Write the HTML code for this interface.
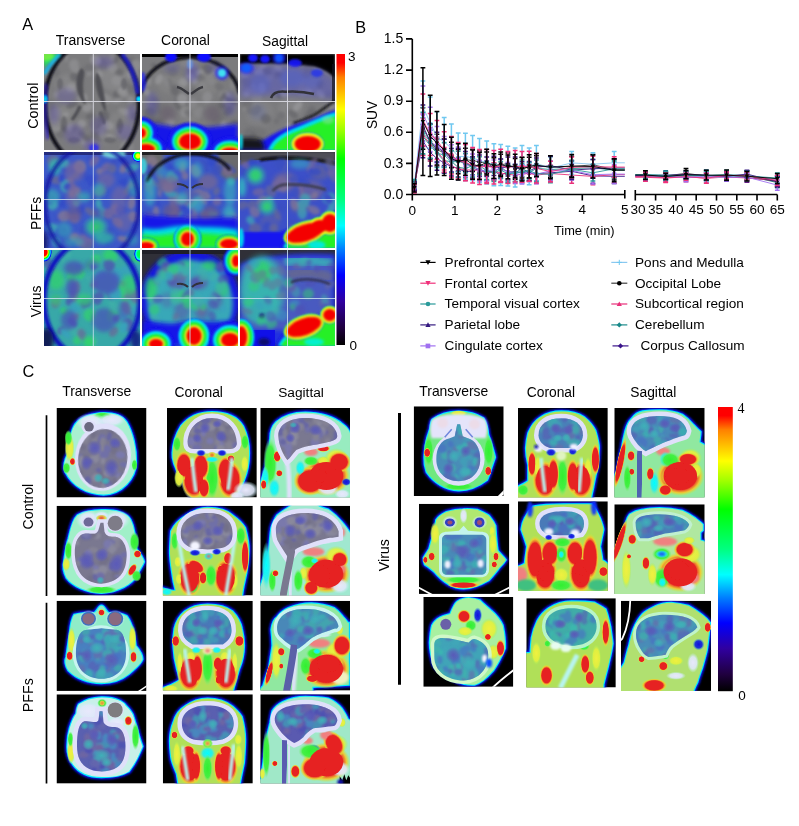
<!DOCTYPE html>
<html><head><meta charset="utf-8"><title>Figure</title>
<style>
html,body{margin:0;padding:0;background:#fff;}
body{width:799px;height:826px;overflow:hidden;}
svg{display:block;}
svg text{font-family:"Liberation Sans", Arial, sans-serif;fill:#000;}
</style></head><body>
<svg width="799" height="826" viewBox="0 0 799 826">
<defs>
<linearGradient id="cb" x1="0" y1="0" x2="0" y2="1"><stop offset="0.000" stop-color="#ff0000"/><stop offset="0.030" stop-color="#ff0000"/><stop offset="0.080" stop-color="#ff8000"/><stop offset="0.190" stop-color="#ffff00"/><stop offset="0.260" stop-color="#a0ff00"/><stop offset="0.360" stop-color="#00ff00"/><stop offset="0.500" stop-color="#00ff80"/><stop offset="0.590" stop-color="#00ffff"/><stop offset="0.670" stop-color="#0080ff"/><stop offset="0.760" stop-color="#0000ff"/><stop offset="0.850" stop-color="#3000a0"/><stop offset="0.940" stop-color="#200040"/><stop offset="1.000" stop-color="#000000"/></linearGradient>
<radialGradient id="jh"><stop offset="0" stop-color="#ff0000" stop-opacity="1"/><stop offset="0.38" stop-color="#ff0000" stop-opacity="1"/><stop offset="0.52" stop-color="#ffff00" stop-opacity="1"/><stop offset="0.64" stop-color="#00ff00" stop-opacity="1"/><stop offset="0.77" stop-color="#00ffff" stop-opacity="1"/><stop offset="0.9" stop-color="#0000ff" stop-opacity="1"/><stop offset="1" stop-color="#0000ff" stop-opacity="0"/></radialGradient>
<radialGradient id="jh2"><stop offset="0" stop-color="#ff0000" stop-opacity="1"/><stop offset="0.55" stop-color="#ff0000" stop-opacity="1"/><stop offset="0.68" stop-color="#ffff00" stop-opacity="1"/><stop offset="0.8" stop-color="#00ff00" stop-opacity="1"/><stop offset="0.9" stop-color="#00ffff" stop-opacity="0.8"/><stop offset="1" stop-color="#00ffff" stop-opacity="0"/></radialGradient>
<radialGradient id="jy"><stop offset="0" stop-color="#ffff00" stop-opacity="1"/><stop offset="0.3" stop-color="#ffff00" stop-opacity="1"/><stop offset="0.55" stop-color="#00ff00" stop-opacity="1"/><stop offset="0.75" stop-color="#00ffff" stop-opacity="1"/><stop offset="0.9" stop-color="#0000ff" stop-opacity="1"/><stop offset="1" stop-color="#0000ff" stop-opacity="0"/></radialGradient>
<radialGradient id="jg"><stop offset="0" stop-color="#00ff40" stop-opacity="1"/><stop offset="0.45" stop-color="#00ff60" stop-opacity="1"/><stop offset="0.7" stop-color="#00ffff" stop-opacity="1"/><stop offset="0.88" stop-color="#0000ff" stop-opacity="1"/><stop offset="1" stop-color="#0000ff" stop-opacity="0"/></radialGradient>
<radialGradient id="jg2"><stop offset="0" stop-color="#30d060" stop-opacity="0.9"/><stop offset="0.5" stop-color="#30c090" stop-opacity="0.8"/><stop offset="1" stop-color="#30b0b0" stop-opacity="0"/></radialGradient>
<radialGradient id="jc"><stop offset="0" stop-color="#00ffff" stop-opacity="1"/><stop offset="0.5" stop-color="#00c0ff" stop-opacity="0.9"/><stop offset="1" stop-color="#0040ff" stop-opacity="0"/></radialGradient>
<radialGradient id="jb"><stop offset="0" stop-color="#0000ff" stop-opacity="1"/><stop offset="0.6" stop-color="#0000ff" stop-opacity="0.8"/><stop offset="1" stop-color="#0000ff" stop-opacity="0"/></radialGradient>
<radialGradient id="jr"><stop offset="0" stop-color="#ff0000" stop-opacity="1"/><stop offset="0.6" stop-color="#ff0000" stop-opacity="1"/><stop offset="1" stop-color="#ff0000" stop-opacity="0"/></radialGradient>
<radialGradient id="jrs"><stop offset="0" stop-color="#e82020" stop-opacity="1"/><stop offset="0.55" stop-color="#e02020" stop-opacity="1"/><stop offset="0.8" stop-color="#f08030" stop-opacity="0.8"/><stop offset="1" stop-color="#f0c040" stop-opacity="0"/></radialGradient>
<filter id="b0_5" x="-30%" y="-30%" width="160%" height="160%"><feGaussianBlur stdDeviation="0.5"/></filter>
<filter id="b0_6" x="-30%" y="-30%" width="160%" height="160%"><feGaussianBlur stdDeviation="0.6"/></filter>
<filter id="b0_8" x="-30%" y="-30%" width="160%" height="160%"><feGaussianBlur stdDeviation="0.8"/></filter>
<filter id="b1" x="-30%" y="-30%" width="160%" height="160%"><feGaussianBlur stdDeviation="1"/></filter>
<filter id="b1_2" x="-30%" y="-30%" width="160%" height="160%"><feGaussianBlur stdDeviation="1.2"/></filter>
<filter id="b1_5" x="-30%" y="-30%" width="160%" height="160%"><feGaussianBlur stdDeviation="1.5"/></filter>
<filter id="b2" x="-30%" y="-30%" width="160%" height="160%"><feGaussianBlur stdDeviation="2"/></filter>
<filter id="b2_5" x="-30%" y="-30%" width="160%" height="160%"><feGaussianBlur stdDeviation="2.5"/></filter>
<filter id="b3" x="-30%" y="-30%" width="160%" height="160%"><feGaussianBlur stdDeviation="3"/></filter>
<filter id="b4" x="-30%" y="-30%" width="160%" height="160%"><feGaussianBlur stdDeviation="4"/></filter>
<clipPath id="c1"><rect x="0" y="0" width="96" height="96"/></clipPath>
<clipPath id="c2"><rect x="0" y="0" width="96" height="96"/></clipPath>
<clipPath id="c3"><rect x="0" y="0" width="95" height="96"/></clipPath>
<clipPath id="c4"><rect x="0" y="0" width="96" height="96"/></clipPath>
<clipPath id="c5"><rect x="0" y="0" width="96" height="96"/></clipPath>
<clipPath id="c6"><rect x="0" y="0" width="95" height="96"/></clipPath>
<clipPath id="c7"><rect x="0" y="0" width="96" height="96"/></clipPath>
<clipPath id="c8"><rect x="0" y="0" width="96" height="96"/></clipPath>
<clipPath id="c9"><rect x="0" y="0" width="95" height="96"/></clipPath>
<radialGradient id="gRY"><stop offset="0" stop-color="#e41c1c"/><stop offset="0.66" stop-color="#e82424"/><stop offset="0.84" stop-color="#f0c830" stop-opacity="0.95"/><stop offset="1" stop-color="#c0f040" stop-opacity="0"/></radialGradient>
<radialGradient id="gG"><stop offset="0" stop-color="#30f030"/><stop offset="0.66" stop-color="#40f040" stop-opacity="0.95"/><stop offset="1" stop-color="#80f080" stop-opacity="0"/></radialGradient>
<radialGradient id="gY"><stop offset="0" stop-color="#f0f040"/><stop offset="0.66" stop-color="#e0f040" stop-opacity="0.95"/><stop offset="1" stop-color="#a0f060" stop-opacity="0"/></radialGradient>
<radialGradient id="gL"><stop offset="0" stop-color="#e8e8fc"/><stop offset="0.6" stop-color="#e0e8fa" stop-opacity="0.9"/><stop offset="1" stop-color="#c0f0f0" stop-opacity="0"/></radialGradient>
<radialGradient id="gC"><stop offset="0" stop-color="#00ffff"/><stop offset="0.6" stop-color="#20f0f0" stop-opacity="0.9"/><stop offset="1" stop-color="#60f0c0" stop-opacity="0"/></radialGradient>
<radialGradient id="gB"><stop offset="0" stop-color="#1010e0"/><stop offset="0.6" stop-color="#1020e0" stop-opacity="0.9"/><stop offset="1" stop-color="#20a0f0" stop-opacity="0"/></radialGradient>
<radialGradient id="gP"><stop offset="0" stop-color="#5a5ab8"/><stop offset="0.5" stop-color="#5a5ab8" stop-opacity="0.7"/><stop offset="1" stop-color="#5a5ab8" stop-opacity="0"/></radialGradient>
<radialGradient id="gT"><stop offset="0" stop-color="#40b0b8"/><stop offset="0.5" stop-color="#40b0b8" stop-opacity="0.7"/><stop offset="1" stop-color="#40b0b8" stop-opacity="0"/></radialGradient>
<filter id="soft" x="-5%" y="-5%" width="110%" height="110%"><feGaussianBlur stdDeviation="0.7"/></filter>
<clipPath id="c10"><rect x="0" y="0" width="90" height="89.5"/></clipPath>
<clipPath id="bt1"><path d="M22.0 50.5A24.5 29.5 0 1 0 71.0 50.5A24.5 29.5 0 1 0 22.0 50.5Z"/></clipPath>
<clipPath id="c11"><rect x="0" y="0" width="89.8" height="89.5"/></clipPath>
<clipPath id="bt2"><path d="M20.8 36 C20 22 30 10 45 10 C60 10 70 22 69.8 36 C69 40 66 41 62 41 L28 41 C24 41 21 40 20.8 36Z"/></clipPath>
<clipPath id="c12"><rect x="0" y="0" width="89.7" height="89.5"/></clipPath>
<clipPath id="bt3"><path d="M18 28 C18 16 30 10 45 10 C62 10 76 16 77 28 C77 32 72 33 64 35 C54 37 44 38 36 42 C32 46 30 50 27 52 C23 46 19 40 18 28Z"/></clipPath>
<clipPath id="c13"><rect x="0" y="0" width="90" height="89.7"/></clipPath>
<clipPath id="bt4"><path d="M18.3 48 C18 36 22 28 29 27.7 C36 27.5 40 30 42 24 L44 17 L47 17 L48 26 C50 31 54 31 59 31 C66 32 70.5 40 70.1 50 C70 62 66 76 45 78 C24 77 19 62 18.3 48Z"/></clipPath>
<clipPath id="c14"><rect x="0" y="0" width="90" height="89.7"/></clipPath>
<clipPath id="bt5"><path d="M18 28 C18 14 30 7 44.8 7.2 C60 7 70 14 69.8 28 C69.6 36 66 40 60 42 C54 43 50 43.6 44.8 43.6 C38 43.6 30 43 26 41 C21 38 18 34 18 28Z"/></clipPath>
<clipPath id="c15"><rect x="0" y="0" width="89.7" height="89.7"/></clipPath>
<clipPath id="bt6"><path d="M15.6 24 C15 12 30 7.2 45.3 7.2 C60 7.2 74 12 78.3 25.4 L78.3 31 C74 32 70 32 68 32.2 C60 34 54 36 48.7 37.9 C42 40 36 42 33.9 44.8 C32 48 30 50 28 52 C24 46 20 40 17 34 C16 30 15.6 27 15.6 24Z"/></clipPath>
<clipPath id="c16"><rect x="0" y="0" width="90" height="90.1"/></clipPath>
<clipPath id="bt7"><path d="M19.4 53 C19.4 40 22 30 30 29 C36 28.5 40 28 45 27.5 C50 28 54 28.5 60 29 C67 30 69.5 40 69.5 53 C69.5 68 60 78 45 78 C30 78 19.4 68 19.4 53Z"/></clipPath>
<clipPath id="c17"><rect x="0" y="0" width="90" height="89.8"/></clipPath>
<clipPath id="bt8"><path d="M19.7 30 C19 16 30 9.5 44.8 9.5 C60 9.5 69 16 68.7 30 C68.5 36 66 40 60 43.6 L30 43.6 C23 40 20 36 19.7 30Z"/></clipPath>
<clipPath id="c18"><rect x="0" y="0" width="89.7" height="89.8"/></clipPath>
<clipPath id="bt9"><path d="M16.8 28.8 C16 14 30 8.3 45.3 8.3 C62 8.3 76 14 78.3 25.4 C77 28 76 28 74.9 27.7 C68 30 62 32 58.9 33.4 C52 36 48 40 45.3 42.5 C42 45 40 47 37.3 48.2 C32 46 26 42 22 38 C18 35 17 32 16.8 28.8Z"/></clipPath>
<clipPath id="c19"><rect x="0" y="0" width="90" height="89.3"/></clipPath>
<clipPath id="bt10"><path d="M20.5 52 C20.5 38 22 29 28 27 C34 26 40 30 42 26 L43 17 L46 17 L47 28 C49 32 54 33 58.7 32.7 C66 33 69 42 69 52 C69 66 64 77 45 77.1 C27 77 20.5 66 20.5 52Z"/></clipPath>
<clipPath id="c20"><rect x="0" y="0" width="90" height="89.3"/></clipPath>
<clipPath id="bt11"><path d="M19.1 29 C19 17 30 11.1 44.8 11.1 C60 11.1 70.9 17 70.9 29 C70.9 36 68 42 60 45 C54 46.5 50 46.4 44.8 46.4 C40 46.4 34 46 30 45 C22 42 19.1 36 19.1 29Z"/></clipPath>
<clipPath id="c21"><rect x="0" y="0" width="89.7" height="89.3"/></clipPath>
<clipPath id="bt12"><path d="M14.5 25.9 C14 14 30 10 45.3 10 C62 10 76 16 77.1 25.9 C76 30 75 31 73.7 31.6 C66 32.5 58 33 53.2 33.9 C48 37 45 40 43 43 C40 46 36 48 33.9 48.7 C28 46 22 40 18 34 C16 31 14.6 28 14.5 25.9Z"/></clipPath>
<clipPath id="c22"><rect x="0" y="0" width="90" height="89.7"/></clipPath>
<clipPath id="bt13"><path d="M22.6 53 C22.6 42 27 34 36 32 L41 30 L43.5 18 L46.5 18 L49 30 L54 32 C62 34 66.5 42 66.5 53 C66.5 66 58 74.9 44.9 74.9 C32 74.9 22.6 66 22.6 53Z"/></clipPath>
<clipPath id="c23"><rect x="0" y="0" width="89.8" height="89.5"/></clipPath>
<clipPath id="bt14"><path d="M20.5 27.3 C20.5 16 30 10.3 43.3 10.3 C56 10.3 64.9 16 64.9 27.3 C64.9 33 61 38 55 39.9 L32 39.9 C25 38 20.5 33 20.5 27.3Z"/></clipPath>
<clipPath id="c24"><rect x="0" y="0" width="90.4" height="89.5"/></clipPath>
<clipPath id="bt15"><path d="M16.8 22.8 C17 12 30 8 45.3 8 C60 8 70 12 72.6 22.8 C72 26 71 27 70.3 27.3 C64 29 60 30.5 56.7 31.9 C50 34 46 36 43 37.6 C38 40 34 42 31.6 43.3 C26 40 21 34 18 28 C17 26 16.8 24 16.8 22.8Z"/></clipPath>
<clipPath id="c25"><rect x="0" y="0" width="90.3" height="90.1"/></clipPath>
<clipPath id="bt16"><path d="M23 36 C23 33 25 31 28 31 L62 31 C65 31 67.3 33 67.3 36 L67.3 66 C67.3 69 65 71 62 71 L28 71 C25 71 23 69 23 66Z"/></clipPath>
<clipPath id="c26"><rect x="0" y="0" width="89.8" height="89.6"/></clipPath>
<clipPath id="bt17"><path d="M21.6 22.5 C21.6 13 32 10 45.6 10 C58 10 66 13 66 22.5 C66 27 64 30 62.6 31.6 C56 33 50 33.9 45.6 33.9 C40 33.9 34 33.5 28.5 32.7 C24 30 21.6 27 21.6 22.5Z"/></clipPath>
<clipPath id="c27"><rect x="0" y="0" width="90.4" height="89.6"/></clipPath>
<clipPath id="bt18"><path d="M21.3 18 C22 12 32 10 45.3 10 C60 10 72 14 74.9 20.2 C74 23 72 25 70.3 25.9 C63 27.5 56 28.5 50.9 29.3 C44 31 38 33 33.9 33.9 C30 34 27 34 25.9 33.9 C23 30 21.3 25 21.3 18Z"/></clipPath>
<clipPath id="c28"><rect x="0" y="0" width="90" height="89.8"/></clipPath>
<clipPath id="bt19"><path d="M11 48 C11 43 14 41 19 41 C28 41 38 44 45.3 45.6 C48 43 49 42 51 42.1 C58 44 65 48 65 58 C65 70 57 83 40 83.5 C24 83.5 11 74 11 60Z"/></clipPath>
<clipPath id="c29"><rect x="0" y="0" width="89.5" height="89.3"/></clipPath>
<clipPath id="bt20"><path d="M19.1 28.3 C19.1 16 30 10 45.3 10 C60 10 70.3 16 70.3 28.3 C70.3 38 62 47.6 45.3 47.6 C28 47.6 19.1 38 19.1 28.3Z"/></clipPath>
<clipPath id="c30"><rect x="0" y="0" width="90" height="90.1"/></clipPath>
<clipPath id="bt21"><path d="M15 33.4 C15 20 28 14 44.6 14 C62 14 74 18 76.4 26.5 C74 30 70 32 67.3 33.4 C60 38 54 42 50.3 44.8 C47 48 46 51 44.6 53.9 C38 55 32 56 27.5 56.1 C23 54 21 51 19.5 48.2 C16.5 44 15 38 15 33.4Z"/></clipPath>
</defs>
<rect x="0" y="0" width="799" height="826" fill="#fff"/>
<text x="22.3" y="29.6" font-size="16.3" text-anchor="start" >A</text>
<text x="355.3" y="33" font-size="16.3" text-anchor="start" >B</text>
<text x="22.6" y="376.8" font-size="16.3" text-anchor="start" >C</text>
<g transform="translate(44,54)"><g clip-path="url(#c1)"><rect x="0" y="0" width="96" height="96" fill="#7b7b7d"/>
<ellipse cx="25" cy="30" rx="14" ry="10" fill="#8a8a8c" opacity="0.6" filter="url(#b2)" />
<ellipse cx="70" cy="25" rx="14" ry="12" fill="#8c8c8e" opacity="0.6" filter="url(#b2)" />
<ellipse cx="20" cy="65" rx="12" ry="14" fill="#8a8a8a" opacity="0.5" filter="url(#b2)" />
<ellipse cx="75" cy="70" rx="14" ry="12" fill="#888889" opacity="0.5" filter="url(#b2)" />
<ellipse cx="48" cy="85" rx="20" ry="8" fill="#858587" opacity="0.5" filter="url(#b2)" />
<g filter="url(#b1_5)" opacity="0.7">
<ellipse cx="43.6" cy="53.5" rx="5.7" ry="4.1" fill="#9a9a9c" transform="rotate(154 43.6 53.5)"/>
<ellipse cx="19.5" cy="76.0" rx="4.2" ry="4.6" fill="#646467" transform="rotate(17 19.5 76.0)"/>
<ellipse cx="29.9" cy="10.3" rx="5.3" ry="4.9" fill="#929294" transform="rotate(107 29.9 10.3)"/>
<ellipse cx="38.4" cy="43.7" rx="5.1" ry="4.8" fill="#9a9a9c" transform="rotate(3 38.4 43.7)"/>
<ellipse cx="50.6" cy="7.5" rx="3.2" ry="3.3" fill="#929294" transform="rotate(140 50.6 7.5)"/>
<ellipse cx="32.0" cy="56.4" rx="3.2" ry="3.3" fill="#88888b" transform="rotate(90 32.0 56.4)"/>
<ellipse cx="62.9" cy="44.1" rx="3.5" ry="6.0" fill="#929294" transform="rotate(127 62.9 44.1)"/>
<ellipse cx="31.0" cy="23.1" rx="3.5" ry="2.7" fill="#929294" transform="rotate(72 31.0 23.1)"/>
<ellipse cx="79.9" cy="37.6" rx="5.9" ry="5.5" fill="#929294" transform="rotate(38 79.9 37.6)"/>
<ellipse cx="87.3" cy="6.8" rx="3.8" ry="5.0" fill="#6e6e72" transform="rotate(13 87.3 6.8)"/>
<ellipse cx="59.9" cy="73.6" rx="3.4" ry="2.8" fill="#88888b" transform="rotate(3 59.9 73.6)"/>
<ellipse cx="39.7" cy="86.9" rx="3.0" ry="5.0" fill="#929294" transform="rotate(11 39.7 86.9)"/>
<ellipse cx="75.3" cy="18.3" rx="4.5" ry="4.1" fill="#646467" transform="rotate(177 75.3 18.3)"/>
<ellipse cx="72.8" cy="40.6" rx="3.8" ry="3.9" fill="#646467" transform="rotate(0 72.8 40.6)"/>
<ellipse cx="81.5" cy="91.7" rx="4.6" ry="6.0" fill="#929294" transform="rotate(38 81.5 91.7)"/>
<ellipse cx="38.3" cy="80.6" rx="4.7" ry="2.9" fill="#646467" transform="rotate(38 38.3 80.6)"/>
<ellipse cx="25.8" cy="73.1" rx="3.7" ry="3.5" fill="#929294" transform="rotate(13 25.8 73.1)"/>
<ellipse cx="21.2" cy="60.6" rx="2.6" ry="3.8" fill="#9a9a9c" transform="rotate(82 21.2 60.6)"/>
<ellipse cx="90.2" cy="46.5" rx="4.5" ry="5.5" fill="#646467" transform="rotate(113 90.2 46.5)"/>
<ellipse cx="30.6" cy="23.0" rx="4.6" ry="5.0" fill="#646467" transform="rotate(133 30.6 23.0)"/>
<ellipse cx="88.5" cy="20.1" rx="5.8" ry="5.6" fill="#9a9a9c" transform="rotate(14 88.5 20.1)"/>
<ellipse cx="6.4" cy="12.0" rx="4.3" ry="3.4" fill="#6e6e72" transform="rotate(46 6.4 12.0)"/>
<ellipse cx="77.8" cy="56.9" rx="3.5" ry="3.1" fill="#929294" transform="rotate(23 77.8 56.9)"/>
<ellipse cx="46.1" cy="62.1" rx="4.7" ry="2.8" fill="#646467" transform="rotate(165 46.1 62.1)"/>
<ellipse cx="20.8" cy="3.5" rx="3.4" ry="4.1" fill="#929294" transform="rotate(8 20.8 3.5)"/>
<ellipse cx="27.9" cy="50.9" rx="5.9" ry="2.8" fill="#646467" transform="rotate(160 27.9 50.9)"/>
<ellipse cx="92.2" cy="62.4" rx="4.9" ry="4.5" fill="#646467" transform="rotate(106 92.2 62.4)"/>
<ellipse cx="87.0" cy="45.7" rx="3.8" ry="3.6" fill="#929294" transform="rotate(4 87.0 45.7)"/>
<ellipse cx="60.5" cy="46.4" rx="5.1" ry="3.6" fill="#929294" transform="rotate(14 60.5 46.4)"/>
<ellipse cx="52.2" cy="69.8" rx="5.7" ry="5.1" fill="#646467" transform="rotate(143 52.2 69.8)"/>
<ellipse cx="86.2" cy="34.4" rx="4.9" ry="5.7" fill="#6e6e72" transform="rotate(170 86.2 34.4)"/>
<ellipse cx="4.8" cy="48.0" rx="2.6" ry="4.8" fill="#6e6e72" transform="rotate(105 4.8 48.0)"/>
<ellipse cx="58.0" cy="9.4" rx="4.7" ry="6.0" fill="#6e6e72" transform="rotate(131 58.0 9.4)"/>
<ellipse cx="37.7" cy="69.6" rx="4.5" ry="4.0" fill="#9a9a9c" transform="rotate(15 37.7 69.6)"/>
<ellipse cx="71.0" cy="4.7" rx="4.6" ry="4.2" fill="#646467" transform="rotate(172 71.0 4.7)"/>
<ellipse cx="12.4" cy="73.8" rx="4.8" ry="4.2" fill="#929294" transform="rotate(66 12.4 73.8)"/>
<ellipse cx="15.2" cy="58.3" rx="4.3" ry="5.1" fill="#88888b" transform="rotate(119 15.2 58.3)"/>
<ellipse cx="42.7" cy="84.0" rx="3.6" ry="4.8" fill="#646467" transform="rotate(114 42.7 84.0)"/>
<ellipse cx="75.9" cy="71.4" rx="3.2" ry="3.2" fill="#646467" transform="rotate(105 75.9 71.4)"/>
<ellipse cx="31.1" cy="14.5" rx="4.2" ry="5.4" fill="#929294" transform="rotate(128 31.1 14.5)"/>
<ellipse cx="89.4" cy="27.5" rx="3.1" ry="4.1" fill="#88888b" transform="rotate(167 89.4 27.5)"/>
<ellipse cx="78.4" cy="37.2" rx="4.3" ry="4.9" fill="#9a9a9c" transform="rotate(81 78.4 37.2)"/>
<ellipse cx="8.9" cy="4.9" rx="5.6" ry="2.6" fill="#88888b" transform="rotate(103 8.9 4.9)"/>
<ellipse cx="30.4" cy="74.8" rx="2.6" ry="3.0" fill="#6e6e72" transform="rotate(34 30.4 74.8)"/>
<ellipse cx="72.8" cy="26.5" rx="5.2" ry="5.3" fill="#929294" transform="rotate(80 72.8 26.5)"/>
<ellipse cx="60.0" cy="62.3" rx="5.3" ry="5.9" fill="#646467" transform="rotate(36 60.0 62.3)"/>
<ellipse cx="45.7" cy="18.4" rx="2.5" ry="4.2" fill="#929294" transform="rotate(32 45.7 18.4)"/>
<ellipse cx="27.1" cy="33.8" rx="4.9" ry="4.3" fill="#9a9a9c" transform="rotate(179 27.1 33.8)"/>
<ellipse cx="16.6" cy="80.1" rx="4.9" ry="3.3" fill="#6e6e72" transform="rotate(168 16.6 80.1)"/>
<ellipse cx="68.5" cy="14.0" rx="4.1" ry="4.7" fill="#929294" transform="rotate(68 68.5 14.0)"/>
<ellipse cx="54.3" cy="82.9" rx="5.3" ry="5.8" fill="#6e6e72" transform="rotate(59 54.3 82.9)"/>
<ellipse cx="92.4" cy="11.1" rx="5.5" ry="5.3" fill="#929294" transform="rotate(38 92.4 11.1)"/>
<ellipse cx="84.8" cy="92.2" rx="5.9" ry="4.4" fill="#88888b" transform="rotate(47 84.8 92.2)"/>
<ellipse cx="68.1" cy="3.4" rx="4.3" ry="2.6" fill="#88888b" transform="rotate(99 68.1 3.4)"/>
<ellipse cx="72.7" cy="46.8" rx="2.6" ry="5.3" fill="#929294" transform="rotate(77 72.7 46.8)"/>
<ellipse cx="5.2" cy="51.0" rx="4.9" ry="5.7" fill="#6e6e72" transform="rotate(27 5.2 51.0)"/>
<ellipse cx="49.5" cy="68.6" rx="5.4" ry="4.9" fill="#6e6e72" transform="rotate(104 49.5 68.6)"/>
<ellipse cx="65.4" cy="71.7" rx="4.0" ry="4.5" fill="#9a9a9c" transform="rotate(115 65.4 71.7)"/>
<ellipse cx="50.1" cy="79.6" rx="4.5" ry="3.6" fill="#6e6e72" transform="rotate(172 50.1 79.6)"/>
<ellipse cx="82.0" cy="58.1" rx="3.6" ry="3.0" fill="#9a9a9c" transform="rotate(94 82.0 58.1)"/>
<ellipse cx="54.7" cy="20.5" rx="4.4" ry="4.3" fill="#9a9a9c" transform="rotate(68 54.7 20.5)"/>
<ellipse cx="51.5" cy="6.0" rx="5.7" ry="4.4" fill="#9a9a9c" transform="rotate(22 51.5 6.0)"/>
<ellipse cx="10.6" cy="17.3" rx="5.8" ry="4.1" fill="#6e6e72" transform="rotate(48 10.6 17.3)"/>
<ellipse cx="45.5" cy="13.7" rx="4.0" ry="5.4" fill="#6e6e72" transform="rotate(94 45.5 13.7)"/>
<ellipse cx="12.0" cy="40.6" rx="2.6" ry="3.4" fill="#929294" transform="rotate(6 12.0 40.6)"/>
<ellipse cx="16.3" cy="3.1" rx="3.5" ry="5.0" fill="#646467" transform="rotate(112 16.3 3.1)"/>
<ellipse cx="11.6" cy="69.2" rx="2.9" ry="4.3" fill="#88888b" transform="rotate(129 11.6 69.2)"/>
<ellipse cx="66.5" cy="82.8" rx="2.6" ry="4.7" fill="#9a9a9c" transform="rotate(111 66.5 82.8)"/>
<ellipse cx="51.5" cy="81.5" rx="4.4" ry="3.3" fill="#646467" transform="rotate(153 51.5 81.5)"/>
<ellipse cx="58.3" cy="80.8" rx="3.3" ry="5.1" fill="#88888b" transform="rotate(162 58.3 80.8)"/>
</g>
<path d="M37 14 C31 22 31 34 36 44 C38 48 40 50 42 50 C40 44 38 34 40 22 C41 18 40 15 37 14Z" fill="#505054" stroke="none" stroke-width="1" opacity="1" filter="url(#b1)" />
<path d="M36 52 C34 58 31 62 28 66" fill="none" stroke="#4e4e52" stroke-width="3.5" opacity="1" filter="url(#b1)" />
<path d="M52 18 C50 26 52 36 56 46 C58 52 60 56 62 58 C62 50 60 40 58 30 C57 24 55 20 52 18Z" fill="#505054" stroke="none" stroke-width="1" opacity="1" filter="url(#b1)" />
<path d="M56 58 C58 62 60 66 60 70" fill="none" stroke="#58585c" stroke-width="3" opacity="1" filter="url(#b1)" />
<ellipse cx="20" cy="70" rx="3" ry="8" fill="#5a5a60" opacity="0.6" filter="url(#b1)" />
<ellipse cx="76" cy="72" rx="3" ry="8" fill="#5a5a60" opacity="0.6" filter="url(#b1)" />
<ellipse cx="16" cy="30" rx="3" ry="6" fill="#5a5a60" opacity="0.6" filter="url(#b1)" />
<ellipse cx="80" cy="30" rx="3" ry="6" fill="#5a5a60" opacity="0.6" filter="url(#b1)" />
<ellipse cx="30" cy="86" rx="6" ry="3" fill="#5a5a60" opacity="0.6" filter="url(#b1)" />
<ellipse cx="66" cy="86" rx="6" ry="3" fill="#5a5a60" opacity="0.6" filter="url(#b1)" />
<ellipse cx="22" cy="42" rx="10" ry="8" fill="#5a48c0" opacity="0.25" filter="url(#b2_5)" />
<ellipse cx="30" cy="80" rx="10" ry="10" fill="#5a48c0" opacity="0.3" filter="url(#b2_5)" />
<ellipse cx="55" cy="72" rx="8" ry="10" fill="#5a48c0" opacity="0.25" filter="url(#b2_5)" />
<ellipse cx="82" cy="78" rx="9" ry="8" fill="#5a48c0" opacity="0.3" filter="url(#b2_5)" />
<ellipse cx="48" cy="92" rx="8" ry="6" fill="#5a48c0" opacity="0.45" filter="url(#b2_5)" />
<ellipse cx="60" cy="8" rx="10" ry="6" fill="#5a48c0" opacity="0.3" filter="url(#b2_5)" />
<ellipse cx="10" cy="60" rx="5" ry="10" fill="#5a48c0" opacity="0.3" filter="url(#b2_5)" />
<ellipse cx="88" cy="60" rx="5" ry="10" fill="#5a48c0" opacity="0.3" filter="url(#b2_5)" />
<ellipse cx="48" cy="50" rx="47" ry="62" fill="none" opacity="1" filter="url(#b1)" stroke="#0c0c18" stroke-width="4"/>
<path d="M78 0 C86 10 92 25 94 40" fill="none" stroke="#2020e0" stroke-width="4" opacity="0.9" filter="url(#b1_5)" />
<path d="M2 30 C0 50 1 70 4 85" fill="none" stroke="#3020c0" stroke-width="4" opacity="0.7" filter="url(#b1_5)" />
<ellipse cx="95" cy="45" rx="4" ry="4" fill="url(#jc)" opacity="1" />
<ellipse cx="1" cy="45" rx="4" ry="6" fill="url(#jc)" opacity="0.8" />
<path d="M0 0 L16 0 C12 4 6 8 0 14Z" fill="#20e060" stroke="none" stroke-width="1" opacity="1" filter="url(#b1_5)" />
<ellipse cx="2" cy="2" rx="8" ry="5" fill="#80f040" opacity="0.8" filter="url(#b1_5)" />
<path d="M16 0 C10 6 5 12 0 20" fill="none" stroke="#00c0ff" stroke-width="3" opacity="1" filter="url(#b1_5)" />
<ellipse cx="50" cy="94" rx="5" ry="4" fill="#2020ff" opacity="0.7" filter="url(#b1)" />
<path d="M49.3 0V96M0 47.5H96" stroke="#e0e0e8" stroke-width="1" opacity="0.85"/>
</g></g>
<g transform="translate(142,54)"><g clip-path="url(#c2)"><rect x="0" y="0" width="96" height="96" fill="#7b7b7d"/>
<rect x="0" y="0" width="96" height="3" fill="#000"/>
<ellipse cx="30" cy="30" rx="14" ry="10" fill="#888" opacity="0.5" filter="url(#b2)" />
<ellipse cx="66" cy="30" rx="14" ry="10" fill="#888" opacity="0.5" filter="url(#b2)" />
<ellipse cx="20" cy="58" rx="10" ry="10" fill="#707072" opacity="0.6" filter="url(#b2)" />
<ellipse cx="76" cy="58" rx="10" ry="10" fill="#707072" opacity="0.6" filter="url(#b2)" />
<ellipse cx="48" cy="60" rx="10" ry="12" fill="#858585" opacity="0.5" filter="url(#b2)" />
<g filter="url(#b1_5)" opacity="0.7">
<ellipse cx="45.7" cy="49.4" rx="4.8" ry="3.0" fill="#929294" transform="rotate(179 45.7 49.4)"/>
<ellipse cx="46.4" cy="48.5" rx="4.1" ry="5.5" fill="#646467" transform="rotate(100 46.4 48.5)"/>
<ellipse cx="62.8" cy="15.6" rx="4.0" ry="3.1" fill="#646467" transform="rotate(11 62.8 15.6)"/>
<ellipse cx="77.3" cy="10.9" rx="4.9" ry="3.7" fill="#6e6e72" transform="rotate(144 77.3 10.9)"/>
<ellipse cx="10.0" cy="66.6" rx="5.4" ry="4.8" fill="#646467" transform="rotate(16 10.0 66.6)"/>
<ellipse cx="92.8" cy="68.5" rx="2.9" ry="4.0" fill="#646467" transform="rotate(97 92.8 68.5)"/>
<ellipse cx="83.1" cy="42.8" rx="5.9" ry="5.6" fill="#9a9a9c" transform="rotate(31 83.1 42.8)"/>
<ellipse cx="77.0" cy="32.4" rx="4.0" ry="4.6" fill="#6e6e72" transform="rotate(110 77.0 32.4)"/>
<ellipse cx="51.8" cy="48.3" rx="2.8" ry="3.2" fill="#88888b" transform="rotate(64 51.8 48.3)"/>
<ellipse cx="35.4" cy="51.5" rx="4.9" ry="2.9" fill="#646467" transform="rotate(60 35.4 51.5)"/>
<ellipse cx="36.2" cy="43.8" rx="5.2" ry="3.1" fill="#6e6e72" transform="rotate(148 36.2 43.8)"/>
<ellipse cx="41.6" cy="40.3" rx="3.3" ry="4.0" fill="#6e6e72" transform="rotate(37 41.6 40.3)"/>
<ellipse cx="57.9" cy="55.7" rx="3.3" ry="2.8" fill="#88888b" transform="rotate(7 57.9 55.7)"/>
<ellipse cx="27.4" cy="28.7" rx="4.7" ry="2.7" fill="#6e6e72" transform="rotate(66 27.4 28.7)"/>
<ellipse cx="33.2" cy="36.1" rx="4.9" ry="5.5" fill="#646467" transform="rotate(172 33.2 36.1)"/>
<ellipse cx="17.4" cy="67.0" rx="3.8" ry="3.2" fill="#646467" transform="rotate(164 17.4 67.0)"/>
<ellipse cx="2.6" cy="23.7" rx="5.2" ry="3.7" fill="#646467" transform="rotate(143 2.6 23.7)"/>
<ellipse cx="48.1" cy="22.3" rx="2.9" ry="3.8" fill="#9a9a9c" transform="rotate(91 48.1 22.3)"/>
<ellipse cx="4.2" cy="27.3" rx="5.3" ry="5.4" fill="#929294" transform="rotate(41 4.2 27.3)"/>
<ellipse cx="50.5" cy="37.5" rx="4.7" ry="3.4" fill="#6e6e72" transform="rotate(161 50.5 37.5)"/>
<ellipse cx="16.9" cy="25.2" rx="5.6" ry="3.5" fill="#9a9a9c" transform="rotate(115 16.9 25.2)"/>
<ellipse cx="42.9" cy="58.3" rx="5.1" ry="4.3" fill="#929294" transform="rotate(123 42.9 58.3)"/>
<ellipse cx="65.9" cy="14.7" rx="5.6" ry="4.0" fill="#646467" transform="rotate(36 65.9 14.7)"/>
<ellipse cx="45.4" cy="9.9" rx="4.5" ry="5.0" fill="#88888b" transform="rotate(137 45.4 9.9)"/>
<ellipse cx="40.4" cy="44.8" rx="5.7" ry="5.3" fill="#9a9a9c" transform="rotate(100 40.4 44.8)"/>
<ellipse cx="92.2" cy="48.1" rx="3.8" ry="3.1" fill="#646467" transform="rotate(163 92.2 48.1)"/>
<ellipse cx="75.4" cy="65.2" rx="5.7" ry="4.4" fill="#6e6e72" transform="rotate(143 75.4 65.2)"/>
<ellipse cx="67.3" cy="18.5" rx="3.4" ry="5.3" fill="#9a9a9c" transform="rotate(89 67.3 18.5)"/>
<ellipse cx="58.2" cy="20.0" rx="4.6" ry="4.9" fill="#9a9a9c" transform="rotate(44 58.2 20.0)"/>
<ellipse cx="39.4" cy="27.4" rx="4.9" ry="3.0" fill="#929294" transform="rotate(130 39.4 27.4)"/>
<ellipse cx="30.6" cy="17.9" rx="4.9" ry="4.7" fill="#6e6e72" transform="rotate(66 30.6 17.9)"/>
<ellipse cx="4.7" cy="38.2" rx="4.1" ry="3.1" fill="#9a9a9c" transform="rotate(61 4.7 38.2)"/>
<ellipse cx="23.9" cy="27.6" rx="5.8" ry="2.5" fill="#88888b" transform="rotate(66 23.9 27.6)"/>
<ellipse cx="80.1" cy="51.4" rx="3.5" ry="4.3" fill="#646467" transform="rotate(90 80.1 51.4)"/>
<ellipse cx="66.2" cy="16.7" rx="4.1" ry="4.6" fill="#646467" transform="rotate(83 66.2 16.7)"/>
<ellipse cx="74.3" cy="9.2" rx="5.2" ry="3.9" fill="#6e6e72" transform="rotate(94 74.3 9.2)"/>
<ellipse cx="42.5" cy="9.4" rx="2.9" ry="4.5" fill="#88888b" transform="rotate(63 42.5 9.4)"/>
<ellipse cx="69.4" cy="27.3" rx="4.2" ry="3.8" fill="#88888b" transform="rotate(31 69.4 27.3)"/>
<ellipse cx="45.9" cy="58.9" rx="3.0" ry="4.2" fill="#6e6e72" transform="rotate(145 45.9 58.9)"/>
<ellipse cx="28.3" cy="67.8" rx="4.6" ry="3.9" fill="#9a9a9c" transform="rotate(58 28.3 67.8)"/>
<ellipse cx="13.6" cy="48.3" rx="5.4" ry="4.6" fill="#6e6e72" transform="rotate(74 13.6 48.3)"/>
<ellipse cx="58.8" cy="23.4" rx="3.9" ry="3.8" fill="#6e6e72" transform="rotate(169 58.8 23.4)"/>
<ellipse cx="77.0" cy="18.1" rx="5.3" ry="5.4" fill="#929294" transform="rotate(175 77.0 18.1)"/>
<ellipse cx="50.1" cy="9.5" rx="5.4" ry="5.6" fill="#88888b" transform="rotate(176 50.1 9.5)"/>
<ellipse cx="86.2" cy="56.9" rx="5.5" ry="3.6" fill="#646467" transform="rotate(135 86.2 56.9)"/>
<ellipse cx="81.1" cy="42.7" rx="2.6" ry="5.3" fill="#646467" transform="rotate(29 81.1 42.7)"/>
<ellipse cx="67.9" cy="25.6" rx="3.2" ry="3.1" fill="#88888b" transform="rotate(98 67.9 25.6)"/>
<ellipse cx="4.0" cy="66.1" rx="3.8" ry="4.2" fill="#646467" transform="rotate(81 4.0 66.1)"/>
<ellipse cx="50.5" cy="49.0" rx="5.3" ry="4.3" fill="#88888b" transform="rotate(84 50.5 49.0)"/>
<ellipse cx="60.3" cy="31.6" rx="4.0" ry="4.3" fill="#88888b" transform="rotate(4 60.3 31.6)"/>
<ellipse cx="16.3" cy="56.0" rx="3.8" ry="2.9" fill="#6e6e72" transform="rotate(99 16.3 56.0)"/>
<ellipse cx="90.6" cy="30.7" rx="2.8" ry="5.7" fill="#88888b" transform="rotate(11 90.6 30.7)"/>
<ellipse cx="11.9" cy="11.6" rx="2.7" ry="2.5" fill="#646467" transform="rotate(6 11.9 11.6)"/>
<ellipse cx="65.2" cy="43.3" rx="5.7" ry="5.0" fill="#929294" transform="rotate(107 65.2 43.3)"/>
<ellipse cx="56.0" cy="59.0" rx="4.7" ry="4.1" fill="#88888b" transform="rotate(76 56.0 59.0)"/>
<ellipse cx="52.0" cy="26.9" rx="3.3" ry="2.8" fill="#9a9a9c" transform="rotate(61 52.0 26.9)"/>
<ellipse cx="7.4" cy="58.6" rx="4.9" ry="6.0" fill="#646467" transform="rotate(54 7.4 58.6)"/>
<ellipse cx="87.0" cy="45.6" rx="4.8" ry="2.5" fill="#646467" transform="rotate(22 87.0 45.6)"/>
<ellipse cx="42.1" cy="28.4" rx="3.9" ry="3.6" fill="#9a9a9c" transform="rotate(69 42.1 28.4)"/>
<ellipse cx="81.3" cy="71.3" rx="4.2" ry="3.2" fill="#9a9a9c" transform="rotate(114 81.3 71.3)"/>
</g>
<path d="M-2 40 C2 18 22 4 48 3 C74 4 94 18 98 40" fill="none" stroke="#0c0c14" stroke-width="3.5" opacity="1" filter="url(#b0_8)" />
<path d="M35 33 C40 34 44 38 47 40 M49 40 C52 38 56 34 61 33" fill="none" stroke="#3a3a40" stroke-width="2.5" opacity="1" filter="url(#b0_6)" />
<ellipse cx="26" cy="60" rx="8" ry="8" fill="#6a6070" opacity="0.6" filter="url(#b2)" />
<ellipse cx="70" cy="60" rx="8" ry="8" fill="#6a6070" opacity="0.6" filter="url(#b2)" />
<ellipse cx="50" cy="18" rx="6" ry="10" fill="#4a40c8" opacity="0.4" filter="url(#b2_5)" />
<ellipse cx="30" cy="14" rx="8" ry="5" fill="#4a40c8" opacity="0.2" filter="url(#b2_5)" />
<ellipse cx="72" cy="14" rx="8" ry="5" fill="#4a40c8" opacity="0.2" filter="url(#b2_5)" />
<ellipse cx="10" cy="50" rx="6" ry="12" fill="#4a40c8" opacity="0.3" filter="url(#b2_5)" />
<ellipse cx="88" cy="50" rx="6" ry="12" fill="#4a40c8" opacity="0.3" filter="url(#b2_5)" />
<ellipse cx="29" cy="3" rx="6" ry="5" fill="#1010ff" opacity="1" filter="url(#b1)" />
<ellipse cx="62" cy="3" rx="7" ry="5" fill="#1010ff" opacity="1" filter="url(#b1)" />
<ellipse cx="80" cy="19" rx="7" ry="7" fill="#2020ff" opacity="0.7" filter="url(#b1_5)" />
<ellipse cx="80" cy="19" rx="4" ry="4" fill="#40e0f0" opacity="1" filter="url(#b1)" />
<ellipse cx="48" cy="10" rx="3" ry="5" fill="#60a0ff" opacity="0.6" filter="url(#b1)" />
<ellipse cx="1" cy="28" rx="3" ry="10" fill="#2020ff" opacity="0.7" filter="url(#b1)" />
<path d="M0 68 C20 70 30 74 48 74 C66 74 80 72 96 70 L96 96 L0 96Z" fill="#1616e8" stroke="none" stroke-width="1" opacity="1" filter="url(#b2)" />
<ellipse cx="48" cy="87.5" rx="22.0" ry="19.0" fill="#1414f0" opacity="1" filter="url(#b1)" />
<ellipse cx="4" cy="95" rx="20.0" ry="16.0" fill="#1414f0" opacity="1" filter="url(#b1)" />
<ellipse cx="0" cy="79" rx="15.0" ry="16.0" fill="#1414f0" opacity="1" filter="url(#b1)" />
<ellipse cx="88" cy="97.5" rx="20.0" ry="15.0" fill="#1414f0" opacity="1" filter="url(#b1)" />
<ellipse cx="48" cy="87.5" rx="18.0" ry="15.0" fill="#00e8f0" opacity="1" filter="url(#b1)" />
<ellipse cx="4" cy="95" rx="16.0" ry="12.0" fill="#00e8f0" opacity="1" filter="url(#b1)" />
<ellipse cx="0" cy="79" rx="11.0" ry="12.0" fill="#00e8f0" opacity="1" filter="url(#b1)" />
<ellipse cx="88" cy="97.5" rx="16.0" ry="11.0" fill="#00e8f0" opacity="1" filter="url(#b1)" />
<ellipse cx="48" cy="87.5" rx="15.5" ry="12.5" fill="#28f028" opacity="1" filter="url(#b1)" />
<ellipse cx="4" cy="95" rx="13.5" ry="9.5" fill="#28f028" opacity="1" filter="url(#b1)" />
<ellipse cx="0" cy="79" rx="8.5" ry="9.5" fill="#28f028" opacity="1" filter="url(#b1)" />
<ellipse cx="88" cy="97.5" rx="13.5" ry="8.5" fill="#28f028" opacity="1" filter="url(#b1)" />
<ellipse cx="48" cy="87.5" rx="12.5" ry="9.5" fill="#f0f020" opacity="1" filter="url(#b1)" />
<ellipse cx="4" cy="95" rx="10.5" ry="6.5" fill="#f0f020" opacity="1" filter="url(#b1)" />
<ellipse cx="0" cy="79" rx="5.5" ry="6.5" fill="#f0f020" opacity="1" filter="url(#b1)" />
<ellipse cx="88" cy="97.5" rx="10.5" ry="5.5" fill="#f0f020" opacity="1" filter="url(#b1)" />
<ellipse cx="48" cy="87.5" rx="11.0" ry="8.0" fill="#f40000" opacity="1" filter="url(#b1)" />
<ellipse cx="4" cy="95" rx="9.0" ry="5.0" fill="#f40000" opacity="1" filter="url(#b1)" />
<ellipse cx="0" cy="79" rx="4.0" ry="5.0" fill="#f40000" opacity="1" filter="url(#b1)" />
<ellipse cx="88" cy="97.5" rx="9.0" ry="4.0" fill="#f40000" opacity="1" filter="url(#b1)" />
<path d="M48 0V96M0 48H96" stroke="#e0e0e8" stroke-width="1" opacity="0.85"/>
</g></g>
<g transform="translate(240,54)"><g clip-path="url(#c3)"><rect x="0" y="0" width="95" height="96" fill="#7b7b7d"/>
<ellipse cx="20" cy="60" rx="14" ry="14" fill="#858587" opacity="0.6" filter="url(#b2)" />
<ellipse cx="50" cy="55" rx="12" ry="10" fill="#8a8a8c" opacity="0.5" filter="url(#b2)" />
<ellipse cx="70" cy="30" rx="14" ry="8" fill="#888" opacity="0.5" filter="url(#b2)" />
<ellipse cx="15" cy="80" rx="12" ry="8" fill="#707072" opacity="0.6" filter="url(#b2)" />
<g filter="url(#b1_5)" opacity="0.7">
<ellipse cx="25.8" cy="64.8" rx="4.9" ry="5.5" fill="#646467" transform="rotate(117 25.8 64.8)"/>
<ellipse cx="63.3" cy="79.5" rx="4.7" ry="3.2" fill="#929294" transform="rotate(96 63.3 79.5)"/>
<ellipse cx="21.7" cy="33.6" rx="4.0" ry="5.4" fill="#9a9a9c" transform="rotate(180 21.7 33.6)"/>
<ellipse cx="93.4" cy="76.8" rx="2.8" ry="5.3" fill="#88888b" transform="rotate(149 93.4 76.8)"/>
<ellipse cx="70.5" cy="85.9" rx="5.3" ry="3.4" fill="#646467" transform="rotate(88 70.5 85.9)"/>
<ellipse cx="71.5" cy="55.1" rx="4.0" ry="3.8" fill="#6e6e72" transform="rotate(115 71.5 55.1)"/>
<ellipse cx="62.3" cy="37.7" rx="4.6" ry="4.7" fill="#88888b" transform="rotate(124 62.3 37.7)"/>
<ellipse cx="53.0" cy="69.9" rx="3.0" ry="4.9" fill="#6e6e72" transform="rotate(96 53.0 69.9)"/>
<ellipse cx="29.0" cy="24.4" rx="3.7" ry="3.8" fill="#88888b" transform="rotate(109 29.0 24.4)"/>
<ellipse cx="38.4" cy="20.5" rx="4.2" ry="3.3" fill="#646467" transform="rotate(160 38.4 20.5)"/>
<ellipse cx="66.5" cy="20.5" rx="4.0" ry="4.7" fill="#6e6e72" transform="rotate(70 66.5 20.5)"/>
<ellipse cx="68.1" cy="84.6" rx="2.7" ry="3.0" fill="#6e6e72" transform="rotate(115 68.1 84.6)"/>
<ellipse cx="16.7" cy="43.1" rx="5.5" ry="5.6" fill="#88888b" transform="rotate(37 16.7 43.1)"/>
<ellipse cx="80.5" cy="40.0" rx="5.0" ry="3.0" fill="#9a9a9c" transform="rotate(43 80.5 40.0)"/>
<ellipse cx="47.7" cy="78.9" rx="2.6" ry="5.0" fill="#929294" transform="rotate(65 47.7 78.9)"/>
<ellipse cx="68.9" cy="37.3" rx="3.5" ry="3.1" fill="#9a9a9c" transform="rotate(20 68.9 37.3)"/>
<ellipse cx="22.8" cy="15.5" rx="4.8" ry="4.4" fill="#9a9a9c" transform="rotate(125 22.8 15.5)"/>
<ellipse cx="91.3" cy="76.0" rx="4.8" ry="4.3" fill="#646467" transform="rotate(180 91.3 76.0)"/>
<ellipse cx="13.2" cy="34.1" rx="3.4" ry="4.6" fill="#929294" transform="rotate(169 13.2 34.1)"/>
<ellipse cx="50.0" cy="78.1" rx="2.6" ry="3.6" fill="#646467" transform="rotate(89 50.0 78.1)"/>
<ellipse cx="91.2" cy="51.3" rx="4.2" ry="4.8" fill="#88888b" transform="rotate(144 91.2 51.3)"/>
<ellipse cx="36.6" cy="67.1" rx="3.0" ry="3.0" fill="#6e6e72" transform="rotate(123 36.6 67.1)"/>
<ellipse cx="80.1" cy="30.7" rx="4.6" ry="3.7" fill="#646467" transform="rotate(107 80.1 30.7)"/>
<ellipse cx="41.4" cy="61.3" rx="4.0" ry="3.6" fill="#6e6e72" transform="rotate(16 41.4 61.3)"/>
<ellipse cx="71.7" cy="58.0" rx="2.5" ry="5.2" fill="#646467" transform="rotate(81 71.7 58.0)"/>
<ellipse cx="93.2" cy="41.2" rx="2.7" ry="4.3" fill="#646467" transform="rotate(27 93.2 41.2)"/>
<ellipse cx="6.8" cy="39.5" rx="3.0" ry="3.6" fill="#9a9a9c" transform="rotate(70 6.8 39.5)"/>
<ellipse cx="5.1" cy="20.3" rx="3.8" ry="4.0" fill="#9a9a9c" transform="rotate(178 5.1 20.3)"/>
<ellipse cx="6.0" cy="52.8" rx="3.0" ry="5.3" fill="#88888b" transform="rotate(30 6.0 52.8)"/>
<ellipse cx="83.6" cy="69.2" rx="5.7" ry="5.6" fill="#646467" transform="rotate(16 83.6 69.2)"/>
<ellipse cx="87.7" cy="15.6" rx="3.4" ry="5.4" fill="#929294" transform="rotate(129 87.7 15.6)"/>
<ellipse cx="63.3" cy="84.8" rx="4.3" ry="5.7" fill="#6e6e72" transform="rotate(35 63.3 84.8)"/>
<ellipse cx="38.2" cy="14.3" rx="4.4" ry="2.7" fill="#9a9a9c" transform="rotate(25 38.2 14.3)"/>
<ellipse cx="51.1" cy="75.0" rx="4.4" ry="3.5" fill="#9a9a9c" transform="rotate(54 51.1 75.0)"/>
<ellipse cx="10.0" cy="14.2" rx="2.6" ry="5.0" fill="#929294" transform="rotate(94 10.0 14.2)"/>
<ellipse cx="27.0" cy="17.3" rx="3.7" ry="4.7" fill="#646467" transform="rotate(112 27.0 17.3)"/>
<ellipse cx="78.7" cy="67.3" rx="3.5" ry="5.2" fill="#929294" transform="rotate(17 78.7 67.3)"/>
<ellipse cx="39.3" cy="41.0" rx="3.9" ry="3.0" fill="#646467" transform="rotate(81 39.3 41.0)"/>
<ellipse cx="2.3" cy="12.3" rx="3.4" ry="3.7" fill="#646467" transform="rotate(172 2.3 12.3)"/>
<ellipse cx="89.6" cy="40.0" rx="3.0" ry="5.4" fill="#6e6e72" transform="rotate(74 89.6 40.0)"/>
<ellipse cx="16.3" cy="56.3" rx="5.9" ry="4.1" fill="#6e6e72" transform="rotate(129 16.3 56.3)"/>
<ellipse cx="78.5" cy="12.3" rx="5.7" ry="4.2" fill="#9a9a9c" transform="rotate(32 78.5 12.3)"/>
<ellipse cx="11.5" cy="57.1" rx="3.6" ry="5.6" fill="#6e6e72" transform="rotate(103 11.5 57.1)"/>
<ellipse cx="68.7" cy="14.4" rx="5.0" ry="5.7" fill="#6e6e72" transform="rotate(5 68.7 14.4)"/>
<ellipse cx="50.9" cy="72.2" rx="4.9" ry="3.5" fill="#9a9a9c" transform="rotate(28 50.9 72.2)"/>
<ellipse cx="6.9" cy="50.1" rx="5.7" ry="3.4" fill="#6e6e72" transform="rotate(4 6.9 50.1)"/>
<ellipse cx="10.6" cy="35.3" rx="4.3" ry="4.5" fill="#88888b" transform="rotate(118 10.6 35.3)"/>
<ellipse cx="57.9" cy="52.0" rx="6.0" ry="3.3" fill="#9a9a9c" transform="rotate(133 57.9 52.0)"/>
<ellipse cx="11.2" cy="83.1" rx="5.8" ry="5.4" fill="#646467" transform="rotate(123 11.2 83.1)"/>
<ellipse cx="68.3" cy="63.4" rx="4.6" ry="3.4" fill="#646467" transform="rotate(23 68.3 63.4)"/>
<ellipse cx="18.4" cy="18.4" rx="4.4" ry="3.0" fill="#9a9a9c" transform="rotate(5 18.4 18.4)"/>
<ellipse cx="44.5" cy="38.5" rx="4.5" ry="4.5" fill="#9a9a9c" transform="rotate(92 44.5 38.5)"/>
<ellipse cx="8.2" cy="78.7" rx="4.3" ry="3.5" fill="#6e6e72" transform="rotate(121 8.2 78.7)"/>
<ellipse cx="86.0" cy="64.7" rx="3.8" ry="2.8" fill="#6e6e72" transform="rotate(168 86.0 64.7)"/>
<ellipse cx="29.6" cy="84.2" rx="2.6" ry="5.0" fill="#6e6e72" transform="rotate(74 29.6 84.2)"/>
<ellipse cx="53.9" cy="70.0" rx="2.8" ry="3.3" fill="#646467" transform="rotate(96 53.9 70.0)"/>
<ellipse cx="93.1" cy="77.2" rx="4.4" ry="4.0" fill="#9a9a9c" transform="rotate(53 93.1 77.2)"/>
<ellipse cx="20.8" cy="87.9" rx="2.8" ry="2.9" fill="#646467" transform="rotate(172 20.8 87.9)"/>
<ellipse cx="53.0" cy="60.2" rx="3.6" ry="6.0" fill="#646467" transform="rotate(126 53.0 60.2)"/>
<ellipse cx="6.5" cy="28.5" rx="4.5" ry="5.6" fill="#6e6e72" transform="rotate(126 6.5 28.5)"/>
</g>
<path d="M0 0 L95 0 L95 24 C88 18 80 13 70 12 C50 9 30 9 0 10Z" fill="#000" stroke="none" stroke-width="1" opacity="1" filter="url(#b0_8)" />
<path d="M0 12 C30 10 55 11 74 14 C84 17 90 22 95 26 L95 46 C60 40 30 40 0 44Z" fill="#5050d0" stroke="none" stroke-width="1" opacity="0.45" filter="url(#b3)" />
<ellipse cx="20" cy="30" rx="10" ry="10" fill="#4a60d8" opacity="0.3" filter="url(#b2_5)" />
<ellipse cx="52" cy="24" rx="12" ry="9" fill="#4a60d8" opacity="0.4" filter="url(#b2_5)" />
<ellipse cx="72" cy="27" rx="10" ry="7" fill="#4a60d8" opacity="0.3" filter="url(#b2_5)" />
<ellipse cx="18" cy="58" rx="8" ry="8" fill="#4a60d8" opacity="0.15" filter="url(#b2_5)" />
<ellipse cx="13" cy="4" rx="5" ry="4" fill="#1818ff" opacity="1" filter="url(#b1)" />
<ellipse cx="25" cy="5" rx="5" ry="4" fill="#1818ff" opacity="1" filter="url(#b1)" />
<ellipse cx="39" cy="4" rx="4" ry="4" fill="#00e0ff" opacity="1" filter="url(#b1)" />
<ellipse cx="39" cy="4" rx="7" ry="6" fill="#1818ff" opacity="0.7" filter="url(#b1_5)" />
<ellipse cx="6.4" cy="14" rx="5" ry="4" fill="#00d0ff" opacity="0.9" filter="url(#b1)" />
<ellipse cx="6.4" cy="14" rx="8" ry="6" fill="#1818ff" opacity="0.6" filter="url(#b1_5)" />
<ellipse cx="55" cy="9" rx="7" ry="4" fill="#1818ff" opacity="0.9" filter="url(#b1)" />
<ellipse cx="77" cy="19" rx="6" ry="4" fill="#2030f0" opacity="0.8" filter="url(#b1)" />
<path d="M31 44 C33 38 38 37 45.5 37.7 C55 37 66 38 74 40" fill="none" stroke="#303038" stroke-width="2.5" opacity="1" filter="url(#b0_6)" />
<path d="M95 47 C86 52 80 58 74 61 C66 65 60 67 54 69" fill="none" stroke="#1a1a1e" stroke-width="2.5" opacity="1" filter="url(#b0_8)" />
<rect x="92" y="10" width="4" height="38" fill="#101020" opacity="0.7"/>
<path d="M0 96 L0 92 C12 90 22 88 30 82 C40 76 55 70 70 66 C80 62 88 58 96 56 L96 96Z" fill="#1414f0" stroke="none" stroke-width="1" opacity="1" filter="url(#b1_5)" />
<path d="M28 96 C32 86 40 80 55 74 C70 68 82 62 96 58 L96 96Z" fill="#00e0e8" stroke="none" stroke-width="1" opacity="1" filter="url(#b1_2)" />
<path d="M32 96 C36 88 44 82 58 77 C72 71 84 66 96 62 L96 96Z" fill="#28f028" stroke="none" stroke-width="1" opacity="1" filter="url(#b1_2)" />
<ellipse cx="67.6" cy="90" rx="16" ry="11" fill="#1414f0" opacity="1" filter="url(#b1)" />
<ellipse cx="67.6" cy="90" rx="16" ry="11" fill="#00e8f0" opacity="1" filter="url(#b1)" />
<ellipse cx="67.6" cy="90" rx="16" ry="11" fill="#28f028" opacity="1" filter="url(#b1)" />
<ellipse cx="67.6" cy="90" rx="16" ry="11" fill="#f0f020" opacity="1" filter="url(#b1)" />
<ellipse cx="67.6" cy="90" rx="13" ry="8" fill="#f40000" opacity="1" filter="url(#b1)" />
<ellipse cx="88" cy="66" rx="6" ry="4" fill="#80e0a0" opacity="0.6" filter="url(#b1_5)" />
<path d="M0 84 C8 84 16 84 22 86 L25 96 L0 96Z" fill="#18181c" stroke="none" stroke-width="1" opacity="1" filter="url(#b2)" />
<ellipse cx="1" cy="88" rx="2" ry="8" fill="#00e0f0" opacity="0.8" filter="url(#b1)" />
<path d="M47.5 0V96M0 47.5H95" stroke="#e0e0e8" stroke-width="1" opacity="0.85"/>
</g></g>
<g transform="translate(44,152)"><g clip-path="url(#c4)"><rect x="0" y="0" width="96" height="96" fill="#3c58c8"/>
<g filter="url(#b1_5)" opacity="0.75">
<ellipse cx="17.2" cy="65.5" rx="5.5" ry="4.9" fill="#3a50c0" transform="rotate(178 17.2 65.5)"/>
<ellipse cx="45.7" cy="90.6" rx="3.7" ry="5.1" fill="#7a6a98" transform="rotate(3 45.7 90.6)"/>
<ellipse cx="87.8" cy="41.4" rx="3.6" ry="6.0" fill="#3a50c0" transform="rotate(125 87.8 41.4)"/>
<ellipse cx="42.2" cy="93.6" rx="6.1" ry="4.6" fill="#6a6a90" transform="rotate(6 42.2 93.6)"/>
<ellipse cx="32.3" cy="47.8" rx="3.5" ry="6.8" fill="#40b0b0" transform="rotate(4 32.3 47.8)"/>
<ellipse cx="70.2" cy="10.1" rx="6.2" ry="3.1" fill="#3a50c0" transform="rotate(99 70.2 10.1)"/>
<ellipse cx="33.5" cy="46.6" rx="3.7" ry="3.1" fill="#3a50c0" transform="rotate(13 33.5 46.6)"/>
<ellipse cx="20.2" cy="64.0" rx="6.2" ry="5.6" fill="#8a7a90" transform="rotate(178 20.2 64.0)"/>
<ellipse cx="8.5" cy="53.5" rx="5.2" ry="4.6" fill="#40b0b0" transform="rotate(166 8.5 53.5)"/>
<ellipse cx="83.7" cy="39.7" rx="4.5" ry="4.8" fill="#6a6a90" transform="rotate(57 83.7 39.7)"/>
<ellipse cx="46.6" cy="26.4" rx="6.3" ry="3.6" fill="#3048c8" transform="rotate(179 46.6 26.4)"/>
<ellipse cx="47.6" cy="47.2" rx="5.2" ry="6.0" fill="#3a50c0" transform="rotate(103 47.6 47.2)"/>
<ellipse cx="31.3" cy="92.2" rx="3.5" ry="5.7" fill="#3048c8" transform="rotate(63 31.3 92.2)"/>
<ellipse cx="87.3" cy="33.9" rx="5.4" ry="4.2" fill="#7a6a98" transform="rotate(30 87.3 33.9)"/>
<ellipse cx="86.9" cy="18.0" rx="4.7" ry="3.6" fill="#7a6a98" transform="rotate(122 86.9 18.0)"/>
<ellipse cx="84.7" cy="90.2" rx="4.6" ry="7.0" fill="#3048c8" transform="rotate(106 84.7 90.2)"/>
<ellipse cx="83.3" cy="47.2" rx="4.5" ry="4.0" fill="#3a50c0" transform="rotate(29 83.3 47.2)"/>
<ellipse cx="8.4" cy="76.1" rx="6.1" ry="4.9" fill="#40b0b0" transform="rotate(9 8.4 76.1)"/>
<ellipse cx="25.7" cy="28.7" rx="4.7" ry="3.7" fill="#7a6a98" transform="rotate(157 25.7 28.7)"/>
<ellipse cx="61.4" cy="15.4" rx="3.6" ry="5.9" fill="#7a6a98" transform="rotate(45 61.4 15.4)"/>
<ellipse cx="90.2" cy="50.4" rx="5.9" ry="3.1" fill="#3a50c0" transform="rotate(162 90.2 50.4)"/>
<ellipse cx="35.6" cy="16.2" rx="4.5" ry="6.1" fill="#6a6a90" transform="rotate(105 35.6 16.2)"/>
<ellipse cx="80.1" cy="30.3" rx="5.1" ry="4.1" fill="#3048c8" transform="rotate(2 80.1 30.3)"/>
<ellipse cx="65.0" cy="89.8" rx="3.1" ry="5.4" fill="#3048c8" transform="rotate(45 65.0 89.8)"/>
<ellipse cx="89.9" cy="40.7" rx="5.7" ry="6.0" fill="#3a50c0" transform="rotate(24 89.9 40.7)"/>
<ellipse cx="10.7" cy="10.6" rx="3.1" ry="4.8" fill="#3a50c0" transform="rotate(13 10.7 10.6)"/>
<ellipse cx="13.0" cy="27.9" rx="4.2" ry="6.8" fill="#6a6a90" transform="rotate(89 13.0 27.9)"/>
<ellipse cx="22.2" cy="17.3" rx="3.7" ry="4.5" fill="#3048c8" transform="rotate(134 22.2 17.3)"/>
<ellipse cx="71.6" cy="57.6" rx="5.0" ry="6.0" fill="#7a6a98" transform="rotate(142 71.6 57.6)"/>
<ellipse cx="2.7" cy="44.7" rx="3.3" ry="6.1" fill="#3a50c0" transform="rotate(154 2.7 44.7)"/>
<ellipse cx="23.5" cy="90.7" rx="5.4" ry="6.0" fill="#3a50c0" transform="rotate(70 23.5 90.7)"/>
<ellipse cx="30.5" cy="84.9" rx="4.2" ry="5.0" fill="#8a7a90" transform="rotate(88 30.5 84.9)"/>
<ellipse cx="54.7" cy="52.2" rx="3.2" ry="5.4" fill="#40b0b0" transform="rotate(174 54.7 52.2)"/>
<ellipse cx="30.5" cy="66.3" rx="5.1" ry="5.2" fill="#7a6a98" transform="rotate(111 30.5 66.3)"/>
<ellipse cx="32.0" cy="20.5" rx="3.3" ry="5.6" fill="#6a6a90" transform="rotate(19 32.0 20.5)"/>
<ellipse cx="9.0" cy="8.7" rx="6.3" ry="6.0" fill="#6a6a90" transform="rotate(91 9.0 8.7)"/>
<ellipse cx="89.1" cy="64.6" rx="5.8" ry="4.9" fill="#8a7a90" transform="rotate(70 89.1 64.6)"/>
<ellipse cx="38.9" cy="22.7" rx="3.2" ry="4.7" fill="#3a50c0" transform="rotate(50 38.9 22.7)"/>
<ellipse cx="56.2" cy="39.2" rx="4.7" ry="6.2" fill="#6a6a90" transform="rotate(69 56.2 39.2)"/>
<ellipse cx="46.8" cy="60.1" rx="6.9" ry="3.3" fill="#6a6a90" transform="rotate(31 46.8 60.1)"/>
<ellipse cx="36.3" cy="57.6" rx="3.9" ry="4.8" fill="#3048c8" transform="rotate(137 36.3 57.6)"/>
<ellipse cx="63.5" cy="81.0" rx="5.8" ry="5.7" fill="#3a50c0" transform="rotate(87 63.5 81.0)"/>
<ellipse cx="47.9" cy="30.1" rx="4.5" ry="5.1" fill="#3048c8" transform="rotate(178 47.9 30.1)"/>
<ellipse cx="2.6" cy="30.8" rx="4.2" ry="4.6" fill="#3a50c0" transform="rotate(16 2.6 30.8)"/>
<ellipse cx="18.1" cy="50.1" rx="5.5" ry="4.5" fill="#3048c8" transform="rotate(83 18.1 50.1)"/>
<ellipse cx="12.0" cy="90.0" rx="5.8" ry="3.8" fill="#40b0b0" transform="rotate(67 12.0 90.0)"/>
<ellipse cx="55.5" cy="19.4" rx="3.3" ry="3.1" fill="#8a7a90" transform="rotate(46 55.5 19.4)"/>
<ellipse cx="79.8" cy="16.1" rx="5.7" ry="3.8" fill="#8a7a90" transform="rotate(124 79.8 16.1)"/>
<ellipse cx="67.9" cy="16.5" rx="4.6" ry="4.6" fill="#6a6a90" transform="rotate(111 67.9 16.5)"/>
<ellipse cx="27.8" cy="18.0" rx="4.5" ry="4.1" fill="#3a50c0" transform="rotate(176 27.8 18.0)"/>
<ellipse cx="21.8" cy="34.3" rx="5.5" ry="6.5" fill="#40b0b0" transform="rotate(3 21.8 34.3)"/>
<ellipse cx="48.1" cy="5.6" rx="5.4" ry="5.8" fill="#3a50c0" transform="rotate(178 48.1 5.6)"/>
<ellipse cx="88.6" cy="15.6" rx="6.9" ry="3.8" fill="#40b0b0" transform="rotate(161 88.6 15.6)"/>
<ellipse cx="36.0" cy="14.4" rx="6.2" ry="6.3" fill="#8a7a90" transform="rotate(151 36.0 14.4)"/>
<ellipse cx="30.4" cy="40.4" rx="6.5" ry="4.0" fill="#8a7a90" transform="rotate(144 30.4 40.4)"/>
<ellipse cx="79.6" cy="87.1" rx="6.5" ry="3.1" fill="#8a7a90" transform="rotate(13 79.6 87.1)"/>
<ellipse cx="42.1" cy="78.6" rx="7.0" ry="5.6" fill="#3a50c0" transform="rotate(11 42.1 78.6)"/>
<ellipse cx="77.0" cy="57.8" rx="5.5" ry="4.9" fill="#3048c8" transform="rotate(61 77.0 57.8)"/>
<ellipse cx="26.8" cy="34.5" rx="4.2" ry="5.5" fill="#7a6a98" transform="rotate(120 26.8 34.5)"/>
<ellipse cx="19.1" cy="11.0" rx="6.3" ry="4.4" fill="#40b0b0" transform="rotate(11 19.1 11.0)"/>
<ellipse cx="5.4" cy="47.5" rx="5.7" ry="5.6" fill="#3a50c0" transform="rotate(6 5.4 47.5)"/>
<ellipse cx="23.4" cy="35.0" rx="4.0" ry="3.8" fill="#3a50c0" transform="rotate(131 23.4 35.0)"/>
<ellipse cx="50.3" cy="9.2" rx="6.3" ry="3.9" fill="#7a6a98" transform="rotate(131 50.3 9.2)"/>
<ellipse cx="57.8" cy="60.2" rx="5.6" ry="3.1" fill="#40b0b0" transform="rotate(89 57.8 60.2)"/>
<ellipse cx="16.9" cy="80.3" rx="6.2" ry="6.6" fill="#3048c8" transform="rotate(10 16.9 80.3)"/>
<ellipse cx="64.6" cy="61.6" rx="5.5" ry="5.4" fill="#7a6a98" transform="rotate(175 64.6 61.6)"/>
<ellipse cx="37.9" cy="88.6" rx="6.7" ry="6.2" fill="#7a6a98" transform="rotate(164 37.9 88.6)"/>
<ellipse cx="17.9" cy="26.4" rx="3.1" ry="4.5" fill="#3048c8" transform="rotate(29 17.9 26.4)"/>
<ellipse cx="87.6" cy="51.3" rx="6.5" ry="3.8" fill="#8a7a90" transform="rotate(100 87.6 51.3)"/>
<ellipse cx="73.4" cy="70.1" rx="6.5" ry="4.4" fill="#7a6a98" transform="rotate(43 73.4 70.1)"/>
</g>
<ellipse cx="30" cy="20" rx="10" ry="10" fill="#7a6a9a" opacity="0.6" filter="url(#b2)" />
<ellipse cx="62" cy="28" rx="9" ry="8" fill="#7a6a9a" opacity="0.6" filter="url(#b2)" />
<ellipse cx="30" cy="45" rx="8" ry="12" fill="#7a6a9a" opacity="0.55" filter="url(#b2)" />
<ellipse cx="75" cy="48" rx="8" ry="14" fill="#7a6a9a" opacity="0.55" filter="url(#b2)" />
<ellipse cx="30" cy="62" rx="8" ry="7" fill="#6a5a8a" opacity="0.6" filter="url(#b2)" />
<ellipse cx="80" cy="70" rx="8" ry="10" fill="#7a6a9a" opacity="0.5" filter="url(#b2)" />
<ellipse cx="55" cy="62" rx="6" ry="6" fill="#505aa0" opacity="0.5" filter="url(#b2)" />
<ellipse cx="11" cy="15" rx="6" ry="8" fill="#38b8b0" opacity="0.9" filter="url(#b2)" />
<ellipse cx="8" cy="45" rx="8" ry="8" fill="#38b8b0" opacity="0.6" filter="url(#b2)" />
<ellipse cx="40" cy="45" rx="7" ry="5" fill="#38b8b0" opacity="0.6" filter="url(#b2)" />
<ellipse cx="55" cy="38" rx="6" ry="7" fill="#38b8b0" opacity="0.6" filter="url(#b2)" />
<ellipse cx="90" cy="35" rx="6" ry="10" fill="#38b8b0" opacity="0.5" filter="url(#b2)" />
<ellipse cx="20" cy="78" rx="8" ry="8" fill="#38b8b0" opacity="0.5" filter="url(#b2)" />
<ellipse cx="88" cy="88" rx="6" ry="6" fill="#38b8b0" opacity="0.5" filter="url(#b2)" />
<ellipse cx="30" cy="90" rx="10" ry="5" fill="#38b8b0" opacity="0.5" filter="url(#b2)" />
<ellipse cx="52" cy="75" rx="14" ry="12" fill="url(#jg2)" opacity="1" filter="url(#b1)" />
<ellipse cx="60" cy="86" rx="10" ry="6" fill="#30c0a0" opacity="0.7" filter="url(#b2)" />
<rect x="0" y="0" width="96" height="3" fill="#1a1a60" opacity="0.7"/>
<ellipse cx="70" cy="2" rx="12" ry="4" fill="#80f0e0" opacity="0.8" filter="url(#b1_5)" />
<ellipse cx="94" cy="4" rx="6" ry="6" fill="url(#jy)" opacity="1" />
<ellipse cx="48" cy="52" rx="47" ry="58" fill="none" opacity="0.8" filter="url(#b1_5)" stroke="#1010a0" stroke-width="4"/>
<ellipse cx="-2" cy="90" rx="6" ry="12" fill="#0a0a60" opacity="0.8" filter="url(#b2)" />
<path d="M49.3 0V96M0 47.5H96" stroke="#c8d8f0" stroke-width="1" opacity="0.85"/>
</g></g>
<g transform="translate(142,152)"><g clip-path="url(#c5)"><rect x="0" y="0" width="96" height="96" fill="#3c56c8"/>
<ellipse cx="6" cy="6" rx="16" ry="16" fill="#6a6a6c" opacity="1" filter="url(#b2)" />
<ellipse cx="90" cy="8" rx="16" ry="20" fill="#6a6a6c" opacity="1" filter="url(#b2)" />
<rect x="0" y="0" width="96" height="3" fill="#202024"/>
<g filter="url(#b1_5)" opacity="0.7">
<ellipse cx="88.3" cy="16.7" rx="3.1" ry="7.0" fill="#3a50c0" transform="rotate(126 88.3 16.7)"/>
<ellipse cx="69.1" cy="62.5" rx="6.2" ry="3.3" fill="#40b0b0" transform="rotate(173 69.1 62.5)"/>
<ellipse cx="32.1" cy="45.3" rx="6.7" ry="5.7" fill="#6a6a90" transform="rotate(127 32.1 45.3)"/>
<ellipse cx="8.3" cy="62.6" rx="5.4" ry="4.2" fill="#3a50c0" transform="rotate(32 8.3 62.6)"/>
<ellipse cx="13.8" cy="40.9" rx="5.9" ry="6.9" fill="#8a7a90" transform="rotate(11 13.8 40.9)"/>
<ellipse cx="32.7" cy="28.8" rx="3.7" ry="4.6" fill="#3048c8" transform="rotate(93 32.7 28.8)"/>
<ellipse cx="28.6" cy="24.8" rx="5.8" ry="4.7" fill="#40b0b0" transform="rotate(96 28.6 24.8)"/>
<ellipse cx="6.8" cy="65.4" rx="5.0" ry="5.1" fill="#6a6a90" transform="rotate(72 6.8 65.4)"/>
<ellipse cx="85.4" cy="19.5" rx="5.3" ry="4.6" fill="#7a6a98" transform="rotate(54 85.4 19.5)"/>
<ellipse cx="56.4" cy="41.7" rx="4.7" ry="5.7" fill="#8a7a90" transform="rotate(77 56.4 41.7)"/>
<ellipse cx="12.0" cy="35.5" rx="3.4" ry="6.1" fill="#7a6a98" transform="rotate(167 12.0 35.5)"/>
<ellipse cx="87.8" cy="39.7" rx="4.6" ry="3.4" fill="#3a50c0" transform="rotate(31 87.8 39.7)"/>
<ellipse cx="52.1" cy="29.6" rx="4.3" ry="4.4" fill="#3a50c0" transform="rotate(80 52.1 29.6)"/>
<ellipse cx="9.5" cy="16.3" rx="6.1" ry="6.0" fill="#3048c8" transform="rotate(125 9.5 16.3)"/>
<ellipse cx="8.6" cy="33.5" rx="6.3" ry="6.7" fill="#6a6a90" transform="rotate(8 8.6 33.5)"/>
<ellipse cx="14.6" cy="51.9" rx="3.5" ry="4.1" fill="#3048c8" transform="rotate(134 14.6 51.9)"/>
<ellipse cx="45.6" cy="53.1" rx="5.6" ry="4.4" fill="#7a6a98" transform="rotate(148 45.6 53.1)"/>
<ellipse cx="57.5" cy="66.4" rx="3.1" ry="5.0" fill="#3048c8" transform="rotate(12 57.5 66.4)"/>
<ellipse cx="12.6" cy="47.0" rx="5.4" ry="5.8" fill="#3a50c0" transform="rotate(8 12.6 47.0)"/>
<ellipse cx="89.1" cy="29.8" rx="3.5" ry="3.9" fill="#40b0b0" transform="rotate(88 89.1 29.8)"/>
<ellipse cx="10.0" cy="9.4" rx="6.0" ry="5.3" fill="#8a7a90" transform="rotate(37 10.0 9.4)"/>
<ellipse cx="34.3" cy="53.6" rx="6.7" ry="6.3" fill="#7a6a98" transform="rotate(43 34.3 53.6)"/>
<ellipse cx="78.0" cy="46.7" rx="3.8" ry="6.0" fill="#3048c8" transform="rotate(69 78.0 46.7)"/>
<ellipse cx="70.0" cy="52.5" rx="4.9" ry="4.0" fill="#3a50c0" transform="rotate(20 70.0 52.5)"/>
<ellipse cx="85.2" cy="65.7" rx="5.3" ry="3.7" fill="#3048c8" transform="rotate(57 85.2 65.7)"/>
<ellipse cx="6.6" cy="17.8" rx="4.1" ry="6.4" fill="#3048c8" transform="rotate(5 6.6 17.8)"/>
<ellipse cx="71.4" cy="8.3" rx="5.5" ry="6.9" fill="#3048c8" transform="rotate(42 71.4 8.3)"/>
<ellipse cx="51.0" cy="16.7" rx="4.4" ry="6.5" fill="#3048c8" transform="rotate(2 51.0 16.7)"/>
<ellipse cx="37.4" cy="47.7" rx="3.7" ry="6.2" fill="#8a7a90" transform="rotate(99 37.4 47.7)"/>
<ellipse cx="35.9" cy="60.6" rx="5.1" ry="3.8" fill="#40b0b0" transform="rotate(95 35.9 60.6)"/>
<ellipse cx="34.6" cy="57.2" rx="5.0" ry="5.0" fill="#3a50c0" transform="rotate(175 34.6 57.2)"/>
<ellipse cx="20.8" cy="33.2" rx="6.5" ry="6.0" fill="#6a6a90" transform="rotate(120 20.8 33.2)"/>
<ellipse cx="50.3" cy="51.8" rx="3.3" ry="6.7" fill="#40b0b0" transform="rotate(42 50.3 51.8)"/>
<ellipse cx="49.6" cy="68.1" rx="3.6" ry="5.2" fill="#8a7a90" transform="rotate(0 49.6 68.1)"/>
<ellipse cx="32.3" cy="55.5" rx="3.5" ry="5.0" fill="#7a6a98" transform="rotate(145 32.3 55.5)"/>
<ellipse cx="76.6" cy="14.1" rx="3.3" ry="3.7" fill="#8a7a90" transform="rotate(55 76.6 14.1)"/>
<ellipse cx="31.5" cy="64.6" rx="5.3" ry="5.1" fill="#8a7a90" transform="rotate(60 31.5 64.6)"/>
<ellipse cx="89.4" cy="66.4" rx="5.9" ry="6.6" fill="#8a7a90" transform="rotate(117 89.4 66.4)"/>
<ellipse cx="32.3" cy="25.4" rx="4.0" ry="3.2" fill="#40b0b0" transform="rotate(54 32.3 25.4)"/>
<ellipse cx="6.1" cy="27.6" rx="3.4" ry="4.8" fill="#40b0b0" transform="rotate(165 6.1 27.6)"/>
<ellipse cx="18.1" cy="25.6" rx="4.6" ry="3.6" fill="#6a6a90" transform="rotate(55 18.1 25.6)"/>
<ellipse cx="51.6" cy="62.4" rx="6.8" ry="4.5" fill="#7a6a98" transform="rotate(84 51.6 62.4)"/>
<ellipse cx="28.6" cy="41.7" rx="3.4" ry="6.3" fill="#40b0b0" transform="rotate(100 28.6 41.7)"/>
<ellipse cx="43.1" cy="23.9" rx="4.0" ry="3.6" fill="#8a7a90" transform="rotate(87 43.1 23.9)"/>
<ellipse cx="74.5" cy="39.3" rx="3.3" ry="4.4" fill="#6a6a90" transform="rotate(24 74.5 39.3)"/>
<ellipse cx="62.7" cy="63.5" rx="4.7" ry="5.2" fill="#6a6a90" transform="rotate(124 62.7 63.5)"/>
<ellipse cx="75.1" cy="49.6" rx="4.4" ry="4.1" fill="#7a6a98" transform="rotate(169 75.1 49.6)"/>
<ellipse cx="14.2" cy="60.3" rx="6.0" ry="3.3" fill="#8a7a90" transform="rotate(85 14.2 60.3)"/>
<ellipse cx="60.0" cy="47.0" rx="3.1" ry="6.7" fill="#8a7a90" transform="rotate(142 60.0 47.0)"/>
<ellipse cx="51.3" cy="44.4" rx="3.8" ry="6.2" fill="#3048c8" transform="rotate(72 51.3 44.4)"/>
<ellipse cx="53.0" cy="18.8" rx="4.6" ry="6.7" fill="#8a7a90" transform="rotate(144 53.0 18.8)"/>
<ellipse cx="41.4" cy="56.2" rx="3.8" ry="4.0" fill="#3048c8" transform="rotate(95 41.4 56.2)"/>
<ellipse cx="64.0" cy="43.5" rx="5.4" ry="4.0" fill="#8a7a90" transform="rotate(43 64.0 43.5)"/>
<ellipse cx="44.5" cy="58.0" rx="6.9" ry="3.5" fill="#3048c8" transform="rotate(41 44.5 58.0)"/>
<ellipse cx="40.6" cy="15.9" rx="5.9" ry="3.2" fill="#8a7a90" transform="rotate(91 40.6 15.9)"/>
<ellipse cx="61.3" cy="14.7" rx="6.2" ry="5.0" fill="#3a50c0" transform="rotate(71 61.3 14.7)"/>
<ellipse cx="13.0" cy="39.3" rx="6.0" ry="3.1" fill="#3a50c0" transform="rotate(79 13.0 39.3)"/>
<ellipse cx="75.2" cy="17.8" rx="6.8" ry="5.0" fill="#3a50c0" transform="rotate(127 75.2 17.8)"/>
<ellipse cx="27.0" cy="15.5" rx="3.7" ry="5.9" fill="#3048c8" transform="rotate(90 27.0 15.5)"/>
<ellipse cx="26.4" cy="35.5" rx="4.8" ry="5.8" fill="#8a7a90" transform="rotate(58 26.4 35.5)"/>
</g>
<path d="M5 30 C10 14 28 3 48 2 C66 2 80 6 88 18" fill="none" stroke="#101020" stroke-width="3" opacity="1" filter="url(#b1)" />
<ellipse cx="28" cy="32" rx="10" ry="8" fill="#7a6a90" opacity="0.7" filter="url(#b2)" />
<ellipse cx="66" cy="30" rx="10" ry="8" fill="#7a6a90" opacity="0.7" filter="url(#b2)" />
<ellipse cx="30" cy="60" rx="9" ry="8" fill="#6a5a88" opacity="0.7" filter="url(#b2)" />
<ellipse cx="68" cy="62" rx="9" ry="8" fill="#6a5a88" opacity="0.7" filter="url(#b2)" />
<ellipse cx="48" cy="70" rx="10" ry="6" fill="#7a6a90" opacity="0.5" filter="url(#b2)" />
<ellipse cx="50" cy="45" rx="10" ry="8" fill="#6a6a98" opacity="0.5" filter="url(#b2)" />
<ellipse cx="40" cy="12" rx="8" ry="6" fill="#38b8c0" opacity="0.6" filter="url(#b2)" />
<ellipse cx="55" cy="18" rx="6" ry="8" fill="#38b8c0" opacity="0.5" filter="url(#b2)" />
<ellipse cx="8" cy="40" rx="6" ry="14" fill="#38b8c0" opacity="0.6" filter="url(#b2)" />
<ellipse cx="88" cy="40" rx="6" ry="14" fill="#38b8c0" opacity="0.6" filter="url(#b2)" />
<ellipse cx="40" cy="46" rx="6" ry="6" fill="#38b8c0" opacity="0.6" filter="url(#b2)" />
<ellipse cx="56" cy="52" rx="6" ry="8" fill="#38b8c0" opacity="0.6" filter="url(#b2)" />
<ellipse cx="87" cy="61" rx="6" ry="8" fill="#38b8c0" opacity="0.7" filter="url(#b2)" />
<ellipse cx="20" cy="20" rx="6" ry="6" fill="#38b8c0" opacity="0.4" filter="url(#b2)" />
<path d="M35 32 C40 32 44 34 46 36 M50 36 C53 33 56 32 61 32" fill="none" stroke="#30303a" stroke-width="2" opacity="1" filter="url(#b0_6)" />
<path d="M0 62 C20 66 30 64 48 66 C66 68 80 64 96 66 L96 96 L0 96Z" fill="#1616e8" stroke="none" stroke-width="1" opacity="1" filter="url(#b2)" />
<path d="M0 76 C20 80 30 72 48 74 C66 76 80 74 96 78 L96 96 L0 96Z" fill="#00e0e8" stroke="none" stroke-width="1" opacity="1" filter="url(#b2)" />
<path d="M0 82 C20 86 30 80 48 80 C66 82 80 82 96 84 L96 96 L0 96Z" fill="#28f028" stroke="none" stroke-width="1" opacity="1" filter="url(#b2)" />
<ellipse cx="45.5" cy="87" rx="13.5" ry="14" fill="#1414f0" opacity="1" filter="url(#b1)" />
<ellipse cx="45.5" cy="87" rx="13.5" ry="14" fill="#00e8f0" opacity="1" filter="url(#b1)" />
<ellipse cx="45.5" cy="87" rx="11.5" ry="12" fill="#28f028" opacity="1" filter="url(#b1)" />
<ellipse cx="45.5" cy="87" rx="8.5" ry="9" fill="#f0f020" opacity="1" filter="url(#b1)" />
<ellipse cx="45.5" cy="87" rx="6.5" ry="7" fill="#f40000" opacity="1" filter="url(#b1)" />
<ellipse cx="4" cy="94" rx="12" ry="8" fill="#1414f0" opacity="1" filter="url(#b1)" />
<ellipse cx="4" cy="94" rx="12" ry="8" fill="#00e8f0" opacity="1" filter="url(#b1)" />
<ellipse cx="4" cy="94" rx="12" ry="8" fill="#28f028" opacity="1" filter="url(#b1)" />
<ellipse cx="4" cy="94" rx="10" ry="6" fill="#f0f020" opacity="1" filter="url(#b1)" />
<ellipse cx="4" cy="94" rx="8" ry="4" fill="#f40000" opacity="1" filter="url(#b1)" />
<ellipse cx="87" cy="92" rx="13" ry="9" fill="#1414f0" opacity="1" filter="url(#b1)" />
<ellipse cx="87" cy="92" rx="13" ry="9" fill="#00e8f0" opacity="1" filter="url(#b1)" />
<ellipse cx="87" cy="92" rx="13" ry="9" fill="#28f028" opacity="1" filter="url(#b1)" />
<ellipse cx="87" cy="92" rx="11" ry="7" fill="#f0f020" opacity="1" filter="url(#b1)" />
<ellipse cx="87" cy="92" rx="9" ry="5" fill="#f40000" opacity="1" filter="url(#b1)" />
<ellipse cx="1" cy="14" rx="4" ry="8" fill="#40d0e0" opacity="0.9" filter="url(#b1)" />
<path d="M48 0V96M0 48H96" stroke="#c8d8f0" stroke-width="1" opacity="0.85"/>
</g></g>
<g transform="translate(240,152)"><g clip-path="url(#c6)"><rect x="0" y="0" width="95" height="96" fill="#3c50c8"/>
<rect x="0" y="0" width="95" height="8" fill="#303034"/>
<path d="M0 0 L95 0 L95 14 C80 8 60 6 30 6 C15 7 5 10 0 14Z" fill="#505058" stroke="none" stroke-width="1" opacity="1" filter="url(#b1)" />
<path d="M20 8 C40 4 70 5 95 12" fill="none" stroke="#101018" stroke-width="3" opacity="1" filter="url(#b1)" />
<ellipse cx="45" cy="30" rx="12" ry="10" fill="#7a6a90" opacity="0.6" filter="url(#b2)" />
<ellipse cx="70" cy="38" rx="14" ry="10" fill="#7a6a90" opacity="0.6" filter="url(#b2)" />
<ellipse cx="80" cy="20" rx="10" ry="8" fill="#706a88" opacity="0.5" filter="url(#b2)" />
<ellipse cx="60" cy="55" rx="10" ry="6" fill="#6a6a90" opacity="0.5" filter="url(#b2)" />
<ellipse cx="30" cy="70" rx="10" ry="8" fill="#6a6a98" opacity="0.4" filter="url(#b2)" />
<g filter="url(#b1_5)" opacity="0.65">
<ellipse cx="87.1" cy="74.5" rx="6.6" ry="3.3" fill="#8a7a90" transform="rotate(55 87.1 74.5)"/>
<ellipse cx="36.9" cy="34.3" rx="5.9" ry="4.1" fill="#7a6a98" transform="rotate(40 36.9 34.3)"/>
<ellipse cx="43.9" cy="11.7" rx="3.3" ry="5.8" fill="#6a6a90" transform="rotate(4 43.9 11.7)"/>
<ellipse cx="59.7" cy="39.3" rx="6.1" ry="3.8" fill="#7a6a98" transform="rotate(106 59.7 39.3)"/>
<ellipse cx="62.5" cy="52.2" rx="6.9" ry="4.5" fill="#40b0b0" transform="rotate(174 62.5 52.2)"/>
<ellipse cx="27.9" cy="76.3" rx="5.3" ry="6.3" fill="#3a50c0" transform="rotate(129 27.9 76.3)"/>
<ellipse cx="56.3" cy="40.4" rx="5.6" ry="3.7" fill="#3a50c0" transform="rotate(96 56.3 40.4)"/>
<ellipse cx="63.9" cy="45.4" rx="5.3" ry="3.3" fill="#6a6a90" transform="rotate(7 63.9 45.4)"/>
<ellipse cx="27.4" cy="49.0" rx="6.3" ry="4.3" fill="#40b0b0" transform="rotate(162 27.4 49.0)"/>
<ellipse cx="51.9" cy="70.8" rx="4.8" ry="3.9" fill="#3a50c0" transform="rotate(19 51.9 70.8)"/>
<ellipse cx="74.1" cy="58.1" rx="6.3" ry="4.0" fill="#8a7a90" transform="rotate(26 74.1 58.1)"/>
<ellipse cx="70.6" cy="16.8" rx="4.5" ry="4.8" fill="#7a6a98" transform="rotate(10 70.6 16.8)"/>
<ellipse cx="40.3" cy="11.6" rx="6.2" ry="5.7" fill="#3a50c0" transform="rotate(145 40.3 11.6)"/>
<ellipse cx="89.3" cy="46.6" rx="7.0" ry="6.0" fill="#40b0b0" transform="rotate(3 89.3 46.6)"/>
<ellipse cx="74.5" cy="43.4" rx="3.1" ry="4.1" fill="#8a7a90" transform="rotate(35 74.5 43.4)"/>
<ellipse cx="87.9" cy="74.6" rx="3.9" ry="3.4" fill="#8a7a90" transform="rotate(117 87.9 74.6)"/>
<ellipse cx="65.5" cy="47.9" rx="4.0" ry="3.4" fill="#3a50c0" transform="rotate(162 65.5 47.9)"/>
<ellipse cx="42.9" cy="33.3" rx="6.6" ry="6.3" fill="#8a7a90" transform="rotate(124 42.9 33.3)"/>
<ellipse cx="40.0" cy="57.1" rx="6.3" ry="5.6" fill="#3a50c0" transform="rotate(98 40.0 57.1)"/>
<ellipse cx="41.1" cy="30.3" rx="6.4" ry="5.4" fill="#7a6a98" transform="rotate(149 41.1 30.3)"/>
<ellipse cx="12.0" cy="52.9" rx="4.3" ry="5.2" fill="#6a6a90" transform="rotate(45 12.0 52.9)"/>
<ellipse cx="89.5" cy="15.3" rx="5.2" ry="5.2" fill="#3a50c0" transform="rotate(160 89.5 15.3)"/>
<ellipse cx="90.1" cy="64.4" rx="7.0" ry="4.1" fill="#40b0b0" transform="rotate(68 90.1 64.4)"/>
<ellipse cx="74.3" cy="19.6" rx="6.5" ry="3.8" fill="#3048c8" transform="rotate(5 74.3 19.6)"/>
<ellipse cx="62.2" cy="60.7" rx="6.8" ry="4.7" fill="#40b0b0" transform="rotate(86 62.2 60.7)"/>
<ellipse cx="65.4" cy="46.7" rx="5.2" ry="5.1" fill="#40b0b0" transform="rotate(48 65.4 46.7)"/>
<ellipse cx="93.4" cy="25.4" rx="3.2" ry="6.6" fill="#6a6a90" transform="rotate(140 93.4 25.4)"/>
<ellipse cx="63.9" cy="51.1" rx="4.2" ry="4.3" fill="#40b0b0" transform="rotate(145 63.9 51.1)"/>
<ellipse cx="27.2" cy="73.3" rx="3.6" ry="3.2" fill="#3048c8" transform="rotate(86 27.2 73.3)"/>
<ellipse cx="52.9" cy="27.4" rx="4.1" ry="3.4" fill="#3a50c0" transform="rotate(161 52.9 27.4)"/>
<ellipse cx="92.9" cy="19.9" rx="4.5" ry="5.5" fill="#7a6a98" transform="rotate(50 92.9 19.9)"/>
<ellipse cx="72.8" cy="10.5" rx="3.1" ry="6.1" fill="#7a6a98" transform="rotate(45 72.8 10.5)"/>
<ellipse cx="92.4" cy="53.1" rx="3.2" ry="6.2" fill="#40b0b0" transform="rotate(36 92.4 53.1)"/>
<ellipse cx="54.0" cy="52.3" rx="6.1" ry="3.7" fill="#8a7a90" transform="rotate(71 54.0 52.3)"/>
<ellipse cx="64.5" cy="29.9" rx="3.3" ry="6.7" fill="#3048c8" transform="rotate(109 64.5 29.9)"/>
<ellipse cx="5.8" cy="18.2" rx="6.0" ry="6.9" fill="#3a50c0" transform="rotate(110 5.8 18.2)"/>
<ellipse cx="14.8" cy="59.8" rx="4.9" ry="5.8" fill="#8a7a90" transform="rotate(143 14.8 59.8)"/>
<ellipse cx="6.4" cy="12.9" rx="6.0" ry="3.4" fill="#7a6a98" transform="rotate(24 6.4 12.9)"/>
<ellipse cx="10.5" cy="68.3" rx="3.8" ry="4.7" fill="#40b0b0" transform="rotate(136 10.5 68.3)"/>
<ellipse cx="22.5" cy="49.9" rx="6.8" ry="5.7" fill="#8a7a90" transform="rotate(117 22.5 49.9)"/>
<ellipse cx="70.5" cy="72.9" rx="4.2" ry="6.5" fill="#3048c8" transform="rotate(23 70.5 72.9)"/>
<ellipse cx="37.0" cy="62.6" rx="6.3" ry="3.2" fill="#6a6a90" transform="rotate(63 37.0 62.6)"/>
<ellipse cx="21.4" cy="54.3" rx="3.6" ry="4.3" fill="#6a6a90" transform="rotate(11 21.4 54.3)"/>
<ellipse cx="31.0" cy="39.1" rx="6.3" ry="5.4" fill="#6a6a90" transform="rotate(66 31.0 39.1)"/>
<ellipse cx="89.9" cy="12.4" rx="4.2" ry="6.3" fill="#6a6a90" transform="rotate(148 89.9 12.4)"/>
<ellipse cx="55.0" cy="75.8" rx="5.1" ry="5.5" fill="#6a6a90" transform="rotate(146 55.0 75.8)"/>
<ellipse cx="18.7" cy="39.9" rx="3.8" ry="6.1" fill="#7a6a98" transform="rotate(82 18.7 39.9)"/>
<ellipse cx="2.3" cy="53.3" rx="4.0" ry="5.9" fill="#6a6a90" transform="rotate(70 2.3 53.3)"/>
<ellipse cx="91.7" cy="60.4" rx="5.8" ry="5.7" fill="#40b0b0" transform="rotate(129 91.7 60.4)"/>
<ellipse cx="15.2" cy="76.9" rx="6.0" ry="6.2" fill="#6a6a90" transform="rotate(98 15.2 76.9)"/>
<ellipse cx="13.2" cy="14.6" rx="4.9" ry="3.6" fill="#3048c8" transform="rotate(144 13.2 14.6)"/>
<ellipse cx="12.8" cy="11.2" rx="5.1" ry="3.8" fill="#3048c8" transform="rotate(36 12.8 11.2)"/>
<ellipse cx="33.9" cy="76.5" rx="4.1" ry="4.1" fill="#6a6a90" transform="rotate(164 33.9 76.5)"/>
<ellipse cx="88.3" cy="46.8" rx="4.4" ry="6.0" fill="#3a50c0" transform="rotate(142 88.3 46.8)"/>
<ellipse cx="54.4" cy="71.3" rx="3.6" ry="5.8" fill="#3a50c0" transform="rotate(120 54.4 71.3)"/>
</g>
<path d="M32.5 39 C38 33 42 32.5 45.5 32.5 C60 32 75 34 86 37.7" fill="none" stroke="#3a3a4a" stroke-width="2.5" opacity="1" filter="url(#b0_8)" />
<ellipse cx="15.5" cy="23.3" rx="9" ry="9" fill="#30b0a0" opacity="0.9" filter="url(#b2)" />
<ellipse cx="15.5" cy="23.3" rx="5" ry="5" fill="#30d070" opacity="0.9" filter="url(#b1_5)" />
<ellipse cx="27" cy="54.6" rx="8" ry="8" fill="#30b0a0" opacity="0.9" filter="url(#b2)" />
<ellipse cx="27" cy="54.6" rx="4" ry="4" fill="#30d070" opacity="0.8" filter="url(#b1_5)" />
<ellipse cx="2" cy="35" rx="4" ry="10" fill="#30c0c0" opacity="0.8" filter="url(#b2)" />
<ellipse cx="60" cy="12" rx="10" ry="5" fill="#38b8c0" opacity="0.5" filter="url(#b2)" />
<path d="M0 80 L40 80 C44 78 46 78 48 76 L48 96 L0 96Z" fill="#1418f0" stroke="none" stroke-width="1" opacity="1" filter="url(#b1)" />
<path d="M40 96 C44 84 56 76 72 70 C82 66 90 62 96 58 L96 96Z" fill="#1616e8" stroke="none" stroke-width="1" opacity="1" filter="url(#b1_2)" />
<path d="M43 96 C47 86 58 78 73 73 C83 69 90 65 96 62 L96 96Z" fill="#00e0e8" stroke="none" stroke-width="1" opacity="1" filter="url(#b1_2)" />
<path d="M46 96 C50 88 60 81 74 76 C84 72 90 68 96 65 L96 96Z" fill="#28f028" stroke="none" stroke-width="1" opacity="1" filter="url(#b1_2)" />
<ellipse cx="65" cy="81" rx="21.5" ry="11.0" fill="#1414f0" opacity="1" filter="url(#b1)" transform="rotate(-18 65 81)" />
<ellipse cx="90" cy="71" rx="10.5" ry="11.5" fill="#1414f0" opacity="1" filter="url(#b1)" />
<ellipse cx="80" cy="74" rx="10.5" ry="8.5" fill="#1414f0" opacity="1" filter="url(#b1)" />
<ellipse cx="65" cy="81" rx="21.5" ry="11.0" fill="#00e8f0" opacity="1" filter="url(#b1)" transform="rotate(-18 65 81)" />
<ellipse cx="90" cy="71" rx="10.5" ry="11.5" fill="#00e8f0" opacity="1" filter="url(#b1)" />
<ellipse cx="80" cy="74" rx="10.5" ry="8.5" fill="#00e8f0" opacity="1" filter="url(#b1)" />
<ellipse cx="65" cy="81" rx="21.5" ry="11.0" fill="#28f028" opacity="1" filter="url(#b1)" transform="rotate(-18 65 81)" />
<ellipse cx="90" cy="71" rx="10.5" ry="11.5" fill="#28f028" opacity="1" filter="url(#b1)" />
<ellipse cx="80" cy="74" rx="10.5" ry="8.5" fill="#28f028" opacity="1" filter="url(#b1)" />
<ellipse cx="65" cy="81" rx="21.5" ry="11.0" fill="#f0f020" opacity="1" filter="url(#b1)" transform="rotate(-18 65 81)" />
<ellipse cx="90" cy="71" rx="10.5" ry="11.5" fill="#f0f020" opacity="1" filter="url(#b1)" />
<ellipse cx="80" cy="74" rx="10.5" ry="8.5" fill="#f0f020" opacity="1" filter="url(#b1)" />
<ellipse cx="65" cy="81" rx="19.0" ry="8.5" fill="#f40000" opacity="1" filter="url(#b1)" transform="rotate(-18 65 81)" />
<ellipse cx="90" cy="71" rx="8.0" ry="9.0" fill="#f40000" opacity="1" filter="url(#b1)" />
<ellipse cx="80" cy="74" rx="8.0" ry="6.0" fill="#f40000" opacity="1" filter="url(#b1)" />
<ellipse cx="76.7" cy="93" rx="9" ry="4" fill="#00e8f0" opacity="0.9" filter="url(#b1_5)" />
<ellipse cx="1" cy="86" rx="3" ry="10" fill="#00e0f0" opacity="0.9" filter="url(#b1)" />
<path d="M47.5 0V96M0 47.5H95" stroke="#c8d8f0" stroke-width="1" opacity="0.85"/>
</g></g>
<g transform="translate(44,250)"><g clip-path="url(#c7)"><rect x="0" y="0" width="96" height="96" fill="#38a8a8"/>
<g filter="url(#b1_5)" opacity="0.75">
<ellipse cx="3.1" cy="12.3" rx="4.6" ry="5.7" fill="#5050b0" transform="rotate(171 3.1 12.3)"/>
<ellipse cx="51.2" cy="67.5" rx="3.6" ry="6.9" fill="#40b0a8" transform="rotate(119 51.2 67.5)"/>
<ellipse cx="14.6" cy="51.3" rx="4.8" ry="4.7" fill="#38a0c0" transform="rotate(17 14.6 51.3)"/>
<ellipse cx="3.9" cy="88.5" rx="4.6" ry="3.8" fill="#30d070" transform="rotate(71 3.9 88.5)"/>
<ellipse cx="56.9" cy="24.7" rx="5.9" ry="4.7" fill="#38a0c0" transform="rotate(11 56.9 24.7)"/>
<ellipse cx="6.7" cy="18.5" rx="3.5" ry="3.6" fill="#6a6a98" transform="rotate(5 6.7 18.5)"/>
<ellipse cx="69.6" cy="81.9" rx="5.6" ry="3.9" fill="#6a6a98" transform="rotate(131 69.6 81.9)"/>
<ellipse cx="19.8" cy="61.0" rx="3.9" ry="3.2" fill="#30d070" transform="rotate(53 19.8 61.0)"/>
<ellipse cx="54.6" cy="46.3" rx="5.6" ry="4.3" fill="#5050b0" transform="rotate(176 54.6 46.3)"/>
<ellipse cx="93.4" cy="74.7" rx="4.2" ry="3.7" fill="#38a0c0" transform="rotate(168 93.4 74.7)"/>
<ellipse cx="79.1" cy="29.1" rx="3.7" ry="3.1" fill="#38a0c0" transform="rotate(67 79.1 29.1)"/>
<ellipse cx="90.0" cy="63.6" rx="4.1" ry="4.2" fill="#5050b0" transform="rotate(21 90.0 63.6)"/>
<ellipse cx="20.6" cy="32.7" rx="4.6" ry="3.2" fill="#40b0a8" transform="rotate(48 20.6 32.7)"/>
<ellipse cx="82.3" cy="60.6" rx="6.8" ry="3.8" fill="#5050b0" transform="rotate(128 82.3 60.6)"/>
<ellipse cx="80.6" cy="45.8" rx="5.0" ry="6.2" fill="#30d070" transform="rotate(155 80.6 45.8)"/>
<ellipse cx="92.3" cy="47.1" rx="5.4" ry="6.4" fill="#6a6a98" transform="rotate(25 92.3 47.1)"/>
<ellipse cx="68.7" cy="65.7" rx="6.9" ry="6.1" fill="#30d070" transform="rotate(88 68.7 65.7)"/>
<ellipse cx="73.9" cy="45.2" rx="3.9" ry="3.4" fill="#38a0c0" transform="rotate(51 73.9 45.2)"/>
<ellipse cx="18.2" cy="6.1" rx="3.5" ry="6.5" fill="#40b0a8" transform="rotate(166 18.2 6.1)"/>
<ellipse cx="83.6" cy="74.6" rx="6.8" ry="6.5" fill="#5050b0" transform="rotate(100 83.6 74.6)"/>
<ellipse cx="53.4" cy="49.2" rx="5.8" ry="5.0" fill="#5050b0" transform="rotate(94 53.4 49.2)"/>
<ellipse cx="68.0" cy="44.5" rx="5.9" ry="4.9" fill="#5050b0" transform="rotate(67 68.0 44.5)"/>
<ellipse cx="50.1" cy="33.9" rx="3.8" ry="4.2" fill="#6a6a98" transform="rotate(104 50.1 33.9)"/>
<ellipse cx="17.3" cy="80.5" rx="3.5" ry="4.7" fill="#5050b0" transform="rotate(44 17.3 80.5)"/>
<ellipse cx="83.2" cy="20.8" rx="6.6" ry="4.2" fill="#38a0c0" transform="rotate(44 83.2 20.8)"/>
<ellipse cx="73.7" cy="69.6" rx="6.3" ry="3.1" fill="#38a0c0" transform="rotate(149 73.7 69.6)"/>
<ellipse cx="27.2" cy="51.4" rx="4.7" ry="5.8" fill="#5050b0" transform="rotate(72 27.2 51.4)"/>
<ellipse cx="77.2" cy="37.3" rx="3.8" ry="3.9" fill="#30d070" transform="rotate(53 77.2 37.3)"/>
<ellipse cx="90.3" cy="12.3" rx="3.9" ry="6.9" fill="#38a0c0" transform="rotate(125 90.3 12.3)"/>
<ellipse cx="83.7" cy="43.6" rx="5.6" ry="5.6" fill="#6a6a98" transform="rotate(6 83.7 43.6)"/>
<ellipse cx="46.4" cy="29.3" rx="4.9" ry="3.0" fill="#40b0a8" transform="rotate(50 46.4 29.3)"/>
<ellipse cx="27.1" cy="28.2" rx="6.6" ry="4.0" fill="#30d070" transform="rotate(73 27.1 28.2)"/>
<ellipse cx="73.5" cy="23.5" rx="5.4" ry="6.4" fill="#38a0c0" transform="rotate(138 73.5 23.5)"/>
<ellipse cx="80.2" cy="63.7" rx="5.8" ry="3.1" fill="#38a0c0" transform="rotate(89 80.2 63.7)"/>
<ellipse cx="30.2" cy="45.1" rx="6.8" ry="4.0" fill="#6a6a98" transform="rotate(72 30.2 45.1)"/>
<ellipse cx="21.6" cy="83.6" rx="6.1" ry="3.2" fill="#38a0c0" transform="rotate(44 21.6 83.6)"/>
<ellipse cx="66.9" cy="6.4" rx="6.8" ry="5.7" fill="#30d070" transform="rotate(49 66.9 6.4)"/>
<ellipse cx="11.9" cy="52.5" rx="4.3" ry="5.9" fill="#6a6a98" transform="rotate(25 11.9 52.5)"/>
<ellipse cx="6.4" cy="30.8" rx="3.2" ry="4.6" fill="#38a0c0" transform="rotate(155 6.4 30.8)"/>
<ellipse cx="52.2" cy="9.1" rx="5.0" ry="4.9" fill="#30d070" transform="rotate(86 52.2 9.1)"/>
<ellipse cx="46.0" cy="65.1" rx="6.6" ry="6.3" fill="#30d070" transform="rotate(42 46.0 65.1)"/>
<ellipse cx="93.4" cy="44.8" rx="4.4" ry="6.7" fill="#6a6a98" transform="rotate(164 93.4 44.8)"/>
<ellipse cx="31.6" cy="37.8" rx="4.7" ry="6.8" fill="#6a6a98" transform="rotate(7 31.6 37.8)"/>
<ellipse cx="69.2" cy="43.5" rx="4.6" ry="6.3" fill="#38a0c0" transform="rotate(164 69.2 43.5)"/>
<ellipse cx="41.4" cy="53.2" rx="6.1" ry="4.8" fill="#5050b0" transform="rotate(157 41.4 53.2)"/>
<ellipse cx="30.2" cy="67.2" rx="3.8" ry="5.6" fill="#6a6a98" transform="rotate(41 30.2 67.2)"/>
<ellipse cx="33.4" cy="90.3" rx="4.7" ry="4.3" fill="#30d070" transform="rotate(108 33.4 90.3)"/>
<ellipse cx="77.5" cy="40.7" rx="3.3" ry="5.6" fill="#30d070" transform="rotate(146 77.5 40.7)"/>
<ellipse cx="90.8" cy="12.7" rx="6.4" ry="5.8" fill="#30d070" transform="rotate(48 90.8 12.7)"/>
<ellipse cx="73.7" cy="41.8" rx="3.3" ry="3.4" fill="#38a0c0" transform="rotate(157 73.7 41.8)"/>
<ellipse cx="45.9" cy="15.2" rx="4.7" ry="3.6" fill="#30d070" transform="rotate(108 45.9 15.2)"/>
<ellipse cx="30.9" cy="79.9" rx="5.2" ry="6.1" fill="#40b0a8" transform="rotate(124 30.9 79.9)"/>
<ellipse cx="79.6" cy="77.2" rx="5.8" ry="3.9" fill="#38a0c0" transform="rotate(107 79.6 77.2)"/>
<ellipse cx="72.6" cy="26.3" rx="5.2" ry="6.1" fill="#38a0c0" transform="rotate(79 72.6 26.3)"/>
<ellipse cx="31.2" cy="57.7" rx="5.7" ry="6.0" fill="#38a0c0" transform="rotate(30 31.2 57.7)"/>
<ellipse cx="65.3" cy="15.1" rx="6.8" ry="5.9" fill="#5050b0" transform="rotate(77 65.3 15.1)"/>
<ellipse cx="90.9" cy="17.9" rx="5.0" ry="5.7" fill="#38a0c0" transform="rotate(64 90.9 17.9)"/>
<ellipse cx="37.8" cy="84.6" rx="6.3" ry="4.3" fill="#6a6a98" transform="rotate(67 37.8 84.6)"/>
<ellipse cx="72.1" cy="68.3" rx="4.9" ry="4.2" fill="#5050b0" transform="rotate(127 72.1 68.3)"/>
<ellipse cx="69.9" cy="56.4" rx="4.4" ry="6.4" fill="#40b0a8" transform="rotate(136 69.9 56.4)"/>
<ellipse cx="85.4" cy="57.2" rx="6.3" ry="3.3" fill="#40b0a8" transform="rotate(146 85.4 57.2)"/>
<ellipse cx="80.0" cy="34.0" rx="3.7" ry="3.3" fill="#6a6a98" transform="rotate(75 80.0 34.0)"/>
<ellipse cx="49.5" cy="90.6" rx="4.6" ry="3.4" fill="#40b0a8" transform="rotate(73 49.5 90.6)"/>
<ellipse cx="49.3" cy="16.9" rx="3.1" ry="3.3" fill="#5050b0" transform="rotate(71 49.3 16.9)"/>
<ellipse cx="28.5" cy="72.6" rx="5.9" ry="3.4" fill="#5050b0" transform="rotate(45 28.5 72.6)"/>
<ellipse cx="82.0" cy="57.8" rx="6.7" ry="4.4" fill="#6a6a98" transform="rotate(77 82.0 57.8)"/>
<ellipse cx="93.3" cy="61.6" rx="6.9" ry="5.8" fill="#38a0c0" transform="rotate(43 93.3 61.6)"/>
<ellipse cx="21.7" cy="3.6" rx="5.9" ry="5.4" fill="#40b0a8" transform="rotate(162 21.7 3.6)"/>
<ellipse cx="27.8" cy="19.3" rx="3.9" ry="4.8" fill="#30d070" transform="rotate(84 27.8 19.3)"/>
<ellipse cx="35.6" cy="23.4" rx="5.6" ry="5.6" fill="#30d070" transform="rotate(174 35.6 23.4)"/>
</g>
<ellipse cx="30" cy="18" rx="10" ry="7" fill="#4a50b8" opacity="0.8" filter="url(#b2)" />
<ellipse cx="62" cy="32" rx="14" ry="12" fill="#4a50b8" opacity="0.8" filter="url(#b2)" />
<ellipse cx="28" cy="38" rx="6" ry="10" fill="#4a50b8" opacity="0.8" filter="url(#b2)" />
<ellipse cx="60" cy="70" rx="12" ry="12" fill="#4a50b8" opacity="0.7" filter="url(#b2)" />
<ellipse cx="25" cy="70" rx="8" ry="10" fill="#4a50b8" opacity="0.7" filter="url(#b2)" />
<ellipse cx="80" cy="60" rx="6" ry="10" fill="#4a50b8" opacity="0.5" filter="url(#b2)" />
<ellipse cx="48" cy="15" rx="8" ry="5" fill="#4a50b8" opacity="0.5" filter="url(#b2)" />
<ellipse cx="12" cy="30" rx="8" ry="10" fill="#30d070" opacity="0.8" filter="url(#b2)" />
<ellipse cx="40" cy="50" rx="8" ry="6" fill="#30d070" opacity="0.7" filter="url(#b2)" />
<ellipse cx="85" cy="35" rx="8" ry="10" fill="#30d070" opacity="0.7" filter="url(#b2)" />
<ellipse cx="12" cy="50" rx="6" ry="6" fill="#30d070" opacity="0.6" filter="url(#b2)" />
<ellipse cx="45" cy="92" rx="6" ry="6" fill="#30d070" opacity="1" filter="url(#b2)" />
<ellipse cx="65" cy="5" rx="8" ry="5" fill="#30d070" opacity="0.7" filter="url(#b2)" />
<ellipse cx="48" cy="50" rx="48" ry="60" fill="none" opacity="1" filter="url(#b1_5)" stroke="#1010c0" stroke-width="5"/>
<ellipse cx="2" cy="90" rx="8" ry="12" fill="#080850" opacity="0.9" filter="url(#b2)" />
<ellipse cx="92" cy="90" rx="6" ry="10" fill="#0a0a80" opacity="0.8" filter="url(#b2)" />
<ellipse cx="0" cy="2" rx="8" ry="10" fill="url(#jh)" opacity="1" />
<ellipse cx="96" cy="4" rx="6" ry="8" fill="url(#jg)" opacity="1" />
<path d="M49.3 0V96M0 48.5H96" stroke="#c8e0f0" stroke-width="1" opacity="0.85"/>
</g></g>
<g transform="translate(142,250)"><g clip-path="url(#c8)"><rect x="0" y="0" width="96" height="96" fill="#303038"/>
<ellipse cx="48" cy="50" rx="50" ry="50" fill="#1414e0" opacity="1" filter="url(#b2)" />
<ellipse cx="48" cy="54" rx="43" ry="44" fill="#38a8b8" opacity="1" filter="url(#b2)" />
<ellipse cx="35" cy="32.5" rx="9" ry="7" fill="#5a5aa8" opacity="0.75" filter="url(#b2)" />
<ellipse cx="57" cy="32.5" rx="9" ry="7" fill="#5a5aa8" opacity="0.75" filter="url(#b2)" />
<ellipse cx="40" cy="60" rx="8" ry="10" fill="#5a5aa8" opacity="0.6" filter="url(#b2)" />
<ellipse cx="60" cy="62" rx="8" ry="8" fill="#5a5aa8" opacity="0.6" filter="url(#b2)" />
<ellipse cx="48" cy="76" rx="16" ry="6" fill="#5a5aa8" opacity="0.5" filter="url(#b2)" />
<ellipse cx="75" cy="50" rx="6" ry="10" fill="#5a5aa8" opacity="0.5" filter="url(#b2)" />
<ellipse cx="25" cy="50" rx="6" ry="8" fill="#5a5aa8" opacity="0.4" filter="url(#b2)" />
<ellipse cx="9" cy="39" rx="6" ry="12" fill="#30d070" opacity="0.85" filter="url(#b2)" />
<ellipse cx="39" cy="47" rx="10" ry="5" fill="#30d070" opacity="0.85" filter="url(#b2)" />
<ellipse cx="67.6" cy="15.5" rx="8" ry="5" fill="#30d070" opacity="0.8" filter="url(#b2)" />
<ellipse cx="44" cy="14" rx="6" ry="5" fill="#30d070" opacity="0.5" filter="url(#b2)" />
<ellipse cx="80.6" cy="39" rx="6" ry="8" fill="#30d070" opacity="0.6" filter="url(#b2)" />
<ellipse cx="22" cy="22" rx="6" ry="6" fill="#30d070" opacity="0.5" filter="url(#b2)" />
<g filter="url(#b1_5)" opacity="0.6">
<ellipse cx="17.6" cy="24.4" rx="3.9" ry="5.7" fill="#6a6a98" transform="rotate(4 17.6 24.4)"/>
<ellipse cx="14.8" cy="30.8" rx="4.0" ry="3.2" fill="#6a6a98" transform="rotate(67 14.8 30.8)"/>
<ellipse cx="12.1" cy="55.8" rx="3.4" ry="3.0" fill="#5050b0" transform="rotate(151 12.1 55.8)"/>
<ellipse cx="80.6" cy="23.7" rx="3.2" ry="3.4" fill="#38a0c0" transform="rotate(20 80.6 23.7)"/>
<ellipse cx="23.5" cy="13.2" rx="3.1" ry="3.1" fill="#30d070" transform="rotate(41 23.5 13.2)"/>
<ellipse cx="45.7" cy="54.2" rx="4.5" ry="4.6" fill="#30d070" transform="rotate(102 45.7 54.2)"/>
<ellipse cx="53.5" cy="56.7" rx="4.8" ry="3.7" fill="#30d070" transform="rotate(14 53.5 56.7)"/>
<ellipse cx="59.7" cy="60.8" rx="3.9" ry="5.1" fill="#6a6a98" transform="rotate(2 59.7 60.8)"/>
<ellipse cx="25.0" cy="21.4" rx="6.0" ry="5.6" fill="#5050b0" transform="rotate(119 25.0 21.4)"/>
<ellipse cx="15.5" cy="29.5" rx="4.2" ry="3.6" fill="#40b0a8" transform="rotate(88 15.5 29.5)"/>
<ellipse cx="48.3" cy="42.4" rx="4.0" ry="4.1" fill="#6a6a98" transform="rotate(172 48.3 42.4)"/>
<ellipse cx="74.1" cy="47.8" rx="4.6" ry="4.5" fill="#5050b0" transform="rotate(69 74.1 47.8)"/>
<ellipse cx="53.8" cy="33.5" rx="5.5" ry="5.9" fill="#5050b0" transform="rotate(109 53.8 33.5)"/>
<ellipse cx="71.2" cy="49.5" rx="3.4" ry="3.7" fill="#40b0a8" transform="rotate(90 71.2 49.5)"/>
<ellipse cx="19.8" cy="12.1" rx="5.6" ry="3.5" fill="#30d070" transform="rotate(140 19.8 12.1)"/>
<ellipse cx="42.0" cy="25.1" rx="4.2" ry="5.9" fill="#6a6a98" transform="rotate(30 42.0 25.1)"/>
<ellipse cx="38.3" cy="16.8" rx="5.1" ry="5.9" fill="#5050b0" transform="rotate(23 38.3 16.8)"/>
<ellipse cx="61.8" cy="27.2" rx="5.0" ry="4.1" fill="#40b0a8" transform="rotate(148 61.8 27.2)"/>
<ellipse cx="14.5" cy="68.0" rx="3.5" ry="3.0" fill="#38a0c0" transform="rotate(130 14.5 68.0)"/>
<ellipse cx="60.6" cy="56.4" rx="4.1" ry="3.3" fill="#30d070" transform="rotate(34 60.6 56.4)"/>
<ellipse cx="59.2" cy="21.0" rx="4.9" ry="3.2" fill="#40b0a8" transform="rotate(1 59.2 21.0)"/>
<ellipse cx="71.7" cy="26.7" rx="4.6" ry="3.4" fill="#40b0a8" transform="rotate(131 71.7 26.7)"/>
<ellipse cx="20.7" cy="24.9" rx="5.0" ry="4.0" fill="#40b0a8" transform="rotate(55 20.7 24.9)"/>
<ellipse cx="25.1" cy="25.5" rx="5.4" ry="3.3" fill="#40b0a8" transform="rotate(176 25.1 25.5)"/>
<ellipse cx="29.8" cy="30.5" rx="5.1" ry="4.5" fill="#5050b0" transform="rotate(111 29.8 30.5)"/>
<ellipse cx="12.7" cy="52.1" rx="3.0" ry="4.7" fill="#40b0a8" transform="rotate(135 12.7 52.1)"/>
<ellipse cx="24.8" cy="17.1" rx="5.2" ry="5.8" fill="#6a6a98" transform="rotate(102 24.8 17.1)"/>
<ellipse cx="15.8" cy="49.3" rx="5.7" ry="4.3" fill="#5050b0" transform="rotate(156 15.8 49.3)"/>
<ellipse cx="33.9" cy="50.1" rx="5.3" ry="5.5" fill="#40b0a8" transform="rotate(58 33.9 50.1)"/>
<ellipse cx="81.3" cy="59.0" rx="3.8" ry="3.5" fill="#38a0c0" transform="rotate(39 81.3 59.0)"/>
<ellipse cx="33.8" cy="66.6" rx="3.1" ry="4.1" fill="#6a6a98" transform="rotate(25 33.8 66.6)"/>
<ellipse cx="81.5" cy="29.4" rx="5.9" ry="5.1" fill="#5050b0" transform="rotate(0 81.5 29.4)"/>
<ellipse cx="44.2" cy="20.7" rx="5.4" ry="4.3" fill="#40b0a8" transform="rotate(110 44.2 20.7)"/>
<ellipse cx="12.3" cy="59.8" rx="5.1" ry="5.3" fill="#30d070" transform="rotate(177 12.3 59.8)"/>
<ellipse cx="33.7" cy="42.4" rx="4.5" ry="4.4" fill="#40b0a8" transform="rotate(101 33.7 42.4)"/>
<ellipse cx="70.2" cy="66.0" rx="3.8" ry="5.1" fill="#5050b0" transform="rotate(163 70.2 66.0)"/>
<ellipse cx="37.2" cy="18.1" rx="4.0" ry="4.8" fill="#40b0a8" transform="rotate(113 37.2 18.1)"/>
<ellipse cx="55.3" cy="50.6" rx="4.7" ry="3.0" fill="#38a0c0" transform="rotate(104 55.3 50.6)"/>
<ellipse cx="32.1" cy="25.3" rx="5.6" ry="4.3" fill="#6a6a98" transform="rotate(121 32.1 25.3)"/>
<ellipse cx="57.0" cy="51.5" rx="5.6" ry="5.1" fill="#40b0a8" transform="rotate(99 57.0 51.5)"/>
<ellipse cx="13.1" cy="68.5" rx="3.6" ry="5.1" fill="#40b0a8" transform="rotate(113 13.1 68.5)"/>
<ellipse cx="79.6" cy="16.4" rx="5.6" ry="5.1" fill="#6a6a98" transform="rotate(142 79.6 16.4)"/>
<ellipse cx="70.9" cy="53.9" rx="5.5" ry="4.7" fill="#5050b0" transform="rotate(32 70.9 53.9)"/>
<ellipse cx="41.4" cy="43.9" rx="4.2" ry="3.5" fill="#30d070" transform="rotate(114 41.4 43.9)"/>
<ellipse cx="43.7" cy="44.3" rx="5.8" ry="3.4" fill="#5050b0" transform="rotate(132 43.7 44.3)"/>
<ellipse cx="31.3" cy="19.0" rx="5.2" ry="5.6" fill="#30d070" transform="rotate(87 31.3 19.0)"/>
<ellipse cx="80.0" cy="36.9" rx="3.3" ry="6.0" fill="#40b0a8" transform="rotate(40 80.0 36.9)"/>
<ellipse cx="45.4" cy="50.9" rx="4.4" ry="4.7" fill="#30d070" transform="rotate(84 45.4 50.9)"/>
<ellipse cx="27.1" cy="25.9" rx="5.2" ry="3.7" fill="#38a0c0" transform="rotate(58 27.1 25.9)"/>
<ellipse cx="77.6" cy="38.8" rx="3.2" ry="5.3" fill="#40b0a8" transform="rotate(5 77.6 38.8)"/>
</g>
<path d="M35 34 C40 33 44 35 46 37 M50 37 C53 34 56 33 61 33" fill="none" stroke="#30303a" stroke-width="2" opacity="1" filter="url(#b0_6)" />
<rect x="0" y="0" width="96" height="4" fill="#202028"/>
<path d="M0 70 C16 72 30 76 40 72 C52 70 64 74 96 70 L96 96 L0 96Z" fill="#1616e8" stroke="none" stroke-width="1" opacity="1" filter="url(#b2)" />
<ellipse cx="52" cy="86" rx="15.5" ry="17" fill="#1414f0" opacity="1" filter="url(#b1)" />
<ellipse cx="52" cy="86" rx="15.5" ry="17" fill="#00e8f0" opacity="1" filter="url(#b1)" />
<ellipse cx="52" cy="86" rx="12.5" ry="14" fill="#28f028" opacity="1" filter="url(#b1)" />
<ellipse cx="52" cy="86" rx="9.5" ry="11" fill="#f0f020" opacity="1" filter="url(#b1)" />
<ellipse cx="52" cy="86" rx="7.5" ry="9" fill="#f40000" opacity="1" filter="url(#b1)" />
<ellipse cx="14" cy="94" rx="18" ry="16" fill="#1414f0" opacity="1" filter="url(#b1)" />
<ellipse cx="14" cy="94" rx="15" ry="13" fill="#00e8f0" opacity="1" filter="url(#b1)" />
<ellipse cx="14" cy="94" rx="12" ry="10" fill="#28f028" opacity="1" filter="url(#b1)" />
<ellipse cx="14" cy="94" rx="9" ry="7" fill="#f0f020" opacity="1" filter="url(#b1)" />
<ellipse cx="14" cy="94" rx="7" ry="5" fill="#f40000" opacity="1" filter="url(#b1)" />
<ellipse cx="88" cy="90" rx="20" ry="18" fill="#1414f0" opacity="1" filter="url(#b1)" />
<ellipse cx="88" cy="90" rx="17" ry="15" fill="#00e8f0" opacity="1" filter="url(#b1)" />
<ellipse cx="88" cy="90" rx="14" ry="12" fill="#28f028" opacity="1" filter="url(#b1)" />
<ellipse cx="88" cy="90" rx="11" ry="9" fill="#f0f020" opacity="1" filter="url(#b1)" />
<ellipse cx="88" cy="90" rx="9" ry="7" fill="#f40000" opacity="1" filter="url(#b1)" />
<ellipse cx="94" cy="11" rx="13" ry="15" fill="#1414f0" opacity="1" filter="url(#b1)" />
<ellipse cx="94" cy="11" rx="11" ry="13" fill="#00e8f0" opacity="1" filter="url(#b1)" />
<ellipse cx="94" cy="11" rx="9" ry="11" fill="#28f028" opacity="1" filter="url(#b1)" />
<ellipse cx="94" cy="11" rx="6" ry="8" fill="#f0f020" opacity="1" filter="url(#b1)" />
<ellipse cx="94" cy="11" rx="4" ry="6" fill="#f40000" opacity="1" filter="url(#b1)" />
<path d="M48 0V96M0 48H96" stroke="#c8e0f0" stroke-width="1" opacity="0.85"/>
</g></g>
<g transform="translate(240,250)"><g clip-path="url(#c9)"><rect x="0" y="0" width="95" height="96" fill="#303038"/>
<path d="M0 14 C20 6 50 2 95 4 L95 96 L0 96Z" fill="#2030e0" stroke="none" stroke-width="1" opacity="1" filter="url(#b2)" />
<path d="M2 16 C20 10 50 6 92 8 L92 80 L0 80Z" fill="#4a5ac0" stroke="none" stroke-width="1" opacity="1" filter="url(#b2)" />
<ellipse cx="22" cy="40" rx="22" ry="34" fill="#38b8b0" opacity="0.95" filter="url(#b3)" />
<ellipse cx="22" cy="22" rx="9" ry="11" fill="#30d070" opacity="0.85" filter="url(#b2)" />
<ellipse cx="15.5" cy="61" rx="10" ry="10" fill="#38a8b0" opacity="0.8" filter="url(#b2)" />
<ellipse cx="22" cy="66" rx="3" ry="3" fill="#202080" opacity="0.8" filter="url(#b1)" />
<path d="M45 12 C60 8 75 10 92 14" fill="none" stroke="#38b8b8" stroke-width="9" opacity="0.8" filter="url(#b2)" />
<path d="M48 26 C60 20 75 22 92 28" fill="none" stroke="#6a6a88" stroke-width="10" opacity="0.75" filter="url(#b2)" />
<g filter="url(#b1_5)" opacity="0.5">
<ellipse cx="54.2" cy="53.7" rx="5.5" ry="3.8" fill="#38a0c0" transform="rotate(164 54.2 53.7)"/>
<ellipse cx="20.4" cy="55.0" rx="4.9" ry="4.5" fill="#38a0c0" transform="rotate(87 20.4 55.0)"/>
<ellipse cx="28.8" cy="56.4" rx="3.2" ry="4.2" fill="#38a0c0" transform="rotate(89 28.8 56.4)"/>
<ellipse cx="8.6" cy="52.1" rx="5.2" ry="4.3" fill="#30d070" transform="rotate(167 8.6 52.1)"/>
<ellipse cx="52.9" cy="57.0" rx="3.4" ry="3.2" fill="#30d070" transform="rotate(179 52.9 57.0)"/>
<ellipse cx="91.2" cy="16.4" rx="4.1" ry="5.0" fill="#5050b0" transform="rotate(92 91.2 16.4)"/>
<ellipse cx="32.2" cy="35.4" rx="5.0" ry="4.7" fill="#6a6a98" transform="rotate(33 32.2 35.4)"/>
<ellipse cx="13.7" cy="14.2" rx="5.6" ry="5.2" fill="#38a0c0" transform="rotate(153 13.7 14.2)"/>
<ellipse cx="9.6" cy="18.2" rx="5.4" ry="3.0" fill="#6a6a98" transform="rotate(50 9.6 18.2)"/>
<ellipse cx="21.9" cy="24.7" rx="5.0" ry="4.4" fill="#6a6a98" transform="rotate(142 21.9 24.7)"/>
<ellipse cx="55.9" cy="42.0" rx="5.6" ry="4.5" fill="#40b0a8" transform="rotate(87 55.9 42.0)"/>
<ellipse cx="37.4" cy="63.5" rx="3.3" ry="5.6" fill="#40b0a8" transform="rotate(169 37.4 63.5)"/>
<ellipse cx="59.9" cy="59.7" rx="5.6" ry="5.5" fill="#5050b0" transform="rotate(164 59.9 59.7)"/>
<ellipse cx="68.2" cy="43.9" rx="5.1" ry="5.7" fill="#30d070" transform="rotate(83 68.2 43.9)"/>
<ellipse cx="41.1" cy="45.5" rx="3.8" ry="5.6" fill="#6a6a98" transform="rotate(70 41.1 45.5)"/>
<ellipse cx="70.8" cy="33.0" rx="5.9" ry="3.5" fill="#5050b0" transform="rotate(165 70.8 33.0)"/>
<ellipse cx="32.1" cy="74.9" rx="5.7" ry="3.5" fill="#30d070" transform="rotate(150 32.1 74.9)"/>
<ellipse cx="42.2" cy="65.4" rx="5.8" ry="5.6" fill="#38a0c0" transform="rotate(118 42.2 65.4)"/>
<ellipse cx="7.1" cy="61.3" rx="5.7" ry="3.0" fill="#6a6a98" transform="rotate(17 7.1 61.3)"/>
<ellipse cx="27.8" cy="50.5" rx="4.7" ry="3.6" fill="#5050b0" transform="rotate(36 27.8 50.5)"/>
<ellipse cx="57.6" cy="16.3" rx="5.0" ry="3.0" fill="#6a6a98" transform="rotate(179 57.6 16.3)"/>
<ellipse cx="63.8" cy="12.4" rx="5.8" ry="4.2" fill="#40b0a8" transform="rotate(146 63.8 12.4)"/>
<ellipse cx="16.2" cy="14.6" rx="3.1" ry="5.3" fill="#38a0c0" transform="rotate(41 16.2 14.6)"/>
<ellipse cx="13.9" cy="36.2" rx="5.4" ry="5.2" fill="#30d070" transform="rotate(174 13.9 36.2)"/>
<ellipse cx="70.4" cy="67.1" rx="3.0" ry="3.0" fill="#30d070" transform="rotate(111 70.4 67.1)"/>
<ellipse cx="32.8" cy="20.5" rx="4.0" ry="4.0" fill="#6a6a98" transform="rotate(135 32.8 20.5)"/>
<ellipse cx="27.9" cy="69.3" rx="4.6" ry="5.5" fill="#30d070" transform="rotate(18 27.9 69.3)"/>
<ellipse cx="40.5" cy="20.6" rx="5.4" ry="4.6" fill="#6a6a98" transform="rotate(58 40.5 20.6)"/>
<ellipse cx="68.9" cy="12.5" rx="3.1" ry="3.4" fill="#5050b0" transform="rotate(65 68.9 12.5)"/>
<ellipse cx="26.2" cy="32.2" rx="5.5" ry="3.0" fill="#6a6a98" transform="rotate(108 26.2 32.2)"/>
<ellipse cx="54.4" cy="75.2" rx="3.8" ry="5.3" fill="#30d070" transform="rotate(29 54.4 75.2)"/>
<ellipse cx="90.1" cy="34.8" rx="3.4" ry="5.9" fill="#6a6a98" transform="rotate(60 90.1 34.8)"/>
<ellipse cx="75.3" cy="14.7" rx="3.7" ry="5.4" fill="#38a0c0" transform="rotate(29 75.3 14.7)"/>
<ellipse cx="84.6" cy="52.7" rx="5.3" ry="5.5" fill="#6a6a98" transform="rotate(34 84.6 52.7)"/>
<ellipse cx="21.5" cy="70.3" rx="4.3" ry="5.4" fill="#30d070" transform="rotate(51 21.5 70.3)"/>
<ellipse cx="37.9" cy="32.6" rx="4.3" ry="4.8" fill="#6a6a98" transform="rotate(144 37.9 32.6)"/>
<ellipse cx="43.1" cy="38.4" rx="3.3" ry="5.3" fill="#5050b0" transform="rotate(50 43.1 38.4)"/>
<ellipse cx="76.6" cy="18.8" rx="3.6" ry="4.0" fill="#5050b0" transform="rotate(150 76.6 18.8)"/>
<ellipse cx="15.6" cy="27.6" rx="5.4" ry="5.8" fill="#6a6a98" transform="rotate(163 15.6 27.6)"/>
<ellipse cx="84.8" cy="49.6" rx="3.3" ry="5.6" fill="#40b0a8" transform="rotate(162 84.8 49.6)"/>
<ellipse cx="50.7" cy="37.3" rx="4.8" ry="5.4" fill="#6a6a98" transform="rotate(89 50.7 37.3)"/>
<ellipse cx="48.6" cy="32.5" rx="4.6" ry="4.6" fill="#30d070" transform="rotate(107 48.6 32.5)"/>
<ellipse cx="84.9" cy="56.7" rx="4.2" ry="3.0" fill="#5050b0" transform="rotate(155 84.9 56.7)"/>
<ellipse cx="30.7" cy="66.6" rx="5.8" ry="5.6" fill="#5050b0" transform="rotate(55 30.7 66.6)"/>
<ellipse cx="7.5" cy="75.5" rx="3.8" ry="4.3" fill="#38a0c0" transform="rotate(168 7.5 75.5)"/>
</g>
<path d="M50.7 32.5 C60 28 75 28 90 34" fill="none" stroke="#303048" stroke-width="2.2" opacity="1" filter="url(#b0_8)" />
<rect x="13" y="80" width="22" height="16" fill="#1010e8"/>
<ellipse cx="24" cy="92" rx="6" ry="4" fill="#101050" opacity="0.8" filter="url(#b1_5)" />
<ellipse cx="1.2" cy="87" rx="13" ry="18" fill="#1414f0" opacity="1" filter="url(#b1)" />
<ellipse cx="1.2" cy="87" rx="13" ry="18" fill="#00e8f0" opacity="1" filter="url(#b1)" />
<ellipse cx="1.2" cy="87" rx="11" ry="16" fill="#28f028" opacity="1" filter="url(#b1)" />
<ellipse cx="1.2" cy="87" rx="8" ry="13" fill="#f0f020" opacity="1" filter="url(#b1)" />
<ellipse cx="1.2" cy="87" rx="6" ry="11" fill="#f40000" opacity="1" filter="url(#b1)" />
<path d="M36 96 C40 84 52 74 70 68 C80 64 88 60 96 56 L96 96Z" fill="#1616e8" stroke="none" stroke-width="1" opacity="1" filter="url(#b1_5)" />
<path d="M38 96 C42 86 54 77 71 71 C81 67 89 63 96 60 L96 96Z" fill="#00e0e8" stroke="none" stroke-width="1" opacity="1" filter="url(#b1_2)" />
<path d="M41 96 C45 88 56 80 72 74 C82 70 90 66 96 63 L96 96Z" fill="#28f028" stroke="none" stroke-width="1" opacity="1" filter="url(#b1_2)" />
<ellipse cx="64" cy="77" rx="20.5" ry="11.0" fill="#1414f0" opacity="1" filter="url(#b1)" transform="rotate(-20 64 77)" />
<ellipse cx="89.7" cy="65" rx="9.0" ry="8.5" fill="#1414f0" opacity="1" filter="url(#b1)" />
<ellipse cx="64" cy="77" rx="20.5" ry="11.0" fill="#00e8f0" opacity="1" filter="url(#b1)" transform="rotate(-20 64 77)" />
<ellipse cx="89.7" cy="65" rx="9.0" ry="8.5" fill="#00e8f0" opacity="1" filter="url(#b1)" />
<ellipse cx="64" cy="77" rx="20.5" ry="11.0" fill="#28f028" opacity="1" filter="url(#b1)" transform="rotate(-20 64 77)" />
<ellipse cx="89.7" cy="65" rx="9.0" ry="8.5" fill="#28f028" opacity="1" filter="url(#b1)" />
<ellipse cx="64" cy="77" rx="20.5" ry="11.0" fill="#f0f020" opacity="1" filter="url(#b1)" transform="rotate(-20 64 77)" />
<ellipse cx="89.7" cy="65" rx="9.0" ry="8.5" fill="#f0f020" opacity="1" filter="url(#b1)" />
<ellipse cx="64" cy="77" rx="18.0" ry="8.5" fill="#f40000" opacity="1" filter="url(#b1)" transform="rotate(-20 64 77)" />
<ellipse cx="89.7" cy="65" rx="6.5" ry="6.0" fill="#f40000" opacity="1" filter="url(#b1)" />
<ellipse cx="74" cy="92" rx="10" ry="4" fill="#00f0e0" opacity="0.9" filter="url(#b1_5)" />
<path d="M47.5 0V96M0 48.5H95" stroke="#c8e0f0" stroke-width="1" opacity="0.85"/>
</g></g>
<text x="55.8" y="44.8" font-size="14" text-anchor="start" >Transverse</text>
<text x="161.1" y="45" font-size="13.9" text-anchor="start" >Coronal</text>
<text x="262" y="46.1" font-size="13.8" text-anchor="stroke="#000" stroke-width="0.25"" >Sagittal</text>
<text x="0" y="0" font-size="14.3" text-anchor="middle" transform="translate(38.4,105.7) rotate(-90)" >Control</text>
<text x="0" y="0" font-size="14" text-anchor="middle" transform="translate(41,213.4) rotate(-90)" >PFFs</text>
<text x="0" y="0" font-size="14" text-anchor="middle" transform="translate(41,301.3) rotate(-90)" >Virus</text>
<rect x="336.5" y="54" width="8.5" height="291" fill="url(#cb)"/>
<text x="348" y="61.2" font-size="13.5" text-anchor="start" >3</text>
<text x="349.5" y="350" font-size="13.5" text-anchor="start" >0</text>
<g id="chart">
<path d="M414.4 185.5 L422.9 141.1 L430.2 152.3 L436.9 158.5 L444.2 163.0 L451.4 166.5 L458.2 168.4 L465.4 172.1 L472.6 170.8 L479.5 168.6 L486.7 172.8 L493.9 171.1 L500.7 175.1 L507.9 172.0 L515.1 171.8 L522.0 172.4 L529.2 173.4 L536.4 173.7 L550.4 172.8 L571.7 171.3 L592.9 175.9 L614.2 176.3 L624.8 176.3" fill="none" stroke="#3a148a" stroke-width="0.9"/>
<path d="M635.3 176.1 L645.4 176.1 L665.7 176.8 L686.0 176.2 L706.3 177.6 L726.6 176.6 L746.9 177.7 L777.3 180.8" fill="none" stroke="#3a148a" stroke-width="0.9"/>
<path d="M414.4 181.3V189.6M412.0 181.3H416.8M412.0 189.6H416.8M422.9 124.5V157.7M420.5 124.5H425.3M420.5 157.7H425.3M430.2 138.6V165.9M427.8 138.6H432.6M427.8 165.9H432.6M436.9 146.8V170.2M434.6 146.8H439.3M434.6 170.2H439.3M444.2 152.6V173.3M441.8 152.6H446.6M441.8 173.3H446.6M451.4 157.2V175.9M449.0 157.2H453.8M449.0 175.9H453.8M458.2 159.6V177.1M455.8 159.6H460.6M455.8 177.1H460.6M465.4 163.9V180.4M463.0 163.9H467.8M463.0 180.4H467.8M472.6 162.8V178.7M470.2 162.8H475.0M470.2 178.7H475.0M479.5 160.9V176.4M477.1 160.9H481.9M477.1 176.4H481.9M486.7 165.2V180.3M484.3 165.2H489.1M484.3 180.3H489.1M493.9 163.6V178.6M491.5 163.6H496.3M491.5 178.6H496.3M500.7 167.7V182.5M498.3 167.7H503.1M498.3 182.5H503.1M507.9 164.6V179.4M505.5 164.6H510.3M505.5 179.4H510.3M515.1 164.4V179.1M512.8 164.4H517.5M512.8 179.1H517.5M522.0 165.1V179.7M519.6 165.1H524.4M519.6 179.7H524.4M529.2 166.1V180.7M526.8 166.1H531.6M526.8 180.7H531.6M536.4 166.4V181.0M534.0 166.4H538.8M534.0 181.0H538.8M550.4 165.5V180.1M548.0 165.5H552.8M548.0 180.1H552.8M571.7 164.0V178.5M569.3 164.0H574.1M569.3 178.5H574.1M592.9 168.7V183.2M590.5 168.7H595.3M590.5 183.2H595.3M614.2 169.0V183.5M611.8 169.0H616.6M611.8 183.5H616.6M645.4 171.1V181.1M643.0 171.1H647.8M643.0 181.1H647.8M665.7 172.8V180.8M663.3 172.8H668.1M663.3 180.8H668.1M686.0 172.7V179.7M683.6 172.7H688.4M683.6 179.7H688.4M706.3 174.1V181.1M703.9 174.1H708.7M703.9 181.1H708.7M726.6 172.8V180.4M724.2 172.8H729.0M724.2 180.4H729.0M746.9 173.2V182.2M744.5 173.2H749.3M744.5 182.2H749.3M777.3 175.6V186.0M774.9 175.6H779.7M774.9 186.0H779.7" stroke="#3a148a" stroke-width="1.5" fill="none"/>
<path d="M414.4 183.3L416.6 185.5L414.4 187.7L412.2 185.5Z" fill="#3a148a"/><path d="M422.9 138.9L425.1 141.1L422.9 143.3L420.7 141.1Z" fill="#3a148a"/><path d="M430.2 150.1L432.4 152.3L430.2 154.5L428.0 152.3Z" fill="#3a148a"/><path d="M436.9 156.3L439.1 158.5L436.9 160.7L434.8 158.5Z" fill="#3a148a"/><path d="M444.2 160.8L446.4 163.0L444.2 165.2L442.0 163.0Z" fill="#3a148a"/><path d="M451.4 164.3L453.6 166.5L451.4 168.7L449.2 166.5Z" fill="#3a148a"/><path d="M458.2 166.2L460.4 168.4L458.2 170.6L456.0 168.4Z" fill="#3a148a"/><path d="M465.4 169.9L467.6 172.1L465.4 174.3L463.2 172.1Z" fill="#3a148a"/><path d="M472.6 168.6L474.8 170.8L472.6 173.0L470.4 170.8Z" fill="#3a148a"/><path d="M479.5 166.4L481.7 168.6L479.5 170.8L477.3 168.6Z" fill="#3a148a"/><path d="M486.7 170.6L488.9 172.8L486.7 175.0L484.5 172.8Z" fill="#3a148a"/><path d="M493.9 168.9L496.1 171.1L493.9 173.3L491.7 171.1Z" fill="#3a148a"/><path d="M500.7 172.9L502.9 175.1L500.7 177.3L498.5 175.1Z" fill="#3a148a"/><path d="M507.9 169.8L510.1 172.0L507.9 174.2L505.7 172.0Z" fill="#3a148a"/><path d="M515.1 169.6L517.4 171.8L515.1 174.0L512.9 171.8Z" fill="#3a148a"/><path d="M522.0 170.2L524.2 172.4L522.0 174.6L519.8 172.4Z" fill="#3a148a"/><path d="M529.2 171.2L531.4 173.4L529.2 175.6L527.0 173.4Z" fill="#3a148a"/><path d="M536.4 171.5L538.6 173.7L536.4 175.9L534.2 173.7Z" fill="#3a148a"/><path d="M550.4 170.6L552.6 172.8L550.4 175.0L548.2 172.8Z" fill="#3a148a"/><path d="M571.7 169.1L573.9 171.3L571.7 173.5L569.5 171.3Z" fill="#3a148a"/><path d="M592.9 173.7L595.1 175.9L592.9 178.1L590.7 175.9Z" fill="#3a148a"/><path d="M614.2 174.1L616.4 176.3L614.2 178.5L612.0 176.3Z" fill="#3a148a"/><path d="M645.4 173.9L647.6 176.1L645.4 178.3L643.2 176.1Z" fill="#3a148a"/><path d="M665.7 174.6L667.9 176.8L665.7 179.0L663.5 176.8Z" fill="#3a148a"/><path d="M686.0 174.0L688.2 176.2L686.0 178.4L683.8 176.2Z" fill="#3a148a"/><path d="M706.3 175.4L708.5 177.6L706.3 179.8L704.1 177.6Z" fill="#3a148a"/><path d="M726.6 174.4L728.8 176.6L726.6 178.8L724.4 176.6Z" fill="#3a148a"/><path d="M746.9 175.5L749.1 177.7L746.9 179.9L744.7 177.7Z" fill="#3a148a"/><path d="M777.3 178.6L779.5 180.8L777.3 183.0L775.1 180.8Z" fill="#3a148a"/>
<path d="M414.4 184.4 L422.9 136.4 L430.2 145.6 L436.9 153.1 L444.2 160.9 L451.4 161.4 L458.2 167.4 L465.4 168.4 L472.6 165.7 L479.5 171.2 L486.7 171.5 L493.9 172.0 L500.7 167.4 L507.9 172.0 L515.1 173.2 L522.0 168.2 L529.2 172.8 L536.4 168.3 L550.4 169.5 L571.7 168.5 L592.9 167.8 L614.2 170.2 L624.8 170.2" fill="none" stroke="#1a8a8a" stroke-width="0.9"/>
<path d="M635.3 174.9 L645.4 174.9 L665.7 175.0 L686.0 175.2 L706.3 175.1 L726.6 177.2 L746.9 175.6 L777.3 182.6" fill="none" stroke="#1a8a8a" stroke-width="0.9"/>
<path d="M414.4 180.2V188.5M412.0 180.2H416.8M412.0 188.5H416.8M422.9 117.8V155.1M420.5 117.8H425.3M420.5 155.1H425.3M430.2 130.2V161.0M427.8 130.2H432.6M427.8 161.0H432.6M436.9 139.8V166.4M434.6 139.8H439.3M434.6 166.4H439.3M444.2 149.2V172.6M441.8 149.2H446.6M441.8 172.6H446.6M451.4 150.8V172.0M449.0 150.8H453.8M449.0 172.0H453.8M458.2 157.5V177.4M455.8 157.5H460.6M455.8 177.4H460.6M465.4 159.0V177.8M463.0 159.0H467.8M463.0 177.8H467.8M472.6 156.7V174.8M470.2 156.7H475.0M470.2 174.8H475.0M479.5 162.3V180.0M477.1 162.3H481.9M477.1 180.0H481.9M486.7 162.9V180.2M484.3 162.9H489.1M484.3 180.2H489.1M493.9 163.4V180.5M491.5 163.4H496.3M491.5 180.5H496.3M500.7 159.0V175.9M498.3 159.0H503.1M498.3 175.9H503.1M507.9 163.6V180.5M505.5 163.6H510.3M505.5 180.5H510.3M515.1 164.8V181.6M512.8 164.8H517.5M512.8 181.6H517.5M522.0 159.9V176.6M519.6 159.9H524.4M519.6 176.6H524.4M529.2 164.4V181.1M526.8 164.4H531.6M526.8 181.1H531.6M536.4 160.0V176.7M534.0 160.0H538.8M534.0 176.7H538.8M550.4 161.2V177.8M548.0 161.2H552.8M548.0 177.8H552.8M571.7 160.2V176.8M569.3 160.2H574.1M569.3 176.8H574.1M592.9 159.5V176.1M590.5 159.5H595.3M590.5 176.1H595.3M614.2 161.9V178.4M611.8 161.9H616.6M611.8 178.4H616.6M645.4 171.7V178.1M643.0 171.7H647.8M643.0 178.1H647.8M665.7 170.8V179.2M663.3 170.8H668.1M663.3 179.2H668.1M686.0 171.8V178.5M683.6 171.8H688.4M683.6 178.5H688.4M706.3 170.0V180.1M703.9 170.0H708.7M703.9 180.1H708.7M726.6 173.4V181.0M724.2 173.4H729.0M724.2 181.0H729.0M746.9 170.8V180.5M744.5 170.8H749.3M744.5 180.5H749.3M777.3 177.4V187.8M774.9 177.4H779.7M774.9 187.8H779.7" stroke="#1a8a8a" stroke-width="1.5" fill="none"/>
<path d="M414.4 182.2L416.6 184.4L414.4 186.6L412.2 184.4Z" fill="#1a8a8a"/><path d="M422.9 134.2L425.1 136.4L422.9 138.6L420.7 136.4Z" fill="#1a8a8a"/><path d="M430.2 143.4L432.4 145.6L430.2 147.8L428.0 145.6Z" fill="#1a8a8a"/><path d="M436.9 150.9L439.1 153.1L436.9 155.3L434.8 153.1Z" fill="#1a8a8a"/><path d="M444.2 158.7L446.4 160.9L444.2 163.1L442.0 160.9Z" fill="#1a8a8a"/><path d="M451.4 159.2L453.6 161.4L451.4 163.6L449.2 161.4Z" fill="#1a8a8a"/><path d="M458.2 165.2L460.4 167.4L458.2 169.6L456.0 167.4Z" fill="#1a8a8a"/><path d="M465.4 166.2L467.6 168.4L465.4 170.6L463.2 168.4Z" fill="#1a8a8a"/><path d="M472.6 163.5L474.8 165.7L472.6 167.9L470.4 165.7Z" fill="#1a8a8a"/><path d="M479.5 169.0L481.7 171.2L479.5 173.4L477.3 171.2Z" fill="#1a8a8a"/><path d="M486.7 169.3L488.9 171.5L486.7 173.7L484.5 171.5Z" fill="#1a8a8a"/><path d="M493.9 169.8L496.1 172.0L493.9 174.2L491.7 172.0Z" fill="#1a8a8a"/><path d="M500.7 165.2L502.9 167.4L500.7 169.6L498.5 167.4Z" fill="#1a8a8a"/><path d="M507.9 169.8L510.1 172.0L507.9 174.2L505.7 172.0Z" fill="#1a8a8a"/><path d="M515.1 171.0L517.4 173.2L515.1 175.4L512.9 173.2Z" fill="#1a8a8a"/><path d="M522.0 166.0L524.2 168.2L522.0 170.4L519.8 168.2Z" fill="#1a8a8a"/><path d="M529.2 170.6L531.4 172.8L529.2 175.0L527.0 172.8Z" fill="#1a8a8a"/><path d="M536.4 166.1L538.6 168.3L536.4 170.5L534.2 168.3Z" fill="#1a8a8a"/><path d="M550.4 167.3L552.6 169.5L550.4 171.7L548.2 169.5Z" fill="#1a8a8a"/><path d="M571.7 166.3L573.9 168.5L571.7 170.7L569.5 168.5Z" fill="#1a8a8a"/><path d="M592.9 165.6L595.1 167.8L592.9 170.0L590.7 167.8Z" fill="#1a8a8a"/><path d="M614.2 168.0L616.4 170.2L614.2 172.4L612.0 170.2Z" fill="#1a8a8a"/><path d="M645.4 172.7L647.6 174.9L645.4 177.1L643.2 174.9Z" fill="#1a8a8a"/><path d="M665.7 172.8L667.9 175.0L665.7 177.2L663.5 175.0Z" fill="#1a8a8a"/><path d="M686.0 173.0L688.2 175.2L686.0 177.4L683.8 175.2Z" fill="#1a8a8a"/><path d="M706.3 172.9L708.5 175.1L706.3 177.3L704.1 175.1Z" fill="#1a8a8a"/><path d="M726.6 175.0L728.8 177.2L726.6 179.4L724.4 177.2Z" fill="#1a8a8a"/><path d="M746.9 173.4L749.1 175.6L746.9 177.8L744.7 175.6Z" fill="#1a8a8a"/><path d="M777.3 180.4L779.5 182.6L777.3 184.8L775.1 182.6Z" fill="#1a8a8a"/>
<path d="M414.4 187.3 L422.9 134.6 L430.2 144.2 L436.9 151.5 L444.2 159.9 L451.4 166.3 L458.2 168.7 L465.4 169.8 L472.6 170.1 L479.5 170.1 L486.7 173.4 L493.9 171.4 L500.7 172.9 L507.9 174.4 L515.1 175.0 L522.0 174.4 L529.2 173.2 L536.4 175.1 L550.4 173.5 L571.7 175.0 L592.9 176.4 L614.2 174.6 L624.8 174.6" fill="none" stroke="#e8307a" stroke-width="0.9"/>
<path d="M635.3 177.3 L645.4 177.3 L665.7 178.1 L686.0 176.7 L706.3 178.3 L726.6 177.0 L746.9 178.0 L777.3 180.7" fill="none" stroke="#e8307a" stroke-width="0.9"/>
<path d="M414.4 183.1V191.4M412.0 183.1H416.8M412.0 191.4H416.8M422.9 113.9V155.4M420.5 113.9H425.3M420.5 155.4H425.3M430.2 127.4V161.0M427.8 127.4H432.6M427.8 161.0H432.6M436.9 137.2V165.8M434.6 137.2H439.3M434.6 165.8H439.3M444.2 147.5V172.3M441.8 147.5H446.6M441.8 172.3H446.6M451.4 155.2V177.4M449.0 155.2H453.8M449.0 177.4H453.8M458.2 158.4V179.0M455.8 158.4H460.6M455.8 179.0H460.6M465.4 160.2V179.5M463.0 160.2H467.8M463.0 179.5H467.8M472.6 160.8V179.3M470.2 160.8H475.0M470.2 179.3H475.0M479.5 161.1V179.0M477.1 161.1H481.9M477.1 179.0H481.9M486.7 164.7V182.2M484.3 164.7H489.1M484.3 182.2H489.1M493.9 162.8V180.0M491.5 162.8H496.3M491.5 180.0H496.3M500.7 164.4V181.4M498.3 164.4H503.1M498.3 181.4H503.1M507.9 166.0V182.9M505.5 166.0H510.3M505.5 182.9H510.3M515.1 166.6V183.4M512.8 166.6H517.5M512.8 183.4H517.5M522.0 166.1V182.8M519.6 166.1H524.4M519.6 182.8H524.4M529.2 164.9V181.6M526.8 164.9H531.6M526.8 181.6H531.6M536.4 166.8V183.4M534.0 166.8H538.8M534.0 183.4H538.8M550.4 165.2V181.8M548.0 165.2H552.8M548.0 181.8H552.8M571.7 166.7V183.3M569.3 166.7H574.1M569.3 183.3H574.1M592.9 168.1V184.7M590.5 168.1H595.3M590.5 184.7H595.3M614.2 166.3V182.9M611.8 166.3H616.6M611.8 182.9H616.6M645.4 174.0V180.6M643.0 174.0H647.8M643.0 180.6H647.8M665.7 174.1V182.1M663.3 174.1H668.1M663.3 182.1H668.1M686.0 171.7V181.8M683.6 171.7H688.4M683.6 181.8H688.4M706.3 173.3V183.3M703.9 173.3H708.7M703.9 183.3H708.7M726.6 173.3V180.7M724.2 173.3H729.0M724.2 180.7H729.0M746.9 174.7V181.4M744.5 174.7H749.3M744.5 181.4H749.3M777.3 175.5V185.9M774.9 175.5H779.7M774.9 185.9H779.7" stroke="#e8307a" stroke-width="1.5" fill="none"/>
<path d="M412.2 189.0H416.6L414.4 185.1Z" fill="#e8307a"/><path d="M420.7 136.4H425.1L422.9 132.4Z" fill="#e8307a"/><path d="M428.0 145.9H432.4L430.2 142.0Z" fill="#e8307a"/><path d="M434.8 153.2H439.1L436.9 149.3Z" fill="#e8307a"/><path d="M442.0 161.7H446.4L444.2 157.7Z" fill="#e8307a"/><path d="M449.2 168.0H453.6L451.4 164.1Z" fill="#e8307a"/><path d="M456.0 170.5H460.4L458.2 166.5Z" fill="#e8307a"/><path d="M463.2 171.6H467.6L465.4 167.6Z" fill="#e8307a"/><path d="M470.4 171.8H474.8L472.6 167.9Z" fill="#e8307a"/><path d="M477.3 171.8H481.7L479.5 167.9Z" fill="#e8307a"/><path d="M484.5 175.2H488.9L486.7 171.2Z" fill="#e8307a"/><path d="M491.7 173.2H496.1L493.9 169.2Z" fill="#e8307a"/><path d="M498.5 174.7H502.9L500.7 170.7Z" fill="#e8307a"/><path d="M505.7 176.2H510.1L507.9 172.2Z" fill="#e8307a"/><path d="M512.9 176.8H517.4L515.1 172.8Z" fill="#e8307a"/><path d="M519.8 176.2H524.2L522.0 172.2Z" fill="#e8307a"/><path d="M527.0 175.0H531.4L529.2 171.0Z" fill="#e8307a"/><path d="M534.2 176.8H538.6L536.4 172.9Z" fill="#e8307a"/><path d="M548.2 175.2H552.6L550.4 171.3Z" fill="#e8307a"/><path d="M569.5 176.8H573.9L571.7 172.8Z" fill="#e8307a"/><path d="M590.7 178.1H595.1L592.9 174.2Z" fill="#e8307a"/><path d="M612.0 176.3H616.4L614.2 172.4Z" fill="#e8307a"/><path d="M643.2 179.1H647.6L645.4 175.1Z" fill="#e8307a"/><path d="M663.5 179.9H667.9L665.7 175.9Z" fill="#e8307a"/><path d="M683.8 178.5H688.2L686.0 174.5Z" fill="#e8307a"/><path d="M704.1 180.1H708.5L706.3 176.1Z" fill="#e8307a"/><path d="M724.4 178.8H728.8L726.6 174.8Z" fill="#e8307a"/><path d="M744.7 179.8H749.1L746.9 175.8Z" fill="#e8307a"/><path d="M775.1 182.4H779.5L777.3 178.5Z" fill="#e8307a"/>
<path d="M414.4 186.3 L422.9 128.4 L430.2 141.6 L436.9 149.6 L444.2 152.9 L451.4 155.0 L458.2 161.6 L465.4 159.8 L472.6 160.4 L479.5 162.1 L486.7 162.7 L493.9 168.3 L500.7 164.8 L507.9 163.6 L515.1 168.8 L522.0 167.6 L529.2 167.7 L536.4 166.2 L550.4 166.9 L571.7 166.6 L592.9 164.8 L614.2 169.6 L624.8 169.6" fill="none" stroke="#404040" stroke-width="0.9"/>
<path d="M635.3 176.2 L645.4 176.2 L665.7 176.0 L686.0 173.3 L706.3 176.1 L726.6 175.4 L746.9 175.3 L777.3 181.9" fill="none" stroke="#404040" stroke-width="0.9"/>
<path d="M414.4 182.2V190.5M412.0 182.2H416.8M412.0 190.5H416.8M422.9 107.7V149.2M420.5 107.7H425.3M420.5 149.2H425.3M430.2 124.1V159.1M427.8 124.1H432.6M427.8 159.1H432.6M436.9 134.3V165.0M434.6 134.3H439.3M434.6 165.0H439.3M444.2 139.1V166.7M441.8 139.1H446.6M441.8 166.7H446.6M451.4 142.3V167.7M449.0 142.3H453.8M449.0 167.7H453.8M458.2 149.6V173.7M455.8 149.6H460.6M455.8 173.7H460.6M465.4 148.3V171.3M463.0 148.3H467.8M463.0 171.3H467.8M472.6 149.2V171.5M470.2 149.2H475.0M470.2 171.5H475.0M479.5 151.1V173.0M477.1 151.1H481.9M477.1 173.0H481.9M486.7 151.9V173.4M484.3 151.9H489.1M484.3 173.4H489.1M493.9 157.7V178.9M491.5 157.7H496.3M491.5 178.9H496.3M500.7 154.2V175.3M498.3 154.2H503.1M498.3 175.3H503.1M507.9 153.1V174.1M505.5 153.1H510.3M505.5 174.1H510.3M515.1 158.4V179.3M512.8 158.4H517.5M512.8 179.3H517.5M522.0 157.2V178.0M519.6 157.2H524.4M519.6 178.0H524.4M529.2 157.3V178.1M526.8 157.3H531.6M526.8 178.1H531.6M536.4 155.8V176.6M534.0 155.8H538.8M534.0 176.6H538.8M550.4 156.5V177.3M548.0 156.5H552.8M548.0 177.3H552.8M571.7 156.3V177.0M569.3 156.3H574.1M569.3 177.0H574.1M592.9 154.4V175.1M590.5 154.4H595.3M590.5 175.1H595.3M614.2 159.2V180.0M611.8 159.2H616.6M611.8 180.0H616.6M645.4 172.8V179.6M643.0 172.8H647.8M643.0 179.6H647.8M665.7 172.7V179.2M663.3 172.7H668.1M663.3 179.2H668.1M686.0 168.4V178.2M683.6 168.4H688.4M683.6 178.2H688.4M706.3 171.9V180.2M703.9 171.9H708.7M703.9 180.2H708.7M726.6 171.6V179.1M724.2 171.6H729.0M724.2 179.1H729.0M746.9 170.8V179.7M744.5 170.8H749.3M744.5 179.7H749.3M777.3 176.7V187.1M774.9 176.7H779.7M774.9 187.1H779.7" stroke="#000000" stroke-width="1.5" fill="none"/>
<circle cx="414.4" cy="186.3" r="2.0" fill="#000000"/><circle cx="422.9" cy="128.4" r="2.0" fill="#000000"/><circle cx="430.2" cy="141.6" r="2.0" fill="#000000"/><circle cx="436.9" cy="149.6" r="2.0" fill="#000000"/><circle cx="444.2" cy="152.9" r="2.0" fill="#000000"/><circle cx="451.4" cy="155.0" r="2.0" fill="#000000"/><circle cx="458.2" cy="161.6" r="2.0" fill="#000000"/><circle cx="465.4" cy="159.8" r="2.0" fill="#000000"/><circle cx="472.6" cy="160.4" r="2.0" fill="#000000"/><circle cx="479.5" cy="162.1" r="2.0" fill="#000000"/><circle cx="486.7" cy="162.7" r="2.0" fill="#000000"/><circle cx="493.9" cy="168.3" r="2.0" fill="#000000"/><circle cx="500.7" cy="164.8" r="2.0" fill="#000000"/><circle cx="507.9" cy="163.6" r="2.0" fill="#000000"/><circle cx="515.1" cy="168.8" r="2.0" fill="#000000"/><circle cx="522.0" cy="167.6" r="2.0" fill="#000000"/><circle cx="529.2" cy="167.7" r="2.0" fill="#000000"/><circle cx="536.4" cy="166.2" r="2.0" fill="#000000"/><circle cx="550.4" cy="166.9" r="2.0" fill="#000000"/><circle cx="571.7" cy="166.6" r="2.0" fill="#000000"/><circle cx="592.9" cy="164.8" r="2.0" fill="#000000"/><circle cx="614.2" cy="169.6" r="2.0" fill="#000000"/><circle cx="645.4" cy="176.2" r="2.0" fill="#000000"/><circle cx="665.7" cy="176.0" r="2.0" fill="#000000"/><circle cx="686.0" cy="173.3" r="2.0" fill="#000000"/><circle cx="706.3" cy="176.1" r="2.0" fill="#000000"/><circle cx="726.6" cy="175.4" r="2.0" fill="#000000"/><circle cx="746.9" cy="175.3" r="2.0" fill="#000000"/><circle cx="777.3" cy="181.9" r="2.0" fill="#000000"/>
<path d="M414.4 183.4 L422.9 107.1 L430.2 122.6 L436.9 136.9 L444.2 142.1 L451.4 148.1 L458.2 156.5 L465.4 156.4 L472.6 158.0 L479.5 160.5 L486.7 162.6 L493.9 164.8 L500.7 165.0 L507.9 166.1 L515.1 167.4 L522.0 164.4 L529.2 166.4 L536.4 163.3 L550.4 168.2 L571.7 162.9 L592.9 164.2 L614.2 162.8 L624.8 162.8" fill="none" stroke="#8ac8f0" stroke-width="0.9"/>
<path d="M635.3 175.6 L645.4 175.6 L665.7 176.6 L686.0 176.1 L706.3 177.5 L726.6 176.8 L746.9 175.5 L777.3 179.8" fill="none" stroke="#8ac8f0" stroke-width="0.9"/>
<path d="M414.4 179.3V187.6M412.0 179.3H416.8M412.0 187.6H416.8M422.9 80.9V133.3M420.5 80.9H425.3M420.5 133.3H425.3M430.2 96.9V148.2M427.8 96.9H432.6M427.8 148.2H432.6M436.9 111.8V162.1M434.6 111.8H439.3M434.6 162.1H439.3M444.2 117.4V166.7M441.8 117.4H446.6M441.8 166.7H446.6M451.4 124.0V172.2M449.0 124.0H453.8M449.0 172.2H453.8M458.2 132.9V180.1M455.8 132.9H460.6M455.8 180.1H460.6M465.4 133.3V179.4M463.0 133.3H467.8M463.0 179.4H467.8M472.6 135.4V180.5M470.2 135.4H475.0M470.2 180.5H475.0M479.5 138.5V182.6M477.1 138.5H481.9M477.1 182.6H481.9M486.7 141.0V184.1M484.3 141.0H489.1M484.3 184.1H489.1M493.9 143.8V185.8M491.5 143.8H496.3M491.5 185.8H496.3M500.7 144.5V185.5M498.3 144.5H503.1M498.3 185.5H503.1M507.9 146.2V186.1M505.5 146.2H510.3M505.5 186.1H510.3M515.1 148.0V186.9M512.8 148.0H517.5M512.8 186.9H517.5M522.0 145.4V183.3M519.6 145.4H524.4M519.6 183.3H524.4M529.2 148.0V184.8M526.8 148.0H531.6M526.8 184.8H531.6M536.4 145.4V181.1M534.0 145.4H538.8M534.0 181.1H538.8M550.4 156.7V179.6M548.0 156.7H552.8M548.0 179.6H552.8M571.7 151.5V174.3M569.3 151.5H574.1M569.3 174.3H574.1M592.9 152.8V175.6M590.5 152.8H595.3M590.5 175.6H595.3M614.2 151.4V174.2M611.8 151.4H616.6M611.8 174.2H616.6M645.4 170.7V180.6M643.0 170.7H647.8M643.0 180.6H647.8M665.7 173.5V179.8M663.3 173.5H668.1M663.3 179.8H668.1M686.0 172.6V179.6M683.6 172.6H688.4M683.6 179.6H688.4M706.3 173.0V182.0M703.9 173.0H708.7M703.9 182.0H708.7M726.6 172.8V180.8M724.2 172.8H729.0M724.2 180.8H729.0M746.9 171.1V179.9M744.5 171.1H749.3M744.5 179.9H749.3M777.3 174.6V185.0M774.9 174.6H779.7M774.9 185.0H779.7" stroke="#70c8f0" stroke-width="1.5" fill="none"/>
<path d="M412.2 183.4H416.6M414.4 181.2V185.6" stroke="#70c8f0" stroke-width="1"/><path d="M420.7 107.1H425.1M422.9 104.9V109.3" stroke="#70c8f0" stroke-width="1"/><path d="M428.0 122.6H432.4M430.2 120.4V124.8" stroke="#70c8f0" stroke-width="1"/><path d="M434.8 136.9H439.1M436.9 134.7V139.1" stroke="#70c8f0" stroke-width="1"/><path d="M442.0 142.1H446.4M444.2 139.9V144.3" stroke="#70c8f0" stroke-width="1"/><path d="M449.2 148.1H453.6M451.4 145.9V150.3" stroke="#70c8f0" stroke-width="1"/><path d="M456.0 156.5H460.4M458.2 154.3V158.7" stroke="#70c8f0" stroke-width="1"/><path d="M463.2 156.4H467.6M465.4 154.2V158.6" stroke="#70c8f0" stroke-width="1"/><path d="M470.4 158.0H474.8M472.6 155.8V160.2" stroke="#70c8f0" stroke-width="1"/><path d="M477.3 160.5H481.7M479.5 158.3V162.7" stroke="#70c8f0" stroke-width="1"/><path d="M484.5 162.6H488.9M486.7 160.4V164.8" stroke="#70c8f0" stroke-width="1"/><path d="M491.7 164.8H496.1M493.9 162.6V167.0" stroke="#70c8f0" stroke-width="1"/><path d="M498.5 165.0H502.9M500.7 162.8V167.2" stroke="#70c8f0" stroke-width="1"/><path d="M505.7 166.1H510.1M507.9 163.9V168.3" stroke="#70c8f0" stroke-width="1"/><path d="M512.9 167.4H517.4M515.1 165.2V169.6" stroke="#70c8f0" stroke-width="1"/><path d="M519.8 164.4H524.2M522.0 162.2V166.6" stroke="#70c8f0" stroke-width="1"/><path d="M527.0 166.4H531.4M529.2 164.2V168.6" stroke="#70c8f0" stroke-width="1"/><path d="M534.2 163.3H538.6M536.4 161.1V165.5" stroke="#70c8f0" stroke-width="1"/><path d="M548.2 168.2H552.6M550.4 166.0V170.4" stroke="#70c8f0" stroke-width="1"/><path d="M569.5 162.9H573.9M571.7 160.7V165.1" stroke="#70c8f0" stroke-width="1"/><path d="M590.7 164.2H595.1M592.9 162.0V166.4" stroke="#70c8f0" stroke-width="1"/><path d="M612.0 162.8H616.4M614.2 160.6V165.0" stroke="#70c8f0" stroke-width="1"/><path d="M643.2 175.6H647.6M645.4 173.4V177.8" stroke="#70c8f0" stroke-width="1"/><path d="M663.5 176.6H667.9M665.7 174.4V178.8" stroke="#70c8f0" stroke-width="1"/><path d="M683.8 176.1H688.2M686.0 173.9V178.3" stroke="#70c8f0" stroke-width="1"/><path d="M704.1 177.5H708.5M706.3 175.3V179.7" stroke="#70c8f0" stroke-width="1"/><path d="M724.4 176.8H728.8M726.6 174.6V179.0" stroke="#70c8f0" stroke-width="1"/><path d="M744.7 175.5H749.1M746.9 173.3V177.7" stroke="#70c8f0" stroke-width="1"/><path d="M775.1 179.8H779.5M777.3 177.6V182.0" stroke="#70c8f0" stroke-width="1"/>
<path d="M414.4 188.1 L422.9 114.0 L430.2 129.4 L436.9 144.6 L444.2 152.1 L451.4 158.3 L458.2 159.4 L465.4 165.1 L472.6 164.8 L479.5 170.6 L486.7 170.8 L493.9 169.7 L500.7 168.8 L507.9 171.9 L515.1 173.7 L522.0 174.5 L529.2 172.1 L536.4 174.4 L550.4 170.7 L571.7 170.6 L592.9 174.7 L614.2 174.1 L624.8 174.1" fill="none" stroke="#a070f0" stroke-width="0.9"/>
<path d="M635.3 175.9 L645.4 175.9 L665.7 175.9 L686.0 178.0 L706.3 176.0 L726.6 177.3 L746.9 177.1 L777.3 185.1" fill="none" stroke="#a070f0" stroke-width="0.9"/>
<path d="M414.4 184.0V192.3M412.0 184.0H416.8M412.0 192.3H416.8M422.9 86.0V142.0M420.5 86.0H425.3M420.5 142.0H425.3M430.2 107.3V151.5M427.8 107.3H432.6M427.8 151.5H432.6M436.9 126.4V162.9M434.6 126.4H439.3M434.6 162.9H439.3M444.2 136.6V167.6M441.8 136.6H446.6M441.8 167.6H446.6M451.4 144.7V171.8M449.0 144.7H453.8M449.0 171.8H453.8M458.2 147.1V171.7M455.8 147.1H460.6M455.8 171.7H460.6M465.4 153.8V176.5M463.0 153.8H467.8M463.0 176.5H467.8M472.6 154.1V175.5M470.2 154.1H475.0M470.2 175.5H475.0M479.5 160.3V181.0M477.1 160.3H481.9M477.1 181.0H481.9M486.7 160.8V180.8M484.3 160.8H489.1M484.3 180.8H489.1M493.9 159.9V179.5M491.5 159.9H496.3M491.5 179.5H496.3M500.7 159.2V178.5M498.3 159.2H503.1M498.3 178.5H503.1M507.9 162.4V181.5M505.5 162.4H510.3M505.5 181.5H510.3M515.1 164.2V183.1M512.8 164.2H517.5M512.8 183.1H517.5M522.0 165.1V184.0M519.6 165.1H524.4M519.6 184.0H524.4M529.2 162.7V181.5M526.8 162.7H531.6M526.8 181.5H531.6M536.4 165.0V183.7M534.0 165.0H538.8M534.0 183.7H538.8M550.4 161.3V180.0M548.0 161.3H552.8M548.0 180.0H552.8M571.7 161.2V179.9M569.3 161.2H574.1M569.3 179.9H574.1M592.9 165.3V184.0M590.5 165.3H595.3M590.5 184.0H595.3M614.2 164.8V183.4M611.8 164.8H616.6M611.8 183.4H616.6M645.4 171.5V180.4M643.0 171.5H647.8M643.0 180.4H647.8M665.7 172.1V179.7M663.3 172.1H668.1M663.3 179.7H668.1M686.0 174.3V181.7M683.6 174.3H688.4M683.6 181.7H688.4M706.3 172.3V179.6M703.9 172.3H708.7M703.9 179.6H708.7M726.6 173.4V181.3M724.2 173.4H729.0M724.2 181.3H729.0M746.9 173.2V181.1M744.5 173.2H749.3M744.5 181.1H749.3M777.3 180.0V190.3M774.9 180.0H779.7M774.9 190.3H779.7" stroke="#a070f0" stroke-width="1.5" fill="none"/>
<rect x="412.4" y="186.2" width="4.0" height="4.0" fill="#a070f0"/><rect x="420.9" y="112.0" width="4.0" height="4.0" fill="#a070f0"/><rect x="428.2" y="127.4" width="4.0" height="4.0" fill="#a070f0"/><rect x="435.0" y="142.7" width="4.0" height="4.0" fill="#a070f0"/><rect x="442.2" y="150.1" width="4.0" height="4.0" fill="#a070f0"/><rect x="449.4" y="156.3" width="4.0" height="4.0" fill="#a070f0"/><rect x="456.2" y="157.4" width="4.0" height="4.0" fill="#a070f0"/><rect x="463.4" y="163.1" width="4.0" height="4.0" fill="#a070f0"/><rect x="470.7" y="162.8" width="4.0" height="4.0" fill="#a070f0"/><rect x="477.5" y="168.7" width="4.0" height="4.0" fill="#a070f0"/><rect x="484.7" y="168.8" width="4.0" height="4.0" fill="#a070f0"/><rect x="491.9" y="167.7" width="4.0" height="4.0" fill="#a070f0"/><rect x="498.7" y="166.8" width="4.0" height="4.0" fill="#a070f0"/><rect x="505.9" y="170.0" width="4.0" height="4.0" fill="#a070f0"/><rect x="513.2" y="171.7" width="4.0" height="4.0" fill="#a070f0"/><rect x="520.0" y="172.5" width="4.0" height="4.0" fill="#a070f0"/><rect x="527.2" y="170.2" width="4.0" height="4.0" fill="#a070f0"/><rect x="534.4" y="172.4" width="4.0" height="4.0" fill="#a070f0"/><rect x="548.4" y="168.7" width="4.0" height="4.0" fill="#a070f0"/><rect x="569.7" y="168.6" width="4.0" height="4.0" fill="#a070f0"/><rect x="590.9" y="172.7" width="4.0" height="4.0" fill="#a070f0"/><rect x="612.2" y="172.1" width="4.0" height="4.0" fill="#a070f0"/><rect x="643.5" y="173.9" width="4.0" height="4.0" fill="#a070f0"/><rect x="663.8" y="173.9" width="4.0" height="4.0" fill="#a070f0"/><rect x="684.0" y="176.0" width="4.0" height="4.0" fill="#a070f0"/><rect x="704.3" y="174.0" width="4.0" height="4.0" fill="#a070f0"/><rect x="724.6" y="175.4" width="4.0" height="4.0" fill="#a070f0"/><rect x="744.9" y="175.1" width="4.0" height="4.0" fill="#a070f0"/><rect x="775.3" y="183.2" width="4.0" height="4.0" fill="#a070f0"/>
<path d="M414.4 186.1 L422.9 125.8 L430.2 141.4 L436.9 147.1 L444.2 152.4 L451.4 160.4 L458.2 159.8 L465.4 162.0 L472.6 167.2 L479.5 164.8 L486.7 166.7 L493.9 166.0 L500.7 168.4 L507.9 166.5 L515.1 166.5 L522.0 171.1 L529.2 171.0 L536.4 167.3 L550.4 165.6 L571.7 170.1 L592.9 168.8 L614.2 168.0 L624.8 168.0" fill="none" stroke="#341a80" stroke-width="0.9"/>
<path d="M635.3 175.4 L645.4 175.4 L665.7 175.4 L686.0 174.5 L706.3 175.2 L726.6 176.3 L746.9 174.1 L777.3 181.6" fill="none" stroke="#341a80" stroke-width="0.9"/>
<path d="M414.4 181.9V190.2M412.0 181.9H416.8M412.0 190.2H416.8M422.9 105.0V146.5M420.5 105.0H425.3M420.5 146.5H425.3M430.2 124.2V158.5M427.8 124.2H432.6M427.8 158.5H432.6M436.9 132.3V161.9M434.6 132.3H439.3M434.6 161.9H439.3M444.2 139.3V165.5M441.8 139.3H446.6M441.8 165.5H446.6M451.4 148.5V172.3M449.0 148.5H453.8M449.0 172.3H453.8M458.2 148.6V170.9M455.8 148.6H460.6M455.8 170.9H460.6M465.4 151.4V172.6M463.0 151.4H467.8M463.0 172.6H467.8M472.6 157.0V177.4M470.2 157.0H475.0M470.2 177.4H475.0M479.5 154.9V174.7M477.1 154.9H481.9M477.1 174.7H481.9M486.7 156.9V176.4M484.3 156.9H489.1M484.3 176.4H489.1M493.9 156.3V175.6M491.5 156.3H496.3M491.5 175.6H496.3M500.7 158.9V177.9M498.3 158.9H503.1M498.3 177.9H503.1M507.9 157.0V176.0M505.5 157.0H510.3M505.5 176.0H510.3M515.1 157.1V176.0M512.8 157.1H517.5M512.8 176.0H517.5M522.0 161.7V180.5M519.6 161.7H524.4M519.6 180.5H524.4M529.2 161.6V180.4M526.8 161.6H531.6M526.8 180.4H531.6M536.4 157.9V176.6M534.0 157.9H538.8M534.0 176.6H538.8M550.4 156.2V174.9M548.0 156.2H552.8M548.0 174.9H552.8M571.7 160.7V179.4M569.3 160.7H574.1M569.3 179.4H574.1M592.9 159.5V178.2M590.5 159.5H595.3M590.5 178.2H595.3M614.2 158.7V177.3M611.8 158.7H616.6M611.8 177.3H616.6M645.4 171.5V179.2M643.0 171.5H647.8M643.0 179.2H647.8M665.7 171.5V179.3M663.3 171.5H668.1M663.3 179.3H668.1M686.0 170.8V178.2M683.6 170.8H688.4M683.6 178.2H688.4M706.3 170.5V179.9M703.9 170.5H708.7M703.9 179.9H708.7M726.6 172.0V180.6M724.2 172.0H729.0M724.2 180.6H729.0M746.9 170.3V177.8M744.5 170.3H749.3M744.5 177.8H749.3M777.3 176.4V186.8M774.9 176.4H779.7M774.9 186.8H779.7" stroke="#341a80" stroke-width="1.5" fill="none"/>
<path d="M412.2 187.8H416.6L414.4 183.9Z" fill="#341a80"/><path d="M420.7 127.5H425.1L422.9 123.6Z" fill="#341a80"/><path d="M428.0 143.1H432.4L430.2 139.2Z" fill="#341a80"/><path d="M434.8 148.9H439.1L436.9 144.9Z" fill="#341a80"/><path d="M442.0 154.2H446.4L444.2 150.2Z" fill="#341a80"/><path d="M449.2 162.2H453.6L451.4 158.2Z" fill="#341a80"/><path d="M456.0 161.5H460.4L458.2 157.6Z" fill="#341a80"/><path d="M463.2 163.8H467.6L465.4 159.8Z" fill="#341a80"/><path d="M470.4 169.0H474.8L472.6 165.0Z" fill="#341a80"/><path d="M477.3 166.6H481.7L479.5 162.6Z" fill="#341a80"/><path d="M484.5 168.4H488.9L486.7 164.5Z" fill="#341a80"/><path d="M491.7 167.7H496.1L493.9 163.8Z" fill="#341a80"/><path d="M498.5 170.2H502.9L500.7 166.2Z" fill="#341a80"/><path d="M505.7 168.3H510.1L507.9 164.3Z" fill="#341a80"/><path d="M512.9 168.3H517.4L515.1 164.3Z" fill="#341a80"/><path d="M519.8 172.9H524.2L522.0 168.9Z" fill="#341a80"/><path d="M527.0 172.8H531.4L529.2 168.8Z" fill="#341a80"/><path d="M534.2 169.0H538.6L536.4 165.1Z" fill="#341a80"/><path d="M548.2 167.3H552.6L550.4 163.4Z" fill="#341a80"/><path d="M569.5 171.8H573.9L571.7 167.9Z" fill="#341a80"/><path d="M590.7 170.6H595.1L592.9 166.6Z" fill="#341a80"/><path d="M612.0 169.8H616.4L614.2 165.8Z" fill="#341a80"/><path d="M643.2 177.1H647.6L645.4 173.2Z" fill="#341a80"/><path d="M663.5 177.1H667.9L665.7 173.2Z" fill="#341a80"/><path d="M683.8 176.3H688.2L686.0 172.3Z" fill="#341a80"/><path d="M704.1 176.9H708.5L706.3 173.0Z" fill="#341a80"/><path d="M724.4 178.0H728.8L726.6 174.1Z" fill="#341a80"/><path d="M744.7 175.8H749.1L746.9 171.9Z" fill="#341a80"/><path d="M775.1 183.4H779.5L777.3 179.4Z" fill="#341a80"/>
<path d="M414.4 183.9 L422.9 133.0 L430.2 141.4 L436.9 153.1 L444.2 155.1 L451.4 161.9 L458.2 161.4 L465.4 163.1 L472.6 167.7 L479.5 165.7 L486.7 170.8 L493.9 172.8 L500.7 170.0 L507.9 173.8 L515.1 173.0 L522.0 171.9 L529.2 170.7 L536.4 173.6 L550.4 174.4 L571.7 169.4 L592.9 172.8 L614.2 168.8 L624.8 168.8" fill="none" stroke="#2a9a9a" stroke-width="0.9"/>
<path d="M635.3 174.6 L645.4 174.6 L665.7 176.0 L686.0 175.4 L706.3 175.6 L726.6 174.5 L746.9 176.0 L777.3 178.0" fill="none" stroke="#2a9a9a" stroke-width="0.9"/>
<path d="M414.4 179.7V188.0M412.0 179.7H416.8M412.0 188.0H416.8M422.9 112.3V153.8M420.5 112.3H425.3M420.5 153.8H425.3M430.2 124.6V158.3M427.8 124.6H432.6M427.8 158.3H432.6M436.9 138.8V167.4M434.6 138.8H439.3M434.6 167.4H439.3M444.2 142.7V167.5M441.8 142.7H446.6M441.8 167.5H446.6M451.4 150.8V173.0M449.0 150.8H453.8M449.0 173.0H453.8M458.2 151.2V171.7M455.8 151.2H460.6M455.8 171.7H460.6M465.4 153.4V172.7M463.0 153.4H467.8M463.0 172.7H467.8M472.6 158.4V176.9M470.2 158.4H475.0M470.2 176.9H475.0M479.5 156.7V174.6M477.1 156.7H481.9M477.1 174.6H481.9M486.7 162.1V179.5M484.3 162.1H489.1M484.3 179.5H489.1M493.9 164.2V181.4M491.5 164.2H496.3M491.5 181.4H496.3M500.7 161.5V178.5M498.3 161.5H503.1M498.3 178.5H503.1M507.9 165.4V182.3M505.5 165.4H510.3M505.5 182.3H510.3M515.1 164.6V181.4M512.8 164.6H517.5M512.8 181.4H517.5M522.0 163.5V180.2M519.6 163.5H524.4M519.6 180.2H524.4M529.2 162.4V179.1M526.8 162.4H531.6M526.8 179.1H531.6M536.4 165.3V182.0M534.0 165.3H538.8M534.0 182.0H538.8M550.4 166.1V182.7M548.0 166.1H552.8M548.0 182.7H552.8M571.7 161.1V177.7M569.3 161.1H574.1M569.3 177.7H574.1M592.9 164.5V181.1M590.5 164.5H595.3M590.5 181.1H595.3M614.2 160.5V177.1M611.8 160.5H616.6M611.8 177.1H616.6M645.4 170.7V178.5M643.0 170.7H647.8M643.0 178.5H647.8M665.7 171.8V180.1M663.3 171.8H668.1M663.3 180.1H668.1M686.0 171.0V179.7M683.6 171.0H688.4M683.6 179.7H688.4M706.3 171.3V180.0M703.9 171.3H708.7M703.9 180.0H708.7M726.6 170.3V178.6M724.2 170.3H729.0M724.2 178.6H729.0M746.9 171.4V180.7M744.5 171.4H749.3M744.5 180.7H749.3M777.3 172.9V183.2M774.9 172.9H779.7M774.9 183.2H779.7" stroke="#2a9a9a" stroke-width="1.5" fill="none"/>
<circle cx="414.4" cy="183.9" r="2.0" fill="#2a9a9a"/><circle cx="422.9" cy="133.0" r="2.0" fill="#2a9a9a"/><circle cx="430.2" cy="141.4" r="2.0" fill="#2a9a9a"/><circle cx="436.9" cy="153.1" r="2.0" fill="#2a9a9a"/><circle cx="444.2" cy="155.1" r="2.0" fill="#2a9a9a"/><circle cx="451.4" cy="161.9" r="2.0" fill="#2a9a9a"/><circle cx="458.2" cy="161.4" r="2.0" fill="#2a9a9a"/><circle cx="465.4" cy="163.1" r="2.0" fill="#2a9a9a"/><circle cx="472.6" cy="167.7" r="2.0" fill="#2a9a9a"/><circle cx="479.5" cy="165.7" r="2.0" fill="#2a9a9a"/><circle cx="486.7" cy="170.8" r="2.0" fill="#2a9a9a"/><circle cx="493.9" cy="172.8" r="2.0" fill="#2a9a9a"/><circle cx="500.7" cy="170.0" r="2.0" fill="#2a9a9a"/><circle cx="507.9" cy="173.8" r="2.0" fill="#2a9a9a"/><circle cx="515.1" cy="173.0" r="2.0" fill="#2a9a9a"/><circle cx="522.0" cy="171.9" r="2.0" fill="#2a9a9a"/><circle cx="529.2" cy="170.7" r="2.0" fill="#2a9a9a"/><circle cx="536.4" cy="173.6" r="2.0" fill="#2a9a9a"/><circle cx="550.4" cy="174.4" r="2.0" fill="#2a9a9a"/><circle cx="571.7" cy="169.4" r="2.0" fill="#2a9a9a"/><circle cx="592.9" cy="172.8" r="2.0" fill="#2a9a9a"/><circle cx="614.2" cy="168.8" r="2.0" fill="#2a9a9a"/><circle cx="645.4" cy="174.6" r="2.0" fill="#2a9a9a"/><circle cx="665.7" cy="176.0" r="2.0" fill="#2a9a9a"/><circle cx="686.0" cy="175.4" r="2.0" fill="#2a9a9a"/><circle cx="706.3" cy="175.6" r="2.0" fill="#2a9a9a"/><circle cx="726.6" cy="174.5" r="2.0" fill="#2a9a9a"/><circle cx="746.9" cy="176.0" r="2.0" fill="#2a9a9a"/><circle cx="777.3" cy="178.0" r="2.0" fill="#2a9a9a"/>
<path d="M414.4 188.7 L422.9 120.0 L430.2 134.5 L436.9 139.9 L444.2 150.9 L451.4 155.2 L458.2 161.0 L465.4 162.5 L472.6 165.3 L479.5 166.9 L486.7 166.5 L493.9 167.3 L500.7 165.8 L507.9 167.5 L515.1 166.3 L522.0 166.9 L529.2 166.2 L536.4 168.3 L550.4 171.6 L571.7 167.3 L592.9 166.7 L614.2 167.1 L624.8 167.1" fill="none" stroke="#f0307a" stroke-width="0.9"/>
<path d="M635.3 176.7 L645.4 176.7 L665.7 177.8 L686.0 176.6 L706.3 178.2 L726.6 175.3 L746.9 175.9 L777.3 180.4" fill="none" stroke="#f0307a" stroke-width="0.9"/>
<path d="M414.4 184.6V192.9M412.0 184.6H416.8M412.0 192.9H416.8M422.9 94.1V146.0M420.5 94.1H425.3M420.5 146.0H425.3M430.2 113.4V155.5M427.8 113.4H432.6M427.8 155.5H432.6M436.9 120.4V159.5M434.6 120.4H439.3M434.6 159.5H439.3M444.2 131.8V170.1M441.8 131.8H446.6M441.8 170.1H446.6M451.4 136.4V174.1M449.0 136.4H453.8M449.0 174.1H453.8M458.2 142.5V179.5M455.8 142.5H460.6M455.8 179.5H460.6M465.4 144.4V180.7M463.0 144.4H467.8M463.0 180.7H467.8M472.6 147.5V183.1M470.2 147.5H475.0M470.2 183.1H475.0M479.5 149.4V184.4M477.1 149.4H481.9M477.1 184.4H481.9M486.7 149.4V183.6M484.3 149.4H489.1M484.3 183.6H489.1M493.9 150.5V184.0M491.5 150.5H496.3M491.5 184.0H496.3M500.7 149.3V182.2M498.3 149.3H503.1M498.3 182.2H503.1M507.9 151.5V183.6M505.5 151.5H510.3M505.5 183.6H510.3M515.1 150.5V182.0M512.8 150.5H517.5M512.8 182.0H517.5M522.0 151.5V182.3M519.6 151.5H524.4M519.6 182.3H524.4M529.2 151.2V181.2M526.8 151.2H531.6M526.8 181.2H531.6M536.4 153.6V183.0M534.0 153.6H538.8M534.0 183.0H538.8M550.4 161.2V182.0M548.0 161.2H552.8M548.0 182.0H552.8M571.7 156.9V177.7M569.3 156.9H574.1M569.3 177.7H574.1M592.9 156.3V177.1M590.5 156.3H595.3M590.5 177.1H595.3M614.2 156.7V177.5M611.8 156.7H616.6M611.8 177.5H616.6M645.4 172.1V181.2M643.0 172.1H647.8M643.0 181.2H647.8M665.7 172.9V182.6M663.3 172.9H668.1M663.3 182.6H668.1M686.0 172.9V180.3M683.6 172.9H688.4M683.6 180.3H688.4M706.3 173.3V183.1M703.9 173.3H708.7M703.9 183.1H708.7M726.6 172.1V178.6M724.2 172.1H729.0M724.2 178.6H729.0M746.9 172.0V179.9M744.5 172.0H749.3M744.5 179.9H749.3M777.3 175.2V185.6M774.9 175.2H779.7M774.9 185.6H779.7" stroke="#f0307a" stroke-width="1.5" fill="none"/>
<path d="M412.2 186.9H416.6L414.4 190.9Z" fill="#f0307a"/><path d="M420.7 118.3H425.1L422.9 122.2Z" fill="#f0307a"/><path d="M428.0 132.7H432.4L430.2 136.7Z" fill="#f0307a"/><path d="M434.8 138.2H439.1L436.9 142.1Z" fill="#f0307a"/><path d="M442.0 149.2H446.4L444.2 153.1Z" fill="#f0307a"/><path d="M449.2 153.5H453.6L451.4 157.4Z" fill="#f0307a"/><path d="M456.0 159.2H460.4L458.2 163.2Z" fill="#f0307a"/><path d="M463.2 160.8H467.6L465.4 164.7Z" fill="#f0307a"/><path d="M470.4 163.6H474.8L472.6 167.5Z" fill="#f0307a"/><path d="M477.3 165.2H481.7L479.5 169.1Z" fill="#f0307a"/><path d="M484.5 164.7H488.9L486.7 168.7Z" fill="#f0307a"/><path d="M491.7 165.5H496.1L493.9 169.5Z" fill="#f0307a"/><path d="M498.5 164.0H502.9L500.7 168.0Z" fill="#f0307a"/><path d="M505.7 165.8H510.1L507.9 169.7Z" fill="#f0307a"/><path d="M512.9 164.5H517.4L515.1 168.5Z" fill="#f0307a"/><path d="M519.8 165.1H524.2L522.0 169.1Z" fill="#f0307a"/><path d="M527.0 164.4H531.4L529.2 168.4Z" fill="#f0307a"/><path d="M534.2 166.5H538.6L536.4 170.5Z" fill="#f0307a"/><path d="M548.2 169.8H552.6L550.4 173.8Z" fill="#f0307a"/><path d="M569.5 165.6H573.9L571.7 169.5Z" fill="#f0307a"/><path d="M590.7 164.9H595.1L592.9 168.9Z" fill="#f0307a"/><path d="M612.0 165.3H616.4L614.2 169.3Z" fill="#f0307a"/><path d="M643.2 174.9H647.6L645.4 178.9Z" fill="#f0307a"/><path d="M663.5 176.0H667.9L665.7 180.0Z" fill="#f0307a"/><path d="M683.8 174.9H688.2L686.0 178.8Z" fill="#f0307a"/><path d="M704.1 176.5H708.5L706.3 180.4Z" fill="#f0307a"/><path d="M724.4 173.6H728.8L726.6 177.5Z" fill="#f0307a"/><path d="M744.7 174.2H749.1L746.9 178.1Z" fill="#f0307a"/><path d="M775.1 178.6H779.5L777.3 182.6Z" fill="#f0307a"/>
<path d="M414.4 187.8 L422.9 121.6 L430.2 135.9 L436.9 143.3 L444.2 150.0 L451.4 158.3 L458.2 161.9 L465.4 159.3 L472.6 164.6 L479.5 166.0 L486.7 162.2 L493.9 166.1 L500.7 164.3 L507.9 166.8 L515.1 166.1 L522.0 169.3 L529.2 166.4 L536.4 165.0 L550.4 167.3 L571.7 166.0 L592.9 166.5 L614.2 170.2 L624.8 170.2" fill="none" stroke="#000000" stroke-width="0.9"/>
<path d="M635.3 175.0 L645.4 175.0 L665.7 176.5 L686.0 174.7 L706.3 175.2 L726.6 175.2 L746.9 176.2 L777.3 178.7" fill="none" stroke="#000000" stroke-width="0.9"/>
<path d="M414.4 183.7V192.0M412.0 183.7H416.8M412.0 192.0H416.8M422.9 67.7V175.6M420.5 67.7H425.3M420.5 175.6H425.3M430.2 95.3V176.4M427.8 95.3H432.6M427.8 176.4H432.6M436.9 111.5V175.1M434.6 111.5H439.3M434.6 175.1H439.3M444.2 124.6V175.4M441.8 124.6H446.6M441.8 175.4H446.6M451.4 137.3V179.3M449.0 137.3H453.8M449.0 179.3H453.8M458.2 143.8V180.0M455.8 143.8H460.6M455.8 180.0H460.6M465.4 143.2V175.3M463.0 143.2H467.8M463.0 175.3H467.8M472.6 150.1V179.2M470.2 150.1H475.0M470.2 179.2H475.0M479.5 152.4V179.6M477.1 152.4H481.9M477.1 179.6H481.9M486.7 149.3V175.1M484.3 149.3H489.1M484.3 175.1H489.1M493.9 153.7V178.6M491.5 153.7H496.3M491.5 178.6H496.3M500.7 152.1V176.4M498.3 152.1H503.1M498.3 176.4H503.1M507.9 154.9V178.8M505.5 154.9H510.3M505.5 178.8H510.3M515.1 154.3V177.8M512.8 154.3H517.5M512.8 177.8H517.5M522.0 157.6V180.9M519.6 157.6H524.4M519.6 180.9H524.4M529.2 154.8V178.0M526.8 154.8H531.6M526.8 178.0H531.6M536.4 153.5V176.5M534.0 153.5H538.8M534.0 176.5H538.8M550.4 155.8V178.7M548.0 155.8H552.8M548.0 178.7H552.8M571.7 154.6V177.4M569.3 154.6H574.1M569.3 177.4H574.1M592.9 155.0V177.9M590.5 155.0H595.3M590.5 177.9H595.3M614.2 158.8V181.7M611.8 158.8H616.6M611.8 181.7H616.6M645.4 170.7V179.4M643.0 170.7H647.8M643.0 179.4H647.8M665.7 173.3V179.6M663.3 173.3H668.1M663.3 179.6H668.1M686.0 170.6V178.8M683.6 170.6H688.4M683.6 178.8H688.4M706.3 170.2V180.1M703.9 170.2H708.7M703.9 180.1H708.7M726.6 170.1V180.2M724.2 170.1H729.0M724.2 180.2H729.0M746.9 171.4V180.9M744.5 171.4H749.3M744.5 180.9H749.3M777.3 173.5V183.8M774.9 173.5H779.7M774.9 183.8H779.7" stroke="#000000" stroke-width="1.5" fill="none"/>
<path d="M412.2 186.1H416.6L414.4 190.0Z" fill="#000000"/><path d="M420.7 119.9H425.1L422.9 123.8Z" fill="#000000"/><path d="M428.0 134.1H432.4L430.2 138.1Z" fill="#000000"/><path d="M434.8 141.5H439.1L436.9 145.5Z" fill="#000000"/><path d="M442.0 148.2H446.4L444.2 152.2Z" fill="#000000"/><path d="M449.2 156.5H453.6L451.4 160.5Z" fill="#000000"/><path d="M456.0 160.1H460.4L458.2 164.1Z" fill="#000000"/><path d="M463.2 157.5H467.6L465.4 161.5Z" fill="#000000"/><path d="M470.4 162.9H474.8L472.6 166.8Z" fill="#000000"/><path d="M477.3 164.2H481.7L479.5 168.2Z" fill="#000000"/><path d="M484.5 160.4H488.9L486.7 164.4Z" fill="#000000"/><path d="M491.7 164.3H496.1L493.9 168.3Z" fill="#000000"/><path d="M498.5 162.5H502.9L500.7 166.5Z" fill="#000000"/><path d="M505.7 165.1H510.1L507.9 169.0Z" fill="#000000"/><path d="M512.9 164.3H517.4L515.1 168.3Z" fill="#000000"/><path d="M519.8 167.5H524.2L522.0 171.5Z" fill="#000000"/><path d="M527.0 164.6H531.4L529.2 168.6Z" fill="#000000"/><path d="M534.2 163.3H538.6L536.4 167.2Z" fill="#000000"/><path d="M548.2 165.5H552.6L550.4 169.5Z" fill="#000000"/><path d="M569.5 164.2H573.9L571.7 168.2Z" fill="#000000"/><path d="M590.7 164.7H595.1L592.9 168.7Z" fill="#000000"/><path d="M612.0 168.5H616.4L614.2 172.4Z" fill="#000000"/><path d="M643.2 173.3H647.6L645.4 177.2Z" fill="#000000"/><path d="M663.5 174.7H667.9L665.7 178.7Z" fill="#000000"/><path d="M683.8 172.9H688.2L686.0 176.9Z" fill="#000000"/><path d="M704.1 173.4H708.5L706.3 177.4Z" fill="#000000"/><path d="M724.4 173.4H728.8L726.6 177.4Z" fill="#000000"/><path d="M744.7 174.4H749.1L746.9 178.4Z" fill="#000000"/><path d="M775.1 176.9H779.5L777.3 180.9Z" fill="#000000"/>
</g>
<path d="M412.3 38.94999999999999V200.5M406.0 194.5H412.3M406.0 163.4H412.3M406.0 132.3H412.3M406.0 101.2H412.3M406.0 70.1H412.3M406.0 38.9H412.3M412.3 194.5H624.8M624.8 190.0V198.5M454.8 194.5V200.5M497.3 194.5V200.5M539.8 194.5V200.5M582.3 194.5V200.5M635.3 190.0V200.5M635.3 194.5H777.3M655.6 194.5V200.5M675.9 194.5V200.5M696.2 194.5V200.5M716.5 194.5V200.5M736.8 194.5V200.5M757.0 194.5V200.5M777.3 194.5V200.5" stroke="#000" stroke-width="1.6" fill="none"/>
<text x="403.3" y="198.7" font-size="14" text-anchor="end" >0.0</text>
<text x="403.3" y="167.58999999999997" font-size="14" text-anchor="end" >0.3</text>
<text x="403.3" y="136.48" font-size="14" text-anchor="end" >0.6</text>
<text x="403.3" y="105.37" font-size="14" text-anchor="end" >0.9</text>
<text x="403.3" y="74.26" font-size="14" text-anchor="end" >1.2</text>
<text x="403.3" y="43.14999999999999" font-size="14" text-anchor="end" >1.5</text>
<text x="412.3" y="215.0" font-size="13.6" text-anchor="middle" >0</text>
<text x="454.8" y="214.75" font-size="13.6" text-anchor="middle" >1</text>
<text x="497.3" y="214.5" font-size="13.6" text-anchor="middle" >2</text>
<text x="539.8" y="214.25" font-size="13.6" text-anchor="middle" >3</text>
<text x="582.3" y="214.0" font-size="13.6" text-anchor="middle" >4</text>
<text x="624.8" y="213.75" font-size="13.6" text-anchor="middle" >5</text>
<text x="638.1" y="213.9" font-size="13.6" text-anchor="middle" >30</text>
<text x="655.6" y="213.9" font-size="13.6" text-anchor="middle" >35</text>
<text x="675.9" y="213.9" font-size="13.6" text-anchor="middle" >40</text>
<text x="696.2" y="213.9" font-size="13.6" text-anchor="middle" >45</text>
<text x="716.5" y="213.9" font-size="13.6" text-anchor="middle" >50</text>
<text x="736.8" y="213.9" font-size="13.6" text-anchor="middle" >55</text>
<text x="757.0" y="213.9" font-size="13.6" text-anchor="middle" >60</text>
<text x="777.3" y="213.9" font-size="13.6" text-anchor="middle" >65</text>
<text x="584.3" y="235.3" font-size="12.8" text-anchor="middle" >Time (min)</text>
<text x="0" y="0" font-size="13.8" text-anchor="middle" transform="translate(376.7,114.9) rotate(-90)" >SUV</text>
<path d="M420.3 262.4H435.6" stroke="#000000" stroke-width="1.2"/>
<path d="M425.4 260.3H430.6L428.0 265.0Z" fill="#000000"/>
<text x="444.6" y="266.79999999999995" font-size="13.6" text-anchor="start" >Prefrontal cortex</text>
<path d="M420.3 283.2H435.6" stroke="#f0307a" stroke-width="1.2"/>
<path d="M425.4 281.1H430.6L428.0 285.8Z" fill="#f0307a"/>
<text x="444.6" y="287.59999999999997" font-size="13.6" text-anchor="start" >Frontal cortex</text>
<path d="M420.3 304.0H435.6" stroke="#2a9a9a" stroke-width="1.2"/>
<circle cx="428.0" cy="304.0" r="2.3" fill="#2a9a9a"/>
<text x="444.6" y="308.4" font-size="13.6" text-anchor="start" >Temporal visual cortex</text>
<path d="M420.3 324.9H435.6" stroke="#341a80" stroke-width="1.2"/>
<path d="M425.4 327.0H430.6L428.0 322.3Z" fill="#341a80"/>
<text x="444.6" y="329.29999999999995" font-size="13.6" text-anchor="start" >Parietal lobe</text>
<path d="M420.3 345.9H435.6" stroke="#a070f0" stroke-width="1.2"/>
<rect x="425.6" y="343.6" width="4.7" height="4.7" fill="#a070f0"/>
<text x="444.6" y="350.29999999999995" font-size="13.6" text-anchor="start" >Cingulate cortex</text>
<path d="M611.3 262.4H627.3" stroke="#8ac8f0" stroke-width="1.2"/>
<path d="M616.7 262.4H621.9M619.3 259.8V265.0" stroke="#70c8f0" stroke-width="1"/>
<text x="635.0" y="266.79999999999995" font-size="13.6" text-anchor="start" >Pons and Medulla</text>
<path d="M611.3 283.2H627.3" stroke="#404040" stroke-width="1.2"/>
<circle cx="619.3" cy="283.2" r="2.3" fill="#000000"/>
<text x="635.0" y="287.59999999999997" font-size="13.6" text-anchor="start" >Occipital Lobe</text>
<path d="M611.3 304.0H627.3" stroke="#e8307a" stroke-width="1.2"/>
<path d="M616.7 306.1H621.9L619.3 301.4Z" fill="#e8307a"/>
<text x="635.0" y="308.4" font-size="13.6" text-anchor="start" >Subcortical region</text>
<path d="M611.3 324.9H627.3" stroke="#1a8a8a" stroke-width="1.2"/>
<path d="M619.3 322.3L621.9 324.9L619.3 327.5L616.7 324.9Z" fill="#1a8a8a"/>
<text x="635.0" y="329.29999999999995" font-size="13.6" text-anchor="start" >Cerebellum</text>
<path d="M612.5 345.9H628.5" stroke="#3a148a" stroke-width="1.2"/>
<path d="M620.5 343.3L623.1 345.9L620.5 348.5L617.9 345.9Z" fill="#3a148a"/>
<text x="640.4" y="350.29999999999995" font-size="13.6" text-anchor="start" >Corpus Callosum</text>
<g transform="translate(56.5,408)"><g clip-path="url(#c10)"><rect x="0" y="0" width="90" height="89.5" fill="#000"/>
<g filter="url(#soft)">
<path d="M47 5 C58 5 66 8 70 14 C76 24 80 40 79.5 55 C79 70 66 86 47 86.6 C30 86 16 78 9 64 C6 56 9 50 12 45 C13 35 14 24 17.7 18 C22 10 36 5 47 5Z" fill="#0818ff" stroke="#0818ff" stroke-width="5" opacity="1" filter="url(#b0_8)" paint-order="stroke" />
<path d="M47 5 C58 5 66 8 70 14 C76 24 80 40 79.5 55 C79 70 66 86 47 86.6 C30 86 16 78 9 64 C6 56 9 50 12 45 C13 35 14 24 17.7 18 C22 10 36 5 47 5Z" fill="#00e8ff" stroke="#00e8ff" stroke-width="2.2" opacity="1" filter="url(#b0_6)" paint-order="stroke" />
<path d="M47 5 C58 5 66 8 70 14 C76 24 80 40 79.5 55 C79 70 66 86 47 86.6 C30 86 16 78 9 64 C6 56 9 50 12 45 C13 35 14 24 17.7 18 C22 10 36 5 47 5Z" fill="#a8f0d0" stroke="none" stroke-width="1" opacity="1" filter="url(#b0_6)" />
<ellipse cx="13" cy="40" rx="5" ry="14" fill="url(#gY)" opacity="1" />
<ellipse cx="16" cy="53.5" rx="3" ry="4" fill="url(#gRY)" opacity="1" />
<ellipse cx="78" cy="57" rx="3" ry="6" fill="url(#gG)" opacity="1" />
<ellipse cx="46" cy="8" rx="10" ry="4" fill="url(#gG)" opacity="1" />
<ellipse cx="12" cy="30" rx="4" ry="8" fill="url(#gG)" opacity="1" />
<ellipse cx="10" cy="60" rx="4" ry="6" fill="url(#gG)" opacity="1" />
<ellipse cx="35" cy="14" rx="16" ry="9" fill="url(#gL)" opacity="1" />
<ellipse cx="55" cy="12" rx="14" ry="7" fill="url(#gL)" opacity="1" />
<g transform="rotate(8 46.5 49)">
<path d="M18.5 49A28 34 0 1 0 74.5 49A28 34 0 1 0 18.5 49Z" fill="#e0e0fa" stroke="none" stroke-width="1" opacity="1" filter="url(#b0_6)" />
<path d="M22.0 50.5A24.5 29.5 0 1 0 71.0 50.5A24.5 29.5 0 1 0 22.0 50.5Z" fill="#7a7890" stroke="none" stroke-width="1" opacity="1" filter="url(#b0_6)" />
<g clip-path="url(#bt1)"><g filter="url(#b1)" opacity="0.6">
<ellipse cx="53.3" cy="77.5" rx="4.7" ry="3.5" fill="#9494a4"/>
<ellipse cx="24.8" cy="70.4" rx="3.3" ry="3.8" fill="#6e6c84"/>
<ellipse cx="58.0" cy="34.9" rx="3.7" ry="3.3" fill="#5a5ab0"/>
<ellipse cx="47.6" cy="65.8" rx="4.0" ry="3.0" fill="#6e6c84"/>
<ellipse cx="24.4" cy="52.8" rx="2.2" ry="3.9" fill="#6a6ab8"/>
<ellipse cx="56.2" cy="36.6" rx="2.6" ry="3.7" fill="#9494a4"/>
<ellipse cx="42.4" cy="70.5" rx="4.1" ry="4.0" fill="#9494a4"/>
<ellipse cx="61.8" cy="77.2" rx="2.7" ry="4.2" fill="#9494a4"/>
<ellipse cx="42.0" cy="32.0" rx="2.9" ry="4.6" fill="#5a5ab0"/>
<ellipse cx="59.9" cy="59.9" rx="2.7" ry="2.5" fill="#9494a4"/>
<ellipse cx="28.8" cy="51.6" rx="3.6" ry="2.5" fill="#6e6c84"/>
<ellipse cx="33.8" cy="41.0" rx="3.8" ry="2.3" fill="#9494a4"/>
<ellipse cx="53.0" cy="64.4" rx="3.9" ry="3.4" fill="#9494a4"/>
<ellipse cx="28.6" cy="22.2" rx="2.6" ry="4.2" fill="#5a5ab0"/>
<ellipse cx="27.4" cy="34.8" rx="2.4" ry="4.1" fill="#8c8a98"/>
<ellipse cx="35.8" cy="31.4" rx="2.9" ry="3.9" fill="#8c8a98"/>
<ellipse cx="22.4" cy="22.0" rx="2.3" ry="2.4" fill="#6a6ab8"/>
<ellipse cx="23.9" cy="59.4" rx="3.3" ry="2.5" fill="#9494a4"/>
<ellipse cx="43.2" cy="30.2" rx="3.3" ry="4.0" fill="#6a6ab8"/>
<ellipse cx="52.2" cy="72.4" rx="2.9" ry="2.9" fill="#6e6c84"/>
<ellipse cx="22.8" cy="66.7" rx="2.3" ry="3.6" fill="#6a6ab8"/>
<ellipse cx="51.2" cy="21.0" rx="4.0" ry="4.5" fill="#6e6c84"/>
<ellipse cx="47.1" cy="52.5" rx="2.3" ry="4.1" fill="#9494a4"/>
<ellipse cx="56.1" cy="77.8" rx="2.2" ry="3.9" fill="#6e6c84"/>
<ellipse cx="65.7" cy="65.6" rx="4.4" ry="3.5" fill="#7a7ac0"/>
<ellipse cx="41.3" cy="48.0" rx="2.6" ry="2.7" fill="#8c8a98"/>
<ellipse cx="63.1" cy="74.9" rx="4.7" ry="4.2" fill="#5a5ab0"/>
<ellipse cx="68.3" cy="53.6" rx="4.4" ry="2.6" fill="#6a6ab8"/>
<ellipse cx="64.1" cy="23.1" rx="3.1" ry="2.3" fill="#9494a4"/>
<ellipse cx="45.8" cy="44.0" rx="2.6" ry="4.5" fill="#6e6c84"/>
<ellipse cx="47.2" cy="46.2" rx="4.9" ry="4.1" fill="#6a6ab8"/>
<ellipse cx="38.4" cy="52.3" rx="4.7" ry="3.9" fill="#9494a4"/>
<ellipse cx="35.9" cy="78.5" rx="2.4" ry="4.4" fill="#8c8a98"/>
<ellipse cx="33.4" cy="79.0" rx="4.5" ry="2.8" fill="#8c8a98"/>
<ellipse cx="24.8" cy="42.1" rx="3.8" ry="2.9" fill="#6e6c84"/>
<ellipse cx="55.2" cy="74.8" rx="3.3" ry="3.3" fill="#5a5ab0"/>
<ellipse cx="41.6" cy="41.8" rx="3.6" ry="3.1" fill="#7a7ac0"/>
<ellipse cx="44.2" cy="40.9" rx="4.2" ry="2.4" fill="#8c8a98"/>
<ellipse cx="26.0" cy="30.9" rx="4.7" ry="3.5" fill="#9494a4"/>
<ellipse cx="62.3" cy="72.1" rx="3.5" ry="4.5" fill="#6e6c84"/>
<ellipse cx="34.8" cy="55.1" rx="2.8" ry="2.8" fill="#5a5ab0"/>
<ellipse cx="34.1" cy="28.5" rx="2.7" ry="3.6" fill="#6e6c84"/>
<ellipse cx="26.0" cy="68.4" rx="2.8" ry="3.8" fill="#6e6c84"/>
<ellipse cx="23.3" cy="23.1" rx="3.9" ry="3.3" fill="#6e6c84"/>
<ellipse cx="56.3" cy="40.0" rx="3.9" ry="4.7" fill="#6e6c84"/>
<ellipse cx="23.1" cy="79.5" rx="2.6" ry="2.7" fill="#6e6c84"/>
<ellipse cx="34.5" cy="74.9" rx="3.9" ry="4.6" fill="#5a5ab0"/>
<ellipse cx="44.0" cy="62.5" rx="2.6" ry="2.2" fill="#5a5ab0"/>
<ellipse cx="67.4" cy="69.3" rx="3.9" ry="4.7" fill="#8c8a98"/>
<ellipse cx="22.1" cy="62.9" rx="2.4" ry="4.9" fill="#5a5ab0"/>
<ellipse cx="44.1" cy="34.3" rx="2.7" ry="4.7" fill="#8c8a98"/>
<ellipse cx="49.8" cy="28.1" rx="2.4" ry="4.2" fill="#5a5ab0"/>
<ellipse cx="70.3" cy="65.4" rx="3.7" ry="4.9" fill="#6e6c84"/>
<ellipse cx="63.6" cy="44.5" rx="4.6" ry="3.4" fill="#7a7ac0"/>
<ellipse cx="25.1" cy="55.1" rx="2.6" ry="4.3" fill="#9494a4"/>
<ellipse cx="56.6" cy="55.7" rx="2.6" ry="3.8" fill="#6e6c84"/>
<ellipse cx="49.7" cy="40.6" rx="3.7" ry="4.1" fill="#6a6ab8"/>
<ellipse cx="56.6" cy="78.7" rx="2.7" ry="3.9" fill="#7a7ac0"/>
<ellipse cx="28.6" cy="75.7" rx="2.8" ry="3.6" fill="#6e6c84"/>
<ellipse cx="70.3" cy="26.8" rx="2.9" ry="2.9" fill="#6e6c84"/>
</g></g>
</g>
<ellipse cx="32.5" cy="18.8" rx="7.5" ry="6.5" fill="#e0e0fa" opacity="1" filter="url(#b0_6)" />
<ellipse cx="32.5" cy="18.8" rx="4.8" ry="4.8" fill="#6a6880" opacity="1" filter="url(#b0_5)" />
<ellipse cx="38" cy="40" rx="8" ry="8" fill="url(#gP)" opacity="1" />
<ellipse cx="55" cy="60" rx="8" ry="10" fill="url(#gP)" opacity="1" />
<ellipse cx="42" cy="70" rx="5" ry="5" fill="url(#gT)" opacity="1" />
<ellipse cx="49" cy="73" rx="5" ry="4" fill="url(#gT)" opacity="1" />
<ellipse cx="30" cy="55" rx="6" ry="8" fill="url(#gP)" opacity="1" />
<ellipse cx="58" cy="35" rx="6" ry="6" fill="url(#gP)" opacity="1" />
</g>
</g></g>
<g transform="translate(167,408)"><g clip-path="url(#c11)"><rect x="0" y="0" width="89.8" height="89.5" fill="#000"/>
<g filter="url(#soft)">
<path d="M45 4 C58 4 70 8 76 18 C80 26 82 36 82 45 C82 55 80 65 77 72 C74 80 70 86 66 92 L26 92 C22 84 18 76 14 70 C8 60 5 52 5.6 45 C6 35 9 26 14 18 C22 8 32 4 45 4Z" fill="#0818ff" stroke="#0818ff" stroke-width="5" opacity="1" filter="url(#b0_8)" paint-order="stroke" />
<path d="M45 4 C58 4 70 8 76 18 C80 26 82 36 82 45 C82 55 80 65 77 72 C74 80 70 86 66 92 L26 92 C22 84 18 76 14 70 C8 60 5 52 5.6 45 C6 35 9 26 14 18 C22 8 32 4 45 4Z" fill="#00e8ff" stroke="#00e8ff" stroke-width="2.2" opacity="1" filter="url(#b0_6)" paint-order="stroke" />
<path d="M45 4 C58 4 70 8 76 18 C80 26 82 36 82 45 C82 55 80 65 77 72 C74 80 70 86 66 92 L26 92 C22 84 18 76 14 70 C8 60 5 52 5.6 45 C6 35 9 26 14 18 C22 8 32 4 45 4Z" fill="#b0e058" stroke="none" stroke-width="1" opacity="1" filter="url(#b0_6)" />
<ellipse cx="27" cy="72" rx="13" ry="20" fill="url(#gRY)" opacity="1" />
<ellipse cx="63" cy="72" rx="13" ry="20" fill="url(#gRY)" opacity="1" />
<ellipse cx="45" cy="70" rx="7" ry="22" fill="url(#gG)" opacity="1" />
<ellipse cx="16.9" cy="57.4" rx="9" ry="15" fill="url(#gRY)" opacity="1" />
<ellipse cx="33.8" cy="58.6" rx="9" ry="15" fill="url(#gRY)" opacity="1" />
<ellipse cx="37" cy="80" rx="6" ry="11" fill="url(#gRY)" opacity="1" />
<ellipse cx="58.6" cy="63" rx="9" ry="16" fill="url(#gRY)" opacity="1" />
<ellipse cx="64" cy="50.7" rx="4" ry="4" fill="url(#gRY)" opacity="1" />
<ellipse cx="77.7" cy="56" rx="4" ry="9" fill="url(#gY)" opacity="1" />
<ellipse cx="10" cy="36" rx="4" ry="8" fill="url(#gG)" opacity="1" />
<ellipse cx="78" cy="34" rx="4" ry="8" fill="url(#gG)" opacity="1" />
<ellipse cx="12" cy="70" rx="5" ry="10" fill="url(#gY)" opacity="1" />
<ellipse cx="27" cy="72" rx="9.1" ry="14.0" fill="#e62222" opacity="1" filter="url(#b0_6)" />
<ellipse cx="63" cy="72" rx="9.1" ry="14.0" fill="#e62222" opacity="1" filter="url(#b0_6)" />
<ellipse cx="16.9" cy="57.4" rx="6.3" ry="10.5" fill="#e62222" opacity="1" filter="url(#b0_6)" />
<ellipse cx="33.8" cy="58.6" rx="6.3" ry="10.5" fill="#e62222" opacity="1" filter="url(#b0_6)" />
<ellipse cx="37" cy="80" rx="4.199999999999999" ry="7.699999999999999" fill="#e62222" opacity="1" filter="url(#b0_6)" />
<ellipse cx="58.6" cy="63" rx="6.3" ry="11.2" fill="#e62222" opacity="1" filter="url(#b0_6)" />
<ellipse cx="64" cy="50.7" rx="2.8" ry="2.8" fill="#e62222" opacity="1" filter="url(#b0_6)" />
<path d="M25 50 C26 60 27 72 29 84" fill="none" stroke="#b8f4f0" stroke-width="3.5" opacity="1" filter="url(#b0_8)" />
<path d="M65 50 C64 60 63 70 61 82" fill="none" stroke="#b8f4f0" stroke-width="3.5" opacity="1" filter="url(#b0_8)" />
<ellipse cx="79" cy="82" rx="13" ry="9" fill="url(#gL)" opacity="1" />
<ellipse cx="70" cy="88" rx="8" ry="5" fill="url(#gL)" opacity="1" />
<path d="M20.8 36 C20 22 30 10 45 10 C60 10 70 22 69.8 36 C69 40 66 41 62 41 L28 41 C24 41 21 40 20.8 36Z" fill="#7a7890" stroke="#e0e0fa" stroke-width="9" opacity="1" filter="url(#b0_6)" paint-order="stroke" />
<g clip-path="url(#bt2)"><g filter="url(#b1)" opacity="0.6">
<ellipse cx="27.5" cy="39.3" rx="4.0" ry="3.8" fill="#8c8a98"/>
<ellipse cx="26.1" cy="20.0" rx="2.7" ry="3.9" fill="#6a6ab8"/>
<ellipse cx="62.0" cy="18.9" rx="5.0" ry="3.0" fill="#6e6c84"/>
<ellipse cx="63.8" cy="40.3" rx="4.6" ry="3.9" fill="#6a6ab8"/>
<ellipse cx="34.2" cy="21.7" rx="4.5" ry="2.8" fill="#9494a4"/>
<ellipse cx="53.7" cy="21.0" rx="4.2" ry="3.2" fill="#8c8a98"/>
<ellipse cx="29.8" cy="39.4" rx="4.8" ry="3.2" fill="#6a6ab8"/>
<ellipse cx="40.5" cy="10.6" rx="3.2" ry="4.7" fill="#6a6ab8"/>
<ellipse cx="53.8" cy="36.5" rx="2.3" ry="4.7" fill="#6e6c84"/>
<ellipse cx="60.7" cy="15.0" rx="2.2" ry="2.4" fill="#5a5ab0"/>
<ellipse cx="46.0" cy="16.7" rx="4.4" ry="2.5" fill="#8c8a98"/>
<ellipse cx="24.7" cy="22.7" rx="4.2" ry="3.8" fill="#8c8a98"/>
<ellipse cx="62.2" cy="40.0" rx="3.6" ry="4.2" fill="#8c8a98"/>
<ellipse cx="38.3" cy="12.5" rx="4.6" ry="3.4" fill="#5a5ab0"/>
<ellipse cx="27.8" cy="16.1" rx="5.0" ry="2.7" fill="#6a6ab8"/>
<ellipse cx="53.1" cy="13.1" rx="2.6" ry="2.5" fill="#7a7ac0"/>
<ellipse cx="43.0" cy="32.9" rx="3.5" ry="3.2" fill="#7a7ac0"/>
<ellipse cx="60.5" cy="35.1" rx="3.0" ry="3.6" fill="#8c8a98"/>
<ellipse cx="27.6" cy="12.2" rx="2.6" ry="4.3" fill="#6e6c84"/>
<ellipse cx="53.0" cy="34.0" rx="4.3" ry="4.9" fill="#7a7ac0"/>
<ellipse cx="66.0" cy="22.8" rx="2.9" ry="3.2" fill="#8c8a98"/>
<ellipse cx="63.1" cy="37.8" rx="3.5" ry="4.0" fill="#8c8a98"/>
<ellipse cx="60.3" cy="13.5" rx="2.5" ry="3.9" fill="#9494a4"/>
<ellipse cx="67.3" cy="40.2" rx="2.3" ry="3.8" fill="#9494a4"/>
<ellipse cx="50.0" cy="23.5" rx="2.8" ry="4.3" fill="#6e6c84"/>
<ellipse cx="36.4" cy="24.4" rx="2.5" ry="4.4" fill="#7a7ac0"/>
<ellipse cx="30.7" cy="23.0" rx="4.0" ry="2.8" fill="#5a5ab0"/>
<ellipse cx="43.6" cy="19.5" rx="4.5" ry="3.2" fill="#9494a4"/>
<ellipse cx="58.0" cy="30.7" rx="3.5" ry="4.1" fill="#6e6c84"/>
<ellipse cx="69.6" cy="37.7" rx="4.5" ry="3.6" fill="#6a6ab8"/>
<ellipse cx="67.4" cy="13.0" rx="3.6" ry="4.5" fill="#9494a4"/>
<ellipse cx="50.4" cy="41.0" rx="3.0" ry="4.9" fill="#5a5ab0"/>
<ellipse cx="53.6" cy="41.0" rx="4.6" ry="4.3" fill="#9494a4"/>
<ellipse cx="32.2" cy="32.8" rx="3.1" ry="2.7" fill="#6a6ab8"/>
<ellipse cx="69.7" cy="11.1" rx="3.7" ry="2.3" fill="#9494a4"/>
<ellipse cx="23.4" cy="33.2" rx="5.0" ry="4.2" fill="#7a7ac0"/>
<ellipse cx="50.4" cy="34.7" rx="2.4" ry="3.3" fill="#8c8a98"/>
<ellipse cx="55.5" cy="30.4" rx="3.7" ry="2.4" fill="#5a5ab0"/>
</g></g>
<ellipse cx="34" cy="45" rx="5" ry="3.5" fill="url(#gB)" opacity="1" />
<ellipse cx="55" cy="45" rx="5" ry="3.5" fill="url(#gB)" opacity="1" />
<ellipse cx="45" cy="47" rx="4.5" ry="3.5" fill="url(#gY)" opacity="1" />
<ellipse cx="45" cy="47" rx="1.8" ry="1.5" fill="#e82020" opacity="1" filter="url(#b1_2)" />
<ellipse cx="45" cy="51.5" rx="7" ry="3" fill="url(#gC)" opacity="1" />
<ellipse cx="38" cy="20" rx="6" ry="6" fill="url(#gP)" opacity="1" />
<ellipse cx="54" cy="28" rx="6" ry="6" fill="url(#gP)" opacity="1" />
<ellipse cx="30" cy="30" rx="5" ry="5" fill="url(#gP)" opacity="1" />
<ellipse cx="50" cy="16" rx="5" ry="4" fill="url(#gP)" opacity="1" />
</g>
</g></g>
<g transform="translate(260.3,408)"><g clip-path="url(#c12)"><rect x="0" y="0" width="89.7" height="89.5" fill="#000"/>
<g filter="url(#soft)">
<path d="M45 4.5 C60 4.5 74 9 82 16 C88 20 90 24 91 30 L91 92 L-1 92 L-1 79 C2 70 4 64 6 58 C8 48 10 38 10 30 C10 22 12 18 16 14 C24 7 34 4.5 45 4.5Z" fill="#0818ff" stroke="#0818ff" stroke-width="5" opacity="1" filter="url(#b0_8)" paint-order="stroke" />
<path d="M45 4.5 C60 4.5 74 9 82 16 C88 20 90 24 91 30 L91 92 L-1 92 L-1 79 C2 70 4 64 6 58 C8 48 10 38 10 30 C10 22 12 18 16 14 C24 7 34 4.5 45 4.5Z" fill="#00e8ff" stroke="#00e8ff" stroke-width="2.2" opacity="1" filter="url(#b0_6)" paint-order="stroke" />
<path d="M45 4.5 C60 4.5 74 9 82 16 C88 20 90 24 91 30 L91 92 L-1 92 L-1 79 C2 70 4 64 6 58 C8 48 10 38 10 30 C10 22 12 18 16 14 C24 7 34 4.5 45 4.5Z" fill="#98ecc0" stroke="none" stroke-width="1" opacity="1" filter="url(#b0_6)" />
<ellipse cx="10" cy="55" rx="7" ry="25" fill="url(#gG)" opacity="1" />
<ellipse cx="5" cy="70" rx="4" ry="12" fill="url(#gC)" opacity="1" />
<ellipse cx="16.9" cy="48.4" rx="4" ry="6" fill="url(#gRY)" opacity="1" />
<ellipse cx="19" cy="65.3" rx="3.5" ry="3.5" fill="url(#gRY)" opacity="1" />
<ellipse cx="3.4" cy="76.6" rx="3" ry="5" fill="url(#gRY)" opacity="1" />
<ellipse cx="14" cy="80" rx="6" ry="10" fill="url(#gC)" opacity="1" />
<ellipse cx="16.9" cy="48.4" rx="2.8" ry="4.199999999999999" fill="#e62222" opacity="1" filter="url(#b0_6)" />
<ellipse cx="19" cy="65.3" rx="2.4499999999999997" ry="2.4499999999999997" fill="#e62222" opacity="1" filter="url(#b0_6)" />
<ellipse cx="3.4" cy="76.6" rx="2.0999999999999996" ry="3.5" fill="#e62222" opacity="1" filter="url(#b0_6)" />
<ellipse cx="66" cy="68" rx="24" ry="20" fill="url(#gRY)" opacity="1" />
<ellipse cx="76" cy="50" rx="12" ry="10" fill="url(#gY)" opacity="1" />
<ellipse cx="50" cy="73" rx="17" ry="15" fill="url(#gRY)" opacity="1" />
<ellipse cx="60" cy="68" rx="9" ry="9" fill="url(#gRY)" opacity="1" />
<ellipse cx="78.8" cy="54" rx="12" ry="11" fill="url(#gRY)" opacity="1" />
<ellipse cx="63" cy="40.5" rx="7" ry="3.5" fill="url(#gRY)" opacity="1" />
<ellipse cx="50.7" cy="44" rx="7" ry="4" fill="#f08080" opacity="1" filter="url(#b1_2)" />
<ellipse cx="50.7" cy="53" rx="8" ry="5" fill="url(#gG)" opacity="1" />
<ellipse cx="63" cy="53" rx="6" ry="5" fill="url(#gY)" opacity="1" />
<ellipse cx="67.6" cy="81" rx="11" ry="7" fill="url(#gL)" opacity="1" />
<ellipse cx="82" cy="86" rx="8" ry="5" fill="url(#gL)" opacity="1" />
<ellipse cx="40" cy="60" rx="5" ry="8" fill="url(#gC)" opacity="1" />
<ellipse cx="66" cy="68" rx="16.799999999999997" ry="14.0" fill="#e62222" opacity="1" filter="url(#b0_6)" />
<ellipse cx="50" cy="73" rx="11.899999999999999" ry="10.5" fill="#e62222" opacity="1" filter="url(#b0_6)" />
<ellipse cx="60" cy="68" rx="6.3" ry="6.3" fill="#e62222" opacity="1" filter="url(#b0_6)" />
<ellipse cx="78.8" cy="54" rx="8.399999999999999" ry="7.699999999999999" fill="#e62222" opacity="1" filter="url(#b0_6)" />
<ellipse cx="63" cy="40.5" rx="4.8999999999999995" ry="2.4499999999999997" fill="#e62222" opacity="1" filter="url(#b0_6)" />
<ellipse cx="86" cy="74" rx="5" ry="4" fill="url(#gB)" opacity="1" />
<path d="M21 32 C25 42 27 52 28 62 C29 72 29 82 29 92" fill="none" stroke="#e0e0fa" stroke-width="4.5" opacity="1" filter="url(#b0_8)" />
<path d="M18 28 C18 16 30 10 45 10 C62 10 76 16 77 28 C77 32 72 33 64 35 C54 37 44 38 36 42 C32 46 30 50 27 52 C23 46 19 40 18 28Z" fill="#7a7890" stroke="#e0e0fa" stroke-width="8.5" opacity="1" filter="url(#b0_6)" paint-order="stroke" />
<g clip-path="url(#bt3)"><g filter="url(#b1)" opacity="0.6">
<ellipse cx="45.1" cy="15.4" rx="4.1" ry="4.6" fill="#8c8a98"/>
<ellipse cx="22.3" cy="18.0" rx="3.9" ry="2.6" fill="#7a7ac0"/>
<ellipse cx="63.7" cy="24.2" rx="4.2" ry="2.8" fill="#5a5ab0"/>
<ellipse cx="57.2" cy="38.2" rx="3.3" ry="2.9" fill="#8c8a98"/>
<ellipse cx="65.3" cy="47.2" rx="3.7" ry="4.8" fill="#7a7ac0"/>
<ellipse cx="32.8" cy="33.7" rx="3.5" ry="3.0" fill="#7a7ac0"/>
<ellipse cx="71.3" cy="35.1" rx="4.1" ry="2.7" fill="#5a5ab0"/>
<ellipse cx="50.9" cy="36.3" rx="3.1" ry="3.8" fill="#6e6c84"/>
<ellipse cx="29.5" cy="32.6" rx="3.4" ry="3.2" fill="#9494a4"/>
<ellipse cx="67.8" cy="15.3" rx="4.5" ry="2.5" fill="#5a5ab0"/>
<ellipse cx="35.4" cy="11.2" rx="3.8" ry="2.6" fill="#7a7ac0"/>
<ellipse cx="42.4" cy="49.5" rx="3.4" ry="3.4" fill="#6e6c84"/>
<ellipse cx="40.6" cy="10.7" rx="4.2" ry="4.4" fill="#6a6ab8"/>
<ellipse cx="76.1" cy="25.7" rx="2.5" ry="2.5" fill="#7a7ac0"/>
<ellipse cx="28.1" cy="46.6" rx="2.9" ry="4.4" fill="#7a7ac0"/>
<ellipse cx="56.1" cy="40.9" rx="3.7" ry="3.3" fill="#8c8a98"/>
<ellipse cx="57.4" cy="39.0" rx="3.4" ry="3.9" fill="#6e6c84"/>
<ellipse cx="48.3" cy="48.3" rx="4.4" ry="3.3" fill="#5a5ab0"/>
<ellipse cx="44.0" cy="17.0" rx="4.8" ry="2.9" fill="#5a5ab0"/>
<ellipse cx="21.9" cy="31.8" rx="3.8" ry="4.4" fill="#9494a4"/>
<ellipse cx="75.4" cy="14.5" rx="3.5" ry="2.7" fill="#6e6c84"/>
<ellipse cx="32.0" cy="32.7" rx="4.1" ry="2.6" fill="#5a5ab0"/>
<ellipse cx="24.3" cy="50.4" rx="2.6" ry="4.5" fill="#8c8a98"/>
<ellipse cx="41.8" cy="13.3" rx="2.8" ry="2.9" fill="#5a5ab0"/>
<ellipse cx="28.0" cy="33.8" rx="3.1" ry="3.9" fill="#7a7ac0"/>
<ellipse cx="26.7" cy="34.1" rx="3.0" ry="2.5" fill="#8c8a98"/>
<ellipse cx="66.1" cy="39.6" rx="4.5" ry="3.7" fill="#5a5ab0"/>
<ellipse cx="40.2" cy="18.6" rx="3.6" ry="3.7" fill="#8c8a98"/>
<ellipse cx="55.5" cy="11.6" rx="3.3" ry="4.5" fill="#8c8a98"/>
<ellipse cx="20.5" cy="32.4" rx="4.9" ry="3.8" fill="#7a7ac0"/>
<ellipse cx="54.8" cy="34.6" rx="4.5" ry="4.7" fill="#7a7ac0"/>
<ellipse cx="64.8" cy="51.8" rx="3.9" ry="3.4" fill="#6e6c84"/>
<ellipse cx="22.9" cy="35.2" rx="3.4" ry="3.7" fill="#7a7ac0"/>
<ellipse cx="35.1" cy="16.0" rx="3.2" ry="3.0" fill="#7a7ac0"/>
<ellipse cx="59.0" cy="15.5" rx="2.5" ry="3.0" fill="#9494a4"/>
<ellipse cx="74.0" cy="12.3" rx="3.6" ry="2.2" fill="#9494a4"/>
<ellipse cx="31.7" cy="23.8" rx="4.9" ry="4.0" fill="#6a6ab8"/>
<ellipse cx="75.7" cy="27.6" rx="2.4" ry="5.0" fill="#5a5ab0"/>
<ellipse cx="22.7" cy="34.0" rx="3.2" ry="2.7" fill="#5a5ab0"/>
<ellipse cx="35.8" cy="18.2" rx="2.4" ry="2.2" fill="#5a5ab0"/>
<ellipse cx="27.3" cy="21.3" rx="2.4" ry="4.5" fill="#6e6c84"/>
<ellipse cx="21.3" cy="12.6" rx="3.5" ry="3.9" fill="#7a7ac0"/>
<ellipse cx="45.6" cy="47.0" rx="3.5" ry="2.8" fill="#5a5ab0"/>
<ellipse cx="33.8" cy="34.8" rx="2.8" ry="2.8" fill="#9494a4"/>
<ellipse cx="62.2" cy="23.0" rx="3.1" ry="4.6" fill="#9494a4"/>
<ellipse cx="69.6" cy="33.9" rx="4.7" ry="2.8" fill="#5a5ab0"/>
<ellipse cx="47.4" cy="41.1" rx="3.4" ry="3.1" fill="#8c8a98"/>
<ellipse cx="73.3" cy="44.0" rx="3.0" ry="3.6" fill="#5a5ab0"/>
<ellipse cx="67.6" cy="33.3" rx="3.1" ry="3.2" fill="#8c8a98"/>
<ellipse cx="48.0" cy="11.3" rx="4.7" ry="2.7" fill="#6e6c84"/>
<ellipse cx="28.0" cy="40.0" rx="3.9" ry="4.2" fill="#7a7ac0"/>
<ellipse cx="59.5" cy="25.9" rx="3.7" ry="4.8" fill="#6a6ab8"/>
<ellipse cx="21.3" cy="24.2" rx="4.0" ry="3.9" fill="#5a5ab0"/>
<ellipse cx="75.4" cy="16.9" rx="5.0" ry="3.9" fill="#6a6ab8"/>
<ellipse cx="66.1" cy="14.5" rx="4.7" ry="3.7" fill="#8c8a98"/>
<ellipse cx="55.6" cy="29.0" rx="3.4" ry="3.9" fill="#8c8a98"/>
<ellipse cx="34.1" cy="28.3" rx="4.2" ry="5.0" fill="#9494a4"/>
<ellipse cx="47.3" cy="21.7" rx="2.7" ry="2.9" fill="#6a6ab8"/>
<ellipse cx="24.7" cy="25.1" rx="2.3" ry="4.1" fill="#8c8a98"/>
<ellipse cx="45.1" cy="42.5" rx="2.6" ry="4.5" fill="#8c8a98"/>
</g></g>
<ellipse cx="35" cy="20" rx="6" ry="6" fill="url(#gP)" opacity="1" />
<ellipse cx="55" cy="22" rx="7" ry="6" fill="url(#gP)" opacity="1" />
<ellipse cx="30" cy="30" rx="5" ry="5" fill="url(#gP)" opacity="1" />
<ellipse cx="33" cy="17" rx="4" ry="3" fill="url(#gT)" opacity="1" />
</g>
</g></g>
<g transform="translate(56.5,505.8)"><g clip-path="url(#c13)"><rect x="0" y="0" width="90" height="89.7" fill="#000"/>
<g filter="url(#soft)">
<path d="M45 4.3 C52 4 58 4.5 62 6 C68 8 72 10 74 14 C78 22 79 32 79.2 42.5 C82 46 86 50 87.5 56 C86 60 83 64 80 70 C76 78 62 86 45 87 C30 87 16 80 10 72 C7 66 6.5 60 7.5 56 C9 46 10 38 12 33 C14 24 16 14 21 9.5 C28 6 36 4.5 45 4.3Z" fill="#0818ff" stroke="#0818ff" stroke-width="5" opacity="1" filter="url(#b0_8)" paint-order="stroke" />
<path d="M45 4.3 C52 4 58 4.5 62 6 C68 8 72 10 74 14 C78 22 79 32 79.2 42.5 C82 46 86 50 87.5 56 C86 60 83 64 80 70 C76 78 62 86 45 87 C30 87 16 80 10 72 C7 66 6.5 60 7.5 56 C9 46 10 38 12 33 C14 24 16 14 21 9.5 C28 6 36 4.5 45 4.3Z" fill="#00e8ff" stroke="#00e8ff" stroke-width="2.2" opacity="1" filter="url(#b0_6)" paint-order="stroke" />
<path d="M45 4.3 C52 4 58 4.5 62 6 C68 8 72 10 74 14 C78 22 79 32 79.2 42.5 C82 46 86 50 87.5 56 C86 60 83 64 80 70 C76 78 62 86 45 87 C30 87 16 80 10 72 C7 66 6.5 60 7.5 56 C9 46 10 38 12 33 C14 24 16 14 21 9.5 C28 6 36 4.5 45 4.3Z" fill="#a0f0c8" stroke="none" stroke-width="1" opacity="1" filter="url(#b0_6)" />
<ellipse cx="81" cy="48.2" rx="4" ry="4" fill="url(#gRY)" opacity="1" />
<ellipse cx="75.8" cy="64.1" rx="3.5" ry="7" fill="url(#gRY)" opacity="1" transform="rotate(30 75.8 64.1)" />
<ellipse cx="9.8" cy="58.4" rx="4" ry="7" fill="url(#gY)" opacity="1" />
<ellipse cx="12" cy="45" rx="4" ry="10" fill="url(#gG)" opacity="1" />
<ellipse cx="78" cy="36" rx="5" ry="10" fill="url(#gG)" opacity="1" />
<ellipse cx="45" cy="84" rx="16" ry="4" fill="url(#gG)" opacity="1" />
<ellipse cx="80" cy="70" rx="5" ry="6" fill="url(#gG)" opacity="1" />
<ellipse cx="81" cy="48.2" rx="2.8" ry="2.8" fill="#e62222" opacity="1" filter="url(#b0_6)" />
<ellipse cx="75.8" cy="64.1" rx="2.4499999999999997" ry="4.8999999999999995" fill="#e62222" opacity="1" filter="url(#b0_6)" transform="rotate(30 75.8 64.1)" />
<ellipse cx="32" cy="14" rx="13" ry="10" fill="url(#gL)" opacity="1" />
<ellipse cx="60" cy="14" rx="14" ry="10" fill="url(#gL)" opacity="1" />
<ellipse cx="45" cy="10" rx="8" ry="5" fill="url(#gL)" opacity="1" />
<ellipse cx="45" cy="12.3" rx="6" ry="3.5" fill="url(#gY)" opacity="1" />
<ellipse cx="45" cy="12.3" rx="3" ry="1.8" fill="#e84040" opacity="1" filter="url(#b1_2)" />
<path d="M18.3 48 C18 36 22 28 29 27.7 C36 27.5 40 30 42 24 L44 17 L47 17 L48 26 C50 31 54 31 59 31 C66 32 70.5 40 70.1 50 C70 62 66 76 45 78 C24 77 19 62 18.3 48Z" fill="#7a7890" stroke="#e0e0fa" stroke-width="7" opacity="1" filter="url(#b0_6)" paint-order="stroke" />
<g clip-path="url(#bt4)"><g filter="url(#b1)" opacity="0.6">
<ellipse cx="58.9" cy="68.7" rx="3.6" ry="4.3" fill="#6e6c84"/>
<ellipse cx="29.6" cy="56.2" rx="2.2" ry="2.5" fill="#6a6ab8"/>
<ellipse cx="29.6" cy="31.2" rx="5.0" ry="2.8" fill="#5a5ab0"/>
<ellipse cx="60.1" cy="38.6" rx="3.2" ry="4.1" fill="#8c8a98"/>
<ellipse cx="50.2" cy="53.5" rx="2.4" ry="3.0" fill="#6e6c84"/>
<ellipse cx="47.6" cy="47.1" rx="3.4" ry="4.9" fill="#6a6ab8"/>
<ellipse cx="59.7" cy="59.7" rx="4.2" ry="4.3" fill="#6a6ab8"/>
<ellipse cx="38.6" cy="26.0" rx="2.7" ry="4.5" fill="#6a6ab8"/>
<ellipse cx="56.5" cy="33.6" rx="3.1" ry="3.0" fill="#6e6c84"/>
<ellipse cx="67.8" cy="73.6" rx="4.8" ry="3.8" fill="#7a7ac0"/>
<ellipse cx="50.6" cy="38.9" rx="2.7" ry="3.8" fill="#8c8a98"/>
<ellipse cx="55.0" cy="29.6" rx="2.7" ry="3.6" fill="#8c8a98"/>
<ellipse cx="61.2" cy="71.5" rx="3.6" ry="2.6" fill="#7a7ac0"/>
<ellipse cx="38.8" cy="29.4" rx="2.5" ry="2.4" fill="#6e6c84"/>
<ellipse cx="20.4" cy="76.7" rx="2.8" ry="2.3" fill="#8c8a98"/>
<ellipse cx="62.4" cy="24.8" rx="4.4" ry="3.2" fill="#6a6ab8"/>
<ellipse cx="69.6" cy="74.7" rx="4.1" ry="2.7" fill="#9494a4"/>
<ellipse cx="46.7" cy="56.4" rx="4.6" ry="3.6" fill="#6e6c84"/>
<ellipse cx="40.6" cy="30.0" rx="3.7" ry="3.4" fill="#9494a4"/>
<ellipse cx="33.8" cy="72.8" rx="3.3" ry="3.5" fill="#6e6c84"/>
<ellipse cx="23.0" cy="78.0" rx="2.3" ry="2.8" fill="#6e6c84"/>
<ellipse cx="54.0" cy="42.6" rx="3.1" ry="3.3" fill="#5a5ab0"/>
<ellipse cx="36.7" cy="44.3" rx="4.9" ry="3.0" fill="#8c8a98"/>
<ellipse cx="24.0" cy="55.6" rx="3.8" ry="4.4" fill="#6a6ab8"/>
<ellipse cx="29.8" cy="29.6" rx="4.9" ry="3.2" fill="#5a5ab0"/>
<ellipse cx="67.9" cy="48.8" rx="3.2" ry="2.7" fill="#6a6ab8"/>
<ellipse cx="67.6" cy="71.1" rx="4.3" ry="5.0" fill="#9494a4"/>
<ellipse cx="20.9" cy="57.3" rx="4.1" ry="2.6" fill="#8c8a98"/>
<ellipse cx="46.4" cy="64.1" rx="4.4" ry="4.7" fill="#9494a4"/>
<ellipse cx="20.5" cy="36.9" rx="2.2" ry="3.0" fill="#9494a4"/>
<ellipse cx="30.4" cy="28.4" rx="4.3" ry="4.5" fill="#6a6ab8"/>
<ellipse cx="67.9" cy="28.1" rx="2.7" ry="3.3" fill="#9494a4"/>
<ellipse cx="59.8" cy="27.3" rx="2.7" ry="4.8" fill="#6e6c84"/>
<ellipse cx="53.1" cy="61.6" rx="2.6" ry="4.4" fill="#8c8a98"/>
<ellipse cx="62.8" cy="52.6" rx="3.9" ry="4.1" fill="#6a6ab8"/>
<ellipse cx="37.2" cy="28.3" rx="3.0" ry="3.7" fill="#6e6c84"/>
<ellipse cx="59.2" cy="75.5" rx="3.0" ry="4.4" fill="#6e6c84"/>
<ellipse cx="39.7" cy="70.6" rx="3.3" ry="4.2" fill="#5a5ab0"/>
<ellipse cx="29.9" cy="52.4" rx="2.5" ry="3.4" fill="#5a5ab0"/>
<ellipse cx="30.6" cy="49.8" rx="4.2" ry="3.1" fill="#6e6c84"/>
<ellipse cx="55.4" cy="43.7" rx="4.8" ry="2.2" fill="#9494a4"/>
<ellipse cx="39.2" cy="61.7" rx="3.0" ry="2.3" fill="#7a7ac0"/>
<ellipse cx="55.4" cy="36.3" rx="3.2" ry="2.8" fill="#6a6ab8"/>
<ellipse cx="65.7" cy="77.8" rx="2.9" ry="2.9" fill="#5a5ab0"/>
<ellipse cx="65.6" cy="69.2" rx="2.7" ry="3.9" fill="#8c8a98"/>
<ellipse cx="53.3" cy="39.3" rx="3.3" ry="4.2" fill="#9494a4"/>
<ellipse cx="28.7" cy="27.6" rx="3.5" ry="3.0" fill="#7a7ac0"/>
<ellipse cx="69.7" cy="72.3" rx="4.6" ry="4.8" fill="#6e6c84"/>
<ellipse cx="33.2" cy="50.3" rx="3.2" ry="4.5" fill="#6a6ab8"/>
<ellipse cx="51.1" cy="38.3" rx="4.2" ry="4.5" fill="#7a7ac0"/>
<ellipse cx="55.5" cy="43.8" rx="3.0" ry="4.3" fill="#9494a4"/>
<ellipse cx="33.5" cy="57.9" rx="4.4" ry="2.8" fill="#5a5ab0"/>
<ellipse cx="39.8" cy="65.9" rx="3.6" ry="2.4" fill="#9494a4"/>
<ellipse cx="63.2" cy="27.1" rx="4.5" ry="2.8" fill="#8c8a98"/>
<ellipse cx="31.6" cy="46.9" rx="3.4" ry="2.9" fill="#7a7ac0"/>
<ellipse cx="60.1" cy="32.7" rx="4.2" ry="2.3" fill="#9494a4"/>
<ellipse cx="54.7" cy="60.6" rx="2.7" ry="4.2" fill="#5a5ab0"/>
<ellipse cx="63.3" cy="31.1" rx="4.8" ry="4.1" fill="#8c8a98"/>
<ellipse cx="43.9" cy="70.5" rx="4.0" ry="4.1" fill="#6a6ab8"/>
<ellipse cx="59.9" cy="29.7" rx="2.7" ry="2.9" fill="#9494a4"/>
</g></g>
<ellipse cx="32" cy="16.3" rx="6.5" ry="6" fill="#e0e0fa" opacity="1" filter="url(#b0_6)" />
<ellipse cx="58.7" cy="17.4" rx="9" ry="8.5" fill="#e0e0fa" opacity="1" filter="url(#b0_6)" />
<ellipse cx="32" cy="16.3" rx="5" ry="4.5" fill="#6e6a98" opacity="1" filter="url(#b0_5)" />
<ellipse cx="58.7" cy="17.4" rx="7.5" ry="7.5" fill="#7e7c88" opacity="1" filter="url(#b0_5)" />
<ellipse cx="45" cy="49.3" rx="7" ry="7" fill="url(#gP)" opacity="1" />
<ellipse cx="43.9" cy="74.4" rx="4" ry="4" fill="url(#gT)" opacity="1" />
<ellipse cx="30" cy="55" rx="8" ry="10" fill="url(#gP)" opacity="1" />
<ellipse cx="60" cy="58" rx="8" ry="10" fill="url(#gP)" opacity="1" />
</g>
</g></g>
<g transform="translate(162.8,505.8)"><g clip-path="url(#c14)"><rect x="0" y="0" width="90" height="89.7" fill="#000"/>
<g filter="url(#soft)">
<path d="M44.8 2 C56 2 64 4 69.8 9.5 C76 14 80 18 82.3 22 C85 32 86 40 85.8 44.8 C85.5 55 84.5 62 83.5 67.5 C82 75 80 82 79 92 L-2 92 L-2 82 C4 84 10 86 12.9 84.6 C11 78 10 72 9.5 67.5 C8 58 7 50 7.2 44.8 C7.5 36 8 30 8.3 25.4 C12 18 16 14 22 10.6 C30 5 36 2 44.8 2Z" fill="#0818ff" stroke="#0818ff" stroke-width="5" opacity="1" filter="url(#b0_8)" paint-order="stroke" />
<path d="M44.8 2 C56 2 64 4 69.8 9.5 C76 14 80 18 82.3 22 C85 32 86 40 85.8 44.8 C85.5 55 84.5 62 83.5 67.5 C82 75 80 82 79 92 L-2 92 L-2 82 C4 84 10 86 12.9 84.6 C11 78 10 72 9.5 67.5 C8 58 7 50 7.2 44.8 C7.5 36 8 30 8.3 25.4 C12 18 16 14 22 10.6 C30 5 36 2 44.8 2Z" fill="#00e8ff" stroke="#00e8ff" stroke-width="2.2" opacity="1" filter="url(#b0_6)" paint-order="stroke" />
<path d="M44.8 2 C56 2 64 4 69.8 9.5 C76 14 80 18 82.3 22 C85 32 86 40 85.8 44.8 C85.5 55 84.5 62 83.5 67.5 C82 75 80 82 79 92 L-2 92 L-2 82 C4 84 10 86 12.9 84.6 C11 78 10 72 9.5 67.5 C8 58 7 50 7.2 44.8 C7.5 36 8 30 8.3 25.4 C12 18 16 14 22 10.6 C30 5 36 2 44.8 2Z" fill="#b0e058" stroke="none" stroke-width="1" opacity="1" filter="url(#b0_6)" />
<ellipse cx="27" cy="72" rx="13" ry="20" fill="url(#gRY)" opacity="1" />
<ellipse cx="63" cy="72" rx="13" ry="20" fill="url(#gRY)" opacity="1" />
<ellipse cx="48.2" cy="69.8" rx="6" ry="12" fill="url(#gG)" opacity="1" />
<ellipse cx="33.4" cy="60.7" rx="10" ry="6" fill="url(#gRY)" opacity="1" transform="rotate(35 33.4 60.7)" />
<ellipse cx="40.2" cy="72.1" rx="4" ry="7" fill="url(#gRY)" opacity="1" />
<ellipse cx="65.3" cy="52.7" rx="5" ry="7" fill="url(#gRY)" opacity="1" />
<ellipse cx="58.4" cy="63" rx="4" ry="4" fill="url(#gRY)" opacity="1" />
<ellipse cx="82.3" cy="50.5" rx="4" ry="19" fill="url(#gRY)" opacity="1" />
<ellipse cx="16.3" cy="73.2" rx="4" ry="6" fill="url(#gY)" opacity="1" />
<ellipse cx="15.1" cy="56" rx="4" ry="6" fill="url(#gY)" opacity="1" />
<ellipse cx="12" cy="35" rx="4" ry="10" fill="url(#gG)" opacity="1" />
<ellipse cx="78" cy="30" rx="5" ry="10" fill="url(#gG)" opacity="1" />
<ellipse cx="70" cy="75" rx="6" ry="10" fill="url(#gY)" opacity="1" />
<ellipse cx="30" cy="80" rx="6" ry="8" fill="url(#gG)" opacity="1" />
<ellipse cx="4" cy="86" rx="6" ry="4" fill="url(#gC)" opacity="1" />
<ellipse cx="27" cy="72" rx="9.1" ry="14.0" fill="#e62222" opacity="1" filter="url(#b0_6)" />
<ellipse cx="63" cy="72" rx="9.1" ry="14.0" fill="#e62222" opacity="1" filter="url(#b0_6)" />
<ellipse cx="33.4" cy="60.7" rx="7.0" ry="4.199999999999999" fill="#e62222" opacity="1" filter="url(#b0_6)" transform="rotate(35 33.4 60.7)" />
<ellipse cx="40.2" cy="72.1" rx="2.8" ry="4.8999999999999995" fill="#e62222" opacity="1" filter="url(#b0_6)" />
<ellipse cx="65.3" cy="52.7" rx="3.5" ry="4.8999999999999995" fill="#e62222" opacity="1" filter="url(#b0_6)" />
<ellipse cx="58.4" cy="63" rx="2.8" ry="2.8" fill="#e62222" opacity="1" filter="url(#b0_6)" />
<ellipse cx="82.3" cy="50.5" rx="2.8" ry="13.299999999999999" fill="#e62222" opacity="1" filter="url(#b0_6)" />
<path d="M16 32 C18 50 22 70 26.5 90" fill="none" stroke="#b8f4f0" stroke-width="3.5" opacity="1" filter="url(#b0_8)" />
<path d="M72 32 C70 50 66 70 63 90" fill="none" stroke="#b8f4f0" stroke-width="3.5" opacity="1" filter="url(#b0_8)" />
<path d="M18 28 C18 14 30 7 44.8 7.2 C60 7 70 14 69.8 28 C69.6 36 66 40 60 42 C54 43 50 43.6 44.8 43.6 C38 43.6 30 43 26 41 C21 38 18 34 18 28Z" fill="#7a7890" stroke="#e0e0fa" stroke-width="9" opacity="1" filter="url(#b0_6)" paint-order="stroke" />
<g clip-path="url(#bt5)"><g filter="url(#b1)" opacity="0.6">
<ellipse cx="48.2" cy="39.7" rx="3.1" ry="4.0" fill="#6e6c84"/>
<ellipse cx="22.7" cy="27.7" rx="3.2" ry="4.2" fill="#9494a4"/>
<ellipse cx="57.1" cy="8.4" rx="4.5" ry="2.6" fill="#6e6c84"/>
<ellipse cx="33.4" cy="33.6" rx="2.4" ry="4.0" fill="#5a5ab0"/>
<ellipse cx="50.9" cy="40.1" rx="2.8" ry="5.0" fill="#6e6c84"/>
<ellipse cx="55.5" cy="32.5" rx="4.8" ry="3.2" fill="#9494a4"/>
<ellipse cx="41.0" cy="18.6" rx="2.7" ry="3.6" fill="#6a6ab8"/>
<ellipse cx="46.9" cy="9.8" rx="4.2" ry="4.7" fill="#6a6ab8"/>
<ellipse cx="31.6" cy="21.7" rx="3.3" ry="4.7" fill="#6e6c84"/>
<ellipse cx="20.5" cy="35.3" rx="3.4" ry="4.5" fill="#6e6c84"/>
<ellipse cx="48.0" cy="35.6" rx="3.3" ry="4.9" fill="#9494a4"/>
<ellipse cx="19.9" cy="19.6" rx="2.6" ry="3.5" fill="#8c8a98"/>
<ellipse cx="66.4" cy="29.9" rx="2.3" ry="2.5" fill="#7a7ac0"/>
<ellipse cx="58.4" cy="28.4" rx="3.5" ry="2.3" fill="#5a5ab0"/>
<ellipse cx="44.9" cy="25.4" rx="3.1" ry="3.6" fill="#6a6ab8"/>
<ellipse cx="20.3" cy="40.0" rx="2.5" ry="2.3" fill="#5a5ab0"/>
<ellipse cx="49.3" cy="11.9" rx="3.0" ry="2.3" fill="#9494a4"/>
<ellipse cx="53.7" cy="26.3" rx="2.9" ry="2.3" fill="#5a5ab0"/>
<ellipse cx="21.3" cy="36.8" rx="3.1" ry="4.7" fill="#7a7ac0"/>
<ellipse cx="63.0" cy="27.5" rx="3.9" ry="3.2" fill="#9494a4"/>
<ellipse cx="38.3" cy="16.1" rx="4.7" ry="2.4" fill="#7a7ac0"/>
<ellipse cx="33.9" cy="36.7" rx="4.7" ry="4.8" fill="#9494a4"/>
<ellipse cx="53.3" cy="15.1" rx="2.2" ry="3.6" fill="#6a6ab8"/>
<ellipse cx="31.6" cy="7.5" rx="4.3" ry="4.3" fill="#7a7ac0"/>
<ellipse cx="54.1" cy="33.1" rx="3.1" ry="2.8" fill="#5a5ab0"/>
<ellipse cx="42.6" cy="33.2" rx="4.2" ry="4.0" fill="#9494a4"/>
<ellipse cx="50.1" cy="18.4" rx="4.7" ry="2.6" fill="#6a6ab8"/>
<ellipse cx="55.8" cy="31.1" rx="3.7" ry="3.9" fill="#8c8a98"/>
<ellipse cx="23.0" cy="24.1" rx="3.4" ry="4.0" fill="#6a6ab8"/>
<ellipse cx="56.6" cy="26.1" rx="3.6" ry="2.4" fill="#7a7ac0"/>
<ellipse cx="45.3" cy="28.3" rx="4.8" ry="3.6" fill="#8c8a98"/>
<ellipse cx="19.2" cy="11.9" rx="3.6" ry="3.3" fill="#6e6c84"/>
<ellipse cx="48.0" cy="26.6" rx="2.2" ry="3.0" fill="#6a6ab8"/>
<ellipse cx="45.2" cy="37.7" rx="2.8" ry="4.0" fill="#9494a4"/>
<ellipse cx="46.4" cy="26.6" rx="3.6" ry="4.1" fill="#5a5ab0"/>
<ellipse cx="30.1" cy="21.6" rx="4.4" ry="3.0" fill="#6a6ab8"/>
<ellipse cx="59.4" cy="20.2" rx="2.4" ry="3.6" fill="#5a5ab0"/>
<ellipse cx="63.5" cy="22.2" rx="3.1" ry="5.0" fill="#6e6c84"/>
<ellipse cx="68.5" cy="32.9" rx="2.3" ry="3.8" fill="#5a5ab0"/>
<ellipse cx="51.2" cy="24.3" rx="4.1" ry="4.9" fill="#6a6ab8"/>
<ellipse cx="20.4" cy="19.8" rx="2.7" ry="4.4" fill="#8c8a98"/>
<ellipse cx="35.6" cy="35.9" rx="3.5" ry="4.0" fill="#9494a4"/>
<ellipse cx="18.4" cy="32.2" rx="2.9" ry="3.1" fill="#6e6c84"/>
<ellipse cx="66.2" cy="36.0" rx="3.1" ry="4.4" fill="#6a6ab8"/>
<ellipse cx="49.3" cy="32.7" rx="3.2" ry="3.0" fill="#8c8a98"/>
<ellipse cx="49.9" cy="11.0" rx="2.8" ry="2.4" fill="#5a5ab0"/>
<ellipse cx="47.8" cy="7.7" rx="2.5" ry="3.9" fill="#9494a4"/>
</g></g>
<ellipse cx="32.2" cy="40.2" rx="5" ry="4.5" fill="#f4f4ff" opacity="1" filter="url(#b1_2)" />
<ellipse cx="32.2" cy="47" rx="6" ry="3.5" fill="url(#gB)" opacity="1" />
<ellipse cx="53.9" cy="45.9" rx="5" ry="3.5" fill="url(#gB)" opacity="1" />
<ellipse cx="45.9" cy="50.5" rx="5" ry="4" fill="url(#gC)" opacity="1" />
<ellipse cx="45.9" cy="50.5" rx="2.2" ry="1.8" fill="#f06060" opacity="1" filter="url(#b1_2)" />
<ellipse cx="35" cy="20" rx="6" ry="6" fill="url(#gP)" opacity="1" />
<ellipse cx="55" cy="25" rx="6" ry="6" fill="url(#gP)" opacity="1" />
<ellipse cx="45" cy="35" rx="6" ry="5" fill="url(#gP)" opacity="1" />
</g>
</g></g>
<g transform="translate(260.3,505.8)"><g clip-path="url(#c15)"><rect x="0" y="0" width="89.7" height="89.7" fill="#000"/>
<g filter="url(#soft)">
<path d="M34 -2 L54.4 -2 C60 2 64 3 68 3.8 C74 8 78 12 81.7 16.3 C85 20 87 23 88.5 25.4 L92 30 L92 92 L-2 92 L-2 84 C1 80 2 74 4.3 67.5 C6 58 8 50 8.8 44.8 C9.5 36 10 28 11.1 22 C13 16 15 12 16.8 9.5 C22 5 28 2 34 -2Z" fill="#0818ff" stroke="#0818ff" stroke-width="5" opacity="1" filter="url(#b0_8)" paint-order="stroke" />
<path d="M34 -2 L54.4 -2 C60 2 64 3 68 3.8 C74 8 78 12 81.7 16.3 C85 20 87 23 88.5 25.4 L92 30 L92 92 L-2 92 L-2 84 C1 80 2 74 4.3 67.5 C6 58 8 50 8.8 44.8 C9.5 36 10 28 11.1 22 C13 16 15 12 16.8 9.5 C22 5 28 2 34 -2Z" fill="#00e8ff" stroke="#00e8ff" stroke-width="2.2" opacity="1" filter="url(#b0_6)" paint-order="stroke" />
<path d="M34 -2 L54.4 -2 C60 2 64 3 68 3.8 C74 8 78 12 81.7 16.3 C85 20 87 23 88.5 25.4 L92 30 L92 92 L-2 92 L-2 84 C1 80 2 74 4.3 67.5 C6 58 8 50 8.8 44.8 C9.5 36 10 28 11.1 22 C13 16 15 12 16.8 9.5 C22 5 28 2 34 -2Z" fill="#a0e8d0" stroke="none" stroke-width="1" opacity="1" filter="url(#b0_6)" />
<ellipse cx="6" cy="60" rx="5" ry="24" fill="url(#gC)" opacity="1" />
<ellipse cx="12" cy="75" rx="4" ry="12" fill="url(#gG)" opacity="1" />
<ellipse cx="15.1" cy="67.5" rx="3.5" ry="3.5" fill="url(#gRY)" opacity="1" />
<ellipse cx="66" cy="68" rx="24" ry="20" fill="url(#gRY)" opacity="1" />
<ellipse cx="76" cy="50" rx="12" ry="10" fill="url(#gY)" opacity="1" />
<ellipse cx="58.9" cy="69.8" rx="15" ry="15" fill="url(#gRY)" opacity="1" />
<ellipse cx="51" cy="82" rx="8" ry="8" fill="url(#gRY)" opacity="1" />
<ellipse cx="79.4" cy="53.9" rx="9" ry="9" fill="url(#gRY)" opacity="1" />
<ellipse cx="53.2" cy="45.9" rx="11" ry="4.5" fill="#f08080" opacity="1" filter="url(#b1_2)" />
<ellipse cx="48.7" cy="56.1" rx="9" ry="7" fill="url(#gG)" opacity="1" />
<ellipse cx="54.4" cy="55" rx="4" ry="3" fill="url(#gC)" opacity="1" />
<ellipse cx="43" cy="67.5" rx="4" ry="7" fill="url(#gY)" opacity="1" />
<ellipse cx="79.4" cy="63" rx="6" ry="5" fill="#f08080" opacity="1" filter="url(#b1_2)" />
<ellipse cx="79.4" cy="80" rx="10" ry="8" fill="url(#gL)" opacity="1" />
<ellipse cx="81.7" cy="26.5" rx="3" ry="4.5" fill="#f08080" opacity="1" filter="url(#b1_2)" />
<ellipse cx="62.3" cy="35.6" rx="12" ry="3" fill="url(#gL)" opacity="1" />
<ellipse cx="38" cy="75" rx="5" ry="12" fill="url(#gG)" opacity="1" />
<ellipse cx="66" cy="68" rx="16.799999999999997" ry="14.0" fill="#e62222" opacity="1" filter="url(#b0_6)" />
<ellipse cx="58.9" cy="69.8" rx="10.5" ry="10.5" fill="#e62222" opacity="1" filter="url(#b0_6)" />
<ellipse cx="51" cy="82" rx="5.6" ry="5.6" fill="#e62222" opacity="1" filter="url(#b0_6)" />
<ellipse cx="79.4" cy="53.9" rx="6.3" ry="6.3" fill="#e62222" opacity="1" filter="url(#b0_6)" />
<path d="M30.5 50 C30 62 29.5 76 29.3 92" fill="none" stroke="#e0e0fa" stroke-width="4.5" opacity="1" filter="url(#b0_8)" />
<path d="M15.6 24 C15 12 30 7.2 45.3 7.2 C60 7.2 74 12 78.3 25.4 L78.3 31 C74 32 70 32 68 32.2 C60 34 54 36 48.7 37.9 C42 40 36 42 33.9 44.8 C32 48 30 50 28 52 C24 46 20 40 17 34 C16 30 15.6 27 15.6 24Z" fill="#7a7890" stroke="#e0e0fa" stroke-width="9" opacity="1" filter="url(#b0_6)" paint-order="stroke" />
<g clip-path="url(#bt6)"><g filter="url(#b1)" opacity="0.6">
<ellipse cx="69.2" cy="15.5" rx="2.9" ry="3.0" fill="#9494a4"/>
<ellipse cx="20.0" cy="18.8" rx="3.7" ry="3.2" fill="#7a7ac0"/>
<ellipse cx="46.2" cy="38.7" rx="3.0" ry="4.6" fill="#7a7ac0"/>
<ellipse cx="37.9" cy="27.0" rx="2.9" ry="3.2" fill="#5a5ab0"/>
<ellipse cx="32.5" cy="35.0" rx="3.8" ry="2.6" fill="#5a5ab0"/>
<ellipse cx="22.4" cy="35.2" rx="3.7" ry="4.4" fill="#7a7ac0"/>
<ellipse cx="68.5" cy="9.4" rx="4.0" ry="4.0" fill="#9494a4"/>
<ellipse cx="21.3" cy="13.9" rx="4.1" ry="5.0" fill="#7a7ac0"/>
<ellipse cx="62.8" cy="39.0" rx="2.3" ry="2.9" fill="#5a5ab0"/>
<ellipse cx="43.1" cy="22.3" rx="3.5" ry="4.4" fill="#8c8a98"/>
<ellipse cx="56.4" cy="45.5" rx="2.9" ry="2.9" fill="#9494a4"/>
<ellipse cx="38.5" cy="11.0" rx="3.0" ry="2.6" fill="#6e6c84"/>
<ellipse cx="61.7" cy="8.8" rx="3.9" ry="3.2" fill="#7a7ac0"/>
<ellipse cx="47.8" cy="51.7" rx="2.6" ry="3.0" fill="#5a5ab0"/>
<ellipse cx="48.7" cy="21.9" rx="4.2" ry="3.5" fill="#9494a4"/>
<ellipse cx="73.0" cy="26.0" rx="4.9" ry="4.3" fill="#9494a4"/>
<ellipse cx="60.8" cy="19.9" rx="4.7" ry="3.9" fill="#9494a4"/>
<ellipse cx="27.2" cy="27.2" rx="2.7" ry="3.7" fill="#9494a4"/>
<ellipse cx="73.7" cy="24.0" rx="4.8" ry="3.8" fill="#8c8a98"/>
<ellipse cx="66.8" cy="45.8" rx="3.8" ry="4.5" fill="#6a6ab8"/>
<ellipse cx="44.6" cy="11.2" rx="3.0" ry="3.4" fill="#8c8a98"/>
<ellipse cx="67.7" cy="7.4" rx="4.5" ry="4.9" fill="#6e6c84"/>
<ellipse cx="42.9" cy="8.3" rx="2.9" ry="4.3" fill="#9494a4"/>
<ellipse cx="28.7" cy="19.6" rx="2.5" ry="3.6" fill="#6e6c84"/>
<ellipse cx="33.0" cy="13.3" rx="3.9" ry="3.0" fill="#7a7ac0"/>
<ellipse cx="26.7" cy="16.6" rx="3.9" ry="3.8" fill="#7a7ac0"/>
<ellipse cx="25.6" cy="19.0" rx="4.5" ry="2.6" fill="#7a7ac0"/>
<ellipse cx="70.2" cy="41.6" rx="2.9" ry="4.7" fill="#7a7ac0"/>
<ellipse cx="62.1" cy="17.9" rx="3.9" ry="3.6" fill="#6a6ab8"/>
<ellipse cx="16.5" cy="24.9" rx="4.9" ry="3.1" fill="#7a7ac0"/>
<ellipse cx="59.7" cy="47.3" rx="3.0" ry="3.3" fill="#5a5ab0"/>
<ellipse cx="56.4" cy="25.3" rx="4.1" ry="4.7" fill="#9494a4"/>
<ellipse cx="43.6" cy="17.9" rx="3.8" ry="5.0" fill="#7a7ac0"/>
<ellipse cx="69.7" cy="27.6" rx="4.0" ry="2.4" fill="#9494a4"/>
<ellipse cx="58.4" cy="13.6" rx="4.4" ry="4.9" fill="#8c8a98"/>
<ellipse cx="45.8" cy="40.9" rx="2.8" ry="3.4" fill="#6a6ab8"/>
<ellipse cx="72.9" cy="7.2" rx="2.8" ry="3.3" fill="#8c8a98"/>
<ellipse cx="29.3" cy="36.5" rx="2.6" ry="2.5" fill="#8c8a98"/>
<ellipse cx="36.3" cy="38.7" rx="4.9" ry="3.4" fill="#6e6c84"/>
<ellipse cx="41.1" cy="31.4" rx="4.7" ry="4.0" fill="#6e6c84"/>
<ellipse cx="39.3" cy="15.3" rx="4.3" ry="3.1" fill="#5a5ab0"/>
<ellipse cx="27.6" cy="36.1" rx="4.9" ry="2.9" fill="#6e6c84"/>
<ellipse cx="43.3" cy="15.5" rx="3.9" ry="3.7" fill="#9494a4"/>
<ellipse cx="29.3" cy="29.5" rx="3.2" ry="3.8" fill="#6e6c84"/>
<ellipse cx="66.6" cy="22.5" rx="4.1" ry="4.7" fill="#7a7ac0"/>
<ellipse cx="44.8" cy="25.0" rx="3.3" ry="3.2" fill="#9494a4"/>
<ellipse cx="46.8" cy="16.4" rx="4.2" ry="3.1" fill="#6e6c84"/>
<ellipse cx="58.9" cy="11.4" rx="4.2" ry="2.7" fill="#6e6c84"/>
<ellipse cx="30.6" cy="39.3" rx="2.3" ry="4.6" fill="#6e6c84"/>
<ellipse cx="20.2" cy="16.7" rx="2.3" ry="3.5" fill="#7a7ac0"/>
<ellipse cx="54.8" cy="9.9" rx="2.9" ry="5.0" fill="#5a5ab0"/>
<ellipse cx="42.1" cy="13.4" rx="4.8" ry="4.8" fill="#7a7ac0"/>
<ellipse cx="24.6" cy="51.6" rx="4.0" ry="2.7" fill="#6e6c84"/>
<ellipse cx="28.9" cy="8.5" rx="3.2" ry="4.5" fill="#6a6ab8"/>
<ellipse cx="69.9" cy="15.4" rx="2.9" ry="2.3" fill="#6e6c84"/>
<ellipse cx="30.9" cy="15.0" rx="4.4" ry="4.6" fill="#9494a4"/>
<ellipse cx="18.3" cy="32.0" rx="3.6" ry="4.8" fill="#9494a4"/>
<ellipse cx="37.9" cy="18.8" rx="3.6" ry="2.3" fill="#8c8a98"/>
<ellipse cx="66.0" cy="15.5" rx="2.5" ry="3.2" fill="#5a5ab0"/>
<ellipse cx="41.7" cy="19.9" rx="2.6" ry="3.9" fill="#9494a4"/>
</g></g>
<path d="M31.6 44 C29 60 25 76 22.5 92" fill="none" stroke="#7a7890" stroke-width="7" opacity="1" filter="url(#b0_6)" />
<ellipse cx="30" cy="25" rx="7" ry="7" fill="url(#gP)" opacity="1" />
<ellipse cx="50" cy="28" rx="7" ry="6" fill="url(#gP)" opacity="1" />
<ellipse cx="68" cy="20" rx="6" ry="6" fill="url(#gP)" opacity="1" />
<ellipse cx="40" cy="15" rx="6" ry="5" fill="url(#gP)" opacity="1" />
</g>
</g></g>
<g transform="translate(56.5,600.8)"><g clip-path="url(#c16)"><rect x="0" y="0" width="90" height="90.1" fill="#000"/>
<g filter="url(#soft)">
<path d="M45 4.9 C48 5 49 10 52 12 C60 12 66 13 70.1 15.1 C76 22 78 34 79.2 44.8 C82 48 86 54 86 58.4 C84 64 78 68 72.4 73.2 C64 80 55 82.3 45 82.3 C32 82.3 20 78 12 69.8 C9 65 8 60 9.8 56.1 C11 48 12 40 13.2 33.4 C14 24 15 18 17.7 14 C24 12 32 12 38 12 C41 10 42 5 45 4.9Z" fill="#0818ff" stroke="#0818ff" stroke-width="5" opacity="1" filter="url(#b0_8)" paint-order="stroke" />
<path d="M45 4.9 C48 5 49 10 52 12 C60 12 66 13 70.1 15.1 C76 22 78 34 79.2 44.8 C82 48 86 54 86 58.4 C84 64 78 68 72.4 73.2 C64 80 55 82.3 45 82.3 C32 82.3 20 78 12 69.8 C9 65 8 60 9.8 56.1 C11 48 12 40 13.2 33.4 C14 24 15 18 17.7 14 C24 12 32 12 38 12 C41 10 42 5 45 4.9Z" fill="#00e8ff" stroke="#00e8ff" stroke-width="2.2" opacity="1" filter="url(#b0_6)" paint-order="stroke" />
<path d="M45 4.9 C48 5 49 10 52 12 C60 12 66 13 70.1 15.1 C76 22 78 34 79.2 44.8 C82 48 86 54 86 58.4 C84 64 78 68 72.4 73.2 C64 80 55 82.3 45 82.3 C32 82.3 20 78 12 69.8 C9 65 8 60 9.8 56.1 C11 48 12 40 13.2 33.4 C14 24 15 18 17.7 14 C24 12 32 12 38 12 C41 10 42 5 45 4.9Z" fill="#90ecc8" stroke="none" stroke-width="1" opacity="1" filter="url(#b0_6)" />
<ellipse cx="13.2" cy="55" rx="3.5" ry="5" fill="url(#gRY)" opacity="1" />
<ellipse cx="77" cy="56.1" rx="3.5" ry="6" fill="url(#gRY)" opacity="1" />
<ellipse cx="15" cy="40" rx="4" ry="14" fill="url(#gY)" opacity="1" />
<ellipse cx="76" cy="38" rx="4" ry="14" fill="url(#gY)" opacity="1" />
<ellipse cx="13.2" cy="55" rx="2.4499999999999997" ry="3.5" fill="#e62222" opacity="1" filter="url(#b0_6)" />
<ellipse cx="77" cy="56.1" rx="2.4499999999999997" ry="4.199999999999999" fill="#e62222" opacity="1" filter="url(#b0_6)" />
<path d="M16.0 53A28.5 28.5 0 1 0 73.0 53A28.5 28.5 0 1 0 16.0 53Z" fill="#c8f4f0" stroke="none" stroke-width="1" opacity="1" filter="url(#b0_6)" />
<path d="M19.4 53 C19.4 40 22 30 30 29 C36 28.5 40 28 45 27.5 C50 28 54 28.5 60 29 C67 30 69.5 40 69.5 53 C69.5 68 60 78 45 78 C30 78 19.4 68 19.4 53Z" fill="#4a80c0" stroke="none" stroke-width="1" opacity="1" filter="url(#b0_6)" />
<g clip-path="url(#bt7)"><g filter="url(#b1)" opacity="0.6">
<ellipse cx="20.5" cy="70.7" rx="3.2" ry="2.6" fill="#38c0b0"/>
<ellipse cx="34.3" cy="40.9" rx="3.2" ry="4.1" fill="#6a6aa8"/>
<ellipse cx="41.4" cy="57.2" rx="2.3" ry="2.6" fill="#40b8a8"/>
<ellipse cx="50.3" cy="68.1" rx="3.4" ry="3.3" fill="#6a6aa8"/>
<ellipse cx="54.4" cy="51.3" rx="4.1" ry="4.4" fill="#5a5ab4"/>
<ellipse cx="65.4" cy="31.8" rx="3.0" ry="2.6" fill="#40b8a8"/>
<ellipse cx="51.5" cy="44.4" rx="2.6" ry="4.8" fill="#40b8a8"/>
<ellipse cx="43.1" cy="53.1" rx="2.7" ry="4.2" fill="#6a6aa8"/>
<ellipse cx="19.5" cy="32.7" rx="2.6" ry="4.6" fill="#38c0b0"/>
<ellipse cx="53.2" cy="60.9" rx="4.8" ry="3.8" fill="#40b8a8"/>
<ellipse cx="35.7" cy="65.0" rx="4.1" ry="4.7" fill="#5a5ab4"/>
<ellipse cx="29.2" cy="75.2" rx="2.9" ry="2.6" fill="#4a6cc4"/>
<ellipse cx="60.7" cy="34.7" rx="3.6" ry="3.2" fill="#40b8a8"/>
<ellipse cx="33.0" cy="38.9" rx="4.7" ry="3.8" fill="#40a8b8"/>
<ellipse cx="47.9" cy="74.4" rx="2.6" ry="3.6" fill="#4a6cc4"/>
<ellipse cx="57.7" cy="30.7" rx="4.4" ry="4.7" fill="#6a6aa8"/>
<ellipse cx="48.9" cy="52.7" rx="2.9" ry="3.4" fill="#40b8a8"/>
<ellipse cx="59.8" cy="50.3" rx="2.2" ry="3.2" fill="#40b8a8"/>
<ellipse cx="29.1" cy="53.9" rx="2.9" ry="4.2" fill="#6a6aa8"/>
<ellipse cx="67.8" cy="46.5" rx="3.3" ry="4.9" fill="#40a8b8"/>
<ellipse cx="24.3" cy="71.8" rx="3.3" ry="2.7" fill="#38c0b0"/>
<ellipse cx="65.6" cy="31.5" rx="4.5" ry="2.2" fill="#5a5ab4"/>
<ellipse cx="44.7" cy="38.6" rx="2.8" ry="3.0" fill="#38c0b0"/>
<ellipse cx="42.2" cy="65.4" rx="2.4" ry="2.4" fill="#5a5ab4"/>
<ellipse cx="49.5" cy="77.2" rx="3.3" ry="3.3" fill="#38c0b0"/>
<ellipse cx="27.2" cy="56.5" rx="4.1" ry="4.5" fill="#38c0b0"/>
<ellipse cx="48.9" cy="30.6" rx="3.5" ry="3.0" fill="#38c0b0"/>
<ellipse cx="56.1" cy="53.8" rx="3.0" ry="2.3" fill="#6a6aa8"/>
<ellipse cx="45.1" cy="70.1" rx="3.4" ry="2.4" fill="#38c0b0"/>
<ellipse cx="57.2" cy="45.0" rx="3.4" ry="4.1" fill="#40b8a8"/>
<ellipse cx="29.1" cy="31.3" rx="3.8" ry="4.4" fill="#40b8a8"/>
<ellipse cx="30.0" cy="36.5" rx="4.1" ry="2.3" fill="#5a5ab4"/>
<ellipse cx="49.5" cy="65.8" rx="4.6" ry="4.7" fill="#6a6aa8"/>
<ellipse cx="60.4" cy="40.9" rx="4.9" ry="2.8" fill="#40b8a8"/>
<ellipse cx="47.8" cy="66.2" rx="4.5" ry="3.7" fill="#4a6cc4"/>
<ellipse cx="60.4" cy="56.0" rx="4.3" ry="4.6" fill="#4a6cc4"/>
<ellipse cx="28.7" cy="52.4" rx="2.5" ry="4.3" fill="#40a8b8"/>
<ellipse cx="46.8" cy="39.8" rx="2.3" ry="4.4" fill="#5a5ab4"/>
<ellipse cx="52.6" cy="74.5" rx="4.7" ry="2.9" fill="#40a8b8"/>
<ellipse cx="51.6" cy="56.6" rx="2.8" ry="3.4" fill="#6a6aa8"/>
<ellipse cx="25.4" cy="55.6" rx="3.3" ry="4.9" fill="#40b8a8"/>
<ellipse cx="61.9" cy="29.5" rx="4.5" ry="2.5" fill="#40b8a8"/>
<ellipse cx="24.5" cy="53.1" rx="4.1" ry="2.2" fill="#5a5ab4"/>
<ellipse cx="61.3" cy="47.2" rx="4.1" ry="2.2" fill="#38c0b0"/>
<ellipse cx="37.8" cy="36.4" rx="4.2" ry="2.5" fill="#5a5ab4"/>
<ellipse cx="66.3" cy="37.8" rx="4.0" ry="3.3" fill="#5a5ab4"/>
<ellipse cx="24.8" cy="40.3" rx="2.4" ry="2.3" fill="#6a6aa8"/>
<ellipse cx="24.5" cy="68.2" rx="4.5" ry="4.3" fill="#6a6aa8"/>
<ellipse cx="52.4" cy="51.1" rx="3.1" ry="2.3" fill="#40b8a8"/>
<ellipse cx="41.9" cy="68.8" rx="4.8" ry="3.4" fill="#5a5ab4"/>
<ellipse cx="61.6" cy="67.2" rx="4.2" ry="3.6" fill="#40b8a8"/>
<ellipse cx="50.8" cy="34.9" rx="3.5" ry="4.6" fill="#6a6aa8"/>
<ellipse cx="45.8" cy="68.9" rx="3.0" ry="4.5" fill="#40b8a8"/>
<ellipse cx="41.0" cy="54.1" rx="4.2" ry="3.9" fill="#6a6aa8"/>
<ellipse cx="51.7" cy="38.5" rx="4.4" ry="4.8" fill="#38c0b0"/>
<ellipse cx="42.8" cy="35.7" rx="4.1" ry="3.5" fill="#38c0b0"/>
<ellipse cx="32.4" cy="73.6" rx="3.9" ry="4.9" fill="#38c0b0"/>
<ellipse cx="43.3" cy="75.3" rx="4.7" ry="4.7" fill="#40b8a8"/>
<ellipse cx="30.3" cy="28.8" rx="3.5" ry="2.5" fill="#40b8a8"/>
<ellipse cx="41.3" cy="42.5" rx="4.1" ry="3.4" fill="#4a6cc4"/>
</g></g>
<ellipse cx="32" cy="18" rx="9.5" ry="9" fill="url(#gL)" opacity="1" />
<ellipse cx="58.7" cy="18" rx="10" ry="9" fill="url(#gL)" opacity="1" />
<ellipse cx="32" cy="18" rx="7.5" ry="7" fill="#3a70c0" opacity="1" filter="url(#b0_5)" />
<ellipse cx="58.7" cy="18" rx="8" ry="7.5" fill="#3a70c0" opacity="1" filter="url(#b0_5)" />
<ellipse cx="32" cy="18" rx="6" ry="5.6" fill="#8a6a80" opacity="1" filter="url(#b0_5)" />
<ellipse cx="58.7" cy="18" rx="6.5" ry="6.5" fill="#8a6a80" opacity="1" filter="url(#b0_5)" />
<path d="M45 6 L45 26" fill="none" stroke="#e0e0fa" stroke-width="6" opacity="1" filter="url(#b0_6)" />
<ellipse cx="45" cy="11.7" rx="3.5" ry="3.5" fill="url(#gRY)" opacity="1" />
<ellipse cx="40.5" cy="47" rx="8" ry="7" fill="url(#gT)" opacity="1" />
<ellipse cx="30" cy="55" rx="6" ry="8" fill="url(#gP)" opacity="1" />
<ellipse cx="55" cy="60" rx="8" ry="8" fill="url(#gP)" opacity="1" />
<ellipse cx="45" cy="72" rx="6" ry="5" fill="url(#gT)" opacity="1" />
<ellipse cx="30" cy="38" rx="5" ry="5" fill="url(#gT)" opacity="1" />
<ellipse cx="58" cy="38" rx="6" ry="5" fill="url(#gT)" opacity="1" />
<path d="M80 92 L92 84" fill="none" stroke="#fff" stroke-width="1.4" opacity="1" />
</g>
</g></g>
<g transform="translate(162.8,600.8)"><g clip-path="url(#c17)"><rect x="0" y="0" width="90" height="89.8" fill="#000"/>
<g filter="url(#soft)">
<path d="M44.8 3.8 C56 3.8 64 6 69.8 10.6 C75 16 78 22 79 27.7 C80.5 34 81.2 40 81.2 44.8 C81 55 79 62 76.6 67.5 C74 76 72 82 69.8 92 L-2 92 L-2 88 C4 86 10 84 17.4 79 C16 75 15 71 14 67.5 C12 60 11 52 10.6 44.8 C10.5 38 11 32 11.7 27.7 C14 18 18 14 22 10.6 C28 6 36 3.8 44.8 3.8Z" fill="#0818ff" stroke="#0818ff" stroke-width="5" opacity="1" filter="url(#b0_8)" paint-order="stroke" />
<path d="M44.8 3.8 C56 3.8 64 6 69.8 10.6 C75 16 78 22 79 27.7 C80.5 34 81.2 40 81.2 44.8 C81 55 79 62 76.6 67.5 C74 76 72 82 69.8 92 L-2 92 L-2 88 C4 86 10 84 17.4 79 C16 75 15 71 14 67.5 C12 60 11 52 10.6 44.8 C10.5 38 11 32 11.7 27.7 C14 18 18 14 22 10.6 C28 6 36 3.8 44.8 3.8Z" fill="#00e8ff" stroke="#00e8ff" stroke-width="2.2" opacity="1" filter="url(#b0_6)" paint-order="stroke" />
<path d="M44.8 3.8 C56 3.8 64 6 69.8 10.6 C75 16 78 22 79 27.7 C80.5 34 81.2 40 81.2 44.8 C81 55 79 62 76.6 67.5 C74 76 72 82 69.8 92 L-2 92 L-2 88 C4 86 10 84 17.4 79 C16 75 15 71 14 67.5 C12 60 11 52 10.6 44.8 C10.5 38 11 32 11.7 27.7 C14 18 18 14 22 10.6 C28 6 36 3.8 44.8 3.8Z" fill="#b0e058" stroke="none" stroke-width="1" opacity="1" filter="url(#b0_6)" />
<ellipse cx="27" cy="72" rx="13" ry="20" fill="url(#gRY)" opacity="1" />
<ellipse cx="63" cy="72" rx="13" ry="20" fill="url(#gRY)" opacity="1" />
<ellipse cx="44.8" cy="65" rx="6" ry="20" fill="url(#gG)" opacity="1" />
<ellipse cx="34.5" cy="67.5" rx="6" ry="16" fill="url(#gRY)" opacity="1" />
<ellipse cx="55" cy="63" rx="5" ry="8" fill="url(#gRY)" opacity="1" />
<ellipse cx="56.1" cy="79" rx="4" ry="5" fill="url(#gRY)" opacity="1" />
<ellipse cx="12.9" cy="40.2" rx="4" ry="6" fill="url(#gRY)" opacity="1" />
<ellipse cx="76.6" cy="40.2" rx="5" ry="6" fill="url(#gRY)" opacity="1" />
<ellipse cx="28" cy="56" rx="5" ry="6" fill="url(#gY)" opacity="1" />
<ellipse cx="62" cy="56" rx="5" ry="6" fill="url(#gY)" opacity="1" />
<ellipse cx="17" cy="62" rx="3" ry="12" fill="url(#gY)" opacity="1" />
<ellipse cx="72" cy="62" rx="3" ry="12" fill="url(#gY)" opacity="1" />
<ellipse cx="8" cy="88" rx="8" ry="4" fill="url(#gY)" opacity="1" />
<ellipse cx="27" cy="72" rx="9.1" ry="14.0" fill="#e62222" opacity="1" filter="url(#b0_6)" />
<ellipse cx="63" cy="72" rx="9.1" ry="14.0" fill="#e62222" opacity="1" filter="url(#b0_6)" />
<ellipse cx="34.5" cy="67.5" rx="4.199999999999999" ry="11.2" fill="#e62222" opacity="1" filter="url(#b0_6)" />
<ellipse cx="55" cy="63" rx="3.5" ry="5.6" fill="#e62222" opacity="1" filter="url(#b0_6)" />
<ellipse cx="56.1" cy="79" rx="2.8" ry="3.5" fill="#e62222" opacity="1" filter="url(#b0_6)" />
<ellipse cx="12.9" cy="40.2" rx="2.8" ry="4.199999999999999" fill="#e62222" opacity="1" filter="url(#b0_6)" />
<ellipse cx="76.6" cy="40.2" rx="3.5" ry="4.199999999999999" fill="#e62222" opacity="1" filter="url(#b0_6)" />
<path d="M22 48 C23 58 25 68 27 82" fill="none" stroke="#b8f4f0" stroke-width="3.5" opacity="1" filter="url(#b0_8)" />
<path d="M67 48 C66 58 65 68 63 82" fill="none" stroke="#b8f4f0" stroke-width="3.5" opacity="1" filter="url(#b0_8)" />
<path d="M19.7 30 C19 16 30 9.5 44.8 9.5 C60 9.5 69 16 68.7 30 C68.5 36 66 40 60 43.6 L30 43.6 C23 40 20 36 19.7 30Z" fill="#4a78b8" stroke="#e0e0fa" stroke-width="9" opacity="1" filter="url(#b0_6)" paint-order="stroke" />
<g clip-path="url(#bt8)"><g filter="url(#b1)" opacity="0.6">
<ellipse cx="54.8" cy="30.2" rx="4.8" ry="3.7" fill="#4a6cc4"/>
<ellipse cx="24.0" cy="13.7" rx="4.5" ry="3.1" fill="#40a8b8"/>
<ellipse cx="40.9" cy="17.2" rx="4.7" ry="4.7" fill="#40a8b8"/>
<ellipse cx="30.3" cy="35.6" rx="3.6" ry="4.0" fill="#40b8a8"/>
<ellipse cx="48.9" cy="39.5" rx="3.3" ry="4.4" fill="#4a6cc4"/>
<ellipse cx="29.3" cy="40.2" rx="2.9" ry="2.7" fill="#38c0b0"/>
<ellipse cx="36.8" cy="34.8" rx="2.5" ry="4.0" fill="#6a6aa8"/>
<ellipse cx="21.8" cy="21.9" rx="4.4" ry="4.0" fill="#6a6aa8"/>
<ellipse cx="56.3" cy="25.8" rx="4.1" ry="4.4" fill="#6a6aa8"/>
<ellipse cx="30.2" cy="31.2" rx="4.2" ry="4.4" fill="#6a6aa8"/>
<ellipse cx="60.2" cy="32.8" rx="4.3" ry="3.9" fill="#38c0b0"/>
<ellipse cx="47.9" cy="11.2" rx="4.5" ry="4.6" fill="#40a8b8"/>
<ellipse cx="48.0" cy="35.1" rx="2.8" ry="4.8" fill="#40b8a8"/>
<ellipse cx="23.7" cy="42.4" rx="2.5" ry="4.1" fill="#38c0b0"/>
<ellipse cx="63.2" cy="12.8" rx="4.4" ry="3.0" fill="#38c0b0"/>
<ellipse cx="59.2" cy="26.3" rx="2.8" ry="2.3" fill="#38c0b0"/>
<ellipse cx="21.7" cy="37.2" rx="3.6" ry="4.9" fill="#40a8b8"/>
<ellipse cx="54.9" cy="17.2" rx="2.4" ry="3.7" fill="#40a8b8"/>
<ellipse cx="31.2" cy="27.7" rx="4.5" ry="3.1" fill="#6a6aa8"/>
<ellipse cx="29.1" cy="11.2" rx="2.6" ry="4.2" fill="#38c0b0"/>
<ellipse cx="40.8" cy="28.9" rx="4.3" ry="3.7" fill="#6a6aa8"/>
<ellipse cx="29.8" cy="17.9" rx="3.8" ry="4.2" fill="#40b8a8"/>
<ellipse cx="58.5" cy="16.9" rx="4.5" ry="2.3" fill="#40a8b8"/>
<ellipse cx="20.5" cy="29.1" rx="2.7" ry="2.2" fill="#6a6aa8"/>
<ellipse cx="25.2" cy="34.0" rx="4.6" ry="3.0" fill="#5a5ab4"/>
<ellipse cx="43.9" cy="41.6" rx="4.4" ry="4.0" fill="#40b8a8"/>
<ellipse cx="57.6" cy="13.5" rx="3.6" ry="3.3" fill="#38c0b0"/>
<ellipse cx="36.9" cy="40.9" rx="4.3" ry="3.3" fill="#4a6cc4"/>
<ellipse cx="41.8" cy="10.5" rx="4.1" ry="3.4" fill="#38c0b0"/>
<ellipse cx="22.4" cy="10.4" rx="3.8" ry="2.9" fill="#38c0b0"/>
<ellipse cx="64.1" cy="34.0" rx="2.8" ry="3.2" fill="#6a6aa8"/>
<ellipse cx="64.2" cy="31.3" rx="2.4" ry="2.6" fill="#4a6cc4"/>
<ellipse cx="51.2" cy="39.5" rx="4.8" ry="3.1" fill="#40a8b8"/>
<ellipse cx="68.7" cy="30.0" rx="3.4" ry="3.5" fill="#40a8b8"/>
<ellipse cx="34.1" cy="30.8" rx="3.7" ry="3.1" fill="#40b8a8"/>
<ellipse cx="33.0" cy="24.9" rx="4.1" ry="4.3" fill="#40b8a8"/>
<ellipse cx="34.6" cy="29.1" rx="5.0" ry="4.3" fill="#40b8a8"/>
<ellipse cx="27.9" cy="24.8" rx="4.1" ry="5.0" fill="#38c0b0"/>
<ellipse cx="55.4" cy="16.5" rx="2.3" ry="2.3" fill="#4a6cc4"/>
<ellipse cx="31.2" cy="40.6" rx="4.0" ry="2.9" fill="#40b8a8"/>
<ellipse cx="68.4" cy="16.7" rx="4.4" ry="4.4" fill="#40b8a8"/>
<ellipse cx="63.7" cy="22.1" rx="2.4" ry="4.4" fill="#40b8a8"/>
</g></g>
<ellipse cx="33.4" cy="49.3" rx="5" ry="3.5" fill="url(#gC)" opacity="1" />
<ellipse cx="53.9" cy="49.3" rx="5" ry="3.5" fill="url(#gC)" opacity="1" />
<ellipse cx="44.8" cy="49.9" rx="5" ry="4" fill="#f0f0b0" opacity="1" filter="url(#b1_2)" />
<ellipse cx="44.8" cy="49.9" rx="2.5" ry="2" fill="#f08080" opacity="1" filter="url(#b1_2)" />
<ellipse cx="42.5" cy="15.1" rx="4" ry="5" fill="url(#gT)" opacity="1" />
<ellipse cx="40.2" cy="30" rx="6" ry="5" fill="url(#gT)" opacity="1" />
<ellipse cx="50.5" cy="30" rx="6" ry="5" fill="url(#gT)" opacity="1" />
<ellipse cx="33.4" cy="22" rx="5" ry="5" fill="url(#gP)" opacity="1" />
<ellipse cx="55" cy="22" rx="5" ry="5" fill="url(#gP)" opacity="1" />
</g>
</g></g>
<g transform="translate(260.3,600.8)"><g clip-path="url(#c18)"><rect x="0" y="0" width="89.7" height="89.8" fill="#000"/>
<g filter="url(#soft)">
<path d="M51 2.6 C60 3 68 5 73.7 7.2 C78 10 80 13 82.8 16.3 C85 18 86 20 87.4 22 L88.5 22 L88.5 84 L52 86 L52 92 L-2 92 L-2 90 C1 88 2 86 3.1 84.6 C5 78 7 72 8.8 67.5 C10 58 11.5 50 12.2 44.8 C12 38 11.5 32 11.1 28.8 C12 22 14 18 16.8 16.3 C20 12 24 9 28.2 7.2 C36 4 44 2.6 51 2.6Z" fill="#0818ff" stroke="#0818ff" stroke-width="5" opacity="1" filter="url(#b0_8)" paint-order="stroke" />
<path d="M51 2.6 C60 3 68 5 73.7 7.2 C78 10 80 13 82.8 16.3 C85 18 86 20 87.4 22 L88.5 22 L88.5 84 L52 86 L52 92 L-2 92 L-2 90 C1 88 2 86 3.1 84.6 C5 78 7 72 8.8 67.5 C10 58 11.5 50 12.2 44.8 C12 38 11.5 32 11.1 28.8 C12 22 14 18 16.8 16.3 C20 12 24 9 28.2 7.2 C36 4 44 2.6 51 2.6Z" fill="#00e8ff" stroke="#00e8ff" stroke-width="2.2" opacity="1" filter="url(#b0_6)" paint-order="stroke" />
<path d="M51 2.6 C60 3 68 5 73.7 7.2 C78 10 80 13 82.8 16.3 C85 18 86 20 87.4 22 L88.5 22 L88.5 84 L52 86 L52 92 L-2 92 L-2 90 C1 88 2 86 3.1 84.6 C5 78 7 72 8.8 67.5 C10 58 11.5 50 12.2 44.8 C12 38 11.5 32 11.1 28.8 C12 22 14 18 16.8 16.3 C20 12 24 9 28.2 7.2 C36 4 44 2.6 51 2.6Z" fill="#90e8a0" stroke="none" stroke-width="1" opacity="1" filter="url(#b0_6)" />
<ellipse cx="20.8" cy="51" rx="4" ry="4.5" fill="url(#gRY)" opacity="1" />
<ellipse cx="20.8" cy="65.3" rx="2.5" ry="3" fill="url(#gRY)" opacity="1" />
<ellipse cx="9" cy="72" rx="3" ry="14" fill="url(#gRY)" opacity="1" transform="rotate(15 9 72)" />
<ellipse cx="16" cy="60" rx="5" ry="20" fill="url(#gY)" opacity="1" />
<ellipse cx="20.8" cy="51" rx="2.8" ry="3.15" fill="#e62222" opacity="1" filter="url(#b0_6)" />
<ellipse cx="20.8" cy="65.3" rx="1.75" ry="2.0999999999999996" fill="#e62222" opacity="1" filter="url(#b0_6)" />
<ellipse cx="9" cy="72" rx="2.0999999999999996" ry="9.799999999999999" fill="#e62222" opacity="1" filter="url(#b0_6)" transform="rotate(15 9 72)" />
<ellipse cx="66" cy="68" rx="24" ry="20" fill="url(#gRY)" opacity="1" />
<ellipse cx="76" cy="50" rx="12" ry="10" fill="url(#gY)" opacity="1" />
<ellipse cx="68" cy="63" rx="16" ry="12" fill="url(#gRY)" opacity="1" />
<ellipse cx="81.7" cy="44.8" rx="10" ry="12" fill="url(#gRY)" opacity="1" />
<ellipse cx="52.1" cy="77.8" rx="7" ry="4" fill="url(#gRY)" opacity="1" />
<ellipse cx="58.9" cy="42.5" rx="11" ry="4.5" fill="#f08080" opacity="1" filter="url(#b1_2)" />
<ellipse cx="54.4" cy="52.7" rx="9" ry="6" fill="url(#gG)" opacity="1" />
<ellipse cx="56.6" cy="50.5" rx="4" ry="3" fill="url(#gC)" opacity="1" />
<ellipse cx="79.4" cy="28.8" rx="4" ry="6" fill="url(#gY)" opacity="1" />
<ellipse cx="79.4" cy="76.6" rx="9" ry="7" fill="#f0f0c0" opacity="1" filter="url(#b1_2)" />
<ellipse cx="45.3" cy="65.3" rx="6" ry="10" fill="url(#gG)" opacity="1" />
<ellipse cx="62" cy="34" rx="10" ry="3" fill="url(#gL)" opacity="1" />
<ellipse cx="66" cy="68" rx="16.799999999999997" ry="14.0" fill="#e62222" opacity="1" filter="url(#b0_6)" />
<ellipse cx="68" cy="63" rx="11.2" ry="8.399999999999999" fill="#e62222" opacity="1" filter="url(#b0_6)" />
<ellipse cx="81.7" cy="44.8" rx="7.0" ry="8.399999999999999" fill="#e62222" opacity="1" filter="url(#b0_6)" />
<ellipse cx="52.1" cy="77.8" rx="4.8999999999999995" ry="2.8" fill="#e62222" opacity="1" filter="url(#b0_6)" />
<path d="M36 50 C35 62 34 76 32.7 92" fill="none" stroke="#e0e0fa" stroke-width="4.5" opacity="1" filter="url(#b0_8)" />
<path d="M16.8 28.8 C16 14 30 8.3 45.3 8.3 C62 8.3 76 14 78.3 25.4 C77 28 76 28 74.9 27.7 C68 30 62 32 58.9 33.4 C52 36 48 40 45.3 42.5 C42 45 40 47 37.3 48.2 C32 46 26 42 22 38 C18 35 17 32 16.8 28.8Z" fill="#4a88b8" stroke="#c8f4f0" stroke-width="7" opacity="1" filter="url(#b0_6)" paint-order="stroke" />
<g clip-path="url(#bt9)"><g filter="url(#b1)" opacity="0.6">
<ellipse cx="63.2" cy="20.9" rx="2.8" ry="4.1" fill="#40b8a8"/>
<ellipse cx="65.2" cy="24.0" rx="4.5" ry="3.2" fill="#40b8a8"/>
<ellipse cx="55.9" cy="9.1" rx="3.6" ry="5.0" fill="#40b8a8"/>
<ellipse cx="58.3" cy="36.5" rx="2.8" ry="2.3" fill="#4a6cc4"/>
<ellipse cx="68.2" cy="28.9" rx="2.8" ry="4.3" fill="#4a6cc4"/>
<ellipse cx="36.1" cy="28.9" rx="3.3" ry="2.9" fill="#5a5ab4"/>
<ellipse cx="60.0" cy="26.7" rx="4.4" ry="4.6" fill="#40b8a8"/>
<ellipse cx="31.1" cy="32.0" rx="2.2" ry="3.4" fill="#40a8b8"/>
<ellipse cx="52.2" cy="28.6" rx="4.9" ry="2.8" fill="#40a8b8"/>
<ellipse cx="40.5" cy="28.1" rx="4.1" ry="3.3" fill="#40b8a8"/>
<ellipse cx="50.5" cy="39.5" rx="3.6" ry="4.8" fill="#5a5ab4"/>
<ellipse cx="60.9" cy="37.6" rx="4.6" ry="4.5" fill="#5a5ab4"/>
<ellipse cx="54.8" cy="12.0" rx="2.4" ry="3.0" fill="#40b8a8"/>
<ellipse cx="47.8" cy="22.8" rx="4.3" ry="2.4" fill="#40a8b8"/>
<ellipse cx="65.9" cy="37.3" rx="3.6" ry="3.3" fill="#38c0b0"/>
<ellipse cx="61.5" cy="16.6" rx="3.5" ry="2.8" fill="#4a6cc4"/>
<ellipse cx="45.7" cy="17.2" rx="2.9" ry="2.4" fill="#40b8a8"/>
<ellipse cx="17.8" cy="9.2" rx="2.8" ry="4.2" fill="#6a6aa8"/>
<ellipse cx="41.5" cy="41.2" rx="4.7" ry="4.6" fill="#4a6cc4"/>
<ellipse cx="22.2" cy="15.0" rx="3.0" ry="2.6" fill="#6a6aa8"/>
<ellipse cx="77.0" cy="31.6" rx="3.1" ry="4.8" fill="#40a8b8"/>
<ellipse cx="25.6" cy="36.3" rx="3.0" ry="4.3" fill="#4a6cc4"/>
<ellipse cx="68.8" cy="38.0" rx="2.9" ry="3.8" fill="#4a6cc4"/>
<ellipse cx="44.2" cy="14.1" rx="2.7" ry="4.0" fill="#40b8a8"/>
<ellipse cx="57.1" cy="40.8" rx="3.8" ry="4.0" fill="#40b8a8"/>
<ellipse cx="73.7" cy="8.8" rx="3.6" ry="3.2" fill="#38c0b0"/>
<ellipse cx="35.3" cy="10.1" rx="3.0" ry="4.0" fill="#40a8b8"/>
<ellipse cx="51.7" cy="23.3" rx="4.2" ry="4.1" fill="#40b8a8"/>
<ellipse cx="56.4" cy="38.7" rx="3.9" ry="4.9" fill="#6a6aa8"/>
<ellipse cx="76.8" cy="14.6" rx="4.6" ry="3.9" fill="#4a6cc4"/>
<ellipse cx="17.4" cy="47.0" rx="3.2" ry="5.0" fill="#38c0b0"/>
<ellipse cx="54.3" cy="42.9" rx="3.8" ry="3.5" fill="#6a6aa8"/>
<ellipse cx="31.0" cy="12.0" rx="2.2" ry="2.6" fill="#4a6cc4"/>
<ellipse cx="21.7" cy="12.4" rx="3.9" ry="4.2" fill="#40b8a8"/>
<ellipse cx="49.2" cy="34.2" rx="4.1" ry="3.2" fill="#38c0b0"/>
<ellipse cx="17.7" cy="12.3" rx="3.8" ry="3.5" fill="#4a6cc4"/>
<ellipse cx="21.2" cy="34.9" rx="3.0" ry="2.6" fill="#40a8b8"/>
<ellipse cx="72.4" cy="32.2" rx="3.9" ry="2.9" fill="#38c0b0"/>
<ellipse cx="69.1" cy="20.2" rx="4.7" ry="3.3" fill="#40b8a8"/>
<ellipse cx="61.8" cy="15.9" rx="3.6" ry="2.7" fill="#38c0b0"/>
<ellipse cx="29.2" cy="37.1" rx="3.9" ry="3.4" fill="#4a6cc4"/>
<ellipse cx="32.3" cy="25.6" rx="3.7" ry="3.2" fill="#40a8b8"/>
<ellipse cx="72.0" cy="40.5" rx="3.6" ry="2.5" fill="#40b8a8"/>
<ellipse cx="57.5" cy="40.4" rx="4.9" ry="4.5" fill="#38c0b0"/>
<ellipse cx="41.0" cy="38.1" rx="3.2" ry="2.6" fill="#5a5ab4"/>
<ellipse cx="72.7" cy="43.7" rx="3.3" ry="3.0" fill="#38c0b0"/>
<ellipse cx="56.5" cy="44.0" rx="4.5" ry="4.9" fill="#40b8a8"/>
<ellipse cx="46.0" cy="17.8" rx="4.2" ry="3.5" fill="#5a5ab4"/>
<ellipse cx="48.0" cy="13.2" rx="2.7" ry="4.3" fill="#40a8b8"/>
<ellipse cx="59.2" cy="28.8" rx="3.4" ry="3.3" fill="#5a5ab4"/>
<ellipse cx="37.9" cy="10.8" rx="2.2" ry="2.7" fill="#4a6cc4"/>
<ellipse cx="22.1" cy="14.2" rx="4.0" ry="3.6" fill="#40a8b8"/>
<ellipse cx="27.5" cy="13.0" rx="2.6" ry="3.4" fill="#6a6aa8"/>
<ellipse cx="70.7" cy="44.6" rx="4.7" ry="3.3" fill="#40a8b8"/>
<ellipse cx="72.3" cy="17.8" rx="4.2" ry="2.5" fill="#6a6aa8"/>
<ellipse cx="74.2" cy="42.6" rx="3.5" ry="4.3" fill="#5a5ab4"/>
<ellipse cx="36.6" cy="13.2" rx="5.0" ry="4.5" fill="#38c0b0"/>
<ellipse cx="49.8" cy="16.7" rx="3.1" ry="2.4" fill="#4a6cc4"/>
<ellipse cx="75.1" cy="43.9" rx="3.2" ry="2.2" fill="#38c0b0"/>
<ellipse cx="46.1" cy="16.0" rx="2.7" ry="4.1" fill="#38c0b0"/>
</g></g>
<path d="M34 44 C32 60 29 76 26 92" fill="none" stroke="#5a60a8" stroke-width="7" opacity="1" filter="url(#b0_6)" />
<ellipse cx="35" cy="20" rx="8" ry="7" fill="url(#gT)" opacity="1" />
<ellipse cx="55" cy="18" rx="8" ry="6" fill="url(#gT)" opacity="1" />
<ellipse cx="48" cy="30" rx="7" ry="6" fill="url(#gP)" opacity="1" />
<ellipse cx="30" cy="32" rx="6" ry="5" fill="url(#gP)" opacity="1" />
</g>
</g></g>
<g transform="translate(56.5,694.3)"><g clip-path="url(#c19)"><rect x="0" y="0" width="90" height="89.3" fill="#000"/>
<g filter="url(#soft)">
<path d="M45 3.1 C52 3 58 4 62 6 C66 8 68 9 69 11.1 C74 16 76 19 77 22.5 C80 32 82 42 86 52.1 C82 62 78 70 72.4 77.1 C64 82 55 82.8 45 82.8 C32 82.8 22 78 16.6 70.3 C12 64 10.5 58 10.9 51 C11 44 12 38 13.2 33.9 C15 28 17 23 20 19 C20.5 15 21 12 22.3 10 C28 6 36 3.5 45 3.1Z" fill="#0818ff" stroke="#0818ff" stroke-width="5" opacity="1" filter="url(#b0_8)" paint-order="stroke" />
<path d="M45 3.1 C52 3 58 4 62 6 C66 8 68 9 69 11.1 C74 16 76 19 77 22.5 C80 32 82 42 86 52.1 C82 62 78 70 72.4 77.1 C64 82 55 82.8 45 82.8 C32 82.8 22 78 16.6 70.3 C12 64 10.5 58 10.9 51 C11 44 12 38 13.2 33.9 C15 28 17 23 20 19 C20.5 15 21 12 22.3 10 C28 6 36 3.5 45 3.1Z" fill="#00e8ff" stroke="#00e8ff" stroke-width="2.2" opacity="1" filter="url(#b0_6)" paint-order="stroke" />
<path d="M45 3.1 C52 3 58 4 62 6 C66 8 68 9 69 11.1 C74 16 76 19 77 22.5 C80 32 82 42 86 52.1 C82 62 78 70 72.4 77.1 C64 82 55 82.8 45 82.8 C32 82.8 22 78 16.6 70.3 C12 64 10.5 58 10.9 51 C11 44 12 38 13.2 33.9 C15 28 17 23 20 19 C20.5 15 21 12 22.3 10 C28 6 36 3.5 45 3.1Z" fill="#c8f0e8" stroke="none" stroke-width="1" opacity="1" filter="url(#b0_6)" />
<ellipse cx="71.8" cy="26.5" rx="4" ry="5" fill="url(#gRY)" opacity="1" />
<ellipse cx="79" cy="42" rx="4" ry="14" fill="url(#gG)" opacity="1" />
<ellipse cx="14.5" cy="58" rx="4" ry="12" fill="url(#gY)" opacity="1" />
<ellipse cx="14" cy="45" rx="3" ry="8" fill="url(#gG)" opacity="1" />
<ellipse cx="45.6" cy="8.8" rx="5" ry="4.5" fill="url(#gG)" opacity="1" />
<ellipse cx="45.6" cy="8.8" rx="3" ry="3" fill="url(#gY)" opacity="1" />
<ellipse cx="45.6" cy="8.8" rx="1.5" ry="1.5" fill="#e84040" opacity="1" filter="url(#b1_2)" />
<ellipse cx="32" cy="17" rx="14" ry="10" fill="url(#gL)" opacity="1" />
<ellipse cx="60" cy="28" rx="10" ry="6" fill="url(#gL)" opacity="1" />
<path d="M20.5 52 C20.5 38 22 29 28 27 C34 26 40 30 42 26 L43 17 L46 17 L47 28 C49 32 54 33 58.7 32.7 C66 33 69 42 69 52 C69 66 64 77 45 77.1 C27 77 20.5 66 20.5 52Z" fill="#5a60b0" stroke="#e0e0fa" stroke-width="9" opacity="1" filter="url(#b0_6)" paint-order="stroke" />
<g clip-path="url(#bt10)"><g filter="url(#b1)" opacity="0.6">
<ellipse cx="67.6" cy="44.5" rx="3.3" ry="2.8" fill="#4a4cb4"/>
<ellipse cx="56.7" cy="39.1" rx="3.6" ry="3.9" fill="#38b0b8"/>
<ellipse cx="57.0" cy="67.3" rx="4.9" ry="4.6" fill="#40a0c8"/>
<ellipse cx="45.6" cy="31.2" rx="4.1" ry="3.3" fill="#6a6aac"/>
<ellipse cx="48.3" cy="76.0" rx="4.3" ry="3.0" fill="#40a0c8"/>
<ellipse cx="48.4" cy="19.6" rx="2.9" ry="4.5" fill="#7a6a9c"/>
<ellipse cx="59.1" cy="39.9" rx="2.7" ry="2.2" fill="#7a6a9c"/>
<ellipse cx="36.7" cy="48.9" rx="3.5" ry="3.9" fill="#6a6aac"/>
<ellipse cx="38.6" cy="73.6" rx="3.8" ry="3.6" fill="#6a6aac"/>
<ellipse cx="47.6" cy="62.4" rx="2.8" ry="4.5" fill="#7a6a9c"/>
<ellipse cx="45.4" cy="17.7" rx="2.9" ry="4.6" fill="#40a0c8"/>
<ellipse cx="30.8" cy="24.6" rx="3.3" ry="3.4" fill="#40a0c8"/>
<ellipse cx="41.3" cy="27.0" rx="4.0" ry="4.0" fill="#4a4cb4"/>
<ellipse cx="60.1" cy="42.2" rx="2.4" ry="2.6" fill="#38b0b8"/>
<ellipse cx="28.6" cy="25.5" rx="3.4" ry="3.9" fill="#6a6aac"/>
<ellipse cx="21.3" cy="62.0" rx="3.3" ry="2.2" fill="#6a6aac"/>
<ellipse cx="26.4" cy="19.1" rx="3.2" ry="4.4" fill="#4a4cb4"/>
<ellipse cx="65.7" cy="50.5" rx="4.2" ry="4.2" fill="#4a4cb4"/>
<ellipse cx="65.8" cy="45.6" rx="2.9" ry="2.6" fill="#4a4cb4"/>
<ellipse cx="61.7" cy="67.2" rx="3.3" ry="2.7" fill="#38b0b8"/>
<ellipse cx="27.4" cy="60.2" rx="4.8" ry="3.6" fill="#7a6a9c"/>
<ellipse cx="43.5" cy="51.6" rx="4.4" ry="3.5" fill="#38b0b8"/>
<ellipse cx="38.3" cy="39.0" rx="4.7" ry="4.7" fill="#6a6aac"/>
<ellipse cx="65.7" cy="41.2" rx="2.9" ry="4.7" fill="#7a6a9c"/>
<ellipse cx="51.6" cy="48.5" rx="3.9" ry="3.5" fill="#38b0b8"/>
<ellipse cx="31.5" cy="45.2" rx="3.4" ry="2.3" fill="#7a6a9c"/>
<ellipse cx="38.4" cy="56.8" rx="4.5" ry="2.8" fill="#40a0c8"/>
<ellipse cx="56.4" cy="51.4" rx="3.7" ry="3.8" fill="#40a0c8"/>
<ellipse cx="68.8" cy="24.9" rx="4.7" ry="3.8" fill="#4a4cb4"/>
<ellipse cx="34.3" cy="55.3" rx="3.8" ry="4.1" fill="#7a6a9c"/>
<ellipse cx="39.7" cy="17.0" rx="4.4" ry="2.7" fill="#38b0b8"/>
<ellipse cx="35.7" cy="36.6" rx="2.7" ry="4.9" fill="#6a6aac"/>
<ellipse cx="57.7" cy="23.4" rx="3.4" ry="4.8" fill="#4a4cb4"/>
<ellipse cx="65.1" cy="65.6" rx="4.6" ry="3.5" fill="#6a6aac"/>
<ellipse cx="34.2" cy="31.7" rx="3.2" ry="2.8" fill="#40a0c8"/>
<ellipse cx="40.0" cy="38.1" rx="4.5" ry="3.2" fill="#7a6a9c"/>
<ellipse cx="42.2" cy="41.3" rx="2.4" ry="4.2" fill="#40a0c8"/>
<ellipse cx="50.6" cy="65.5" rx="2.5" ry="3.2" fill="#6a6aac"/>
<ellipse cx="52.4" cy="68.4" rx="3.0" ry="4.5" fill="#7a6a9c"/>
<ellipse cx="37.8" cy="75.4" rx="2.6" ry="4.1" fill="#4a4cb4"/>
<ellipse cx="56.7" cy="62.0" rx="2.2" ry="3.7" fill="#40a0c8"/>
<ellipse cx="49.3" cy="49.6" rx="4.2" ry="4.5" fill="#38b0b8"/>
<ellipse cx="29.7" cy="50.0" rx="2.9" ry="4.0" fill="#6a6aac"/>
<ellipse cx="32.3" cy="56.5" rx="4.1" ry="2.7" fill="#4a4cb4"/>
<ellipse cx="64.4" cy="17.1" rx="2.8" ry="4.5" fill="#40a0c8"/>
<ellipse cx="31.5" cy="46.7" rx="3.8" ry="4.7" fill="#7a6a9c"/>
<ellipse cx="56.0" cy="71.5" rx="3.2" ry="4.1" fill="#7a6a9c"/>
<ellipse cx="39.7" cy="67.1" rx="3.9" ry="4.1" fill="#38b0b8"/>
<ellipse cx="57.4" cy="24.8" rx="3.1" ry="2.7" fill="#7a6a9c"/>
<ellipse cx="62.7" cy="71.3" rx="4.3" ry="4.5" fill="#40a0c8"/>
<ellipse cx="65.4" cy="57.9" rx="4.4" ry="2.2" fill="#4a4cb4"/>
<ellipse cx="32.4" cy="50.8" rx="2.7" ry="4.2" fill="#7a6a9c"/>
<ellipse cx="42.5" cy="53.5" rx="4.5" ry="3.9" fill="#7a6a9c"/>
<ellipse cx="38.3" cy="69.0" rx="4.5" ry="4.3" fill="#6a6aac"/>
<ellipse cx="45.5" cy="73.0" rx="2.9" ry="2.2" fill="#4a4cb4"/>
<ellipse cx="30.7" cy="42.5" rx="3.3" ry="3.6" fill="#7a6a9c"/>
<ellipse cx="65.9" cy="58.2" rx="4.0" ry="4.0" fill="#6a6aac"/>
<ellipse cx="49.4" cy="44.1" rx="3.7" ry="4.9" fill="#40a0c8"/>
<ellipse cx="66.7" cy="44.9" rx="4.8" ry="2.3" fill="#7a6a9c"/>
<ellipse cx="67.8" cy="29.6" rx="2.6" ry="2.9" fill="#38b0b8"/>
</g></g>
<ellipse cx="58.7" cy="15.6" rx="8.5" ry="8" fill="#e0e0fa" opacity="1" filter="url(#b0_5)" />
<ellipse cx="58.7" cy="15.6" rx="7.5" ry="7.5" fill="#7e7c80" opacity="1" filter="url(#b0_5)" />
<ellipse cx="45" cy="61.2" rx="10" ry="7" fill="url(#gT)" opacity="1" />
<ellipse cx="28" cy="31.6" rx="4" ry="4" fill="url(#gT)" opacity="1" />
<ellipse cx="32" cy="50" rx="6" ry="6" fill="url(#gT)" opacity="1" />
<ellipse cx="55" cy="45" rx="6" ry="8" fill="url(#gP)" opacity="1" />
<ellipse cx="38" cy="40" rx="6" ry="6" fill="url(#gP)" opacity="1" />
<ellipse cx="50" cy="68" rx="6" ry="5" fill="url(#gT)" opacity="1" />
</g>
</g></g>
<g transform="translate(162.8,694.3)"><g clip-path="url(#c20)"><rect x="0" y="0" width="90" height="89.3" fill="#000"/>
<g filter="url(#soft)">
<path d="M44.8 4.3 C55 4.3 63 7 69.8 12.2 C74 16 77 19 79 22.5 C81 30 82.3 38 82.3 45.3 C82.3 55 81.5 62 81.2 68 C80 75 78 82 76.6 92 L16 92 C15 86 14.5 82 14 79.4 C11 72 9 68 8.3 62.3 C7.5 56 7 50 7.2 45.3 C7.5 38 9 32 10.6 28.2 C13 20 17 15 22 12.2 C29 7 36 4.3 44.8 4.3Z" fill="#0818ff" stroke="#0818ff" stroke-width="5" opacity="1" filter="url(#b0_8)" paint-order="stroke" />
<path d="M44.8 4.3 C55 4.3 63 7 69.8 12.2 C74 16 77 19 79 22.5 C81 30 82.3 38 82.3 45.3 C82.3 55 81.5 62 81.2 68 C80 75 78 82 76.6 92 L16 92 C15 86 14.5 82 14 79.4 C11 72 9 68 8.3 62.3 C7.5 56 7 50 7.2 45.3 C7.5 38 9 32 10.6 28.2 C13 20 17 15 22 12.2 C29 7 36 4.3 44.8 4.3Z" fill="#00e8ff" stroke="#00e8ff" stroke-width="2.2" opacity="1" filter="url(#b0_6)" paint-order="stroke" />
<path d="M44.8 4.3 C55 4.3 63 7 69.8 12.2 C74 16 77 19 79 22.5 C81 30 82.3 38 82.3 45.3 C82.3 55 81.5 62 81.2 68 C80 75 78 82 76.6 92 L16 92 C15 86 14.5 82 14 79.4 C11 72 9 68 8.3 62.3 C7.5 56 7 50 7.2 45.3 C7.5 38 9 32 10.6 28.2 C13 20 17 15 22 12.2 C29 7 36 4.3 44.8 4.3Z" fill="#b0e058" stroke="none" stroke-width="1" opacity="1" filter="url(#b0_6)" />
<ellipse cx="27" cy="72" rx="13" ry="20" fill="url(#gRY)" opacity="1" />
<ellipse cx="63" cy="72" rx="13" ry="20" fill="url(#gRY)" opacity="1" />
<ellipse cx="44.8" cy="58.9" rx="8" ry="7" fill="url(#gC)" opacity="1" />
<ellipse cx="44.8" cy="74" rx="5" ry="14" fill="url(#gG)" opacity="1" />
<ellipse cx="25.4" cy="56.6" rx="7" ry="6" fill="url(#gRY)" opacity="1" />
<ellipse cx="33.4" cy="72" rx="5" ry="17" fill="url(#gRY)" opacity="1" />
<ellipse cx="63" cy="56.6" rx="7" ry="6" fill="url(#gRY)" opacity="1" />
<ellipse cx="56.1" cy="72" rx="5" ry="17" fill="url(#gRY)" opacity="1" />
<ellipse cx="11.7" cy="40.7" rx="3.5" ry="4" fill="url(#gRY)" opacity="1" />
<ellipse cx="75.5" cy="45.3" rx="4" ry="6" fill="url(#gY)" opacity="1" />
<ellipse cx="14" cy="60" rx="4" ry="14" fill="url(#gY)" opacity="1" />
<ellipse cx="76" cy="62" rx="4" ry="14" fill="url(#gY)" opacity="1" />
<ellipse cx="27" cy="72" rx="9.1" ry="14.0" fill="#e62222" opacity="1" filter="url(#b0_6)" />
<ellipse cx="63" cy="72" rx="9.1" ry="14.0" fill="#e62222" opacity="1" filter="url(#b0_6)" />
<ellipse cx="25.4" cy="56.6" rx="4.8999999999999995" ry="4.199999999999999" fill="#e62222" opacity="1" filter="url(#b0_6)" />
<ellipse cx="33.4" cy="72" rx="3.5" ry="11.899999999999999" fill="#e62222" opacity="1" filter="url(#b0_6)" />
<ellipse cx="63" cy="56.6" rx="4.8999999999999995" ry="4.199999999999999" fill="#e62222" opacity="1" filter="url(#b0_6)" />
<ellipse cx="56.1" cy="72" rx="3.5" ry="11.899999999999999" fill="#e62222" opacity="1" filter="url(#b0_6)" />
<ellipse cx="11.7" cy="40.7" rx="2.4499999999999997" ry="2.8" fill="#e62222" opacity="1" filter="url(#b0_6)" />
<path d="M20 52 C21 62 23 72 25 86" fill="none" stroke="#b8f4f0" stroke-width="3.5" opacity="1" filter="url(#b0_8)" />
<path d="M71 50 C70 60 68 72 67 86" fill="none" stroke="#b8f4f0" stroke-width="3.5" opacity="1" filter="url(#b0_8)" />
<path d="M19.1 29 C19 17 30 11.1 44.8 11.1 C60 11.1 70.9 17 70.9 29 C70.9 36 68 42 60 45 C54 46.5 50 46.4 44.8 46.4 C40 46.4 34 46 30 45 C22 42 19.1 36 19.1 29Z" fill="#5a5eb0" stroke="#e0e0fa" stroke-width="9" opacity="1" filter="url(#b0_6)" paint-order="stroke" />
<g clip-path="url(#bt11)"><g filter="url(#b1)" opacity="0.6">
<ellipse cx="58.9" cy="24.7" rx="2.8" ry="3.9" fill="#38b0b8"/>
<ellipse cx="59.7" cy="26.9" rx="2.8" ry="4.3" fill="#7a6a9c"/>
<ellipse cx="31.5" cy="42.6" rx="4.1" ry="2.8" fill="#7a6a9c"/>
<ellipse cx="32.5" cy="30.6" rx="4.6" ry="2.4" fill="#38b0b8"/>
<ellipse cx="59.0" cy="44.5" rx="3.1" ry="2.8" fill="#38b0b8"/>
<ellipse cx="21.2" cy="29.3" rx="3.4" ry="3.7" fill="#4a4cb4"/>
<ellipse cx="62.4" cy="40.5" rx="3.3" ry="3.9" fill="#40a0c8"/>
<ellipse cx="63.4" cy="22.1" rx="4.9" ry="4.2" fill="#4a4cb4"/>
<ellipse cx="31.1" cy="36.9" rx="4.6" ry="2.7" fill="#38b0b8"/>
<ellipse cx="33.9" cy="24.8" rx="4.2" ry="4.8" fill="#38b0b8"/>
<ellipse cx="39.3" cy="16.4" rx="3.5" ry="3.6" fill="#4a4cb4"/>
<ellipse cx="58.1" cy="19.8" rx="2.4" ry="3.3" fill="#38b0b8"/>
<ellipse cx="25.2" cy="26.3" rx="3.9" ry="3.8" fill="#7a6a9c"/>
<ellipse cx="65.4" cy="20.3" rx="3.2" ry="3.8" fill="#40a0c8"/>
<ellipse cx="28.5" cy="45.7" rx="3.5" ry="4.4" fill="#6a6aac"/>
<ellipse cx="67.6" cy="24.3" rx="3.8" ry="3.8" fill="#40a0c8"/>
<ellipse cx="45.5" cy="28.9" rx="2.2" ry="4.4" fill="#40a0c8"/>
<ellipse cx="30.3" cy="40.7" rx="3.9" ry="4.1" fill="#4a4cb4"/>
<ellipse cx="63.1" cy="40.9" rx="4.6" ry="2.7" fill="#38b0b8"/>
<ellipse cx="49.8" cy="34.9" rx="4.8" ry="2.8" fill="#40a0c8"/>
<ellipse cx="70.9" cy="21.7" rx="4.9" ry="4.3" fill="#40a0c8"/>
<ellipse cx="33.6" cy="16.8" rx="2.3" ry="4.4" fill="#4a4cb4"/>
<ellipse cx="36.7" cy="32.5" rx="3.0" ry="3.4" fill="#6a6aac"/>
<ellipse cx="25.3" cy="11.7" rx="2.2" ry="4.5" fill="#38b0b8"/>
<ellipse cx="37.6" cy="14.0" rx="5.0" ry="4.5" fill="#40a0c8"/>
<ellipse cx="25.5" cy="15.3" rx="2.5" ry="2.4" fill="#6a6aac"/>
<ellipse cx="20.2" cy="26.1" rx="3.3" ry="2.6" fill="#6a6aac"/>
<ellipse cx="23.5" cy="13.4" rx="4.7" ry="3.5" fill="#4a4cb4"/>
<ellipse cx="45.0" cy="19.6" rx="2.5" ry="2.8" fill="#6a6aac"/>
<ellipse cx="68.0" cy="30.0" rx="3.9" ry="4.2" fill="#38b0b8"/>
<ellipse cx="66.1" cy="26.3" rx="3.2" ry="4.5" fill="#4a4cb4"/>
<ellipse cx="40.9" cy="35.2" rx="4.7" ry="4.8" fill="#40a0c8"/>
<ellipse cx="50.4" cy="29.1" rx="4.8" ry="2.3" fill="#40a0c8"/>
<ellipse cx="45.9" cy="43.4" rx="3.4" ry="2.4" fill="#38b0b8"/>
<ellipse cx="66.3" cy="25.6" rx="3.8" ry="4.1" fill="#40a0c8"/>
<ellipse cx="44.6" cy="46.3" rx="2.7" ry="4.3" fill="#38b0b8"/>
<ellipse cx="42.4" cy="34.0" rx="3.0" ry="5.0" fill="#38b0b8"/>
<ellipse cx="25.6" cy="45.7" rx="4.1" ry="3.7" fill="#4a4cb4"/>
<ellipse cx="41.1" cy="25.7" rx="4.2" ry="2.4" fill="#4a4cb4"/>
<ellipse cx="44.4" cy="34.6" rx="4.1" ry="2.4" fill="#6a6aac"/>
<ellipse cx="50.1" cy="45.0" rx="4.5" ry="2.3" fill="#38b0b8"/>
<ellipse cx="59.5" cy="15.7" rx="4.6" ry="2.9" fill="#4a4cb4"/>
<ellipse cx="63.7" cy="21.2" rx="3.6" ry="4.4" fill="#7a6a9c"/>
<ellipse cx="35.2" cy="16.9" rx="4.3" ry="4.7" fill="#4a4cb4"/>
<ellipse cx="33.1" cy="38.9" rx="4.2" ry="4.8" fill="#40a0c8"/>
</g></g>
<ellipse cx="44.8" cy="49.2" rx="5.5" ry="5" fill="url(#gG)" opacity="1" />
<ellipse cx="44.8" cy="49.2" rx="3" ry="2.8" fill="#f0f060" opacity="1" filter="url(#b1_2)" />
<ellipse cx="44.8" cy="49.2" rx="1.5" ry="1.4" fill="#e84040" opacity="1" filter="url(#b1_2)" />
<ellipse cx="40" cy="22" rx="5" ry="8" fill="url(#gT)" opacity="1" />
<ellipse cx="50" cy="30" rx="5" ry="6" fill="url(#gT)" opacity="1" />
<ellipse cx="30" cy="30" rx="5" ry="5" fill="url(#gP)" opacity="1" />
</g>
</g></g>
<g transform="translate(260.3,694.3)"><g clip-path="url(#c21)"><rect x="0" y="0" width="89.7" height="89.3" fill="#000"/>
<g filter="url(#soft)">
<path d="M45.3 2.5 C55 2.5 62 3 68 4.3 C74 7 78 10 81.7 14.5 C84 18 86 21 87.4 24.8 L92 28 L92 92 L-2 92 L-2 86 C0 85 0.5 85 0.8 85.1 C1.5 78 2.5 72 3.1 68 C4 60 5.5 52 6.5 45.3 C7.5 38 9 32 10 28.2 C11 22 11.5 19 12.2 16.8 C15 12 18 10 22.5 7.7 C30 4 38 2.5 45.3 2.5Z" fill="#0818ff" stroke="#0818ff" stroke-width="5" opacity="1" filter="url(#b0_8)" paint-order="stroke" />
<path d="M45.3 2.5 C55 2.5 62 3 68 4.3 C74 7 78 10 81.7 14.5 C84 18 86 21 87.4 24.8 L92 28 L92 92 L-2 92 L-2 86 C0 85 0.5 85 0.8 85.1 C1.5 78 2.5 72 3.1 68 C4 60 5.5 52 6.5 45.3 C7.5 38 9 32 10 28.2 C11 22 11.5 19 12.2 16.8 C15 12 18 10 22.5 7.7 C30 4 38 2.5 45.3 2.5Z" fill="#00e8ff" stroke="#00e8ff" stroke-width="2.2" opacity="1" filter="url(#b0_6)" paint-order="stroke" />
<path d="M45.3 2.5 C55 2.5 62 3 68 4.3 C74 7 78 10 81.7 14.5 C84 18 86 21 87.4 24.8 L92 28 L92 92 L-2 92 L-2 86 C0 85 0.5 85 0.8 85.1 C1.5 78 2.5 72 3.1 68 C4 60 5.5 52 6.5 45.3 C7.5 38 9 32 10 28.2 C11 22 11.5 19 12.2 16.8 C15 12 18 10 22.5 7.7 C30 4 38 2.5 45.3 2.5Z" fill="#a0e8c8" stroke="none" stroke-width="1" opacity="1" filter="url(#b0_6)" />
<ellipse cx="6" cy="60" rx="4" ry="24" fill="url(#gG)" opacity="1" />
<ellipse cx="2" cy="79.4" rx="3" ry="6" fill="url(#gY)" opacity="1" />
<ellipse cx="14.5" cy="69.2" rx="3" ry="3" fill="url(#gRY)" opacity="1" />
<ellipse cx="66" cy="68" rx="24" ry="20" fill="url(#gRY)" opacity="1" />
<ellipse cx="76" cy="50" rx="12" ry="10" fill="url(#gY)" opacity="1" />
<ellipse cx="54.4" cy="73.7" rx="15" ry="13" fill="url(#gRY)" opacity="1" />
<ellipse cx="35" cy="77.1" rx="5" ry="7" fill="url(#gRY)" opacity="1" />
<ellipse cx="73.7" cy="49.8" rx="10" ry="14" fill="url(#gRY)" opacity="1" transform="rotate(-30 73.7 49.8)" />
<ellipse cx="65.8" cy="40.7" rx="6" ry="5" fill="#f08080" opacity="1" filter="url(#b1_2)" />
<ellipse cx="47.5" cy="46.4" rx="5" ry="3.5" fill="#f08080" opacity="1" filter="url(#b1_2)" />
<ellipse cx="53.2" cy="54.4" rx="7" ry="4.5" fill="url(#gB)" opacity="1" />
<ellipse cx="50" cy="57" rx="12" ry="8" fill="url(#gG)" opacity="1" />
<ellipse cx="81.7" cy="28.2" rx="4" ry="5" fill="url(#gY)" opacity="1" />
<ellipse cx="70" cy="62" rx="6" ry="6" fill="url(#gY)" opacity="1" />
<ellipse cx="80" cy="75" rx="10" ry="8" fill="url(#gL)" opacity="1" />
<ellipse cx="60" cy="36" rx="10" ry="3" fill="url(#gL)" opacity="1" />
<ellipse cx="66" cy="68" rx="16.799999999999997" ry="14.0" fill="#e62222" opacity="1" filter="url(#b0_6)" />
<ellipse cx="54.4" cy="73.7" rx="10.5" ry="9.1" fill="#e62222" opacity="1" filter="url(#b0_6)" />
<ellipse cx="35" cy="77.1" rx="3.5" ry="4.8999999999999995" fill="#e62222" opacity="1" filter="url(#b0_6)" />
<ellipse cx="73.7" cy="49.8" rx="7.0" ry="9.799999999999999" fill="#e62222" opacity="1" filter="url(#b0_6)" transform="rotate(-30 73.7 49.8)" />
<path d="M28.5 50 C29 62 29.3 76 29.3 92" fill="none" stroke="#e0e0fa" stroke-width="4.5" opacity="1" filter="url(#b0_8)" />
<path d="M14.5 25.9 C14 14 30 10 45.3 10 C62 10 76 16 77.1 25.9 C76 30 75 31 73.7 31.6 C66 32.5 58 33 53.2 33.9 C48 37 45 40 43 43 C40 46 36 48 33.9 48.7 C28 46 22 40 18 34 C16 31 14.6 28 14.5 25.9Z" fill="#5a5ab0" stroke="#e0e0fa" stroke-width="9" opacity="1" filter="url(#b0_6)" paint-order="stroke" />
<g clip-path="url(#bt12)"><g filter="url(#b1)" opacity="0.6">
<ellipse cx="64.3" cy="12.6" rx="3.9" ry="3.0" fill="#6a6aac"/>
<ellipse cx="31.3" cy="22.1" rx="4.4" ry="2.6" fill="#4a4cb4"/>
<ellipse cx="72.8" cy="25.7" rx="3.4" ry="2.9" fill="#40a0c8"/>
<ellipse cx="17.1" cy="34.6" rx="3.0" ry="4.1" fill="#7a6a9c"/>
<ellipse cx="60.0" cy="15.2" rx="4.4" ry="2.6" fill="#7a6a9c"/>
<ellipse cx="49.7" cy="38.0" rx="3.4" ry="2.2" fill="#7a6a9c"/>
<ellipse cx="42.3" cy="34.7" rx="4.6" ry="3.8" fill="#4a4cb4"/>
<ellipse cx="60.3" cy="21.2" rx="4.6" ry="4.5" fill="#4a4cb4"/>
<ellipse cx="26.3" cy="29.2" rx="4.2" ry="3.8" fill="#38b0b8"/>
<ellipse cx="47.9" cy="24.4" rx="4.1" ry="3.3" fill="#38b0b8"/>
<ellipse cx="56.3" cy="16.3" rx="3.4" ry="2.9" fill="#40a0c8"/>
<ellipse cx="72.5" cy="24.8" rx="2.6" ry="3.9" fill="#6a6aac"/>
<ellipse cx="39.0" cy="26.2" rx="4.4" ry="3.1" fill="#6a6aac"/>
<ellipse cx="59.7" cy="10.9" rx="3.2" ry="2.7" fill="#4a4cb4"/>
<ellipse cx="50.8" cy="27.9" rx="3.3" ry="3.1" fill="#6a6aac"/>
<ellipse cx="53.3" cy="39.7" rx="4.3" ry="4.6" fill="#40a0c8"/>
<ellipse cx="47.7" cy="38.4" rx="2.3" ry="3.1" fill="#38b0b8"/>
<ellipse cx="60.8" cy="39.7" rx="4.6" ry="3.4" fill="#38b0b8"/>
<ellipse cx="76.6" cy="40.2" rx="4.7" ry="3.7" fill="#6a6aac"/>
<ellipse cx="50.3" cy="39.8" rx="2.9" ry="3.8" fill="#7a6a9c"/>
<ellipse cx="56.4" cy="17.4" rx="2.7" ry="4.1" fill="#4a4cb4"/>
<ellipse cx="71.4" cy="25.4" rx="2.8" ry="3.9" fill="#6a6aac"/>
<ellipse cx="48.2" cy="12.2" rx="4.2" ry="3.4" fill="#7a6a9c"/>
<ellipse cx="38.0" cy="29.3" rx="4.8" ry="4.5" fill="#7a6a9c"/>
<ellipse cx="55.3" cy="12.3" rx="3.5" ry="2.4" fill="#38b0b8"/>
<ellipse cx="51.0" cy="29.8" rx="3.5" ry="3.8" fill="#6a6aac"/>
<ellipse cx="21.0" cy="40.3" rx="2.5" ry="2.8" fill="#7a6a9c"/>
<ellipse cx="70.5" cy="41.8" rx="3.4" ry="2.6" fill="#6a6aac"/>
<ellipse cx="38.5" cy="26.9" rx="3.2" ry="2.3" fill="#40a0c8"/>
<ellipse cx="65.6" cy="17.6" rx="3.6" ry="2.6" fill="#4a4cb4"/>
<ellipse cx="17.6" cy="26.6" rx="3.9" ry="2.9" fill="#6a6aac"/>
<ellipse cx="72.7" cy="39.0" rx="3.9" ry="3.6" fill="#6a6aac"/>
<ellipse cx="49.6" cy="28.9" rx="4.3" ry="4.5" fill="#40a0c8"/>
<ellipse cx="61.0" cy="38.6" rx="4.8" ry="3.7" fill="#38b0b8"/>
<ellipse cx="71.0" cy="25.4" rx="4.5" ry="2.6" fill="#7a6a9c"/>
<ellipse cx="54.6" cy="38.8" rx="2.6" ry="4.8" fill="#40a0c8"/>
<ellipse cx="36.7" cy="12.3" rx="2.7" ry="3.1" fill="#7a6a9c"/>
<ellipse cx="34.4" cy="20.7" rx="4.1" ry="3.8" fill="#6a6aac"/>
<ellipse cx="39.8" cy="16.8" rx="5.0" ry="4.8" fill="#38b0b8"/>
<ellipse cx="71.3" cy="16.0" rx="3.3" ry="3.5" fill="#6a6aac"/>
<ellipse cx="60.0" cy="35.9" rx="3.0" ry="5.0" fill="#40a0c8"/>
<ellipse cx="49.5" cy="46.7" rx="3.5" ry="3.0" fill="#40a0c8"/>
<ellipse cx="72.4" cy="27.5" rx="2.3" ry="2.3" fill="#38b0b8"/>
<ellipse cx="54.5" cy="34.3" rx="3.2" ry="2.5" fill="#40a0c8"/>
<ellipse cx="46.3" cy="44.2" rx="4.1" ry="4.1" fill="#40a0c8"/>
<ellipse cx="41.7" cy="15.6" rx="2.4" ry="3.9" fill="#6a6aac"/>
<ellipse cx="70.3" cy="35.9" rx="3.2" ry="3.9" fill="#7a6a9c"/>
<ellipse cx="60.1" cy="32.7" rx="4.6" ry="3.0" fill="#6a6aac"/>
<ellipse cx="54.3" cy="34.0" rx="2.4" ry="2.9" fill="#38b0b8"/>
<ellipse cx="56.7" cy="24.9" rx="4.4" ry="4.1" fill="#7a6a9c"/>
<ellipse cx="34.7" cy="29.3" rx="2.8" ry="3.4" fill="#38b0b8"/>
<ellipse cx="58.4" cy="41.4" rx="3.8" ry="4.5" fill="#40a0c8"/>
<ellipse cx="44.8" cy="15.8" rx="4.0" ry="2.4" fill="#6a6aac"/>
<ellipse cx="69.2" cy="16.9" rx="4.7" ry="2.3" fill="#7a6a9c"/>
<ellipse cx="50.8" cy="20.4" rx="2.2" ry="4.8" fill="#4a4cb4"/>
<ellipse cx="14.6" cy="44.5" rx="4.1" ry="4.2" fill="#38b0b8"/>
<ellipse cx="19.2" cy="10.5" rx="3.8" ry="2.9" fill="#4a4cb4"/>
<ellipse cx="57.8" cy="29.8" rx="4.4" ry="4.2" fill="#38b0b8"/>
<ellipse cx="25.2" cy="23.0" rx="4.7" ry="3.0" fill="#40a0c8"/>
<ellipse cx="26.6" cy="36.9" rx="3.2" ry="3.0" fill="#7a6a9c"/>
</g></g>
<path d="M25 46 C24 60 23 76 22.5 92" fill="none" stroke="#5a5ab0" stroke-width="6.5" opacity="1" filter="url(#b0_6)" />
<ellipse cx="20" cy="22" rx="5" ry="7" fill="url(#gT)" opacity="1" />
<ellipse cx="32" cy="27" rx="6" ry="5" fill="url(#gT)" opacity="1" />
<ellipse cx="50" cy="22" rx="7" ry="6" fill="url(#gP)" opacity="1" />
<ellipse cx="62" cy="26" rx="6" ry="5" fill="url(#gT)" opacity="1" />
<path d="M79.4 92 L79.4 82 L82 86 L84 80 L86 86 L88 81 L90 84 L92 80 L92 92Z" fill="#000" stroke="none" stroke-width="1" opacity="1" />
<ellipse cx="80" cy="88" rx="3" ry="3" fill="#1010a0" opacity="1" filter="url(#b1_2)" />
</g>
</g></g>
<g transform="translate(413.7,406.3)"><g clip-path="url(#c22)"><rect x="0" y="0" width="90" height="89.7" fill="#000"/>
<g filter="url(#soft)">
<path d="M44.9 5.4 C54 5.4 62 7 69.9 12.2 C73 18 74 22 74.5 28.2 C77 36 80 44 81.3 51 C78 60 76 68 73.3 73.7 C64 81 55 84 44.9 84 C32 84 20 76 13 65.8 C11 60 10.5 55 10.7 51 C11 46 11.5 42 11.8 39.6 C13 32 15 26 16.4 22.5 C17 18 17.5 15 18.7 13.4 C26 8 35 5.4 44.9 5.4Z" fill="#0818ff" stroke="#0818ff" stroke-width="5" opacity="1" filter="url(#b0_8)" paint-order="stroke" />
<path d="M44.9 5.4 C54 5.4 62 7 69.9 12.2 C73 18 74 22 74.5 28.2 C77 36 80 44 81.3 51 C78 60 76 68 73.3 73.7 C64 81 55 84 44.9 84 C32 84 20 76 13 65.8 C11 60 10.5 55 10.7 51 C11 46 11.5 42 11.8 39.6 C13 32 15 26 16.4 22.5 C17 18 17.5 15 18.7 13.4 C26 8 35 5.4 44.9 5.4Z" fill="#00e8ff" stroke="#00e8ff" stroke-width="2.2" opacity="1" filter="url(#b0_6)" paint-order="stroke" />
<path d="M44.9 5.4 C54 5.4 62 7 69.9 12.2 C73 18 74 22 74.5 28.2 C77 36 80 44 81.3 51 C78 60 76 68 73.3 73.7 C64 81 55 84 44.9 84 C32 84 20 76 13 65.8 C11 60 10.5 55 10.7 51 C11 46 11.5 42 11.8 39.6 C13 32 15 26 16.4 22.5 C17 18 17.5 15 18.7 13.4 C26 8 35 5.4 44.9 5.4Z" fill="#70e880" stroke="none" stroke-width="1" opacity="1" filter="url(#b0_6)" />
<ellipse cx="15" cy="45" rx="5" ry="16" fill="url(#gG)" opacity="1" />
<ellipse cx="75" cy="45" rx="5" ry="16" fill="url(#gG)" opacity="1" />
<ellipse cx="44.9" cy="80" rx="16" ry="4" fill="url(#gG)" opacity="1" />
<ellipse cx="44.9" cy="7" rx="9" ry="3" fill="url(#gY)" opacity="1" />
<ellipse cx="13.5" cy="46.4" rx="3.5" ry="5" fill="url(#gRY)" opacity="1" />
<ellipse cx="74.5" cy="64.6" rx="3.5" ry="5" fill="url(#gRY)" opacity="1" />
<ellipse cx="13.5" cy="46.4" rx="2.4499999999999997" ry="3.5" fill="#e62222" opacity="1" filter="url(#b0_6)" />
<ellipse cx="74.5" cy="64.6" rx="2.4499999999999997" ry="3.5" fill="#e62222" opacity="1" filter="url(#b0_6)" />
<path d="M18.9 53A26 26.5 0 1 0 70.9 53A26 26.5 0 1 0 18.9 53Z" fill="#e0e0fa" stroke="none" stroke-width="1" opacity="1" filter="url(#b0_6)" />
<path d="M18 14 C24 9 34 8 44.9 8 C56 8 66 9 72 14 C74 20 74 26 72 32 L18 32 C16 26 16 20 18 14Z" fill="#e4e4fa" stroke="none" stroke-width="1" opacity="1" filter="url(#b1)" />
<ellipse cx="28.9" cy="16.8" rx="5.5" ry="5" fill="#ecdce8" opacity="1" filter="url(#b1)" />
<ellipse cx="60.8" cy="17.9" rx="5.5" ry="5" fill="#ecdce8" opacity="1" filter="url(#b1)" />
<path d="M22.6 53 C22.6 42 27 34 36 32 L41 30 L43.5 18 L46.5 18 L49 30 L54 32 C62 34 66.5 42 66.5 53 C66.5 66 58 74.9 44.9 74.9 C32 74.9 22.6 66 22.6 53Z" fill="#4a8cb8" stroke="none" stroke-width="1" opacity="1" filter="url(#b0_6)" />
<g clip-path="url(#bt13)"><g filter="url(#b1)" opacity="0.6">
<ellipse cx="52.0" cy="63.4" rx="2.3" ry="4.0" fill="#5a5ab4"/>
<ellipse cx="65.2" cy="47.2" rx="2.9" ry="3.6" fill="#4a6cc4"/>
<ellipse cx="53.9" cy="30.9" rx="4.9" ry="3.9" fill="#40a8b8"/>
<ellipse cx="42.8" cy="21.6" rx="4.7" ry="4.7" fill="#40b8a8"/>
<ellipse cx="43.8" cy="69.1" rx="2.8" ry="2.3" fill="#38c0b0"/>
<ellipse cx="57.0" cy="62.0" rx="4.3" ry="2.3" fill="#4a6cc4"/>
<ellipse cx="37.2" cy="72.2" rx="4.0" ry="4.1" fill="#40a8b8"/>
<ellipse cx="45.8" cy="42.9" rx="4.6" ry="4.1" fill="#5a5ab4"/>
<ellipse cx="49.0" cy="28.7" rx="4.1" ry="3.1" fill="#6a6aa8"/>
<ellipse cx="24.1" cy="21.6" rx="3.2" ry="4.9" fill="#6a6aa8"/>
<ellipse cx="31.5" cy="49.5" rx="4.1" ry="3.5" fill="#40b8a8"/>
<ellipse cx="52.2" cy="39.4" rx="2.3" ry="4.6" fill="#4a6cc4"/>
<ellipse cx="46.9" cy="46.2" rx="4.0" ry="4.3" fill="#40a8b8"/>
<ellipse cx="52.1" cy="47.2" rx="4.8" ry="4.9" fill="#6a6aa8"/>
<ellipse cx="61.5" cy="55.3" rx="2.6" ry="4.2" fill="#38c0b0"/>
<ellipse cx="57.2" cy="37.6" rx="4.2" ry="2.7" fill="#5a5ab4"/>
<ellipse cx="53.7" cy="51.8" rx="3.3" ry="2.5" fill="#6a6aa8"/>
<ellipse cx="47.5" cy="28.0" rx="3.1" ry="4.5" fill="#6a6aa8"/>
<ellipse cx="36.6" cy="37.3" rx="2.9" ry="2.9" fill="#4a6cc4"/>
<ellipse cx="57.0" cy="39.0" rx="4.7" ry="4.0" fill="#6a6aa8"/>
<ellipse cx="34.4" cy="66.1" rx="3.6" ry="4.3" fill="#4a6cc4"/>
<ellipse cx="39.0" cy="73.6" rx="3.9" ry="3.6" fill="#5a5ab4"/>
<ellipse cx="38.8" cy="61.9" rx="3.3" ry="3.6" fill="#40b8a8"/>
<ellipse cx="53.8" cy="65.5" rx="3.1" ry="3.7" fill="#38c0b0"/>
<ellipse cx="66.1" cy="60.1" rx="4.3" ry="3.4" fill="#6a6aa8"/>
<ellipse cx="31.9" cy="28.8" rx="3.7" ry="2.6" fill="#38c0b0"/>
<ellipse cx="61.3" cy="40.9" rx="3.4" ry="2.5" fill="#6a6aa8"/>
<ellipse cx="52.9" cy="21.4" rx="2.5" ry="2.4" fill="#40b8a8"/>
<ellipse cx="50.0" cy="54.8" rx="4.1" ry="4.4" fill="#40a8b8"/>
<ellipse cx="42.5" cy="19.4" rx="3.9" ry="3.1" fill="#40a8b8"/>
<ellipse cx="24.3" cy="67.1" rx="3.5" ry="4.2" fill="#38c0b0"/>
<ellipse cx="65.7" cy="74.8" rx="2.4" ry="4.4" fill="#40b8a8"/>
<ellipse cx="44.8" cy="24.0" rx="2.7" ry="3.9" fill="#40a8b8"/>
<ellipse cx="48.5" cy="43.3" rx="2.7" ry="4.7" fill="#40b8a8"/>
<ellipse cx="42.8" cy="42.4" rx="3.8" ry="2.2" fill="#6a6aa8"/>
<ellipse cx="63.7" cy="71.9" rx="3.8" ry="4.6" fill="#6a6aa8"/>
<ellipse cx="58.8" cy="25.9" rx="3.5" ry="4.2" fill="#4a6cc4"/>
<ellipse cx="64.7" cy="49.0" rx="4.6" ry="3.0" fill="#5a5ab4"/>
<ellipse cx="35.4" cy="74.4" rx="2.5" ry="3.3" fill="#40a8b8"/>
<ellipse cx="33.7" cy="70.8" rx="4.5" ry="4.4" fill="#5a5ab4"/>
<ellipse cx="56.0" cy="49.3" rx="2.8" ry="2.3" fill="#6a6aa8"/>
<ellipse cx="66.4" cy="56.0" rx="3.3" ry="3.9" fill="#6a6aa8"/>
<ellipse cx="36.4" cy="48.9" rx="3.1" ry="4.8" fill="#5a5ab4"/>
<ellipse cx="39.1" cy="19.2" rx="3.6" ry="4.6" fill="#40a8b8"/>
<ellipse cx="51.5" cy="46.0" rx="4.6" ry="3.2" fill="#38c0b0"/>
<ellipse cx="46.4" cy="67.5" rx="3.2" ry="2.2" fill="#4a6cc4"/>
<ellipse cx="51.1" cy="39.0" rx="2.5" ry="3.4" fill="#38c0b0"/>
<ellipse cx="37.1" cy="53.8" rx="3.2" ry="3.8" fill="#5a5ab4"/>
<ellipse cx="37.0" cy="38.3" rx="3.1" ry="2.9" fill="#4a6cc4"/>
<ellipse cx="54.3" cy="72.5" rx="4.7" ry="4.2" fill="#6a6aa8"/>
<ellipse cx="55.2" cy="51.2" rx="3.9" ry="3.1" fill="#40a8b8"/>
<ellipse cx="48.4" cy="24.6" rx="4.0" ry="4.9" fill="#38c0b0"/>
<ellipse cx="28.4" cy="31.7" rx="4.6" ry="4.0" fill="#4a6cc4"/>
<ellipse cx="22.7" cy="67.5" rx="3.2" ry="2.5" fill="#38c0b0"/>
<ellipse cx="46.8" cy="65.9" rx="2.8" ry="3.4" fill="#4a6cc4"/>
<ellipse cx="39.7" cy="25.7" rx="4.4" ry="2.6" fill="#5a5ab4"/>
<ellipse cx="28.3" cy="42.1" rx="4.6" ry="4.7" fill="#4a6cc4"/>
<ellipse cx="46.9" cy="41.1" rx="4.5" ry="2.6" fill="#38c0b0"/>
<ellipse cx="56.7" cy="19.0" rx="3.3" ry="5.0" fill="#5a5ab4"/>
<ellipse cx="51.3" cy="61.0" rx="2.4" ry="4.8" fill="#40a8b8"/>
</g></g>
<path d="M31 31 L38 23 M59 31 L52 23" fill="none" stroke="#4060d0" stroke-width="1.5" opacity="0.7" filter="url(#b0_5)" />
<ellipse cx="40" cy="50" rx="7" ry="7" fill="url(#gT)" opacity="1" />
<ellipse cx="52" cy="45" rx="6" ry="6" fill="url(#gP)" opacity="1" />
<ellipse cx="35" cy="62" rx="6" ry="6" fill="url(#gP)" opacity="1" />
<ellipse cx="50" cy="66" rx="7" ry="6" fill="url(#gT)" opacity="1" />
<path d="M84 92 L92 84" fill="none" stroke="#fff" stroke-width="3" opacity="1" />
</g>
</g></g>
<g transform="translate(518,408)"><g clip-path="url(#c23)"><rect x="0" y="0" width="89.8" height="89.5" fill="#000"/>
<g filter="url(#soft)">
<path d="M43.3 3.4 C52 3.4 60 5 66 9.1 C72 14 75 18 77.4 22.8 C79.5 30 80.9 35 80.9 40 C80.5 48 80 52 79.7 57 C78 66 76.5 72 75.2 79.7 C74 85 73 88 73 92 L-2 92 L-2 79.7 C4 77 8 75 10.3 72.9 C10.3 66 10.3 62 10.3 57 C9 52 8 46 8 40 C8.5 34 9 30 10.3 25 C14 16 18 12 22.8 9.1 C29 5 36 3.4 43.3 3.4Z" fill="#0818ff" stroke="#0818ff" stroke-width="5" opacity="1" filter="url(#b0_8)" paint-order="stroke" />
<path d="M43.3 3.4 C52 3.4 60 5 66 9.1 C72 14 75 18 77.4 22.8 C79.5 30 80.9 35 80.9 40 C80.5 48 80 52 79.7 57 C78 66 76.5 72 75.2 79.7 C74 85 73 88 73 92 L-2 92 L-2 79.7 C4 77 8 75 10.3 72.9 C10.3 66 10.3 62 10.3 57 C9 52 8 46 8 40 C8.5 34 9 30 10.3 25 C14 16 18 12 22.8 9.1 C29 5 36 3.4 43.3 3.4Z" fill="#00e8ff" stroke="#00e8ff" stroke-width="2.2" opacity="1" filter="url(#b0_6)" paint-order="stroke" />
<path d="M43.3 3.4 C52 3.4 60 5 66 9.1 C72 14 75 18 77.4 22.8 C79.5 30 80.9 35 80.9 40 C80.5 48 80 52 79.7 57 C78 66 76.5 72 75.2 79.7 C74 85 73 88 73 92 L-2 92 L-2 79.7 C4 77 8 75 10.3 72.9 C10.3 66 10.3 62 10.3 57 C9 52 8 46 8 40 C8.5 34 9 30 10.3 25 C14 16 18 12 22.8 9.1 C29 5 36 3.4 43.3 3.4Z" fill="#b0e058" stroke="none" stroke-width="1" opacity="1" filter="url(#b0_6)" />
<ellipse cx="27" cy="72" rx="13" ry="20" fill="url(#gRY)" opacity="1" />
<ellipse cx="63" cy="72" rx="13" ry="20" fill="url(#gRY)" opacity="1" />
<ellipse cx="44.4" cy="68.3" rx="6" ry="20" fill="url(#gG)" opacity="1" />
<ellipse cx="14" cy="56" rx="4.5" ry="14" fill="url(#gRY)" opacity="1" />
<ellipse cx="35.3" cy="66" rx="6" ry="18" fill="url(#gRY)" opacity="1" />
<ellipse cx="54.7" cy="68.3" rx="6.5" ry="18" fill="url(#gRY)" opacity="1" />
<ellipse cx="77.4" cy="51.3" rx="4.5" ry="16" fill="url(#gRY)" opacity="1" />
<ellipse cx="20" cy="60" rx="4" ry="14" fill="url(#gY)" opacity="1" />
<ellipse cx="70" cy="62" rx="4" ry="14" fill="url(#gY)" opacity="1" />
<ellipse cx="5" cy="82" rx="6" ry="6" fill="url(#gG)" opacity="1" />
<ellipse cx="27" cy="72" rx="9.1" ry="14.0" fill="#e62222" opacity="1" filter="url(#b0_6)" />
<ellipse cx="63" cy="72" rx="9.1" ry="14.0" fill="#e62222" opacity="1" filter="url(#b0_6)" />
<ellipse cx="14" cy="56" rx="3.15" ry="9.799999999999999" fill="#e62222" opacity="1" filter="url(#b0_6)" />
<ellipse cx="35.3" cy="66" rx="4.199999999999999" ry="12.6" fill="#e62222" opacity="1" filter="url(#b0_6)" />
<ellipse cx="54.7" cy="68.3" rx="4.55" ry="12.6" fill="#e62222" opacity="1" filter="url(#b0_6)" />
<ellipse cx="77.4" cy="51.3" rx="3.15" ry="11.2" fill="#e62222" opacity="1" filter="url(#b0_6)" />
<path d="M23 50 C24 60 25 70 27 84" fill="none" stroke="#b8f4f0" stroke-width="3.5" opacity="1" filter="url(#b0_8)" />
<path d="M64 50 C63 60 62 70 61 84" fill="none" stroke="#b8f4f0" stroke-width="3.5" opacity="1" filter="url(#b0_8)" />
<path d="M20.5 27.3 C20.5 16 30 10.3 43.3 10.3 C56 10.3 64.9 16 64.9 27.3 C64.9 33 61 38 55 39.9 L32 39.9 C25 38 20.5 33 20.5 27.3Z" fill="#4a80b8" stroke="#e0e0fa" stroke-width="9" opacity="1" filter="url(#b0_6)" paint-order="stroke" />
<g clip-path="url(#bt14)"><g filter="url(#b1)" opacity="0.6">
<ellipse cx="56.2" cy="15.9" rx="3.8" ry="3.2" fill="#38c0b0"/>
<ellipse cx="52.0" cy="30.0" rx="2.6" ry="2.6" fill="#38c0b0"/>
<ellipse cx="21.6" cy="21.7" rx="4.0" ry="2.4" fill="#5a5ab4"/>
<ellipse cx="35.4" cy="33.4" rx="3.9" ry="4.3" fill="#38c0b0"/>
<ellipse cx="56.9" cy="20.1" rx="3.8" ry="4.5" fill="#40a8b8"/>
<ellipse cx="60.1" cy="31.0" rx="2.2" ry="4.1" fill="#5a5ab4"/>
<ellipse cx="51.6" cy="21.3" rx="3.4" ry="4.4" fill="#6a6aa8"/>
<ellipse cx="28.7" cy="39.0" rx="4.9" ry="3.2" fill="#5a5ab4"/>
<ellipse cx="25.4" cy="21.9" rx="4.1" ry="2.9" fill="#40b8a8"/>
<ellipse cx="39.2" cy="24.5" rx="2.6" ry="2.5" fill="#4a6cc4"/>
<ellipse cx="39.3" cy="16.4" rx="2.9" ry="4.3" fill="#40b8a8"/>
<ellipse cx="48.9" cy="10.4" rx="3.7" ry="3.9" fill="#40a8b8"/>
<ellipse cx="41.2" cy="39.6" rx="4.5" ry="3.3" fill="#6a6aa8"/>
<ellipse cx="53.2" cy="18.8" rx="3.1" ry="3.2" fill="#5a5ab4"/>
<ellipse cx="64.7" cy="23.0" rx="3.8" ry="4.5" fill="#6a6aa8"/>
<ellipse cx="27.7" cy="23.8" rx="3.8" ry="4.6" fill="#5a5ab4"/>
<ellipse cx="49.0" cy="28.7" rx="2.4" ry="2.7" fill="#40b8a8"/>
<ellipse cx="35.2" cy="16.7" rx="4.6" ry="3.5" fill="#40a8b8"/>
<ellipse cx="59.1" cy="35.1" rx="3.4" ry="3.5" fill="#38c0b0"/>
<ellipse cx="38.9" cy="20.6" rx="4.2" ry="4.8" fill="#5a5ab4"/>
<ellipse cx="42.9" cy="22.2" rx="3.3" ry="2.7" fill="#5a5ab4"/>
<ellipse cx="32.1" cy="13.8" rx="2.6" ry="4.9" fill="#40b8a8"/>
<ellipse cx="53.0" cy="33.3" rx="5.0" ry="3.7" fill="#40b8a8"/>
<ellipse cx="33.3" cy="30.6" rx="4.4" ry="2.3" fill="#40a8b8"/>
<ellipse cx="23.2" cy="15.6" rx="3.8" ry="3.5" fill="#6a6aa8"/>
<ellipse cx="40.3" cy="16.9" rx="3.6" ry="3.6" fill="#40a8b8"/>
<ellipse cx="53.8" cy="29.8" rx="2.8" ry="4.1" fill="#38c0b0"/>
<ellipse cx="53.6" cy="26.9" rx="3.5" ry="4.7" fill="#6a6aa8"/>
<ellipse cx="29.2" cy="29.1" rx="4.9" ry="2.7" fill="#5a5ab4"/>
<ellipse cx="47.3" cy="11.6" rx="3.0" ry="2.6" fill="#5a5ab4"/>
<ellipse cx="57.7" cy="21.5" rx="4.0" ry="4.5" fill="#40b8a8"/>
<ellipse cx="35.7" cy="12.1" rx="3.4" ry="3.2" fill="#38c0b0"/>
</g></g>
<ellipse cx="33" cy="44.4" rx="5.5" ry="4" fill="url(#gB)" opacity="1" />
<ellipse cx="54.7" cy="43.3" rx="4.5" ry="4" fill="url(#gB)" opacity="1" />
<ellipse cx="20.5" cy="41" rx="4" ry="3" fill="#f0f0ff" opacity="1" filter="url(#b1_2)" />
<ellipse cx="55.8" cy="38.7" rx="4" ry="3" fill="#f0f0ff" opacity="1" filter="url(#b1_2)" />
<ellipse cx="18.2" cy="38.7" rx="2" ry="2" fill="#1010c0" opacity="1" filter="url(#b1_2)" />
<ellipse cx="43.3" cy="47.8" rx="5" ry="5" fill="#e0f4c0" opacity="1" filter="url(#b1_2)" />
<ellipse cx="38" cy="20" rx="6" ry="5" fill="url(#gP)" opacity="1" />
<ellipse cx="50" cy="22" rx="6" ry="5" fill="url(#gP)" opacity="1" />
<ellipse cx="40" cy="30" rx="5" ry="4" fill="url(#gT)" opacity="1" />
<ellipse cx="48" cy="30" rx="5" ry="4" fill="url(#gT)" opacity="1" />
</g>
</g></g>
<g transform="translate(614.3,408)"><g clip-path="url(#c24)"><rect x="0" y="0" width="90.4" height="89.5" fill="#000"/>
<g filter="url(#soft)">
<path d="M45.3 2.3 C55 2.3 62 4 68 6.8 C73 10 76 13 79.4 17.1 C82 20 84 22 86.3 23.9 C86 28 85.5 31 85.1 34.2 L92 38 L92 92 L-2 92 L-2 72 C0 68 2 65 3.1 62.6 C4.5 55 6 46 7.7 39.9 C8.5 33 10 27 11.1 22.8 C12.5 18 14 14 16.8 11.4 C20 7 24 4 28.2 3.4 C34 2.5 40 2.3 45.3 2.3Z" fill="#0818ff" stroke="#0818ff" stroke-width="5" opacity="1" filter="url(#b0_8)" paint-order="stroke" />
<path d="M45.3 2.3 C55 2.3 62 4 68 6.8 C73 10 76 13 79.4 17.1 C82 20 84 22 86.3 23.9 C86 28 85.5 31 85.1 34.2 L92 38 L92 92 L-2 92 L-2 72 C0 68 2 65 3.1 62.6 C4.5 55 6 46 7.7 39.9 C8.5 33 10 27 11.1 22.8 C12.5 18 14 14 16.8 11.4 C20 7 24 4 28.2 3.4 C34 2.5 40 2.3 45.3 2.3Z" fill="#00e8ff" stroke="#00e8ff" stroke-width="2.2" opacity="1" filter="url(#b0_6)" paint-order="stroke" />
<path d="M45.3 2.3 C55 2.3 62 4 68 6.8 C73 10 76 13 79.4 17.1 C82 20 84 22 86.3 23.9 C86 28 85.5 31 85.1 34.2 L92 38 L92 92 L-2 92 L-2 72 C0 68 2 65 3.1 62.6 C4.5 55 6 46 7.7 39.9 C8.5 33 10 27 11.1 22.8 C12.5 18 14 14 16.8 11.4 C20 7 24 4 28.2 3.4 C34 2.5 40 2.3 45.3 2.3Z" fill="#90e8a0" stroke="none" stroke-width="1" opacity="1" filter="url(#b0_6)" />
<ellipse cx="6" cy="55" rx="3.5" ry="26" fill="url(#gRY)" opacity="1" transform="rotate(12 6 55)" />
<ellipse cx="16.8" cy="47.8" rx="4" ry="5.5" fill="url(#gRY)" opacity="1" />
<ellipse cx="17.4" cy="63.8" rx="3" ry="3.5" fill="url(#gRY)" opacity="1" />
<ellipse cx="13" cy="70" rx="4" ry="14" fill="url(#gG)" opacity="1" />
<ellipse cx="6" cy="55" rx="2.4499999999999997" ry="18.2" fill="#e62222" opacity="1" filter="url(#b0_6)" transform="rotate(12 6 55)" />
<ellipse cx="16.8" cy="47.8" rx="2.8" ry="3.8499999999999996" fill="#e62222" opacity="1" filter="url(#b0_6)" />
<ellipse cx="17.4" cy="63.8" rx="2.0999999999999996" ry="2.4499999999999997" fill="#e62222" opacity="1" filter="url(#b0_6)" />
<ellipse cx="66" cy="68" rx="24" ry="20" fill="url(#gRY)" opacity="1" />
<ellipse cx="76" cy="50" rx="12" ry="10" fill="url(#gY)" opacity="1" />
<ellipse cx="63.5" cy="68.3" rx="17" ry="12" fill="url(#gRY)" opacity="1" />
<ellipse cx="73.7" cy="51.3" rx="11" ry="7" fill="url(#gRY)" opacity="1" />
<ellipse cx="51" cy="82" rx="7" ry="6" fill="url(#gRY)" opacity="1" />
<ellipse cx="36.1" cy="66" rx="4" ry="7" fill="url(#gRY)" opacity="1" />
<ellipse cx="48.7" cy="43.3" rx="7" ry="4" fill="#f08080" opacity="1" filter="url(#b1_2)" />
<ellipse cx="51" cy="51.3" rx="6" ry="8" fill="url(#gC)" opacity="1" />
<ellipse cx="56" cy="52" rx="10" ry="8" fill="url(#gG)" opacity="1" />
<ellipse cx="81.7" cy="62.6" rx="6" ry="8" fill="url(#gY)" opacity="1" />
<ellipse cx="40" cy="75" rx="5" ry="12" fill="url(#gC)" opacity="1" />
<ellipse cx="60" cy="30" rx="12" ry="3" fill="url(#gL)" opacity="1" />
<ellipse cx="66" cy="68" rx="16.799999999999997" ry="14.0" fill="#e62222" opacity="1" filter="url(#b0_6)" />
<ellipse cx="63.5" cy="68.3" rx="11.899999999999999" ry="8.399999999999999" fill="#e62222" opacity="1" filter="url(#b0_6)" />
<ellipse cx="73.7" cy="51.3" rx="7.699999999999999" ry="4.8999999999999995" fill="#e62222" opacity="1" filter="url(#b0_6)" />
<ellipse cx="51" cy="82" rx="4.8999999999999995" ry="4.199999999999999" fill="#e62222" opacity="1" filter="url(#b0_6)" />
<ellipse cx="36.1" cy="66" rx="2.8" ry="4.8999999999999995" fill="#e62222" opacity="1" filter="url(#b0_6)" />
<path d="M28 46 C28 60 28 76 28 92" fill="none" stroke="#e0e0fa" stroke-width="4" opacity="1" filter="url(#b0_8)" />
<path d="M16.8 22.8 C17 12 30 8 45.3 8 C60 8 70 12 72.6 22.8 C72 26 71 27 70.3 27.3 C64 29 60 30.5 56.7 31.9 C50 34 46 36 43 37.6 C38 40 34 42 31.6 43.3 C26 40 21 34 18 28 C17 26 16.8 24 16.8 22.8Z" fill="#4a88b8" stroke="#e0e0fa" stroke-width="9" opacity="1" filter="url(#b0_6)" paint-order="stroke" />
<g clip-path="url(#bt15)"><g filter="url(#b1)" opacity="0.6">
<ellipse cx="27.3" cy="9.1" rx="4.7" ry="2.5" fill="#38c0b0"/>
<ellipse cx="53.1" cy="32.7" rx="2.9" ry="2.4" fill="#4a6cc4"/>
<ellipse cx="35.4" cy="8.3" rx="3.1" ry="4.2" fill="#5a5ab4"/>
<ellipse cx="50.5" cy="42.0" rx="2.4" ry="4.8" fill="#5a5ab4"/>
<ellipse cx="66.3" cy="38.0" rx="2.6" ry="3.9" fill="#6a6aa8"/>
<ellipse cx="62.4" cy="12.9" rx="4.0" ry="2.6" fill="#6a6aa8"/>
<ellipse cx="59.6" cy="27.7" rx="4.7" ry="2.3" fill="#5a5ab4"/>
<ellipse cx="40.2" cy="21.9" rx="3.2" ry="3.9" fill="#40a8b8"/>
<ellipse cx="47.5" cy="11.0" rx="3.5" ry="4.8" fill="#40a8b8"/>
<ellipse cx="63.2" cy="20.7" rx="3.0" ry="4.7" fill="#5a5ab4"/>
<ellipse cx="48.0" cy="16.3" rx="3.0" ry="3.4" fill="#40a8b8"/>
<ellipse cx="21.6" cy="13.3" rx="3.0" ry="2.9" fill="#40b8a8"/>
<ellipse cx="45.1" cy="43.0" rx="4.0" ry="3.0" fill="#38c0b0"/>
<ellipse cx="32.2" cy="25.6" rx="4.2" ry="2.6" fill="#40b8a8"/>
<ellipse cx="22.2" cy="21.0" rx="4.0" ry="3.2" fill="#40a8b8"/>
<ellipse cx="55.2" cy="41.9" rx="4.8" ry="2.9" fill="#38c0b0"/>
<ellipse cx="58.7" cy="12.1" rx="3.3" ry="2.7" fill="#6a6aa8"/>
<ellipse cx="67.7" cy="27.1" rx="2.4" ry="2.5" fill="#4a6cc4"/>
<ellipse cx="27.4" cy="43.1" rx="2.8" ry="3.7" fill="#40b8a8"/>
<ellipse cx="47.2" cy="25.7" rx="2.8" ry="2.9" fill="#40a8b8"/>
<ellipse cx="72.1" cy="12.4" rx="4.3" ry="2.5" fill="#4a6cc4"/>
<ellipse cx="49.2" cy="40.1" rx="3.7" ry="2.6" fill="#38c0b0"/>
<ellipse cx="37.1" cy="40.6" rx="2.7" ry="3.3" fill="#4a6cc4"/>
<ellipse cx="52.3" cy="34.7" rx="2.5" ry="4.8" fill="#5a5ab4"/>
<ellipse cx="48.3" cy="35.1" rx="2.3" ry="2.5" fill="#5a5ab4"/>
<ellipse cx="32.3" cy="11.1" rx="4.7" ry="3.9" fill="#40a8b8"/>
<ellipse cx="46.2" cy="12.4" rx="2.5" ry="4.4" fill="#40a8b8"/>
<ellipse cx="38.3" cy="12.1" rx="4.3" ry="4.2" fill="#5a5ab4"/>
<ellipse cx="42.8" cy="31.2" rx="4.3" ry="4.2" fill="#5a5ab4"/>
<ellipse cx="42.9" cy="31.5" rx="4.0" ry="3.6" fill="#40b8a8"/>
<ellipse cx="26.4" cy="11.0" rx="4.6" ry="2.4" fill="#40b8a8"/>
<ellipse cx="41.0" cy="38.5" rx="3.5" ry="2.6" fill="#5a5ab4"/>
<ellipse cx="32.2" cy="25.8" rx="2.5" ry="3.5" fill="#38c0b0"/>
<ellipse cx="30.6" cy="35.2" rx="2.5" ry="4.0" fill="#4a6cc4"/>
<ellipse cx="34.2" cy="24.6" rx="4.1" ry="4.4" fill="#38c0b0"/>
<ellipse cx="26.6" cy="32.6" rx="4.2" ry="4.0" fill="#4a6cc4"/>
<ellipse cx="45.6" cy="24.2" rx="4.6" ry="2.5" fill="#4a6cc4"/>
<ellipse cx="34.5" cy="13.1" rx="2.9" ry="5.0" fill="#5a5ab4"/>
<ellipse cx="68.4" cy="41.2" rx="4.6" ry="3.7" fill="#4a6cc4"/>
<ellipse cx="51.5" cy="36.9" rx="5.0" ry="4.9" fill="#5a5ab4"/>
<ellipse cx="18.6" cy="27.6" rx="4.2" ry="4.1" fill="#5a5ab4"/>
<ellipse cx="49.9" cy="36.2" rx="4.6" ry="4.3" fill="#40a8b8"/>
<ellipse cx="46.6" cy="20.7" rx="2.5" ry="4.8" fill="#40b8a8"/>
<ellipse cx="44.7" cy="37.5" rx="4.0" ry="3.1" fill="#38c0b0"/>
<ellipse cx="63.2" cy="42.6" rx="3.3" ry="4.3" fill="#5a5ab4"/>
<ellipse cx="68.6" cy="23.9" rx="4.4" ry="4.4" fill="#38c0b0"/>
<ellipse cx="69.3" cy="16.1" rx="3.4" ry="2.8" fill="#40a8b8"/>
<ellipse cx="51.1" cy="13.1" rx="4.0" ry="3.6" fill="#4a6cc4"/>
<ellipse cx="36.8" cy="22.9" rx="3.0" ry="4.4" fill="#5a5ab4"/>
</g></g>
<path d="M26.5 43 C25 60 24 76 23.6 92" fill="none" stroke="#5064b0" stroke-width="7" opacity="1" filter="url(#b0_6)" />
<ellipse cx="30" cy="18" rx="7" ry="6" fill="url(#gT)" opacity="1" />
<ellipse cx="50" cy="16" rx="7" ry="5" fill="url(#gP)" opacity="1" />
<ellipse cx="40" cy="26" rx="6" ry="5" fill="url(#gT)" opacity="1" />
<ellipse cx="60" cy="20" rx="6" ry="5" fill="url(#gP)" opacity="1" />
</g>
</g></g>
<g transform="translate(419,503.8)"><g clip-path="url(#c25)"><rect x="0" y="0" width="90.3" height="90.1" fill="#000"/>
<g filter="url(#soft)">
<path d="M44.6 5.5 C50 5 54 5.5 58.2 6 C63 8 66 9.5 69.6 11.7 C73 16 75 18 76.4 22 C77 32 77.5 40 78.7 47 C82 51 85 53 86.7 56.1 C85 59 83 61 81 63 C77 68 74 72 69.6 76.6 C62 81 54 84.6 44.6 84.6 C32 84.6 22 76 15 67.5 C11 64 8 62 5.8 60.7 C4.5 58 4.5 56 4.7 53.9 C7 50 9 47 10.4 44.8 C12 38 14 32 16.1 25.4 C16.5 22 16.8 19 17.2 16.3 C20 12 24 10 27.5 8.3 C33 6.5 39 5.5 44.6 5.5Z" fill="#0818ff" stroke="#0818ff" stroke-width="5" opacity="1" filter="url(#b0_8)" paint-order="stroke" />
<path d="M44.6 5.5 C50 5 54 5.5 58.2 6 C63 8 66 9.5 69.6 11.7 C73 16 75 18 76.4 22 C77 32 77.5 40 78.7 47 C82 51 85 53 86.7 56.1 C85 59 83 61 81 63 C77 68 74 72 69.6 76.6 C62 81 54 84.6 44.6 84.6 C32 84.6 22 76 15 67.5 C11 64 8 62 5.8 60.7 C4.5 58 4.5 56 4.7 53.9 C7 50 9 47 10.4 44.8 C12 38 14 32 16.1 25.4 C16.5 22 16.8 19 17.2 16.3 C20 12 24 10 27.5 8.3 C33 6.5 39 5.5 44.6 5.5Z" fill="#00e8ff" stroke="#00e8ff" stroke-width="2.2" opacity="1" filter="url(#b0_6)" paint-order="stroke" />
<path d="M44.6 5.5 C50 5 54 5.5 58.2 6 C63 8 66 9.5 69.6 11.7 C73 16 75 18 76.4 22 C77 32 77.5 40 78.7 47 C82 51 85 53 86.7 56.1 C85 59 83 61 81 63 C77 68 74 72 69.6 76.6 C62 81 54 84.6 44.6 84.6 C32 84.6 22 76 15 67.5 C11 64 8 62 5.8 60.7 C4.5 58 4.5 56 4.7 53.9 C7 50 9 47 10.4 44.8 C12 38 14 32 16.1 25.4 C16.5 22 16.8 19 17.2 16.3 C20 12 24 10 27.5 8.3 C33 6.5 39 5.5 44.6 5.5Z" fill="#b0e870" stroke="none" stroke-width="1" opacity="1" filter="url(#b0_6)" />
<ellipse cx="6.4" cy="56.1" rx="2.5" ry="3.5" fill="url(#gRY)" opacity="1" />
<ellipse cx="12.7" cy="52.7" rx="3.5" ry="4.5" fill="url(#gRY)" opacity="1" />
<ellipse cx="77" cy="52.7" rx="3" ry="4.5" fill="url(#gRY)" opacity="1" />
<ellipse cx="75.3" cy="60.7" rx="3" ry="3.5" fill="url(#gRY)" opacity="1" />
<ellipse cx="73" cy="27.7" rx="3" ry="6" fill="url(#gY)" opacity="1" />
<ellipse cx="44.6" cy="81.2" rx="16" ry="3.5" fill="url(#gRY)" opacity="1" />
<ellipse cx="44.6" cy="76" rx="20" ry="4" fill="url(#gG)" opacity="1" />
<ellipse cx="16" cy="30" rx="5" ry="12" fill="url(#gY)" opacity="1" />
<ellipse cx="74" cy="40" rx="4" ry="12" fill="url(#gY)" opacity="1" />
<ellipse cx="6.4" cy="56.1" rx="1.75" ry="2.4499999999999997" fill="#e62222" opacity="1" filter="url(#b0_6)" />
<ellipse cx="12.7" cy="52.7" rx="2.4499999999999997" ry="3.15" fill="#e62222" opacity="1" filter="url(#b0_6)" />
<ellipse cx="77" cy="52.7" rx="2.0999999999999996" ry="3.15" fill="#e62222" opacity="1" filter="url(#b0_6)" />
<ellipse cx="75.3" cy="60.7" rx="2.0999999999999996" ry="2.4499999999999997" fill="#e62222" opacity="1" filter="url(#b0_6)" />
<ellipse cx="44.6" cy="81.2" rx="11.2" ry="2.4499999999999997" fill="#e62222" opacity="1" filter="url(#b0_6)" />
<path d="M20 34 C20 30 24 28 28 28 L40 27 L44.6 22 L49 27 L62 28 C66 28 70 30 70 34 L70 66 C70 71 66 73.5 62 73.5 L28 73.5 C24 73.5 20 71 20 66Z" fill="#c4f4ec" stroke="none" stroke-width="1" opacity="1" filter="url(#b0_6)" />
<path d="M23 36 C23 33 25 31 28 31 L62 31 C65 31 67.3 33 67.3 36 L67.3 66 C67.3 69 65 71 62 71 L28 71 C25 71 23 69 23 66Z" fill="#4a8ab8" stroke="none" stroke-width="1" opacity="1" filter="url(#b0_6)" />
<g clip-path="url(#bt16)"><g filter="url(#b1)" opacity="0.6">
<ellipse cx="60.9" cy="50.8" rx="4.0" ry="4.3" fill="#6a6aa8"/>
<ellipse cx="27.6" cy="55.7" rx="4.1" ry="2.7" fill="#38c0b0"/>
<ellipse cx="54.3" cy="62.2" rx="4.8" ry="3.2" fill="#5a5ab4"/>
<ellipse cx="36.3" cy="69.4" rx="3.2" ry="4.7" fill="#40b8a8"/>
<ellipse cx="38.9" cy="41.9" rx="2.6" ry="4.0" fill="#6a6aa8"/>
<ellipse cx="49.7" cy="66.5" rx="2.6" ry="4.7" fill="#5a5ab4"/>
<ellipse cx="43.2" cy="49.8" rx="2.4" ry="3.6" fill="#5a5ab4"/>
<ellipse cx="34.2" cy="70.5" rx="4.7" ry="4.7" fill="#40b8a8"/>
<ellipse cx="24.1" cy="47.9" rx="2.4" ry="3.8" fill="#40b8a8"/>
<ellipse cx="28.3" cy="60.5" rx="4.5" ry="2.3" fill="#40b8a8"/>
<ellipse cx="55.9" cy="60.6" rx="3.8" ry="3.5" fill="#38c0b0"/>
<ellipse cx="33.3" cy="33.5" rx="3.2" ry="2.5" fill="#4a6cc4"/>
<ellipse cx="34.9" cy="42.4" rx="4.3" ry="4.5" fill="#40b8a8"/>
<ellipse cx="48.4" cy="50.1" rx="2.9" ry="2.7" fill="#38c0b0"/>
<ellipse cx="53.1" cy="55.1" rx="3.6" ry="2.2" fill="#38c0b0"/>
<ellipse cx="33.0" cy="58.7" rx="2.8" ry="4.6" fill="#4a6cc4"/>
<ellipse cx="45.4" cy="62.0" rx="2.9" ry="4.7" fill="#5a5ab4"/>
<ellipse cx="60.3" cy="37.4" rx="3.1" ry="4.7" fill="#5a5ab4"/>
<ellipse cx="40.0" cy="45.8" rx="4.9" ry="4.3" fill="#5a5ab4"/>
<ellipse cx="55.5" cy="41.5" rx="3.3" ry="4.5" fill="#38c0b0"/>
<ellipse cx="51.8" cy="51.8" rx="3.3" ry="4.4" fill="#38c0b0"/>
<ellipse cx="24.2" cy="69.3" rx="3.5" ry="2.9" fill="#40b8a8"/>
<ellipse cx="27.4" cy="31.7" rx="4.2" ry="3.1" fill="#6a6aa8"/>
<ellipse cx="37.8" cy="56.0" rx="2.4" ry="4.3" fill="#40b8a8"/>
<ellipse cx="34.7" cy="61.7" rx="3.6" ry="3.2" fill="#4a6cc4"/>
<ellipse cx="67.0" cy="68.6" rx="2.8" ry="4.5" fill="#38c0b0"/>
<ellipse cx="42.7" cy="39.5" rx="3.9" ry="3.0" fill="#38c0b0"/>
<ellipse cx="34.4" cy="43.2" rx="2.7" ry="4.7" fill="#6a6aa8"/>
<ellipse cx="40.8" cy="63.3" rx="3.3" ry="3.1" fill="#6a6aa8"/>
<ellipse cx="58.7" cy="38.0" rx="3.9" ry="4.0" fill="#4a6cc4"/>
<ellipse cx="31.2" cy="69.1" rx="4.6" ry="2.6" fill="#5a5ab4"/>
<ellipse cx="61.0" cy="47.8" rx="2.2" ry="2.5" fill="#40b8a8"/>
<ellipse cx="49.8" cy="58.7" rx="3.5" ry="4.5" fill="#40a8b8"/>
<ellipse cx="24.9" cy="45.4" rx="4.9" ry="4.2" fill="#38c0b0"/>
<ellipse cx="26.8" cy="36.1" rx="4.9" ry="3.9" fill="#40a8b8"/>
<ellipse cx="50.7" cy="66.4" rx="3.7" ry="2.8" fill="#38c0b0"/>
<ellipse cx="61.7" cy="57.6" rx="2.2" ry="4.0" fill="#4a6cc4"/>
<ellipse cx="51.3" cy="53.4" rx="4.7" ry="4.8" fill="#4a6cc4"/>
<ellipse cx="67.1" cy="55.0" rx="4.9" ry="3.5" fill="#38c0b0"/>
<ellipse cx="38.2" cy="32.2" rx="4.8" ry="2.9" fill="#4a6cc4"/>
<ellipse cx="30.6" cy="34.0" rx="4.9" ry="2.3" fill="#4a6cc4"/>
<ellipse cx="23.3" cy="55.1" rx="2.4" ry="2.6" fill="#40b8a8"/>
<ellipse cx="33.7" cy="59.9" rx="3.8" ry="4.1" fill="#4a6cc4"/>
<ellipse cx="53.4" cy="68.6" rx="2.7" ry="3.7" fill="#6a6aa8"/>
</g></g>
<ellipse cx="30.9" cy="18.6" rx="8" ry="7" fill="url(#gL)" opacity="1" />
<ellipse cx="60.5" cy="18.6" rx="8" ry="7" fill="url(#gL)" opacity="1" />
<ellipse cx="44.6" cy="12" rx="4" ry="8" fill="url(#gL)" opacity="1" />
<ellipse cx="30.9" cy="18.6" rx="5" ry="4" fill="#3040c0" opacity="1" filter="url(#b0_6)" />
<ellipse cx="60.5" cy="18.6" rx="5" ry="5" fill="#3040c0" opacity="1" filter="url(#b0_6)" />
<ellipse cx="30.9" cy="18.6" rx="2.5" ry="2" fill="#a05070" opacity="1" filter="url(#b0_5)" />
<ellipse cx="60.5" cy="18.6" rx="2.5" ry="2.5" fill="#a05070" opacity="1" filter="url(#b0_5)" />
<ellipse cx="28.6" cy="60.7" rx="3" ry="4" fill="#f0f0ff" opacity="1" filter="url(#b1_2)" />
<ellipse cx="61.6" cy="59.6" rx="3" ry="4" fill="#f0f0ff" opacity="1" filter="url(#b1_2)" />
<ellipse cx="45" cy="48" rx="8" ry="8" fill="url(#gP)" opacity="1" />
<ellipse cx="38" cy="60" rx="6" ry="6" fill="url(#gT)" opacity="1" />
<ellipse cx="55" cy="40" rx="6" ry="6" fill="url(#gP)" opacity="1" />
<path d="M-1 83.5 L13 91" fill="none" stroke="#fff" stroke-width="1.8" opacity="1" />
<path d="M76 91 L91 83.5" fill="none" stroke="#fff" stroke-width="1.8" opacity="1" />
</g>
</g></g>
<g transform="translate(518,501.3)"><g clip-path="url(#c26)"><rect x="0" y="0" width="89.8" height="89.6" fill="#000"/>
<g filter="url(#soft)">
<path d="M45.6 3.1 C55 3.1 66 3 74 3.1 C78 8 80 12 82 16.8 C84 22 85 25 85.4 28.2 C84 36 83 40 82 45.3 C83 50 84 55 84.3 58.9 C87 60 89 62 91 63.5 L91 92 L-2 92 L-2 65.8 C2 65 4 64 6.8 62.3 C7.5 56 8.5 50 9.1 45.3 C7 38 5 33 3.4 28.2 C4 24 5 20 6.8 16.8 C9 12 12 8 14.8 5.4 C24 3.5 35 3.1 45.6 3.1Z" fill="#0818ff" stroke="#0818ff" stroke-width="5" opacity="1" filter="url(#b0_8)" paint-order="stroke" />
<path d="M45.6 3.1 C55 3.1 66 3 74 3.1 C78 8 80 12 82 16.8 C84 22 85 25 85.4 28.2 C84 36 83 40 82 45.3 C83 50 84 55 84.3 58.9 C87 60 89 62 91 63.5 L91 92 L-2 92 L-2 65.8 C2 65 4 64 6.8 62.3 C7.5 56 8.5 50 9.1 45.3 C7 38 5 33 3.4 28.2 C4 24 5 20 6.8 16.8 C9 12 12 8 14.8 5.4 C24 3.5 35 3.1 45.6 3.1Z" fill="#00e8ff" stroke="#00e8ff" stroke-width="2.2" opacity="1" filter="url(#b0_6)" paint-order="stroke" />
<path d="M45.6 3.1 C55 3.1 66 3 74 3.1 C78 8 80 12 82 16.8 C84 22 85 25 85.4 28.2 C84 36 83 40 82 45.3 C83 50 84 55 84.3 58.9 C87 60 89 62 91 63.5 L91 92 L-2 92 L-2 65.8 C2 65 4 64 6.8 62.3 C7.5 56 8.5 50 9.1 45.3 C7 38 5 33 3.4 28.2 C4 24 5 20 6.8 16.8 C9 12 12 8 14.8 5.4 C24 3.5 35 3.1 45.6 3.1Z" fill="#b0e058" stroke="none" stroke-width="1" opacity="1" filter="url(#b0_6)" />
<ellipse cx="27" cy="72" rx="13" ry="20" fill="url(#gRY)" opacity="1" />
<ellipse cx="63" cy="72" rx="13" ry="20" fill="url(#gRY)" opacity="1" />
<ellipse cx="17" cy="58" rx="10" ry="24" fill="url(#gRY)" opacity="1" />
<ellipse cx="31.9" cy="52" rx="10" ry="15" fill="url(#gRY)" opacity="1" />
<ellipse cx="57" cy="52" rx="10" ry="15" fill="url(#gRY)" opacity="1" />
<ellipse cx="72" cy="56" rx="9" ry="24" fill="url(#gRY)" opacity="1" />
<ellipse cx="25" cy="72" rx="6" ry="10" fill="url(#gRY)" opacity="1" />
<ellipse cx="62" cy="74" rx="6" ry="10" fill="url(#gRY)" opacity="1" />
<ellipse cx="63.8" cy="70.3" rx="5" ry="6" fill="url(#gRY)" opacity="1" />
<ellipse cx="43.3" cy="53.2" rx="6" ry="9" fill="url(#gG)" opacity="1" />
<ellipse cx="43.3" cy="53.2" rx="3" ry="4" fill="url(#gC)" opacity="1" />
<ellipse cx="43.3" cy="73.7" rx="8" ry="8" fill="url(#gY)" opacity="1" />
<ellipse cx="2.3" cy="73.7" rx="7" ry="8" fill="#f08080" opacity="1" filter="url(#b1_2)" />
<ellipse cx="85.4" cy="70.3" rx="5" ry="5.5" fill="url(#gRY)" opacity="1" />
<ellipse cx="8" cy="84" rx="10" ry="6" fill="#40c080" opacity="1" filter="url(#b1_2)" />
<ellipse cx="80" cy="84" rx="10" ry="6" fill="#40c080" opacity="1" filter="url(#b1_2)" />
<ellipse cx="43" cy="84" rx="12" ry="6" fill="url(#gG)" opacity="1" />
<ellipse cx="24" cy="66" rx="3" ry="10" fill="url(#gY)" opacity="1" />
<ellipse cx="64" cy="66" rx="3" ry="10" fill="url(#gY)" opacity="1" />
<ellipse cx="27" cy="72" rx="9.1" ry="14.0" fill="#e62222" opacity="1" filter="url(#b0_6)" />
<ellipse cx="63" cy="72" rx="9.1" ry="14.0" fill="#e62222" opacity="1" filter="url(#b0_6)" />
<ellipse cx="17" cy="58" rx="7.0" ry="16.799999999999997" fill="#e62222" opacity="1" filter="url(#b0_6)" />
<ellipse cx="31.9" cy="52" rx="7.0" ry="10.5" fill="#e62222" opacity="1" filter="url(#b0_6)" />
<ellipse cx="57" cy="52" rx="7.0" ry="10.5" fill="#e62222" opacity="1" filter="url(#b0_6)" />
<ellipse cx="72" cy="56" rx="6.3" ry="16.799999999999997" fill="#e62222" opacity="1" filter="url(#b0_6)" />
<ellipse cx="25" cy="72" rx="4.199999999999999" ry="7.0" fill="#e62222" opacity="1" filter="url(#b0_6)" />
<ellipse cx="62" cy="74" rx="4.199999999999999" ry="7.0" fill="#e62222" opacity="1" filter="url(#b0_6)" />
<ellipse cx="63.8" cy="70.3" rx="3.5" ry="4.199999999999999" fill="#e62222" opacity="1" filter="url(#b0_6)" />
<ellipse cx="85.4" cy="70.3" rx="3.5" ry="3.8499999999999996" fill="#e62222" opacity="1" filter="url(#b0_6)" />
<ellipse cx="12" cy="8" rx="3" ry="8" fill="#1030ff" opacity="0.9" filter="url(#b1)" />
<ellipse cx="76" cy="6" rx="3" ry="8" fill="#1030ff" opacity="0.9" filter="url(#b1)" />
<path d="M21.6 22.5 C21.6 13 32 10 45.6 10 C58 10 66 13 66 22.5 C66 27 64 30 62.6 31.6 C56 33 50 33.9 45.6 33.9 C40 33.9 34 33.5 28.5 32.7 C24 30 21.6 27 21.6 22.5Z" fill="#4a7ab8" stroke="#e0e0fa" stroke-width="9" opacity="1" filter="url(#b0_6)" paint-order="stroke" />
<g clip-path="url(#bt17)"><g filter="url(#b1)" opacity="0.6">
<ellipse cx="50.9" cy="11.7" rx="2.8" ry="3.9" fill="#38c0b0"/>
<ellipse cx="35.6" cy="27.9" rx="4.2" ry="3.9" fill="#40a8b8"/>
<ellipse cx="45.3" cy="16.1" rx="2.3" ry="3.0" fill="#6a6aa8"/>
<ellipse cx="44.1" cy="20.0" rx="4.3" ry="4.6" fill="#38c0b0"/>
<ellipse cx="55.3" cy="11.5" rx="4.7" ry="3.7" fill="#38c0b0"/>
<ellipse cx="52.1" cy="29.2" rx="2.7" ry="3.4" fill="#4a6cc4"/>
<ellipse cx="52.9" cy="23.0" rx="3.6" ry="4.7" fill="#38c0b0"/>
<ellipse cx="46.4" cy="10.4" rx="2.8" ry="2.4" fill="#38c0b0"/>
<ellipse cx="44.5" cy="27.1" rx="4.3" ry="3.7" fill="#4a6cc4"/>
<ellipse cx="56.5" cy="33.5" rx="4.9" ry="3.1" fill="#38c0b0"/>
<ellipse cx="64.8" cy="12.6" rx="4.7" ry="3.9" fill="#5a5ab4"/>
<ellipse cx="35.0" cy="17.9" rx="4.0" ry="3.6" fill="#38c0b0"/>
<ellipse cx="29.8" cy="29.0" rx="3.2" ry="3.8" fill="#40a8b8"/>
<ellipse cx="62.2" cy="19.4" rx="4.0" ry="4.8" fill="#40a8b8"/>
<ellipse cx="50.5" cy="13.4" rx="4.9" ry="2.8" fill="#38c0b0"/>
<ellipse cx="65.4" cy="26.2" rx="3.3" ry="2.7" fill="#40b8a8"/>
<ellipse cx="33.0" cy="25.7" rx="4.2" ry="4.8" fill="#4a6cc4"/>
<ellipse cx="46.8" cy="13.0" rx="3.5" ry="3.3" fill="#4a6cc4"/>
<ellipse cx="45.7" cy="25.5" rx="4.3" ry="4.1" fill="#4a6cc4"/>
<ellipse cx="63.5" cy="16.2" rx="2.9" ry="3.1" fill="#40a8b8"/>
<ellipse cx="60.9" cy="28.3" rx="3.2" ry="4.2" fill="#5a5ab4"/>
<ellipse cx="53.2" cy="18.3" rx="4.3" ry="2.5" fill="#38c0b0"/>
<ellipse cx="41.2" cy="21.6" rx="2.7" ry="2.6" fill="#40a8b8"/>
<ellipse cx="43.1" cy="21.1" rx="2.6" ry="2.8" fill="#5a5ab4"/>
<ellipse cx="52.6" cy="12.7" rx="3.2" ry="4.7" fill="#40a8b8"/>
<ellipse cx="40.5" cy="33.7" rx="4.9" ry="3.3" fill="#5a5ab4"/>
</g></g>
<ellipse cx="30.7" cy="30.5" rx="4.5" ry="3.5" fill="#f0f0ff" opacity="1" filter="url(#b1_2)" />
<ellipse cx="57" cy="31.6" rx="4.5" ry="3.5" fill="#f0f0ff" opacity="1" filter="url(#b1_2)" />
<ellipse cx="30.7" cy="36.1" rx="4" ry="3" fill="url(#gB)" opacity="1" />
<ellipse cx="53.5" cy="35" rx="4" ry="3" fill="url(#gB)" opacity="1" />
<ellipse cx="44.4" cy="39.6" rx="5.5" ry="3.5" fill="#f08080" opacity="1" filter="url(#b1_2)" />
<ellipse cx="44.4" cy="41" rx="9" ry="5" fill="url(#gG)" opacity="1" />
<ellipse cx="40" cy="18" rx="6" ry="5" fill="url(#gT)" opacity="1" />
<ellipse cx="52" cy="20" rx="6" ry="5" fill="url(#gP)" opacity="1" />
<ellipse cx="34" cy="22" rx="5" ry="5" fill="url(#gP)" opacity="1" />
</g>
</g></g>
<g transform="translate(614.3,504.3)"><g clip-path="url(#c27)"><rect x="0" y="0" width="90.4" height="89.6" fill="#000"/>
<g filter="url(#soft)">
<path d="M45.3 3.7 C54 3.7 62 5 68 6.5 C74 9 78 12 81.7 14.5 C84 16 86 18 88.5 20.2 L88.5 26 L86 28 L86 36 L92 38 L92 92 L-2 92 L-2 59 C1 56 3 50 5.4 45.3 C8 38 10 32 11.1 28.2 C11.5 24 12 20 12.2 16.8 C13 14 14 12 15.6 10 C20 7 24 6 28.2 5.4 C34 4 40 3.7 45.3 3.7Z" fill="#0818ff" stroke="#0818ff" stroke-width="5" opacity="1" filter="url(#b0_8)" paint-order="stroke" />
<path d="M45.3 3.7 C54 3.7 62 5 68 6.5 C74 9 78 12 81.7 14.5 C84 16 86 18 88.5 20.2 L88.5 26 L86 28 L86 36 L92 38 L92 92 L-2 92 L-2 59 C1 56 3 50 5.4 45.3 C8 38 10 32 11.1 28.2 C11.5 24 12 20 12.2 16.8 C13 14 14 12 15.6 10 C20 7 24 6 28.2 5.4 C34 4 40 3.7 45.3 3.7Z" fill="#00e8ff" stroke="#00e8ff" stroke-width="2.2" opacity="1" filter="url(#b0_6)" paint-order="stroke" />
<path d="M45.3 3.7 C54 3.7 62 5 68 6.5 C74 9 78 12 81.7 14.5 C84 16 86 18 88.5 20.2 L88.5 26 L86 28 L86 36 L92 38 L92 92 L-2 92 L-2 59 C1 56 3 50 5.4 45.3 C8 38 10 32 11.1 28.2 C11.5 24 12 20 12.2 16.8 C13 14 14 12 15.6 10 C20 7 24 6 28.2 5.4 C34 4 40 3.7 45.3 3.7Z" fill="#b0e8a0" stroke="none" stroke-width="1" opacity="1" filter="url(#b0_6)" />
<ellipse cx="5" cy="38" rx="3.5" ry="24" fill="url(#gRY)" opacity="1" transform="rotate(18 5 38)" />
<ellipse cx="17.9" cy="35" rx="4.5" ry="5.5" fill="url(#gRY)" opacity="1" />
<ellipse cx="14.5" cy="52.1" rx="2.5" ry="2.5" fill="url(#gRY)" opacity="1" />
<ellipse cx="12" cy="65" rx="5" ry="20" fill="url(#gY)" opacity="1" />
<ellipse cx="5" cy="38" rx="2.4499999999999997" ry="16.799999999999997" fill="#e62222" opacity="1" filter="url(#b0_6)" transform="rotate(18 5 38)" />
<ellipse cx="17.9" cy="35" rx="3.15" ry="3.8499999999999996" fill="#e62222" opacity="1" filter="url(#b0_6)" />
<ellipse cx="14.5" cy="52.1" rx="1.75" ry="1.75" fill="#e62222" opacity="1" filter="url(#b0_6)" />
<ellipse cx="66" cy="68" rx="24" ry="20" fill="url(#gRY)" opacity="1" />
<ellipse cx="76" cy="50" rx="12" ry="10" fill="url(#gY)" opacity="1" />
<ellipse cx="63.5" cy="65.8" rx="16" ry="13" fill="url(#gRY)" opacity="1" />
<ellipse cx="70.3" cy="45.3" rx="11" ry="9" fill="url(#gRY)" opacity="1" />
<ellipse cx="31.6" cy="58.9" rx="4" ry="7" fill="url(#gRY)" opacity="1" />
<ellipse cx="74.9" cy="36.1" rx="6" ry="4" fill="url(#gY)" opacity="1" />
<ellipse cx="50.9" cy="37.3" rx="12" ry="4.5" fill="#f08080" opacity="1" filter="url(#b1_2)" />
<ellipse cx="47.5" cy="49.8" rx="10" ry="7" fill="url(#gG)" opacity="1" />
<ellipse cx="47.5" cy="49.8" rx="7" ry="4" fill="url(#gC)" opacity="1" />
<ellipse cx="47.5" cy="49.8" rx="3.5" ry="2" fill="#2060f0" opacity="1" filter="url(#b1_2)" />
<ellipse cx="47.5" cy="73.7" rx="9" ry="11" fill="url(#gG)" opacity="1" />
<ellipse cx="48" cy="78" rx="4" ry="5" fill="url(#gC)" opacity="1" />
<ellipse cx="73.7" cy="81.7" rx="9" ry="6" fill="url(#gL)" opacity="1" />
<ellipse cx="79" cy="74" rx="6" ry="5" fill="#f08080" opacity="1" filter="url(#b1_2)" />
<ellipse cx="38" cy="70" rx="5" ry="12" fill="url(#gY)" opacity="1" />
<ellipse cx="66" cy="68" rx="16.799999999999997" ry="14.0" fill="#e62222" opacity="1" filter="url(#b0_6)" />
<ellipse cx="63.5" cy="65.8" rx="11.2" ry="9.1" fill="#e62222" opacity="1" filter="url(#b0_6)" />
<ellipse cx="70.3" cy="45.3" rx="7.699999999999999" ry="6.3" fill="#e62222" opacity="1" filter="url(#b0_6)" />
<ellipse cx="31.6" cy="58.9" rx="2.8" ry="4.8999999999999995" fill="#e62222" opacity="1" filter="url(#b0_6)" />
<path d="M27.5 34 C27.5 50 27.5 70 27.5 92" fill="none" stroke="#b8f4f0" stroke-width="4" opacity="1" filter="url(#b0_8)" />
<path d="M21.3 18 C22 12 32 10 45.3 10 C60 10 72 14 74.9 20.2 C74 23 72 25 70.3 25.9 C63 27.5 56 28.5 50.9 29.3 C44 31 38 33 33.9 33.9 C30 34 27 34 25.9 33.9 C23 30 21.3 25 21.3 18Z" fill="#4a80b8" stroke="#c0f0d0" stroke-width="6" opacity="1" filter="url(#b0_6)" paint-order="stroke" />
<g clip-path="url(#bt18)"><g filter="url(#b1)" opacity="0.6">
<ellipse cx="69.4" cy="24.2" rx="3.4" ry="3.8" fill="#40b8a8"/>
<ellipse cx="44.7" cy="20.5" rx="3.3" ry="4.9" fill="#6a6aa8"/>
<ellipse cx="52.2" cy="14.3" rx="4.0" ry="3.4" fill="#40b8a8"/>
<ellipse cx="47.2" cy="19.2" rx="3.7" ry="4.2" fill="#40a8b8"/>
<ellipse cx="68.0" cy="10.2" rx="4.3" ry="2.6" fill="#38c0b0"/>
<ellipse cx="30.2" cy="26.8" rx="3.3" ry="2.9" fill="#6a6aa8"/>
<ellipse cx="54.4" cy="21.0" rx="4.2" ry="2.8" fill="#40a8b8"/>
<ellipse cx="34.5" cy="32.9" rx="4.3" ry="2.4" fill="#4a6cc4"/>
<ellipse cx="66.9" cy="23.1" rx="2.7" ry="4.2" fill="#4a6cc4"/>
<ellipse cx="38.3" cy="23.1" rx="2.3" ry="2.3" fill="#40b8a8"/>
<ellipse cx="24.1" cy="28.5" rx="3.0" ry="5.0" fill="#40b8a8"/>
<ellipse cx="72.3" cy="15.8" rx="3.3" ry="3.6" fill="#38c0b0"/>
<ellipse cx="43.6" cy="28.6" rx="4.3" ry="3.7" fill="#5a5ab4"/>
<ellipse cx="27.3" cy="16.1" rx="4.9" ry="3.0" fill="#40b8a8"/>
<ellipse cx="74.5" cy="15.0" rx="2.3" ry="2.8" fill="#5a5ab4"/>
<ellipse cx="42.5" cy="13.7" rx="3.5" ry="2.4" fill="#40b8a8"/>
<ellipse cx="31.1" cy="17.8" rx="3.7" ry="3.3" fill="#4a6cc4"/>
<ellipse cx="63.6" cy="13.8" rx="4.5" ry="3.1" fill="#38c0b0"/>
<ellipse cx="64.0" cy="23.1" rx="3.5" ry="4.1" fill="#4a6cc4"/>
<ellipse cx="52.6" cy="14.9" rx="3.3" ry="4.9" fill="#6a6aa8"/>
<ellipse cx="23.4" cy="11.3" rx="2.9" ry="4.8" fill="#6a6aa8"/>
<ellipse cx="22.3" cy="23.9" rx="4.6" ry="3.6" fill="#5a5ab4"/>
<ellipse cx="23.4" cy="20.2" rx="3.5" ry="4.5" fill="#4a6cc4"/>
<ellipse cx="32.8" cy="13.4" rx="2.5" ry="3.5" fill="#4a6cc4"/>
<ellipse cx="45.1" cy="32.8" rx="3.7" ry="3.4" fill="#4a6cc4"/>
<ellipse cx="38.8" cy="20.3" rx="3.3" ry="4.7" fill="#5a5ab4"/>
<ellipse cx="74.3" cy="18.0" rx="2.2" ry="3.7" fill="#40a8b8"/>
<ellipse cx="65.5" cy="17.5" rx="3.0" ry="3.0" fill="#40a8b8"/>
<ellipse cx="34.5" cy="25.2" rx="2.3" ry="4.2" fill="#5a5ab4"/>
<ellipse cx="45.3" cy="33.2" rx="3.9" ry="2.5" fill="#6a6aa8"/>
<ellipse cx="26.4" cy="15.5" rx="4.4" ry="4.2" fill="#4a6cc4"/>
<ellipse cx="24.5" cy="21.5" rx="3.8" ry="4.7" fill="#40b8a8"/>
</g></g>
<ellipse cx="32" cy="18" rx="7" ry="6" fill="url(#gT)" opacity="1" />
<ellipse cx="55" cy="18" rx="7" ry="5" fill="url(#gP)" opacity="1" />
<ellipse cx="44" cy="24" rx="6" ry="4" fill="url(#gT)" opacity="1" />
</g>
</g></g>
<g transform="translate(423.3,597)"><g clip-path="url(#c28)"><rect x="0" y="0" width="90" height="89.8" fill="#000"/>
<g filter="url(#soft)">
<path d="M45.3 1.1 C50 1.5 53 2 56.7 3.4 C60 7 64 10 68 13.7 C73 18 77 23 79.4 28.5 C81 36 82 44 81.7 51.3 C78 60 75 66 70.3 72.9 C64 80 58 86 51 87.7 C44 88 38 86.5 33.9 84.3 C24 80 16 75 11.1 68.3 C8 60 6.5 52 6.5 45.6 C7 38 7.5 33 8.8 28.5 C11 24 14 22 16.8 20.5 C20 19 24 18 27 17.1 C29 12 31 7 33.9 4.6 C37 2.5 41 1.1 45.3 1.1Z" fill="#0818ff" stroke="#0818ff" stroke-width="5" opacity="1" filter="url(#b0_8)" paint-order="stroke" />
<path d="M45.3 1.1 C50 1.5 53 2 56.7 3.4 C60 7 64 10 68 13.7 C73 18 77 23 79.4 28.5 C81 36 82 44 81.7 51.3 C78 60 75 66 70.3 72.9 C64 80 58 86 51 87.7 C44 88 38 86.5 33.9 84.3 C24 80 16 75 11.1 68.3 C8 60 6.5 52 6.5 45.6 C7 38 7.5 33 8.8 28.5 C11 24 14 22 16.8 20.5 C20 19 24 18 27 17.1 C29 12 31 7 33.9 4.6 C37 2.5 41 1.1 45.3 1.1Z" fill="#00e8ff" stroke="#00e8ff" stroke-width="2.2" opacity="1" filter="url(#b0_6)" paint-order="stroke" />
<path d="M45.3 1.1 C50 1.5 53 2 56.7 3.4 C60 7 64 10 68 13.7 C73 18 77 23 79.4 28.5 C81 36 82 44 81.7 51.3 C78 60 75 66 70.3 72.9 C64 80 58 86 51 87.7 C44 88 38 86.5 33.9 84.3 C24 80 16 75 11.1 68.3 C8 60 6.5 52 6.5 45.6 C7 38 7.5 33 8.8 28.5 C11 24 14 22 16.8 20.5 C20 19 24 18 27 17.1 C29 12 31 7 33.9 4.6 C37 2.5 41 1.1 45.3 1.1Z" fill="#a8f0a0" stroke="none" stroke-width="1" opacity="1" filter="url(#b0_6)" />
<ellipse cx="40.7" cy="19.4" rx="7" ry="7" fill="url(#gRY)" opacity="1" />
<ellipse cx="54.4" cy="18.2" rx="4.5" ry="8" fill="url(#gB)" opacity="1" />
<ellipse cx="65.8" cy="31.9" rx="9" ry="11" fill="url(#gY)" opacity="1" />
<ellipse cx="64.6" cy="39.9" rx="3.5" ry="3.5" fill="url(#gRY)" opacity="1" />
<ellipse cx="77.1" cy="51.3" rx="4.5" ry="9" fill="url(#gRY)" opacity="1" />
<ellipse cx="47.5" cy="28.5" rx="6" ry="6" fill="url(#gG)" opacity="1" />
<ellipse cx="41.8" cy="34.2" rx="8" ry="5" fill="url(#gY)" opacity="1" />
<ellipse cx="70" cy="55" rx="6" ry="8" fill="url(#gY)" opacity="1" />
<ellipse cx="40.7" cy="19.4" rx="4.8999999999999995" ry="4.8999999999999995" fill="#e62222" opacity="1" filter="url(#b0_6)" />
<ellipse cx="64.6" cy="39.9" rx="2.4499999999999997" ry="2.4499999999999997" fill="#e62222" opacity="1" filter="url(#b0_6)" />
<ellipse cx="77.1" cy="51.3" rx="3.15" ry="6.3" fill="#e62222" opacity="1" filter="url(#b0_6)" />
<ellipse cx="22.5" cy="27.3" rx="5.5" ry="5.5" fill="#6a60a8" opacity="1" filter="url(#b0_6)" />
<path d="M11 48 C11 43 14 41 19 41 C28 41 38 44 45.3 45.6 C48 43 49 42 51 42.1 C58 44 65 48 65 58 C65 70 57 83 40 83.5 C24 83.5 11 74 11 60Z" fill="#40a4b8" stroke="#d0f8c8" stroke-width="7" opacity="1" filter="url(#b0_6)" paint-order="stroke" />
<g clip-path="url(#bt19)"><g filter="url(#b1)" opacity="0.6">
<ellipse cx="63.2" cy="81.1" rx="4.8" ry="2.2" fill="#40b8a8"/>
<ellipse cx="63.3" cy="61.3" rx="3.5" ry="3.6" fill="#40a8b8"/>
<ellipse cx="62.1" cy="68.8" rx="4.1" ry="3.9" fill="#40a8b8"/>
<ellipse cx="32.7" cy="63.1" rx="3.9" ry="4.1" fill="#4a6cc4"/>
<ellipse cx="41.5" cy="54.5" rx="4.8" ry="2.7" fill="#38c0b0"/>
<ellipse cx="17.5" cy="55.1" rx="2.5" ry="2.9" fill="#38c0b0"/>
<ellipse cx="33.1" cy="71.1" rx="3.0" ry="3.4" fill="#5a5ab4"/>
<ellipse cx="47.0" cy="83.1" rx="2.5" ry="2.9" fill="#6a6aa8"/>
<ellipse cx="45.8" cy="61.4" rx="2.8" ry="3.5" fill="#4a6cc4"/>
<ellipse cx="49.5" cy="45.6" rx="3.0" ry="2.7" fill="#4a6cc4"/>
<ellipse cx="41.8" cy="64.2" rx="2.3" ry="2.5" fill="#6a6aa8"/>
<ellipse cx="64.8" cy="60.7" rx="4.1" ry="2.9" fill="#40a8b8"/>
<ellipse cx="30.3" cy="74.6" rx="3.2" ry="5.0" fill="#38c0b0"/>
<ellipse cx="25.9" cy="41.0" rx="4.1" ry="2.6" fill="#5a5ab4"/>
<ellipse cx="40.4" cy="44.5" rx="2.4" ry="4.1" fill="#4a6cc4"/>
<ellipse cx="32.9" cy="66.1" rx="4.8" ry="2.9" fill="#4a6cc4"/>
<ellipse cx="16.5" cy="62.9" rx="2.5" ry="4.1" fill="#4a6cc4"/>
<ellipse cx="28.9" cy="71.6" rx="4.2" ry="4.3" fill="#40b8a8"/>
<ellipse cx="39.3" cy="58.8" rx="2.7" ry="4.9" fill="#40b8a8"/>
<ellipse cx="50.3" cy="51.5" rx="2.8" ry="3.5" fill="#4a6cc4"/>
<ellipse cx="40.6" cy="82.4" rx="2.2" ry="2.7" fill="#6a6aa8"/>
<ellipse cx="54.5" cy="77.7" rx="2.4" ry="3.0" fill="#40b8a8"/>
<ellipse cx="22.3" cy="72.1" rx="3.0" ry="2.8" fill="#4a6cc4"/>
<ellipse cx="13.1" cy="46.8" rx="4.4" ry="4.2" fill="#40b8a8"/>
<ellipse cx="58.5" cy="72.6" rx="4.9" ry="4.0" fill="#4a6cc4"/>
<ellipse cx="35.1" cy="69.9" rx="4.6" ry="4.2" fill="#6a6aa8"/>
<ellipse cx="56.3" cy="69.3" rx="3.7" ry="4.0" fill="#4a6cc4"/>
<ellipse cx="22.0" cy="52.3" rx="2.4" ry="3.2" fill="#40a8b8"/>
<ellipse cx="12.0" cy="72.3" rx="4.6" ry="3.2" fill="#5a5ab4"/>
<ellipse cx="64.6" cy="53.4" rx="4.0" ry="3.6" fill="#5a5ab4"/>
<ellipse cx="56.1" cy="65.1" rx="2.9" ry="4.0" fill="#40a8b8"/>
<ellipse cx="32.6" cy="45.4" rx="4.8" ry="2.8" fill="#40a8b8"/>
<ellipse cx="34.2" cy="66.6" rx="2.3" ry="3.0" fill="#40b8a8"/>
<ellipse cx="53.0" cy="67.3" rx="3.9" ry="2.7" fill="#40a8b8"/>
<ellipse cx="13.7" cy="50.0" rx="3.3" ry="3.5" fill="#40a8b8"/>
<ellipse cx="48.5" cy="78.0" rx="3.1" ry="4.4" fill="#6a6aa8"/>
<ellipse cx="50.7" cy="48.0" rx="3.9" ry="2.7" fill="#5a5ab4"/>
<ellipse cx="16.5" cy="76.6" rx="4.6" ry="5.0" fill="#40b8a8"/>
<ellipse cx="54.5" cy="43.8" rx="3.8" ry="4.0" fill="#40a8b8"/>
<ellipse cx="39.4" cy="57.9" rx="4.6" ry="5.0" fill="#40a8b8"/>
<ellipse cx="41.2" cy="47.8" rx="4.2" ry="3.7" fill="#5a5ab4"/>
<ellipse cx="54.3" cy="67.1" rx="2.7" ry="4.6" fill="#5a5ab4"/>
<ellipse cx="41.3" cy="76.8" rx="2.2" ry="4.8" fill="#40b8a8"/>
<ellipse cx="11.8" cy="41.5" rx="4.2" ry="3.1" fill="#40b8a8"/>
<ellipse cx="44.0" cy="59.0" rx="4.6" ry="4.8" fill="#6a6aa8"/>
<ellipse cx="27.1" cy="74.3" rx="2.5" ry="2.8" fill="#5a5ab4"/>
<ellipse cx="35.2" cy="71.0" rx="2.5" ry="4.4" fill="#38c0b0"/>
<ellipse cx="40.6" cy="48.9" rx="3.4" ry="3.3" fill="#40b8a8"/>
<ellipse cx="58.0" cy="77.5" rx="3.1" ry="4.4" fill="#4a6cc4"/>
<ellipse cx="12.3" cy="52.3" rx="4.7" ry="3.6" fill="#40b8a8"/>
<ellipse cx="34.9" cy="75.1" rx="4.5" ry="3.5" fill="#5a5ab4"/>
<ellipse cx="39.6" cy="54.5" rx="3.7" ry="4.5" fill="#4a6cc4"/>
<ellipse cx="45.4" cy="60.7" rx="4.2" ry="4.1" fill="#5a5ab4"/>
<ellipse cx="33.7" cy="62.0" rx="3.5" ry="4.8" fill="#4a6cc4"/>
<ellipse cx="16.3" cy="82.0" rx="2.3" ry="4.5" fill="#40b8a8"/>
<ellipse cx="42.7" cy="51.6" rx="4.8" ry="3.6" fill="#4a6cc4"/>
<ellipse cx="62.5" cy="59.2" rx="3.2" ry="2.9" fill="#5a5ab4"/>
</g></g>
<ellipse cx="30" cy="58" rx="8" ry="8" fill="url(#gP)" opacity="1" />
<ellipse cx="45" cy="65" rx="8" ry="8" fill="url(#gT)" opacity="1" />
<ellipse cx="61.2" cy="61.5" rx="2.5" ry="4" fill="#f4f4ff" opacity="1" filter="url(#b1_2)" />
<ellipse cx="65.8" cy="66" rx="3" ry="4.5" fill="#1050ff" opacity="1" filter="url(#b1_2)" />
<path d="M68 92 C76 84 84 78 92 71.8" fill="none" stroke="#fff" stroke-width="2" opacity="1" />
</g>
</g></g>
<g transform="translate(526.3,598.2)"><g clip-path="url(#c29)"><rect x="0" y="0" width="89.5" height="89.3" fill="#000"/>
<g filter="url(#soft)">
<path d="M45.3 3.2 C54 3.2 62 3.5 68 4.4 C73 7 77 9 79.4 11.2 C82 18 83 24 84 28.3 C85 36 86 41 86.3 45.4 C85 55 83 62 81.7 68.1 C80 75 78.5 80 77.1 86.4 L77 92 L-2 92 L-2 55 C1 55 3 55 4.3 54.5 C4.5 49 5 44 5.4 39.7 C7 32 9 27 11.1 22.6 C14 17 18 13 22.5 10 C30 5 38 3.2 45.3 3.2Z" fill="#0818ff" stroke="#0818ff" stroke-width="5" opacity="1" filter="url(#b0_8)" paint-order="stroke" />
<path d="M45.3 3.2 C54 3.2 62 3.5 68 4.4 C73 7 77 9 79.4 11.2 C82 18 83 24 84 28.3 C85 36 86 41 86.3 45.4 C85 55 83 62 81.7 68.1 C80 75 78.5 80 77.1 86.4 L77 92 L-2 92 L-2 55 C1 55 3 55 4.3 54.5 C4.5 49 5 44 5.4 39.7 C7 32 9 27 11.1 22.6 C14 17 18 13 22.5 10 C30 5 38 3.2 45.3 3.2Z" fill="#00e8ff" stroke="#00e8ff" stroke-width="2.2" opacity="1" filter="url(#b0_6)" paint-order="stroke" />
<path d="M45.3 3.2 C54 3.2 62 3.5 68 4.4 C73 7 77 9 79.4 11.2 C82 18 83 24 84 28.3 C85 36 86 41 86.3 45.4 C85 55 83 62 81.7 68.1 C80 75 78.5 80 77.1 86.4 L77 92 L-2 92 L-2 55 C1 55 3 55 4.3 54.5 C4.5 49 5 44 5.4 39.7 C7 32 9 27 11.1 22.6 C14 17 18 13 22.5 10 C30 5 38 3.2 45.3 3.2Z" fill="#b0e058" stroke="none" stroke-width="1" opacity="1" filter="url(#b0_6)" />
<ellipse cx="20.2" cy="77.2" rx="7" ry="11" fill="url(#gRY)" opacity="1" />
<ellipse cx="58.9" cy="66" rx="5" ry="11" fill="url(#gRY)" opacity="1" />
<ellipse cx="63.5" cy="79.5" rx="5" ry="8" fill="url(#gRY)" opacity="1" />
<ellipse cx="79.4" cy="34" rx="4" ry="15" fill="url(#gRY)" opacity="1" />
<ellipse cx="21.3" cy="45.4" rx="3.5" ry="3.5" fill="url(#gG)" opacity="1" />
<ellipse cx="57.8" cy="47.6" rx="6" ry="5" fill="url(#gG)" opacity="1" />
<ellipse cx="57.8" cy="47.6" rx="3" ry="2.5" fill="url(#gC)" opacity="1" />
<ellipse cx="10" cy="55" rx="5" ry="12" fill="url(#gY)" opacity="1" />
<ellipse cx="70" cy="60" rx="5" ry="14" fill="url(#gY)" opacity="1" />
<ellipse cx="20.2" cy="77.2" rx="4.8999999999999995" ry="7.699999999999999" fill="#e62222" opacity="1" filter="url(#b0_6)" />
<ellipse cx="58.9" cy="66" rx="3.5" ry="7.699999999999999" fill="#e62222" opacity="1" filter="url(#b0_6)" />
<ellipse cx="63.5" cy="79.5" rx="3.5" ry="5.6" fill="#e62222" opacity="1" filter="url(#b0_6)" />
<ellipse cx="79.4" cy="34" rx="2.8" ry="10.5" fill="#e62222" opacity="1" filter="url(#b0_6)" />
<path d="M51 56.7 C46 66 40 78 34 90" fill="none" stroke="#b8f4f0" stroke-width="5" opacity="1" filter="url(#b1)" />
<path d="M19.1 28.3 C19.1 16 30 10 45.3 10 C60 10 70.3 16 70.3 28.3 C70.3 38 62 47.6 45.3 47.6 C28 47.6 19.1 38 19.1 28.3Z" fill="#40aca8" stroke="#b8f4c8" stroke-width="7" opacity="1" filter="url(#b0_6)" paint-order="stroke" />
<g clip-path="url(#bt20)"><g filter="url(#b1)" opacity="0.6">
<ellipse cx="27.7" cy="27.1" rx="4.3" ry="3.5" fill="#4a6cc4"/>
<ellipse cx="66.2" cy="42.3" rx="3.6" ry="3.4" fill="#6a6aa8"/>
<ellipse cx="46.2" cy="36.6" rx="4.9" ry="2.8" fill="#5a5ab4"/>
<ellipse cx="68.5" cy="47.2" rx="2.3" ry="4.3" fill="#38c0b0"/>
<ellipse cx="42.4" cy="38.4" rx="4.4" ry="2.3" fill="#40b8a8"/>
<ellipse cx="30.8" cy="21.8" rx="3.4" ry="4.6" fill="#5a5ab4"/>
<ellipse cx="21.1" cy="37.5" rx="2.7" ry="3.9" fill="#4a6cc4"/>
<ellipse cx="51.1" cy="28.2" rx="2.5" ry="4.5" fill="#6a6aa8"/>
<ellipse cx="69.0" cy="17.6" rx="3.3" ry="4.1" fill="#4a6cc4"/>
<ellipse cx="36.7" cy="25.2" rx="2.7" ry="2.6" fill="#6a6aa8"/>
<ellipse cx="23.1" cy="23.8" rx="4.6" ry="4.1" fill="#4a6cc4"/>
<ellipse cx="25.8" cy="20.8" rx="2.9" ry="4.0" fill="#40b8a8"/>
<ellipse cx="38.1" cy="18.8" rx="3.5" ry="4.8" fill="#40b8a8"/>
<ellipse cx="53.8" cy="20.8" rx="2.2" ry="3.9" fill="#40b8a8"/>
<ellipse cx="31.3" cy="36.5" rx="4.0" ry="2.3" fill="#5a5ab4"/>
<ellipse cx="65.7" cy="21.1" rx="3.4" ry="2.3" fill="#6a6aa8"/>
<ellipse cx="66.5" cy="41.1" rx="4.3" ry="3.9" fill="#40b8a8"/>
<ellipse cx="22.4" cy="12.2" rx="2.6" ry="3.0" fill="#5a5ab4"/>
<ellipse cx="57.1" cy="12.0" rx="2.2" ry="4.8" fill="#38c0b0"/>
<ellipse cx="28.7" cy="46.9" rx="2.5" ry="3.6" fill="#38c0b0"/>
<ellipse cx="39.9" cy="39.4" rx="4.5" ry="4.0" fill="#40a8b8"/>
<ellipse cx="68.6" cy="14.9" rx="3.1" ry="3.3" fill="#4a6cc4"/>
<ellipse cx="41.5" cy="16.9" rx="3.2" ry="4.9" fill="#4a6cc4"/>
<ellipse cx="30.9" cy="22.2" rx="2.2" ry="4.9" fill="#38c0b0"/>
<ellipse cx="47.3" cy="29.6" rx="4.0" ry="3.9" fill="#38c0b0"/>
<ellipse cx="25.7" cy="36.1" rx="3.1" ry="2.9" fill="#38c0b0"/>
<ellipse cx="64.8" cy="18.7" rx="3.6" ry="3.5" fill="#38c0b0"/>
<ellipse cx="67.7" cy="46.9" rx="3.1" ry="2.7" fill="#6a6aa8"/>
<ellipse cx="27.3" cy="24.1" rx="4.9" ry="3.2" fill="#38c0b0"/>
<ellipse cx="55.2" cy="36.0" rx="4.3" ry="5.0" fill="#4a6cc4"/>
<ellipse cx="43.0" cy="36.9" rx="4.2" ry="2.6" fill="#38c0b0"/>
<ellipse cx="19.3" cy="37.0" rx="2.3" ry="3.8" fill="#5a5ab4"/>
<ellipse cx="34.8" cy="10.5" rx="3.4" ry="2.4" fill="#40a8b8"/>
<ellipse cx="45.9" cy="44.2" rx="4.2" ry="5.0" fill="#40b8a8"/>
<ellipse cx="28.1" cy="25.9" rx="2.4" ry="4.7" fill="#40a8b8"/>
<ellipse cx="51.2" cy="21.3" rx="4.4" ry="4.2" fill="#6a6aa8"/>
<ellipse cx="58.0" cy="23.0" rx="3.1" ry="3.3" fill="#5a5ab4"/>
<ellipse cx="58.5" cy="16.5" rx="3.3" ry="5.0" fill="#5a5ab4"/>
<ellipse cx="30.7" cy="24.8" rx="4.9" ry="3.5" fill="#4a6cc4"/>
<ellipse cx="49.0" cy="23.0" rx="2.7" ry="3.3" fill="#4a6cc4"/>
<ellipse cx="28.4" cy="10.2" rx="3.2" ry="3.5" fill="#40a8b8"/>
<ellipse cx="38.2" cy="17.6" rx="5.0" ry="2.5" fill="#4a6cc4"/>
<ellipse cx="40.8" cy="19.9" rx="4.8" ry="4.9" fill="#4a6cc4"/>
<ellipse cx="28.4" cy="40.3" rx="4.4" ry="5.0" fill="#40b8a8"/>
<ellipse cx="28.4" cy="45.3" rx="2.9" ry="2.7" fill="#5a5ab4"/>
<ellipse cx="43.1" cy="44.7" rx="5.0" ry="4.2" fill="#4a6cc4"/>
<ellipse cx="46.7" cy="40.6" rx="4.5" ry="4.8" fill="#4a6cc4"/>
<ellipse cx="67.4" cy="20.5" rx="4.2" ry="4.8" fill="#4a6cc4"/>
</g></g>
<ellipse cx="29.3" cy="47.6" rx="5.5" ry="4" fill="#e8fcf0" opacity="1" filter="url(#b1_2)" />
<ellipse cx="39.6" cy="49.9" rx="5.5" ry="4" fill="#e8fcf0" opacity="1" filter="url(#b1_2)" />
<ellipse cx="34" cy="26" rx="6" ry="5" fill="url(#gP)" opacity="1" />
<ellipse cx="53" cy="19" rx="5" ry="6" fill="url(#gP)" opacity="1" />
<ellipse cx="48" cy="36" rx="6" ry="5" fill="url(#gP)" opacity="1" />
</g>
</g></g>
<g transform="translate(621,600.8)"><g clip-path="url(#c30)"><rect x="0" y="0" width="90" height="90.1" fill="#000"/>
<g filter="url(#soft)">
<path d="M50.3 2 C56 2.5 62 3.5 67.3 4.9 C73 8 77 11 81 14 C85 17 87 19 89 22 C88.5 26 88 30 87.8 33.4 C87 40 86.5 46 85.6 50.5 C84 57 82.5 62 81 67.5 C79 73 77.5 77 76.4 81.2 C74.5 85 73 88 71.9 92 L-2 92 L-2 70 C1 67 2.5 64 3.6 61.8 C5 56 6.5 50 8.1 44.8 C9.5 38 11 32 12.7 27.7 C15 22 18 17 21.8 12.9 C25 10 29 8 33.2 6 C38 3.5 44 2 50.3 2Z" fill="#0818ff" stroke="#0818ff" stroke-width="5" opacity="1" filter="url(#b0_8)" paint-order="stroke" />
<path d="M50.3 2 C56 2.5 62 3.5 67.3 4.9 C73 8 77 11 81 14 C85 17 87 19 89 22 C88.5 26 88 30 87.8 33.4 C87 40 86.5 46 85.6 50.5 C84 57 82.5 62 81 67.5 C79 73 77.5 77 76.4 81.2 C74.5 85 73 88 71.9 92 L-2 92 L-2 70 C1 67 2.5 64 3.6 61.8 C5 56 6.5 50 8.1 44.8 C9.5 38 11 32 12.7 27.7 C15 22 18 17 21.8 12.9 C25 10 29 8 33.2 6 C38 3.5 44 2 50.3 2Z" fill="#00e8ff" stroke="#00e8ff" stroke-width="2.2" opacity="1" filter="url(#b0_6)" paint-order="stroke" />
<path d="M50.3 2 C56 2.5 62 3.5 67.3 4.9 C73 8 77 11 81 14 C85 17 87 19 89 22 C88.5 26 88 30 87.8 33.4 C87 40 86.5 46 85.6 50.5 C84 57 82.5 62 81 67.5 C79 73 77.5 77 76.4 81.2 C74.5 85 73 88 71.9 92 L-2 92 L-2 70 C1 67 2.5 64 3.6 61.8 C5 56 6.5 50 8.1 44.8 C9.5 38 11 32 12.7 27.7 C15 22 18 17 21.8 12.9 C25 10 29 8 33.2 6 C38 3.5 44 2 50.3 2Z" fill="#b0e070" stroke="none" stroke-width="1" opacity="1" filter="url(#b0_6)" />
<ellipse cx="33.2" cy="84.6" rx="13" ry="7" fill="url(#gRY)" opacity="1" />
<ellipse cx="86.7" cy="26.5" rx="3.5" ry="5.5" fill="url(#gRY)" opacity="1" />
<ellipse cx="77.6" cy="43.6" rx="6" ry="6" fill="url(#gB)" opacity="1" />
<ellipse cx="42.3" cy="65.3" rx="5" ry="5" fill="url(#gRY)" opacity="1" />
<ellipse cx="20.6" cy="58.4" rx="3.5" ry="3.5" fill="url(#gRY)" opacity="1" />
<ellipse cx="44.6" cy="55" rx="4" ry="4" fill="url(#gG)" opacity="1" />
<ellipse cx="55" cy="60" rx="8" ry="5" fill="url(#gY)" opacity="1" />
<ellipse cx="72" cy="62" rx="6" ry="10" fill="url(#gL)" opacity="1" />
<ellipse cx="55" cy="75" rx="10" ry="4" fill="url(#gL)" opacity="1" />
<ellipse cx="33.2" cy="84.6" rx="9.1" ry="4.8999999999999995" fill="#e62222" opacity="1" filter="url(#b0_6)" />
<ellipse cx="86.7" cy="26.5" rx="2.4499999999999997" ry="3.8499999999999996" fill="#e62222" opacity="1" filter="url(#b0_6)" />
<ellipse cx="42.3" cy="65.3" rx="3.5" ry="3.5" fill="#e62222" opacity="1" filter="url(#b0_6)" />
<ellipse cx="20.6" cy="58.4" rx="2.4499999999999997" ry="2.4499999999999997" fill="#e62222" opacity="1" filter="url(#b0_6)" />
<path d="M15 33.4 C15 20 28 14 44.6 14 C62 14 74 18 76.4 26.5 C74 30 70 32 67.3 33.4 C60 38 54 42 50.3 44.8 C47 48 46 51 44.6 53.9 C38 55 32 56 27.5 56.1 C23 54 21 51 19.5 48.2 C16.5 44 15 38 15 33.4Z" fill="#4a8cb8" stroke="#c0f4c8" stroke-width="6" opacity="1" filter="url(#b0_6)" paint-order="stroke" />
<g clip-path="url(#bt21)"><g filter="url(#b1)" opacity="0.6">
<ellipse cx="64.0" cy="36.2" rx="2.5" ry="2.9" fill="#40b8a8"/>
<ellipse cx="70.2" cy="39.8" rx="2.8" ry="4.3" fill="#38c0b0"/>
<ellipse cx="50.7" cy="52.3" rx="3.7" ry="3.2" fill="#40b8a8"/>
<ellipse cx="61.7" cy="17.0" rx="3.1" ry="3.9" fill="#6a6aa8"/>
<ellipse cx="46.3" cy="36.1" rx="3.1" ry="2.7" fill="#40a8b8"/>
<ellipse cx="69.3" cy="41.2" rx="3.0" ry="3.1" fill="#5a5ab4"/>
<ellipse cx="72.2" cy="22.4" rx="2.4" ry="2.8" fill="#40a8b8"/>
<ellipse cx="70.0" cy="51.2" rx="2.3" ry="4.3" fill="#38c0b0"/>
<ellipse cx="40.5" cy="22.8" rx="3.4" ry="3.4" fill="#40a8b8"/>
<ellipse cx="20.9" cy="25.2" rx="3.5" ry="4.1" fill="#38c0b0"/>
<ellipse cx="26.4" cy="52.7" rx="4.5" ry="4.4" fill="#40b8a8"/>
<ellipse cx="65.7" cy="37.8" rx="4.2" ry="2.6" fill="#6a6aa8"/>
<ellipse cx="44.6" cy="26.3" rx="3.5" ry="3.6" fill="#6a6aa8"/>
<ellipse cx="60.1" cy="23.2" rx="4.7" ry="3.0" fill="#40b8a8"/>
<ellipse cx="61.6" cy="31.4" rx="4.7" ry="2.8" fill="#6a6aa8"/>
<ellipse cx="52.8" cy="42.9" rx="4.3" ry="4.5" fill="#40a8b8"/>
<ellipse cx="71.4" cy="38.3" rx="2.5" ry="3.3" fill="#40a8b8"/>
<ellipse cx="33.7" cy="30.6" rx="4.7" ry="2.8" fill="#4a6cc4"/>
<ellipse cx="28.8" cy="34.2" rx="2.5" ry="4.0" fill="#4a6cc4"/>
<ellipse cx="57.0" cy="55.7" rx="4.4" ry="4.8" fill="#40b8a8"/>
<ellipse cx="33.4" cy="40.5" rx="3.6" ry="2.6" fill="#4a6cc4"/>
<ellipse cx="34.8" cy="22.4" rx="3.0" ry="3.1" fill="#6a6aa8"/>
<ellipse cx="43.1" cy="55.6" rx="4.2" ry="3.4" fill="#6a6aa8"/>
<ellipse cx="25.3" cy="51.2" rx="3.9" ry="4.9" fill="#40b8a8"/>
<ellipse cx="75.4" cy="45.4" rx="4.9" ry="4.0" fill="#38c0b0"/>
<ellipse cx="42.3" cy="39.2" rx="3.2" ry="2.3" fill="#38c0b0"/>
<ellipse cx="75.8" cy="21.7" rx="2.6" ry="2.7" fill="#40b8a8"/>
<ellipse cx="50.6" cy="34.2" rx="3.8" ry="2.3" fill="#40b8a8"/>
<ellipse cx="39.9" cy="50.8" rx="2.4" ry="4.0" fill="#40a8b8"/>
<ellipse cx="71.2" cy="19.5" rx="3.5" ry="2.7" fill="#40b8a8"/>
<ellipse cx="16.0" cy="37.2" rx="3.9" ry="4.3" fill="#4a6cc4"/>
<ellipse cx="72.1" cy="52.2" rx="3.7" ry="3.2" fill="#4a6cc4"/>
<ellipse cx="28.8" cy="50.8" rx="4.8" ry="3.5" fill="#40a8b8"/>
<ellipse cx="49.4" cy="40.3" rx="3.9" ry="4.2" fill="#4a6cc4"/>
<ellipse cx="31.7" cy="39.7" rx="2.3" ry="3.7" fill="#4a6cc4"/>
<ellipse cx="20.4" cy="38.7" rx="2.6" ry="3.0" fill="#6a6aa8"/>
<ellipse cx="39.6" cy="40.6" rx="3.4" ry="3.0" fill="#6a6aa8"/>
<ellipse cx="65.0" cy="33.7" rx="4.3" ry="3.4" fill="#5a5ab4"/>
<ellipse cx="27.1" cy="20.4" rx="4.1" ry="3.0" fill="#38c0b0"/>
<ellipse cx="42.8" cy="29.4" rx="3.0" ry="4.0" fill="#4a6cc4"/>
<ellipse cx="29.0" cy="49.8" rx="4.5" ry="3.2" fill="#6a6aa8"/>
<ellipse cx="26.7" cy="21.9" rx="2.7" ry="3.2" fill="#4a6cc4"/>
<ellipse cx="41.2" cy="49.3" rx="2.7" ry="2.9" fill="#40b8a8"/>
<ellipse cx="60.2" cy="35.7" rx="4.8" ry="4.4" fill="#5a5ab4"/>
<ellipse cx="46.9" cy="36.7" rx="3.9" ry="3.9" fill="#5a5ab4"/>
<ellipse cx="40.4" cy="50.6" rx="4.1" ry="2.3" fill="#40a8b8"/>
<ellipse cx="22.5" cy="35.2" rx="4.6" ry="4.1" fill="#40b8a8"/>
<ellipse cx="24.1" cy="55.3" rx="3.5" ry="4.3" fill="#5a5ab4"/>
<ellipse cx="39.3" cy="46.6" rx="4.5" ry="4.2" fill="#4a6cc4"/>
<ellipse cx="51.4" cy="49.3" rx="2.9" ry="4.8" fill="#5a5ab4"/>
<ellipse cx="16.6" cy="25.6" rx="3.8" ry="3.9" fill="#5a5ab4"/>
<ellipse cx="62.3" cy="42.8" rx="4.2" ry="2.6" fill="#4a6cc4"/>
<ellipse cx="42.8" cy="24.8" rx="4.2" ry="3.2" fill="#40a8b8"/>
<ellipse cx="71.5" cy="15.7" rx="2.5" ry="2.9" fill="#5a5ab4"/>
<ellipse cx="68.8" cy="18.5" rx="2.4" ry="3.5" fill="#5a5ab4"/>
<ellipse cx="55.0" cy="22.0" rx="2.5" ry="4.0" fill="#40a8b8"/>
<ellipse cx="70.1" cy="24.0" rx="3.0" ry="4.5" fill="#40a8b8"/>
<ellipse cx="48.9" cy="18.7" rx="3.3" ry="4.7" fill="#5a5ab4"/>
<ellipse cx="52.6" cy="35.9" rx="3.6" ry="3.7" fill="#38c0b0"/>
<ellipse cx="68.1" cy="22.6" rx="2.7" ry="3.6" fill="#6a6aa8"/>
</g></g>
<ellipse cx="30" cy="30" rx="7" ry="6" fill="url(#gP)" opacity="1" />
<ellipse cx="48" cy="26" rx="7" ry="6" fill="url(#gP)" opacity="1" />
<ellipse cx="38" cy="42" rx="6" ry="5" fill="url(#gT)" opacity="1" />
<ellipse cx="60" cy="24" rx="6" ry="4" fill="url(#gT)" opacity="1" />
<path d="M9.3 -1 C9 12 7 26 1.3 37.9 L-1 40" fill="none" stroke="#fff" stroke-width="1.8" opacity="1" />
</g>
</g></g>
<path d="M46.5 415.3V595.9M46.5 602.8V783.6" stroke="#000" stroke-width="1.7"/>
<path d="M399.5 413V684.8" stroke="#000" stroke-width="3"/>
<text x="62.2" y="396" font-size="13.9" text-anchor="start" >Transverse</text>
<text x="174.6" y="396.9" font-size="13.8" text-anchor="start" >Coronal</text>
<text x="278.2" y="396.9" font-size="13.7" text-anchor="start" >Sagittal</text>
<text x="419.3" y="395.5" font-size="13.9" text-anchor="start" >Transverse</text>
<text x="526.8" y="397.3" font-size="13.8" text-anchor="start" >Coronal</text>
<text x="630.3" y="397.3" font-size="13.8" text-anchor="start" >Sagittal</text>
<text x="0" y="0" font-size="14.2" text-anchor="middle" transform="translate(33.2,506.6) rotate(-90)" >Control</text>
<text x="0" y="0" font-size="14.2" text-anchor="middle" transform="translate(33.2,695.2) rotate(-90)" >PFFs</text>
<text x="0" y="0" font-size="14.2" text-anchor="middle" transform="translate(389,555.2) rotate(-90)" >Virus</text>
<rect x="718" y="407" width="14.8" height="284.2" fill="url(#cb)"/>
<text x="737.5" y="412.8" font-size="14" text-anchor="start" style="font-family:'Liberation Serif',serif">4</text>
<text x="738.3" y="699.7" font-size="13.5" text-anchor="start" >0</text>
</svg>
</body></html>
